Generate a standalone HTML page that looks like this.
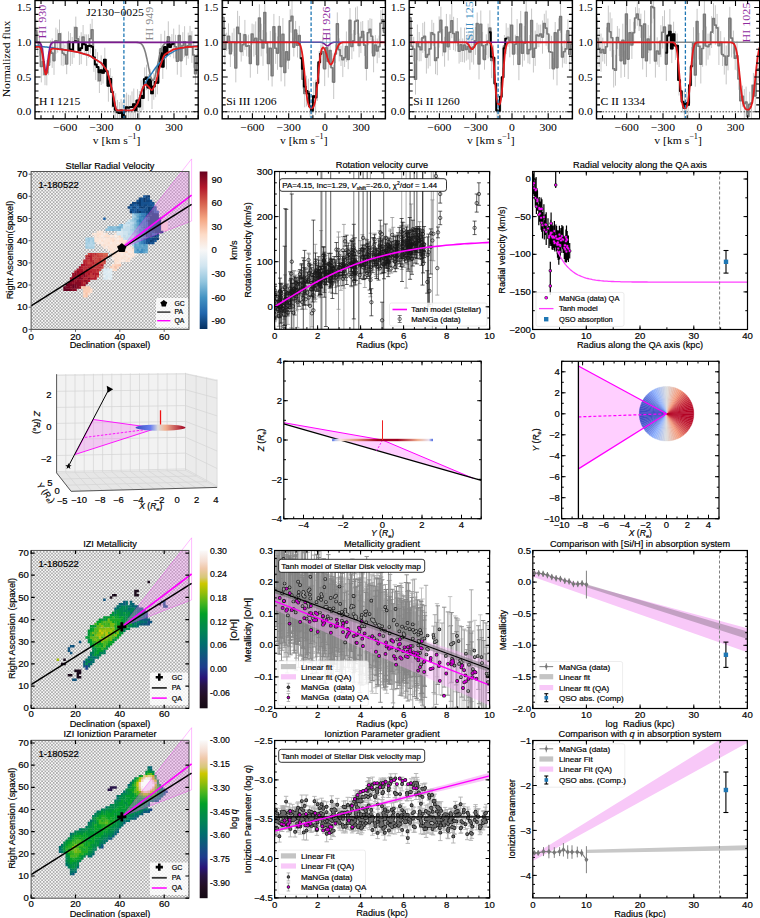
<!DOCTYPE html><html><head><meta charset="utf-8"><style>html,body{margin:0;padding:0;background:#fff;}svg{display:block;}</style></head><body>
<svg width="760" height="918" viewBox="0 0 760 918">
<clipPath id="c1"><rect x="35" y="0.5" width="163.2" height="118.3"/></clipPath>
<g clip-path="url(#c1)">
<path d="M35.9 41.7V19.2M37.7 53.8V31.8M39.5 56.4V35.8M41.3 82.4V50.5M43.2 75.7V47.3M45 85.2V63.7M46.8 85.4V60.2M48.6 75.2V55M50.4 62.7V40.3M52.2 67.9V38.3M54 74.9V46.3M55.9 53.9V27.7M57.7 52.7V29.4M59.5 48V19.5M61.3 65.4V32.6M63.1 66.1V40.5M64.9 65V44.6M66.7 74.2V53.9M68.5 52V31.4M70.4 65.9V33M72.2 64V37M74 57.7V26.5M75.8 38.4V16.6M77.6 50.4V27.3M79.4 65V35.8M81.2 64.2V32.2M83.1 49.2V25M84.9 54.6V34.2M86.7 65.9V34.4M88.5 57.8V34.3M90.3 53.6V23.8M92.1 40.5V18.9M93.9 71.9V42.8M95.7 80.1V48.9M97.6 81.8V52.2M99.4 93V68.5M101.2 85V55.4M103 83.6V62.2M104.8 71.5V47.7M106.6 83.9V58.6M108.4 101.7V70M110.3 89.8V68.2M112.1 107.9V76.2M113.9 121.2V90.6M115.7 126.2V93.2M117.5 124.5V99.9M119.3 124.3V102M121.1 121.8V98.9M122.9 132.8V101.8M124.8 127.7V94.8M126.6 122V92.7M128.4 120.9V94.7M130.2 118.8V95.3M132 122.5V91.4M133.8 120.2V88.5M135.6 120.8V100M137.5 111.7V89.2M139.3 122.1V91M141.1 111.5V80.2M142.9 109.9V86.1M144.7 90.8V67.4M146.5 90.2V64.7M148.3 101.1V74.1M150.1 89.9V69.1M152 109V77.9M153.8 99.8V72.9M155.6 97.2V66.9M157.4 94.3V71.6M159.2 82.4V49.5M161 63.8V33.9M162.8 78.9V54.7M164.7 63.4V30.7M166.5 69.4V40.1M168.3 52.5V21.3M170.1 57.1V37M171.9 54.4V34.1M173.7 58.4V28.6M175.5 58.5V34.8M177.3 74.7V48M179.2 46.4V24.7M181 77.1V44M182.8 58.7V32.2M184.6 57.2V26.2M186.4 65.1V44.6M188.2 58.7V32.6M190 46.2V25.9M191.9 62.9V31.1M193.7 67.8V42.1M195.5 84V63.5M197.3 65.8V45.3" stroke="#c6c6c6" stroke-width="1" fill="none" />
<polyline points="35,30.4 36.8,30.4 36.8,42.8 38.6,42.8 38.6,46.1 40.4,46.1 40.4,66.5 42.3,66.5 42.3,61.5 44.1,61.5 44.1,74.5 45.9,74.5 45.9,72.8 47.7,72.8 47.7,65.1 49.5,65.1 49.5,51.5 51.3,51.5 51.3,53.1 53.1,53.1 53.1,60.6 54.9,60.6 54.9,40.8 56.8,40.8 56.8,41 58.6,41 58.6,33.8 60.4,33.8 60.4,49 62.2,49 62.2,53.3 64,53.3 64,54.8 65.8,54.8 65.8,64 67.6,64 67.6,41.7 69.5,41.7 69.5,49.5 71.3,49.5 71.3,50.5 73.1,50.5 73.1,42.1 74.9,42.1 74.9,27.5 76.7,27.5 76.7,38.9 78.5,38.9 78.5,50.4 80.3,50.4 80.3,48.2 82.1,48.2 82.1,37.1 84,37.1 84,44.4 85.8,44.4 85.8,50.1 87.6,50.1 87.6,46 89.4,46 89.4,38.7 91.2,38.7 91.2,29.7 93,29.7 93,57.4 94.8,57.4 94.8,64.5 96.7,64.5 96.7,67 98.5,67 98.5,80.7 100.3,80.7 100.3,70.2 102.1,70.2 102.1,72.9 103.9,72.9 103.9,59.6 105.7,59.6 105.7,71.2 107.5,71.2 107.5,85.9 109.3,85.9 109.3,79 111.2,79 111.2,92.1 113,92.1 113,105.9 114.8,105.9 114.8,109.7 116.6,109.7 116.6,112.2 118.4,112.2 118.4,113.1 120.2,113.1 120.2,110.4 122,110.4 122,117.3 123.9,117.3 123.9,111.3 125.7,111.3 125.7,107.3 127.5,107.3 127.5,107.8 129.3,107.8 129.3,107.1 131.1,107.1 131.1,107 132.9,107 132.9,104.3 134.7,104.3 134.7,110.4 136.5,110.4 136.5,100.5 138.4,100.5 138.4,106.5 140.2,106.5 140.2,95.8 142,95.8 142,98 143.8,98 143.8,79.1 145.6,79.1 145.6,77.5 147.4,77.5 147.4,87.6 149.2,87.6 149.2,79.5 151.1,79.5 151.1,93.4 152.9,93.4 152.9,86.4 154.7,86.4 154.7,82 156.5,82 156.5,82.9 158.3,82.9 158.3,65.9 160.1,65.9 160.1,48.8 161.9,48.8 161.9,66.8 163.7,66.8 163.7,47 165.6,47 165.6,54.8 167.4,54.8 167.4,36.9 169.2,36.9 169.2,47.1 171,47.1 171,44.2 172.8,44.2 172.8,43.5 174.6,43.5 174.6,46.7 176.4,46.7 176.4,61.3 178.3,61.3 178.3,35.6 180.1,35.6 180.1,60.6 181.9,60.6 181.9,45.5 183.7,45.5 183.7,41.7 185.5,41.7 185.5,54.9 187.3,54.9 187.3,45.7 189.1,45.7 189.1,36.1 190.9,36.1 190.9,47 192.8,47 192.8,55 194.6,55 194.6,73.8 196.4,73.8 196.4,55.5 198.2,55.5" fill="none" stroke="#7a7a7a" stroke-width="1.6" stroke-linejoin="round" stroke-linejoin="miter"/>
<polyline points="67.6,41.7 69.5,41.7 69.5,49.5 71.3,49.5 71.3,50.5 73.1,50.5 73.1,42.1 74.9,42.1 74.9,41.3 76.7,41.3 76.7,41.7 78.5,41.7 78.5,50.4 80.3,50.4 80.3,48.2 82.1,48.2 82.1,43.2 84,43.2 84,44.4 85.8,44.4 85.8,50.1 87.6,50.1 87.6,46 89.4,46 89.4,45.6 91.2,45.6 91.2,46.8 93,46.8 93,57.4 94.8,57.4 94.8,64.5 96.7,64.5 96.7,67 98.5,67 98.5,72.2 100.3,72.2 100.3,70.2 102.1,70.2 102.1,72.9 103.9,72.9 103.9,59.6 105.7,59.6 105.7,71.2 107.5,71.2 107.5,85.8 109.3,85.8 109.3,79 111.2,79 111.2,92.1 113,92.1 113,105.9 114.8,105.9 114.8,109.7 116.6,109.7 116.6,112.2 118.4,112.2 118.4,113.1 120.2,113.1 120.2,110.4 122,110.4 122,117.3 123.9,117.3 123.9,111.3 125.7,111.3 125.7,107.3 127.5,107.3 127.5,107.8 129.3,107.8 129.3,107.1 131.1,107.1 131.1,107 132.9,107 132.9,104.3 134.7,104.3 134.7,110.4 136.5,110.4 136.5,100.5 138.4,100.5 138.4,106.5 140.2,106.5 140.2,95.8 142,95.8 142,98 143.8,98 143.8,79.1 145.6,79.1 145.6,77.5 147.4,77.5 147.4,87.6 149.2,87.6 149.2,79.5 151.1,79.5 151.1,93.4 152.9,93.4 152.9,86.4 154.7,86.4 154.7,82 156.5,82 156.5,82.9 158.3,82.9 158.3,65.9 160.1,65.9 160.1,53.2 161.9,53.2 161.9,66.8 163.7,66.8 163.7,47 165.6,47 165.6,54.8 167.4,54.8 167.4,41.9 169.2,41.9 169.2,47.1 171,47.1 171,44.2 172.8,44.2 172.8,43.5 174.6,43.5" fill="none" stroke="#000" stroke-width="1.9" stroke-linejoin="round" stroke-linejoin="miter"/>
<line x1="35" y1="111.8" x2="198.2" y2="111.8" stroke="#444" stroke-width="1" stroke-dasharray="1.6,1.4"/>
<polyline points="35,42.3 35.5,42.3 36.1,42.3 36.6,42.3 37.2,42.3 37.7,42.3 38.3,42.3 38.8,42.3 39.4,42.3 39.9,42.3 40.5,42.3 41,42.3 41.5,42.3 42.1,42.3 42.6,42.3 43.2,42.3 43.7,42.3 44.3,42.3 44.8,42.3 45.4,42.3 45.9,42.3 46.5,42.3 47,42.3 47.6,42.3 48.1,42.3 48.6,42.3 49.2,42.3 49.7,42.3 50.3,42.3 50.8,42.3 51.4,42.3 51.9,42.3 52.5,42.3 53,42.3 53.6,42.3 54.1,42.3 54.6,42.3 55.2,42.3 55.7,42.3 56.3,42.3 56.8,42.3 57.4,42.3 57.9,42.3 58.5,42.3 59,42.3 59.6,42.3 60.1,42.3 60.7,42.3 61.2,42.3 61.7,42.3 62.3,42.3 62.8,42.3 63.4,42.3 63.9,42.3 64.5,42.3 65,42.3 65.6,42.3 66.1,42.3 66.7,42.3 67.2,42.3 67.7,42.3 68.3,42.3 68.8,42.3 69.4,42.3 69.9,42.3 70.5,42.3 71,42.3 71.6,42.3 72.1,42.3 72.7,42.3 73.2,42.3 73.8,42.3 74.3,42.3 74.8,42.3 75.4,42.3 75.9,42.3 76.5,42.3 77,42.3 77.6,42.3 78.1,42.3 78.7,42.3 79.2,42.3 79.8,42.3 80.3,42.3 80.8,42.3 81.4,42.3 81.9,42.3 82.5,42.3 83,42.3 83.6,42.3 84.1,42.3 84.7,42.3 85.2,42.3 85.8,42.3 86.3,42.3 86.9,42.3 87.4,42.3 87.9,42.3 88.5,42.3 89,42.3 89.6,42.3 90.1,42.3 90.7,42.3 91.2,42.3 91.8,42.3 92.3,42.3 92.9,42.3 93.4,42.3 93.9,42.3 94.5,42.3 95,42.3 95.6,42.3 96.1,42.3 96.7,42.3 97.2,42.3 97.8,42.3 98.3,42.3 98.9,42.3 99.4,42.3 100,42.3 100.5,42.3 101,42.3 101.6,42.3 102.1,42.3 102.7,42.3 103.2,42.3 103.8,42.3 104.3,42.3 104.9,42.3 105.4,42.3 106,42.3 106.5,42.3 107,42.3 107.6,42.3 108.1,42.3 108.7,42.3 109.2,42.3 109.8,42.3 110.3,42.3 110.9,42.3 111.4,42.3 112,42.3 112.5,42.3 113.1,42.3 113.6,42.3 114.1,42.3 114.7,42.3 115.2,42.3 115.8,42.3 116.3,42.3 116.9,42.3 117.4,42.3 118,42.3 118.5,42.3 119.1,42.3 119.6,42.3 120.1,42.3 120.7,42.3 121.2,42.3 121.8,42.3 122.3,42.3 122.9,42.3 123.4,42.3 124,42.3 124.5,42.3 125.1,42.3 125.6,42.3 126.2,42.3 126.7,42.3 127.2,42.3 127.8,42.3 128.3,42.3 128.9,42.3 129.4,42.3 130,42.3 130.5,42.3 131.1,42.3 131.6,42.3 132.2,42.3 132.7,42.3 133.2,42.3 133.8,42.3 134.3,42.3 134.9,42.3 135.4,42.3 136,42.3 136.5,42.3 137.1,42.4 137.6,42.4 138.2,42.5 138.7,42.6 139.3,42.7 139.8,42.9 140.3,43.2 140.9,43.5 141.4,44 142,44.6 142.5,45.3 143.1,46.2 143.6,47.3 144.2,48.6 144.7,50.2 145.3,52 145.8,54 146.3,56.2 146.9,58.7 147.4,61.3 148,64 148.5,66.8 149.1,69.5 149.6,72.1 150.2,74.5 150.7,76.5 151.3,78.3 151.8,79.5 152.4,80.3 152.9,80.5 153.4,80.2 154,79.4 154.5,78.1 155.1,76.3 155.6,74.2 156.2,71.8 156.7,69.2 157.3,66.5 157.8,63.7 158.4,61 158.9,58.4 159.4,56 160,53.7 160.5,51.7 161.1,50 161.6,48.5 162.2,47.2 162.7,46.1 163.3,45.2 163.8,44.5 164.4,43.9 164.9,43.5 165.5,43.2 166,42.9 166.5,42.7 167.1,42.6 167.6,42.5 168.2,42.4 168.7,42.4 169.3,42.3 169.8,42.3 170.4,42.3 170.9,42.3 171.5,42.3 172,42.3 172.5,42.3 173.1,42.3 173.6,42.3 174.2,42.3 174.7,42.3 175.3,42.3 175.8,42.3 176.4,42.3 176.9,42.3 177.5,42.3 178,42.3 178.6,42.3 179.1,42.3 179.6,42.3 180.2,42.3 180.7,42.3 181.3,42.3 181.8,42.3 182.4,42.3 182.9,42.3 183.5,42.3 184,42.3 184.6,42.3 185.1,42.3 185.6,42.3 186.2,42.3 186.7,42.3 187.3,42.3 187.8,42.3 188.4,42.3 188.9,42.3 189.5,42.3 190,42.3 190.6,42.3 191.1,42.3 191.7,42.3 192.2,42.3 192.7,42.3 193.3,42.3 193.8,42.3 194.4,42.3 194.9,42.3 195.5,42.3 196,42.3 196.6,42.3 197.1,42.3 197.7,42.3 198.2,42.3" fill="none" stroke="#808080" stroke-width="1.6" stroke-linejoin="round" />
<polyline points="35,45.8 35.5,45.8 36.1,45.9 36.6,45.9 37.2,46 37.7,46 38.3,46.1 38.8,46.2 39.4,46.2 39.9,46.3 40.5,46.4 41,46.4 41.5,46.5 42.1,46.5 42.6,46.6 43.2,46.7 43.7,46.7 44.3,46.8 44.8,46.9 45.4,46.9 45.9,47 46.5,47.1 47,47.1 47.6,47.2 48.1,47.2 48.6,47.3 49.2,47.4 49.7,47.4 50.3,47.5 50.8,47.6 51.4,47.6 51.9,47.7 52.5,47.7 53,47.8 53.6,47.9 54.1,48 54.6,48.1 55.2,48.2 55.7,48.3 56.3,48.4 56.8,48.5 57.4,48.6 57.9,48.6 58.5,48.7 59,48.8 59.6,48.9 60.1,49 60.7,49.1 61.2,49.2 61.7,49.3 62.3,49.4 62.8,49.5 63.4,49.6 63.9,49.7 64.5,49.8 65,49.9 65.6,50 66.1,50.1 66.7,50.2 67.2,50.2 67.7,50.3 68.3,50.4 68.8,50.5 69.4,50.6 69.9,50.7 70.5,50.8 71,50.9 71.6,51 72.1,51.1 72.7,51.2 73.2,51.3 73.8,51.4 74.3,51.5 74.8,51.6 75.4,51.7 75.9,51.8 76.5,51.9 77,52 77.6,52.1 78.1,52.2 78.7,52.4 79.2,52.5 79.8,52.7 80.3,52.9 80.8,53 81.4,53.2 81.9,53.3 82.5,53.5 83,53.6 83.6,53.8 84.1,54 84.7,54.1 85.2,54.3 85.8,54.4 86.3,54.6 86.9,54.7 87.4,54.9 87.9,55.1 88.5,55.2 89,55.4 89.6,55.7 90.1,56 90.7,56.3 91.2,56.6 91.8,57 92.3,57.3 92.9,57.7 93.4,58 93.9,58.4 94.5,58.7 95,59 95.6,59.4 96.1,59.7 96.7,60.1 97.2,60.4 97.8,60.8 98.3,61.1 98.9,61.5 99.4,61.8 100,62.2 100.5,62.5 101,62.9 101.6,63.4 102.1,64.1 102.7,64.8 103.2,65.5 103.8,66.3 104.3,67 104.9,67.8 105.4,68.5 106,69.3 106.5,70.1 107,71.1 107.6,72.5 108.1,74.2 108.7,76.3 109.2,78.5 109.8,80.8 110.3,83 110.9,85.3 111.4,87.6 112,89.8 112.5,92.1 113.1,94.5 113.6,97.1 114.1,99.9 114.7,102.9 115.2,105.8 115.8,108.1 116.3,109.6 116.9,110.2 117.4,110.4 118,110.4 118.5,110.4 119.1,110.4 119.6,110.4 120.1,110.4 120.7,110.4 121.2,110.4 121.8,110.4 122.3,110.4 122.9,110.4 123.4,110.4 124,110.4 124.5,110.4 125.1,110.4 125.6,110.4 126.2,110.4 126.7,110.4 127.2,110.4 127.8,110.4 128.3,110.4 128.9,110.4 129.4,110.4 130,110.4 130.5,110.4 131.1,110.4 131.6,110.4 132.2,110.4 132.7,110.2 133.2,109.8 133.8,109.1 134.3,108.4 134.9,107.6 135.4,106.8 136,106.1 136.5,105.2 137.1,104.4 137.6,103.3 138.2,102 138.7,100.4 139.3,98.7 139.8,97 140.3,95.3 140.9,93.6 141.4,91.9 142,90.2 142.5,88.7 143.1,87.4 143.6,86.3 144.2,85.2 144.7,84.2 145.3,83.2 145.8,82.2 146.3,81.2 146.9,80.2 147.4,79.3 148,78.4 148.5,77.6 149.1,76.9 149.6,76.1 150.2,75.4 150.7,74.7 151.3,73.9 151.8,73.2 152.4,72.4 152.9,71.6 153.4,70.8 154,70 154.5,69.3 155.1,68.5 155.6,67.7 156.2,67 156.7,66.4 157.3,65.7 157.8,65.1 158.4,64.5 158.9,63.8 159.4,63.2 160,62.6 160.5,62 161.1,61.3 161.6,60.7 162.2,60.2 162.7,59.7 163.3,59.2 163.8,58.7 164.4,58.3 164.9,57.8 165.5,57.3 166,56.8 166.5,56.4 167.1,55.9 167.6,55.4 168.2,55 168.7,54.5 169.3,54.1 169.8,53.7 170.4,53.4 170.9,53.1 171.5,52.8 172,52.5 172.5,52.1 173.1,51.8 173.6,51.5 174.2,51.2 174.7,50.9 175.3,50.6 175.8,50.3 176.4,50 176.9,49.8 177.5,49.6 178,49.5 178.6,49.3 179.1,49.1 179.6,49 180.2,48.8 180.7,48.7 181.3,48.5 181.8,48.4 182.4,48.2 182.9,48 183.5,47.9 184,47.7 184.6,47.6 185.1,47.4 185.6,47.3 186.2,47.2 186.7,47.1 187.3,47 187.8,46.9 188.4,46.9 188.9,46.8 189.5,46.7 190,46.7 190.6,46.6 191.1,46.5 191.7,46.5 192.2,46.4 192.7,46.4 193.3,46.3 193.8,46.2 194.4,46.2 194.9,46.1 195.5,46 196,46 196.6,45.9 197.1,45.9 197.7,45.8 198.2,45.8" fill="none" stroke="#2a7ab8" stroke-width="1.5" stroke-linejoin="round" />
<polyline points="35,42.3 35.5,42.3 36.1,42.3 36.6,42.3 37.2,42.3 37.7,42.3 38.3,42.3 38.8,42.4 39.4,42.6 39.9,42.9 40.5,43.6 41,44.6 41.5,46.3 42.1,48.7 42.6,51.9 43.2,55.8 43.7,60.2 44.3,64.5 44.8,68.2 45.4,70.7 45.9,71.5 46.5,70.5 47,67.8 47.6,64 48.1,59.6 48.6,55.3 49.2,51.4 49.7,48.3 50.3,46 50.8,44.5 51.4,43.5 51.9,42.9 52.5,42.6 53,42.4 53.6,42.3 54.1,42.3 54.6,42.3 55.2,42.3 55.7,42.3 56.3,42.3 56.8,42.3 57.4,42.3 57.9,42.3 58.5,42.3 59,42.3 59.6,42.3 60.1,42.3 60.7,42.3 61.2,42.3 61.7,42.3 62.3,42.3 62.8,42.3 63.4,42.3 63.9,42.3 64.5,42.3 65,42.3 65.6,42.3 66.1,42.3 66.7,42.3 67.2,42.3 67.7,42.3 68.3,42.3 68.8,42.3 69.4,42.3 69.9,42.3 70.5,42.3 71,42.3 71.6,42.3 72.1,42.3 72.7,42.3 73.2,42.3 73.8,42.3 74.3,42.3 74.8,42.3 75.4,42.3 75.9,42.3 76.5,42.3 77,42.3 77.6,42.3 78.1,42.3 78.7,42.3 79.2,42.3 79.8,42.3 80.3,42.3 80.8,42.3 81.4,42.3 81.9,42.3 82.5,42.3 83,42.3 83.6,42.3 84.1,42.3 84.7,42.3 85.2,42.3 85.8,42.3 86.3,42.3 86.9,42.3 87.4,42.3 87.9,42.3 88.5,42.3 89,42.3 89.6,42.3 90.1,42.3 90.7,42.3 91.2,42.3 91.8,42.3 92.3,42.3 92.9,42.3 93.4,42.3 93.9,42.3 94.5,42.3 95,42.3 95.6,42.3 96.1,42.3 96.7,42.3 97.2,42.3 97.8,42.3 98.3,42.3 98.9,42.3 99.4,42.3 100,42.3 100.5,42.3 101,42.3 101.6,42.3 102.1,42.3 102.7,42.3 103.2,42.3 103.8,42.3 104.3,42.3 104.9,42.3 105.4,42.3 106,42.3 106.5,42.3 107,42.3 107.6,42.3 108.1,42.3 108.7,42.3 109.2,42.3 109.8,42.3 110.3,42.3 110.9,42.3 111.4,42.3 112,42.3 112.5,42.3 113.1,42.3 113.6,42.3 114.1,42.3 114.7,42.3 115.2,42.3 115.8,42.3 116.3,42.3 116.9,42.3 117.4,42.3 118,42.3 118.5,42.3 119.1,42.3 119.6,42.3 120.1,42.3 120.7,42.3 121.2,42.3 121.8,42.3 122.3,42.3 122.9,42.3 123.4,42.3 124,42.3 124.5,42.3 125.1,42.3 125.6,42.3 126.2,42.3 126.7,42.3 127.2,42.3 127.8,42.3 128.3,42.3 128.9,42.3 129.4,42.3 130,42.3 130.5,42.3 131.1,42.3 131.6,42.3 132.2,42.3 132.7,42.3 133.2,42.3 133.8,42.3 134.3,42.3 134.9,42.3 135.4,42.3 136,42.3 136.5,42.3 137.1,42.3 137.6,42.3 138.2,42.3 138.7,42.3 139.3,42.3 139.8,42.3 140.3,42.3 140.9,42.3 141.4,42.3 142,42.3 142.5,42.3 143.1,42.3 143.6,42.3 144.2,42.3 144.7,42.3 145.3,42.3 145.8,42.3 146.3,42.3 146.9,42.3 147.4,42.3 148,42.3 148.5,42.3 149.1,42.3 149.6,42.3 150.2,42.3 150.7,42.3 151.3,42.3 151.8,42.3 152.4,42.3 152.9,42.3 153.4,42.3 154,42.3 154.5,42.3 155.1,42.3 155.6,42.3 156.2,42.3 156.7,42.3 157.3,42.3 157.8,42.3 158.4,42.3 158.9,42.3 159.4,42.3 160,42.3 160.5,42.3 161.1,42.3 161.6,42.3 162.2,42.3 162.7,42.3 163.3,42.3 163.8,42.3 164.4,42.3 164.9,42.3 165.5,42.3 166,42.3 166.5,42.3 167.1,42.3 167.6,42.3 168.2,42.3 168.7,42.3 169.3,42.3 169.8,42.3 170.4,42.3 170.9,42.3 171.5,42.3 172,42.3 172.5,42.3 173.1,42.3 173.6,42.3 174.2,42.3 174.7,42.3 175.3,42.3 175.8,42.3 176.4,42.3 176.9,42.3 177.5,42.3 178,42.3 178.6,42.3 179.1,42.3 179.6,42.3 180.2,42.3 180.7,42.3 181.3,42.3 181.8,42.3 182.4,42.3 182.9,42.3 183.5,42.3 184,42.3 184.6,42.3 185.1,42.3 185.6,42.3 186.2,42.3 186.7,42.3 187.3,42.3 187.8,42.3 188.4,42.3 188.9,42.3 189.5,42.3 190,42.3 190.6,42.3 191.1,42.3 191.7,42.3 192.2,42.3 192.7,42.3 193.3,42.3 193.8,42.3 194.4,42.3 194.9,42.3 195.5,42.3 196,42.3 196.6,42.3 197.1,42.3 197.7,42.3 198.2,42.3" fill="none" stroke="#7b1b8f" stroke-width="1.8" stroke-linejoin="round" />
<polyline points="35,47.1 35.5,47.1 36.1,47 36.6,46.9 37.2,46.9 37.7,46.8 38.3,46.8 38.8,46.8 39.4,46.9 39.9,47.2 40.5,47.8 41,48.7 41.5,50.3 42.1,52.7 42.6,55.7 43.2,59.5 43.7,63.7 44.3,67.8 44.8,71.3 45.4,73.6 45.9,74.4 46.5,73.5 47,71.1 47.6,67.6 48.1,63.7 48.6,59.7 49.2,56.3 49.7,53.5 50.3,51.5 50.8,50.1 51.4,49.3 51.9,48.9 52.5,48.7 53,48.6 53.6,48.6 54.1,48.6 54.6,48.7 55.2,48.8 55.7,48.8 56.3,48.9 56.8,48.9 57.4,49 57.9,49.1 58.5,49.1 59,49.2 59.6,49.3 60.1,49.3 60.7,49.4 61.2,49.4 61.7,49.5 62.3,49.6 62.8,49.6 63.4,49.7 63.9,49.8 64.5,49.8 65,49.9 65.6,50 66.1,50.1 66.7,50.2 67.2,50.2 67.7,50.3 68.3,50.4 68.8,50.5 69.4,50.6 69.9,50.7 70.5,50.8 71,50.9 71.6,51 72.1,51.1 72.7,51.2 73.2,51.3 73.8,51.4 74.3,51.5 74.8,51.6 75.4,51.7 75.9,51.8 76.5,51.9 77,52 77.6,52.1 78.1,52.2 78.7,52.4 79.2,52.5 79.8,52.7 80.3,52.9 80.8,53 81.4,53.2 81.9,53.3 82.5,53.5 83,53.6 83.6,53.8 84.1,54 84.7,54.1 85.2,54.3 85.8,54.4 86.3,54.6 86.9,54.7 87.4,54.9 87.9,55.1 88.5,55.2 89,55.4 89.6,55.7 90.1,56 90.7,56.3 91.2,56.6 91.8,57 92.3,57.3 92.9,57.7 93.4,58 93.9,58.4 94.5,58.7 95,59 95.6,59.4 96.1,59.7 96.7,60.1 97.2,60.4 97.8,60.8 98.3,61.1 98.9,61.5 99.4,61.8 100,62.2 100.5,62.5 101,62.9 101.6,63.4 102.1,64.1 102.7,64.8 103.2,65.5 103.8,66.3 104.3,67 104.9,67.8 105.4,68.5 106,69.3 106.5,70.1 107,71.1 107.6,72.5 108.1,74.2 108.7,76.3 109.2,78.5 109.8,80.8 110.3,83 110.9,85.3 111.4,87.6 112,89.8 112.5,92.1 113.1,94.5 113.6,97.1 114.1,99.9 114.7,102.9 115.2,105.8 115.8,108.1 116.3,109.6 116.9,110.2 117.4,110.4 118,110.4 118.5,110.4 119.1,110.4 119.6,110.4 120.1,110.4 120.7,110.4 121.2,110.4 121.8,110.4 122.3,110.4 122.9,110.4 123.4,110.4 124,110.4 124.5,110.4 125.1,110.4 125.6,110.4 126.2,110.4 126.7,110.4 127.2,110.4 127.8,110.4 128.3,110.4 128.9,110.4 129.4,110.4 130,110.4 130.5,110.4 131.1,110.4 131.6,110.4 132.2,110.4 132.7,110.2 133.2,109.8 133.8,109.1 134.3,108.4 134.9,107.6 135.4,106.8 136,106.1 136.5,105.2 137.1,104.4 137.6,103.3 138.2,102 138.7,100.4 139.3,98.7 139.8,97 140.3,95.3 140.9,93.6 141.4,91.9 142,90.2 142.5,88.8 143.1,87.5 143.6,86.5 144.2,85.6 144.7,84.9 145.3,84.6 145.8,84.6 146.3,84.8 146.9,85.1 147.4,85.6 148,86.1 148.5,86.7 149.1,87.4 149.6,88.1 150.2,88.7 150.7,89.4 151.3,89.9 151.8,90 152.4,89.7 152.9,88.9 153.4,87.9 154,86.7 154.5,85.5 155.1,84.3 155.6,82.8 156.2,81 156.7,78.9 157.3,76.7 157.8,74.4 158.4,72.1 158.9,70.1 159.4,68.3 160,66.6 160.5,65.1 161.1,63.5 161.6,61.9 162.2,60.3 162.7,58.8 163.3,57.3 163.8,56 164.4,55.1 164.9,54.4 165.5,54 166,53.7 166.5,53.4 167.1,53.1 167.6,52.7 168.2,52.4 168.7,52.1 169.3,51.8 169.8,51.5 170.4,51.2 170.9,50.9 171.5,50.6 172,50.2 172.5,49.9 173.1,49.6 173.6,49.4 174.2,49.2 174.7,49.1 175.3,49 175.8,48.9 176.4,48.8 176.9,48.7 177.5,48.6 178,48.5 178.6,48.4 179.1,48.3 179.6,48.2 180.2,48.1 180.7,48 181.3,47.9 181.8,47.8 182.4,47.8 182.9,47.7 183.5,47.6 184,47.5 184.6,47.4 185.1,47.3 185.6,47.2 186.2,47.1 186.7,47.1 187.3,47.1 187.8,47 188.4,47 188.9,47 189.5,46.9 190,46.9 190.6,46.9 191.1,46.8 191.7,46.8 192.2,46.8 192.7,46.7 193.3,46.7 193.8,46.7 194.4,46.6 194.9,46.6 195.5,46.6 196,46.6 196.6,46.5 197.1,46.5 197.7,46.5 198.2,46.4" fill="none" stroke="#e31a1c" stroke-width="1.8" stroke-linejoin="round" />
<line x1="123.9" y1="0.5" x2="123.9" y2="118.8" stroke="#1f77b4" stroke-width="1.3" stroke-dasharray="3.5,2"/>
<text transform="translate(45.5,38.5) rotate(-90) scale(1.1,1)" font-family="'Liberation Serif', serif" font-size="11" text-anchor="start" fill="#8e2a9e" >HI 930</text>
<text transform="translate(153.1,40.5) rotate(-90) scale(1.1,1)" font-family="'Liberation Serif', serif" font-size="11" text-anchor="start" fill="#8a8a8a" >HI 949</text>
</g>
<rect x="35" y="0.5" width="163.2" height="118.3" fill="none" stroke="#000" stroke-width="1.4"/>
<path d="M65.2 118.8V113.3M65.2 0.5V6M101.5 118.8V113.3M101.5 0.5V6M137.8 118.8V113.3M137.8 0.5V6M174 118.8V113.3M174 0.5V6M41 118.8V115.3M41 0.5V4M53.1 118.8V115.3M53.1 0.5V4M65.2 118.8V115.3M65.2 0.5V4M77.3 118.8V115.3M77.3 0.5V4M89.4 118.8V115.3M89.4 0.5V4M101.5 118.8V115.3M101.5 0.5V4M113.6 118.8V115.3M113.6 0.5V4M125.7 118.8V115.3M125.7 0.5V4M137.8 118.8V115.3M137.8 0.5V4M149.8 118.8V115.3M149.8 0.5V4M161.9 118.8V115.3M161.9 0.5V4M174 118.8V115.3M174 0.5V4M186.1 118.8V115.3M186.1 0.5V4M198.2 118.8V115.3M198.2 0.5V4M35 111.8H40.5M198.2 111.8H192.7M35 77H40.5M198.2 77H192.7M35 42.3H40.5M198.2 42.3H192.7M35 7.5H40.5M198.2 7.5H192.7M35 111.8H38.5M198.2 111.8H194.7M35 104.9H38.5M198.2 104.9H194.7M35 97.9H38.5M198.2 97.9H194.7M35 91H38.5M198.2 91H194.7M35 84H38.5M198.2 84H194.7M35 77H38.5M198.2 77H194.7M35 70.1H38.5M198.2 70.1H194.7M35 63.1H38.5M198.2 63.1H194.7M35 56.2H38.5M198.2 56.2H194.7M35 49.2H38.5M198.2 49.2H194.7M35 42.3H38.5M198.2 42.3H194.7M35 35.3H38.5M198.2 35.3H194.7M35 28.3H38.5M198.2 28.3H194.7M35 21.4H38.5M198.2 21.4H194.7M35 14.4H38.5M198.2 14.4H194.7M35 7.5H38.5M198.2 7.5H194.7M35 0.5H38.5M198.2 0.5H194.7" stroke="#000" stroke-width="1.1" fill="none" />
<text transform="translate(65.2,130.8) scale(1.1,1)" font-family="'Liberation Serif', serif" font-size="10.6" text-anchor="middle" fill="#000" >−600</text>
<text transform="translate(101.5,130.8) scale(1.1,1)" font-family="'Liberation Serif', serif" font-size="10.6" text-anchor="middle" fill="#000" >−300</text>
<text transform="translate(137.8,130.8) scale(1.1,1)" font-family="'Liberation Serif', serif" font-size="10.6" text-anchor="middle" fill="#000" >0</text>
<text transform="translate(174,130.8) scale(1.1,1)" font-family="'Liberation Serif', serif" font-size="10.6" text-anchor="middle" fill="#000" >300</text>
<text transform="translate(31.2,115.4) scale(1.1,1)" font-family="'Liberation Serif', serif" font-size="10.6" text-anchor="end" fill="#000" >0.0</text>
<text transform="translate(31.2,80.6) scale(1.1,1)" font-family="'Liberation Serif', serif" font-size="10.6" text-anchor="end" fill="#000" >0.5</text>
<text transform="translate(31.2,45.9) scale(1.1,1)" font-family="'Liberation Serif', serif" font-size="10.6" text-anchor="end" fill="#000" >1.0</text>
<text transform="translate(31.2,11.1) scale(1.1,1)" font-family="'Liberation Serif', serif" font-size="10.6" text-anchor="end" fill="#000" >1.5</text>
<text transform="translate(116.6,143.5) scale(1.1,1)" font-family="'Liberation Serif', serif" font-size="10.6" text-anchor="middle" fill="#000" >v [km s<tspan dy="-4.5" font-size="7.5">−1</tspan><tspan dy="4.5">]</tspan></text>
<text transform="translate(39,104.5) scale(1.1,1)" font-family="'Liberation Serif', serif" font-size="10.6" text-anchor="start" fill="#000" >H I 1215</text>
<text transform="translate(115,15.5) scale(1.1,1)" font-family="'Liberation Serif', serif" font-size="10.6" text-anchor="middle" fill="#000" >J2130−0025</text>
<text transform="translate(9.8,59) rotate(-90) scale(1.1,1)" font-family="'Liberation Serif', serif" font-size="10.6" text-anchor="middle" fill="#000" >Normalized flux</text>
<clipPath id="c2"><rect x="222.2" y="0.5" width="163.2" height="118.3"/></clipPath>
<g clip-path="url(#c2)">
<path d="M223.1 34V1.1M224.9 65V33.1M226.7 50.9V32.7M228.5 49.1V23.4M230.4 67V40.5M232.2 51.8V32.7M234 56.2V28.3M235.8 82.4V53.4M237.6 43.9V10.8M239.4 51V15.9M241.2 61.6V41.2M243.1 55.9V33.6M244.9 49.9V19.9M246.7 56.3V35.8M248.5 56.9V34.7M250.3 77.7V49.2M252.1 44.7V23.6M253.9 56.6V24.3M255.7 55V21.4M257.6 73.9V55.2M259.4 32V4.3M261.2 56.3V23.7M263 65.8V30M264.8 24.1V1.1M266.6 53.5V32.3M268.4 80.4V46.5M270.3 65.4V30.9M272.1 86.5V64.9M273.9 40V13.9M275.7 63.9V32.8M277.5 69.8V36.4M279.3 37.1V16M281.1 81.4V51.3M282.9 50.8V18.1M284.8 86.4V58.4M286.6 62.5V41.4M288.4 69.2V50.5M290.2 32.5V9.3M292 32.8V0.1M293.8 56.5V37.6M295.6 39.1V20.9M297.5 57.5V32.9M299.3 45.2V25.9M301.1 68.7V47.9M302.9 88.6V70.1M304.7 107.3V79.7M306.5 106.4V75.7M308.3 104.5V78.7M310.1 116.7V96.2M312 122.9V98.8M313.8 110.5V81.7M315.6 114.9V79.8M317.4 100.9V64.9M319.2 73.5V51M321 62.9V44.6M322.8 68.4V35.2M324.7 86.1V51.3M326.5 61.1V34.7M328.3 77.6V45.5M330.1 67.5V33.7M331.9 82.4V53.2M333.7 99V65.1M335.5 63.2V44.7M337.3 35.4V12.4M339.2 61.4V38.3M341 66V45.7M342.8 77.1V42.6M344.6 67V48.3M346.4 61.8V31.5M348.2 69.2V49.8M350 32.7V8.1M351.9 59.2V33.6M353.7 51.4V30M355.5 35V7.5M357.3 34.2V6.4M359.1 57.3V33.4M360.9 53.1V21.7M362.7 42V21M364.5 55.9V34.3M366.4 80.5V56M368.2 45.2V20.2M370 40.1V18.3M371.8 53.5V18.8M373.6 72.3V39.2M375.4 55.1V35.1M377.2 63.3V38.5M379.1 57.8V35.5M380.9 36.4V10.2M382.7 31.4V8.4M384.5 46.1V18.9" stroke="#c6c6c6" stroke-width="1" fill="none" />
<polyline points="222.2,17.5 224,17.5 224,49.1 225.8,49.1 225.8,41.8 227.6,41.8 227.6,36.3 229.5,36.3 229.5,53.8 231.3,53.8 231.3,42.2 233.1,42.2 233.1,42.3 234.9,42.3 234.9,67.9 236.7,67.9 236.7,27.4 238.5,27.4 238.5,33.5 240.3,33.5 240.3,51.4 242.1,51.4 242.1,44.8 244,44.8 244,34.9 245.8,34.9 245.8,46.1 247.6,46.1 247.6,45.8 249.4,45.8 249.4,63.5 251.2,63.5 251.2,34.1 253,34.1 253,40.4 254.8,40.4 254.8,38.2 256.7,38.2 256.7,64.6 258.5,64.6 258.5,18.1 260.3,18.1 260.3,40 262.1,40 262.1,47.9 263.9,47.9 263.9,12.6 265.7,12.6 265.7,42.9 267.5,42.9 267.5,63.5 269.3,63.5 269.3,48.2 271.2,48.2 271.2,75.7 273,75.7 273,26.9 274.8,26.9 274.8,48.3 276.6,48.3 276.6,53.1 278.4,53.1 278.4,26.6 280.2,26.6 280.2,66.4 282,66.4 282,34.4 283.9,34.4 283.9,72.4 285.7,72.4 285.7,51.9 287.5,51.9 287.5,59.9 289.3,59.9 289.3,20.9 291.1,20.9 291.1,16.4 292.9,16.4 292.9,47.1 294.7,47.1 294.7,30 296.5,30 296.5,45.2 298.4,45.2 298.4,35.6 300.2,35.6 300.2,58.3 302,58.3 302,79.3 303.8,79.3 303.8,93.5 305.6,93.5 305.6,91 307.4,91 307.4,91.6 309.2,91.6 309.2,106.4 311.1,106.4 311.1,110.8 312.9,110.8 312.9,96.1 314.7,96.1 314.7,97.4 316.5,97.4 316.5,82.9 318.3,82.9 318.3,62.2 320.1,62.2 320.1,53.7 321.9,53.7 321.9,51.8 323.7,51.8 323.7,68.7 325.6,68.7 325.6,47.9 327.4,47.9 327.4,61.5 329.2,61.5 329.2,50.6 331,50.6 331,67.8 332.8,67.8 332.8,82.1 334.6,82.1 334.6,54 336.4,54 336.4,23.9 338.3,23.9 338.3,49.8 340.1,49.8 340.1,55.8 341.9,55.8 341.9,59.8 343.7,59.8 343.7,57.6 345.5,57.6 345.5,46.6 347.3,46.6 347.3,59.5 349.1,59.5 349.1,20.4 350.9,20.4 350.9,46.4 352.8,46.4 352.8,40.7 354.6,40.7 354.6,21.2 356.4,21.2 356.4,20.3 358.2,20.3 358.2,45.4 360,45.4 360,37.4 361.8,37.4 361.8,31.5 363.6,31.5 363.6,45.1 365.5,45.1 365.5,68.2 367.3,68.2 367.3,32.7 369.1,32.7 369.1,29.2 370.9,29.2 370.9,36.2 372.7,36.2 372.7,55.7 374.5,55.7 374.5,45.1 376.3,45.1 376.3,50.9 378.1,50.9 378.1,46.6 380,46.6 380,23.3 381.8,23.3 381.8,19.9 383.6,19.9 383.6,32.5 385.4,32.5" fill="none" stroke="#7a7a7a" stroke-width="1.6" stroke-linejoin="round" stroke-linejoin="miter"/>
<polyline points="300.2,58.3 302,58.3 302,68.9 303.8,68.9 303.8,86.6 305.6,86.6 305.6,91 307.4,91 307.4,93.6 309.2,93.6 309.2,106.4 311.1,106.4 311.1,110.8 312.9,110.8 312.9,96.1 314.7,96.1 314.7,97.4 316.5,97.4 316.5,82.9 318.3,82.9 318.3,62.2 320.1,62.2 320.1,53.7 321.9,53.7" fill="none" stroke="#000" stroke-width="1.9" stroke-linejoin="round" stroke-linejoin="miter"/>
<line x1="222.2" y1="111.8" x2="385.4" y2="111.8" stroke="#444" stroke-width="1" stroke-dasharray="1.6,1.4"/>
<polyline points="222.2,42.3 222.7,42.3 223.3,42.3 223.8,42.3 224.4,42.3 224.9,42.3 225.5,42.3 226,42.3 226.6,42.3 227.1,42.3 227.7,42.3 228.2,42.3 228.7,42.3 229.3,42.3 229.8,42.3 230.4,42.3 230.9,42.3 231.5,42.3 232,42.3 232.6,42.3 233.1,42.3 233.7,42.3 234.2,42.3 234.8,42.3 235.3,42.3 235.8,42.3 236.4,42.3 236.9,42.3 237.5,42.3 238,42.3 238.6,42.3 239.1,42.3 239.7,42.3 240.2,42.3 240.8,42.3 241.3,42.3 241.8,42.3 242.4,42.3 242.9,42.3 243.5,42.3 244,42.3 244.6,42.3 245.1,42.3 245.7,42.3 246.2,42.3 246.8,42.3 247.3,42.3 247.9,42.3 248.4,42.3 248.9,42.3 249.5,42.3 250,42.3 250.6,42.3 251.1,42.3 251.7,42.3 252.2,42.3 252.8,42.3 253.3,42.3 253.9,42.3 254.4,42.3 254.9,42.3 255.5,42.3 256,42.3 256.6,42.3 257.1,42.3 257.7,42.3 258.2,42.3 258.8,42.3 259.3,42.3 259.9,42.3 260.4,42.3 261,42.3 261.5,42.3 262,42.3 262.6,42.3 263.1,42.3 263.7,42.3 264.2,42.3 264.8,42.3 265.3,42.3 265.9,42.3 266.4,42.3 267,42.3 267.5,42.3 268,42.3 268.6,42.3 269.1,42.3 269.7,42.3 270.2,42.3 270.8,42.3 271.3,42.3 271.9,42.3 272.4,42.3 273,42.3 273.5,42.3 274.1,42.3 274.6,42.3 275.1,42.3 275.7,42.3 276.2,42.3 276.8,42.3 277.3,42.3 277.9,42.3 278.4,42.3 279,42.3 279.5,42.3 280.1,42.3 280.6,42.3 281.1,42.3 281.7,42.3 282.2,42.3 282.8,42.3 283.3,42.3 283.9,42.3 284.4,42.3 285,42.3 285.5,42.3 286.1,42.3 286.6,42.3 287.2,42.3 287.7,42.3 288.2,42.3 288.8,42.3 289.3,42.3 289.9,42.3 290.4,42.3 291,42.3 291.5,42.3 292.1,42.3 292.6,42.3 293.2,42.3 293.7,42.3 294.2,42.3 294.8,42.3 295.3,42.3 295.9,42.3 296.4,42.3 297,42.3 297.5,42.3 298.1,42.3 298.6,42.3 299.2,42.3 299.7,42.3 300.3,42.3 300.8,42.3 301.3,42.3 301.9,42.3 302.4,42.3 303,42.3 303.5,42.3 304.1,42.3 304.6,42.3 305.2,42.3 305.7,42.3 306.3,42.3 306.8,42.3 307.3,42.3 307.9,42.3 308.4,42.3 309,42.3 309.5,42.3 310.1,42.3 310.6,42.3 311.2,42.3 311.7,42.3 312.3,42.3 312.8,42.3 313.4,42.3 313.9,42.3 314.4,42.3 315,42.3 315.5,42.3 316.1,42.3 316.6,42.3 317.2,42.3 317.7,42.3 318.3,42.3 318.8,42.3 319.4,42.3 319.9,42.3 320.4,42.3 321,42.4 321.5,42.4 322.1,42.6 322.6,42.8 323.2,43 323.7,43.4 324.3,43.8 324.8,44.2 325.4,44.7 325.9,45.1 326.5,45.5 327,45.7 327.5,45.7 328.1,45.6 328.6,45.3 329.2,44.9 329.7,44.4 330.3,43.9 330.8,43.5 331.4,43.1 331.9,42.9 332.5,42.6 333,42.5 333.5,42.4 334.1,42.3 334.6,42.3 335.2,42.3 335.7,42.3 336.3,42.3 336.8,42.3 337.4,42.3 337.9,42.3 338.5,42.3 339,42.3 339.6,42.3 340.1,42.3 340.6,42.3 341.2,42.3 341.7,42.3 342.3,42.3 342.8,42.3 343.4,42.3 343.9,42.3 344.5,42.3 345,42.3 345.6,42.3 346.1,42.3 346.6,42.3 347.2,42.3 347.7,42.3 348.3,42.3 348.8,42.3 349.4,42.3 349.9,42.3 350.5,42.3 351,42.3 351.6,42.3 352.1,42.3 352.7,42.3 353.2,42.3 353.7,42.3 354.3,42.3 354.8,42.3 355.4,42.3 355.9,42.3 356.5,42.3 357,42.3 357.6,42.3 358.1,42.3 358.7,42.3 359.2,42.3 359.7,42.3 360.3,42.3 360.8,42.3 361.4,42.3 361.9,42.3 362.5,42.3 363,42.3 363.6,42.3 364.1,42.3 364.7,42.3 365.2,42.3 365.8,42.3 366.3,42.3 366.8,42.3 367.4,42.3 367.9,42.3 368.5,42.3 369,42.3 369.6,42.3 370.1,42.3 370.7,42.3 371.2,42.3 371.8,42.3 372.3,42.3 372.8,42.3 373.4,42.3 373.9,42.3 374.5,42.3 375,42.3 375.6,42.3 376.1,42.3 376.7,42.3 377.2,42.3 377.8,42.3 378.3,42.3 378.9,42.3 379.4,42.3 379.9,42.3 380.5,42.3 381,42.3 381.6,42.3 382.1,42.3 382.7,42.3 383.2,42.3 383.8,42.3 384.3,42.3 384.9,42.3 385.4,42.3" fill="none" stroke="#7b1b8f" stroke-width="1.6" stroke-linejoin="round" />
<polyline points="222.2,42.3 222.7,42.3 223.3,42.3 223.8,42.3 224.4,42.3 224.9,42.3 225.5,42.3 226,42.3 226.6,42.3 227.1,42.3 227.7,42.3 228.2,42.3 228.7,42.3 229.3,42.3 229.8,42.3 230.4,42.3 230.9,42.3 231.5,42.3 232,42.3 232.6,42.3 233.1,42.3 233.7,42.3 234.2,42.3 234.8,42.3 235.3,42.3 235.8,42.3 236.4,42.3 236.9,42.3 237.5,42.3 238,42.3 238.6,42.3 239.1,42.3 239.7,42.3 240.2,42.3 240.8,42.3 241.3,42.3 241.8,42.3 242.4,42.3 242.9,42.3 243.5,42.3 244,42.3 244.6,42.3 245.1,42.3 245.7,42.3 246.2,42.3 246.8,42.3 247.3,42.3 247.9,42.3 248.4,42.3 248.9,42.3 249.5,42.3 250,42.3 250.6,42.3 251.1,42.3 251.7,42.3 252.2,42.3 252.8,42.3 253.3,42.3 253.9,42.3 254.4,42.3 254.9,42.3 255.5,42.3 256,42.3 256.6,42.3 257.1,42.3 257.7,42.3 258.2,42.3 258.8,42.3 259.3,42.3 259.9,42.3 260.4,42.3 261,42.3 261.5,42.3 262,42.3 262.6,42.3 263.1,42.3 263.7,42.3 264.2,42.3 264.8,42.3 265.3,42.3 265.9,42.3 266.4,42.3 267,42.3 267.5,42.3 268,42.3 268.6,42.3 269.1,42.3 269.7,42.3 270.2,42.3 270.8,42.3 271.3,42.3 271.9,42.3 272.4,42.3 273,42.3 273.5,42.3 274.1,42.3 274.6,42.3 275.1,42.3 275.7,42.3 276.2,42.3 276.8,42.3 277.3,42.3 277.9,42.3 278.4,42.3 279,42.3 279.5,42.3 280.1,42.3 280.6,42.3 281.1,42.3 281.7,42.3 282.2,42.3 282.8,42.3 283.3,42.3 283.9,42.3 284.4,42.3 285,42.3 285.5,42.3 286.1,42.3 286.6,42.3 287.2,42.3 287.7,42.3 288.2,42.3 288.8,42.3 289.3,42.3 289.9,42.3 290.4,42.3 291,42.3 291.5,42.3 292.1,42.3 292.6,42.3 293.2,42.3 293.7,42.3 294.2,42.3 294.8,42.3 295.3,42.3 295.9,42.3 296.4,42.3 297,42.3 297.5,42.3 298.1,42.3 298.6,42.3 299.2,42.3 299.7,42.3 300.3,42.3 300.8,42.3 301.3,42.3 301.9,42.3 302.4,42.3 303,42.3 303.5,42.3 304.1,42.3 304.6,42.3 305.2,42.3 305.7,42.3 306.3,42.3 306.8,42.3 307.3,42.3 307.9,42.3 308.4,42.3 309,42.3 309.5,42.3 310.1,42.3 310.6,42.3 311.2,42.3 311.7,42.3 312.3,42.3 312.8,42.3 313.4,42.3 313.9,42.3 314.4,42.3 315,42.3 315.5,42.3 316.1,42.3 316.6,42.3 317.2,42.3 317.7,42.3 318.3,42.3 318.8,42.3 319.4,42.3 319.9,42.3 320.4,42.3 321,42.3 321.5,42.3 322.1,42.3 322.6,42.3 323.2,42.3 323.7,42.3 324.3,42.3 324.8,42.3 325.4,42.3 325.9,42.3 326.5,42.3 327,42.3 327.5,42.3 328.1,42.3 328.6,42.3 329.2,42.3 329.7,42.3 330.3,42.3 330.8,42.3 331.4,42.3 331.9,42.3 332.5,42.3 333,42.3 333.5,42.3 334.1,42.3 334.6,42.3 335.2,42.3 335.7,42.3 336.3,42.3 336.8,42.3 337.4,42.3 337.9,42.3 338.5,42.3 339,42.3 339.6,42.3 340.1,42.3 340.6,42.3 341.2,42.3 341.7,42.3 342.3,42.3 342.8,42.3 343.4,42.3 343.9,42.3 344.5,42.3 345,42.3 345.6,42.3 346.1,42.3 346.6,42.3 347.2,42.3 347.7,42.3 348.3,42.3 348.8,42.3 349.4,42.3 349.9,42.3 350.5,42.3 351,42.3 351.6,42.3 352.1,42.3 352.7,42.3 353.2,42.3 353.7,42.3 354.3,42.3 354.8,42.3 355.4,42.3 355.9,42.3 356.5,42.3 357,42.3 357.6,42.3 358.1,42.3 358.7,42.3 359.2,42.3 359.7,42.3 360.3,42.3 360.8,42.3 361.4,42.3 361.9,42.3 362.5,42.3 363,42.3 363.6,42.3 364.1,42.3 364.7,42.3 365.2,42.3 365.8,42.3 366.3,42.3 366.8,42.3 367.4,42.3 367.9,42.3 368.5,42.3 369,42.3 369.6,42.3 370.1,42.3 370.7,42.3 371.2,42.3 371.8,42.3 372.3,42.3 372.8,42.3 373.4,42.3 373.9,42.3 374.5,42.3 375,42.3 375.6,42.3 376.1,42.3 376.7,42.3 377.2,42.3 377.8,42.3 378.3,42.3 378.9,42.3 379.4,42.3 379.9,42.3 380.5,42.3 381,42.3 381.6,42.3 382.1,42.3 382.7,42.3 383.2,42.3 383.8,42.3 384.3,42.3 384.9,42.3 385.4,42.3" fill="none" stroke="#3a8cc0" stroke-width="0.9" stroke-linejoin="round" />
<polyline points="222.2,42.3 222.7,42.3 223.3,42.3 223.8,42.3 224.4,42.3 224.9,42.3 225.5,42.3 226,42.3 226.6,42.3 227.1,42.3 227.7,42.3 228.2,42.3 228.7,42.3 229.3,42.3 229.8,42.3 230.4,42.3 230.9,42.3 231.5,42.3 232,42.3 232.6,42.3 233.1,42.3 233.7,42.3 234.2,42.3 234.8,42.3 235.3,42.3 235.8,42.3 236.4,42.3 236.9,42.3 237.5,42.3 238,42.3 238.6,42.3 239.1,42.3 239.7,42.3 240.2,42.3 240.8,42.3 241.3,42.3 241.8,42.3 242.4,42.3 242.9,42.3 243.5,42.3 244,42.3 244.6,42.3 245.1,42.3 245.7,42.3 246.2,42.3 246.8,42.3 247.3,42.3 247.9,42.3 248.4,42.3 248.9,42.3 249.5,42.3 250,42.3 250.6,42.3 251.1,42.3 251.7,42.3 252.2,42.3 252.8,42.3 253.3,42.3 253.9,42.3 254.4,42.3 254.9,42.3 255.5,42.3 256,42.3 256.6,42.3 257.1,42.3 257.7,42.3 258.2,42.3 258.8,42.3 259.3,42.3 259.9,42.3 260.4,42.3 261,42.3 261.5,42.3 262,42.3 262.6,42.3 263.1,42.3 263.7,42.3 264.2,42.3 264.8,42.3 265.3,42.3 265.9,42.3 266.4,42.3 267,42.3 267.5,42.3 268,42.3 268.6,42.3 269.1,42.3 269.7,42.3 270.2,42.3 270.8,42.3 271.3,42.3 271.9,42.3 272.4,42.3 273,42.3 273.5,42.3 274.1,42.3 274.6,42.3 275.1,42.3 275.7,42.3 276.2,42.3 276.8,42.3 277.3,42.3 277.9,42.3 278.4,42.3 279,42.3 279.5,42.3 280.1,42.3 280.6,42.3 281.1,42.3 281.7,42.3 282.2,42.3 282.8,42.3 283.3,42.3 283.9,42.3 284.4,42.3 285,42.3 285.5,42.3 286.1,42.3 286.6,42.3 287.2,42.3 287.7,42.3 288.2,42.3 288.8,42.3 289.3,42.3 289.9,42.3 290.4,42.3 291,42.3 291.5,42.3 292.1,42.3 292.6,42.3 293.2,42.3 293.7,42.3 294.2,42.3 294.8,42.3 295.3,42.3 295.9,42.3 296.4,42.4 297,42.4 297.5,42.6 298.1,42.8 298.6,43.1 299.2,43.6 299.7,44.4 300.3,45.4 300.8,46.9 301.3,48.9 301.9,51.6 302.4,55 303,59.2 303.5,64 304.1,69.4 304.6,75.2 305.2,81 305.7,86.5 306.3,91.6 306.8,95.9 307.3,99.5 307.9,102.3 308.4,104.4 309,105.9 309.5,107 310.1,107.7 310.6,108.2 311.2,108.4 311.7,108.3 312.3,108.1 312.8,107.7 313.4,106.9 313.9,105.8 314.4,104.2 315,102 315.5,99.2 316.1,95.5 316.6,91.1 317.2,86 317.7,80.5 318.3,74.7 318.8,69 319.4,63.7 319.9,59.1 320.4,55.2 321,52.1 321.5,49.9 322.1,48.4 322.6,47.7 323.2,47.4 323.7,47.7 324.3,48.5 324.8,49.6 325.4,50.9 325.9,52.6 326.5,54.3 327,56.2 327.5,58 328.1,59.8 328.6,61.4 329.2,62.7 329.7,63.7 330.3,64.3 330.8,64.5 331.4,64.3 331.9,63.6 332.5,62.5 333,61.1 333.5,59.4 334.1,57.6 334.6,55.7 335.2,53.8 335.7,52 336.3,50.3 336.8,48.8 337.4,47.4 337.9,46.3 338.5,45.3 339,44.5 339.6,43.9 340.1,43.5 340.6,43.1 341.2,42.8 341.7,42.7 342.3,42.5 342.8,42.4 343.4,42.4 343.9,42.3 344.5,42.3 345,42.3 345.6,42.3 346.1,42.3 346.6,42.3 347.2,42.3 347.7,42.3 348.3,42.3 348.8,42.3 349.4,42.3 349.9,42.3 350.5,42.3 351,42.3 351.6,42.3 352.1,42.3 352.7,42.3 353.2,42.3 353.7,42.3 354.3,42.3 354.8,42.3 355.4,42.3 355.9,42.3 356.5,42.3 357,42.3 357.6,42.3 358.1,42.3 358.7,42.3 359.2,42.3 359.7,42.3 360.3,42.3 360.8,42.3 361.4,42.3 361.9,42.3 362.5,42.3 363,42.3 363.6,42.3 364.1,42.3 364.7,42.3 365.2,42.3 365.8,42.3 366.3,42.3 366.8,42.3 367.4,42.3 367.9,42.3 368.5,42.3 369,42.3 369.6,42.3 370.1,42.3 370.7,42.3 371.2,42.3 371.8,42.3 372.3,42.3 372.8,42.3 373.4,42.3 373.9,42.3 374.5,42.3 375,42.3 375.6,42.3 376.1,42.3 376.7,42.3 377.2,42.3 377.8,42.3 378.3,42.3 378.9,42.3 379.4,42.3 379.9,42.3 380.5,42.3 381,42.3 381.6,42.3 382.1,42.3 382.7,42.3 383.2,42.3 383.8,42.3 384.3,42.3 384.9,42.3 385.4,42.3" fill="none" stroke="#e31a1c" stroke-width="1.8" stroke-linejoin="round" />
<line x1="311.1" y1="0.5" x2="311.1" y2="118.8" stroke="#1f77b4" stroke-width="1.3" stroke-dasharray="3.5,2"/>
<text transform="translate(330,40.5) rotate(-90) scale(1.1,1)" font-family="'Liberation Serif', serif" font-size="11" text-anchor="start" fill="#8e2a9e" >HI 926</text>
</g>
<rect x="222.2" y="0.5" width="163.2" height="118.3" fill="none" stroke="#000" stroke-width="1.4"/>
<path d="M252.4 118.8V113.3M252.4 0.5V6M288.7 118.8V113.3M288.7 0.5V6M325 118.8V113.3M325 0.5V6M361.2 118.8V113.3M361.2 0.5V6M228.2 118.8V115.3M228.2 0.5V4M240.3 118.8V115.3M240.3 0.5V4M252.4 118.8V115.3M252.4 0.5V4M264.5 118.8V115.3M264.5 0.5V4M276.6 118.8V115.3M276.6 0.5V4M288.7 118.8V115.3M288.7 0.5V4M300.8 118.8V115.3M300.8 0.5V4M312.9 118.8V115.3M312.9 0.5V4M325 118.8V115.3M325 0.5V4M337 118.8V115.3M337 0.5V4M349.1 118.8V115.3M349.1 0.5V4M361.2 118.8V115.3M361.2 0.5V4M373.3 118.8V115.3M373.3 0.5V4M385.4 118.8V115.3M385.4 0.5V4M222.2 111.8H227.7M385.4 111.8H379.9M222.2 77H227.7M385.4 77H379.9M222.2 42.3H227.7M385.4 42.3H379.9M222.2 7.5H227.7M385.4 7.5H379.9M222.2 111.8H225.7M385.4 111.8H381.9M222.2 104.9H225.7M385.4 104.9H381.9M222.2 97.9H225.7M385.4 97.9H381.9M222.2 91H225.7M385.4 91H381.9M222.2 84H225.7M385.4 84H381.9M222.2 77H225.7M385.4 77H381.9M222.2 70.1H225.7M385.4 70.1H381.9M222.2 63.1H225.7M385.4 63.1H381.9M222.2 56.2H225.7M385.4 56.2H381.9M222.2 49.2H225.7M385.4 49.2H381.9M222.2 42.3H225.7M385.4 42.3H381.9M222.2 35.3H225.7M385.4 35.3H381.9M222.2 28.3H225.7M385.4 28.3H381.9M222.2 21.4H225.7M385.4 21.4H381.9M222.2 14.4H225.7M385.4 14.4H381.9M222.2 7.5H225.7M385.4 7.5H381.9M222.2 0.5H225.7M385.4 0.5H381.9" stroke="#000" stroke-width="1.1" fill="none" />
<text transform="translate(252.4,130.8) scale(1.1,1)" font-family="'Liberation Serif', serif" font-size="10.6" text-anchor="middle" fill="#000" >−600</text>
<text transform="translate(288.7,130.8) scale(1.1,1)" font-family="'Liberation Serif', serif" font-size="10.6" text-anchor="middle" fill="#000" >−300</text>
<text transform="translate(325,130.8) scale(1.1,1)" font-family="'Liberation Serif', serif" font-size="10.6" text-anchor="middle" fill="#000" >0</text>
<text transform="translate(361.2,130.8) scale(1.1,1)" font-family="'Liberation Serif', serif" font-size="10.6" text-anchor="middle" fill="#000" >300</text>
<text transform="translate(218.4,115.4) scale(1.1,1)" font-family="'Liberation Serif', serif" font-size="10.6" text-anchor="end" fill="#000" >0.0</text>
<text transform="translate(218.4,80.6) scale(1.1,1)" font-family="'Liberation Serif', serif" font-size="10.6" text-anchor="end" fill="#000" >0.5</text>
<text transform="translate(218.4,45.9) scale(1.1,1)" font-family="'Liberation Serif', serif" font-size="10.6" text-anchor="end" fill="#000" >1.0</text>
<text transform="translate(218.4,11.1) scale(1.1,1)" font-family="'Liberation Serif', serif" font-size="10.6" text-anchor="end" fill="#000" >1.5</text>
<text transform="translate(303.8,143.5) scale(1.1,1)" font-family="'Liberation Serif', serif" font-size="10.6" text-anchor="middle" fill="#000" >v [km s<tspan dy="-4.5" font-size="7.5">−1</tspan><tspan dy="4.5">]</tspan></text>
<text transform="translate(226.2,104.5) scale(1.1,1)" font-family="'Liberation Serif', serif" font-size="10.6" text-anchor="start" fill="#000" >Si III 1206</text>
<clipPath id="c3"><rect x="409.2" y="0.5" width="163.2" height="118.3"/></clipPath>
<g clip-path="url(#c3)">
<path d="M410.1 29.7V6.1M411.9 56.1V36.4M413.7 61.2V36.8M415.5 94.6V63.7M417.4 60.2V24.5M419.2 61.4V32M421 61.2V38.2M422.8 52.9V22.9M424.6 51.1V21.7M426.4 73.6V40.6M428.2 68.5V40.7M430.1 66.2V31.6M431.9 45.5V19.8M433.7 46.1V22.8M435.5 74.2V46.7M437.3 75.2V40.4M439.1 47.6V16.4M440.9 33.9V6.8M442.7 56.2V29.1M444.6 66.7V36.8M446.4 40.1V13.9M448.2 60.6V32.5M450 50V14.3M451.8 38.2V3.2M453.6 50.1V16.8M455.4 51.4V31M457.3 46.1V18M459.1 63.6V38.8M460.9 62V27.4M462.7 62.1V38.4M464.5 62.6V27.7M466.3 60.6V38.2M468.1 59.5V33.8M469.9 69.8V34.3M471.8 62.4V33.6M473.6 64.6V29.7M475.4 54.9V27M477.2 34.7V12.5M479 79.4V48.4M480.8 38V10.5M482.6 59.2V31.9M484.5 69.7V49.1M486.3 55V34.3M488.1 58.5V23.6M489.9 45.7V10.3M491.7 78.2V42.7M493.5 70V45.4M495.3 93.1V74.1M497.1 124.6V96.5M499 126.7V95.3M500.8 111.7V81.9M502.6 86.8V67.7M504.4 57.3V35M506.2 54.1V23.2M508 46.8V27.7M509.8 57.3V23.9M511.7 43.4V7.4M513.5 65.3V42.7M515.3 53.8V34.7M517.1 54.8V19M518.9 80.2V48.2M520.7 37.2V10.9M522.5 66.7V39.9M524.3 60.6V25.9M526.2 24.5V0M528 63.3V44.3M529.8 64.2V35M531.6 32.4V8.6M533.4 72.5V42.1M535.2 65.9V30.6M537 47.4V22.8M538.9 47.2V24.6M540.7 43.5V24.5M542.5 53.7V20.5M544.3 33.3V13.8M546.1 45.8V10.5M547.9 49.4V18.5M549.7 69V34.5M551.5 68.6V35.8M553.4 79.6V58M555.2 43.3V22M557 85.4V49.9M558.8 41.7V18.3M560.6 32.8V0.4M562.4 67.6V46.4M564.2 63.5V40M566.1 64V33.7M567.9 42V19.4M569.7 70.1V38.4M571.5 61.1V27.1" stroke="#c6c6c6" stroke-width="1" fill="none" />
<polyline points="409.2,17.9 411,17.9 411,46.2 412.8,46.2 412.8,49 414.6,49 414.6,79.2 416.5,79.2 416.5,42.4 418.3,42.4 418.3,46.7 420.1,46.7 420.1,49.7 421.9,49.7 421.9,37.9 423.7,37.9 423.7,36.4 425.5,36.4 425.5,57.1 427.3,57.1 427.3,54.6 429.1,54.6 429.1,48.9 431,48.9 431,32.7 432.8,32.7 432.8,34.4 434.6,34.4 434.6,60.4 436.4,60.4 436.4,57.8 438.2,57.8 438.2,32 440,32 440,20.3 441.8,20.3 441.8,42.7 443.7,42.7 443.7,51.8 445.5,51.8 445.5,27 447.3,27 447.3,46.6 449.1,46.6 449.1,32.2 450.9,32.2 450.9,20.7 452.7,20.7 452.7,33.5 454.5,33.5 454.5,41.2 456.3,41.2 456.3,32.1 458.2,32.1 458.2,51.2 460,51.2 460,44.7 461.8,44.7 461.8,50.2 463.6,50.2 463.6,45.1 465.4,45.1 465.4,49.4 467.2,49.4 467.2,46.6 469,46.6 469,52 470.9,52 470.9,48 472.7,48 472.7,47.1 474.5,47.1 474.5,40.9 476.3,40.9 476.3,23.6 478.1,23.6 478.1,63.9 479.9,63.9 479.9,24.2 481.7,24.2 481.7,45.6 483.5,45.6 483.5,59.4 485.4,59.4 485.4,44.7 487.2,44.7 487.2,41 489,41 489,28 490.8,28 490.8,60.4 492.6,60.4 492.6,57.7 494.4,57.7 494.4,83.6 496.2,83.6 496.2,110.5 498.1,110.5 498.1,111 499.9,111 499.9,96.8 501.7,96.8 501.7,77.3 503.5,77.3 503.5,46.1 505.3,46.1 505.3,38.6 507.1,38.6 507.1,37.2 508.9,37.2 508.9,40.6 510.7,40.6 510.7,25.4 512.6,25.4 512.6,54 514.4,54 514.4,44.2 516.2,44.2 516.2,36.9 518,36.9 518,64.2 519.8,64.2 519.8,24 521.6,24 521.6,53.3 523.4,53.3 523.4,43.3 525.3,43.3 525.3,12.2 527.1,12.2 527.1,53.8 528.9,53.8 528.9,49.6 530.7,49.6 530.7,20.5 532.5,20.5 532.5,57.3 534.3,57.3 534.3,48.3 536.1,48.3 536.1,35.1 537.9,35.1 537.9,35.9 539.8,35.9 539.8,34 541.6,34 541.6,37.1 543.4,37.1 543.4,23.5 545.2,23.5 545.2,28.1 547,28.1 547,34 548.8,34 548.8,51.8 550.6,51.8 550.6,52.2 552.5,52.2 552.5,68.8 554.3,68.8 554.3,32.7 556.1,32.7 556.1,67.6 557.9,67.6 557.9,30 559.7,30 559.7,16.6 561.5,16.6 561.5,57 563.3,57 563.3,51.8 565.1,51.8 565.1,48.9 567,48.9 567,30.7 568.8,30.7 568.8,54.3 570.6,54.3 570.6,44.1 572.4,44.1" fill="none" stroke="#7a7a7a" stroke-width="1.6" stroke-linejoin="round" stroke-linejoin="miter"/>
<polyline points="489,32.3 490.8,32.3 490.8,56.7 492.6,56.7 492.6,57.7 494.4,57.7 494.4,83.6 496.2,83.6 496.2,110.5 498.1,110.5 498.1,111 499.9,111 499.9,96.8 501.7,96.8 501.7,77.3 503.5,77.3 503.5,48.3 505.3,48.3 505.3,38.6 507.1,38.6" fill="none" stroke="#000" stroke-width="1.9" stroke-linejoin="round" stroke-linejoin="miter"/>
<line x1="409.2" y1="111.8" x2="572.4" y2="111.8" stroke="#444" stroke-width="1" stroke-dasharray="1.6,1.4"/>
<polyline points="409.2,42.3 409.7,42.3 410.3,42.3 410.8,42.3 411.4,42.3 411.9,42.3 412.5,42.3 413,42.3 413.6,42.3 414.1,42.3 414.7,42.3 415.2,42.3 415.7,42.3 416.3,42.3 416.8,42.3 417.4,42.3 417.9,42.3 418.5,42.3 419,42.3 419.6,42.3 420.1,42.3 420.7,42.3 421.2,42.3 421.8,42.3 422.3,42.3 422.8,42.3 423.4,42.3 423.9,42.3 424.5,42.3 425,42.3 425.6,42.3 426.1,42.3 426.7,42.3 427.2,42.3 427.8,42.3 428.3,42.3 428.8,42.3 429.4,42.3 429.9,42.3 430.5,42.3 431,42.3 431.6,42.3 432.1,42.3 432.7,42.3 433.2,42.3 433.8,42.3 434.3,42.3 434.9,42.3 435.4,42.3 435.9,42.3 436.5,42.3 437,42.3 437.6,42.3 438.1,42.3 438.7,42.3 439.2,42.3 439.8,42.3 440.3,42.3 440.9,42.3 441.4,42.3 441.9,42.3 442.5,42.3 443,42.3 443.6,42.3 444.1,42.3 444.7,42.3 445.2,42.3 445.8,42.3 446.3,42.3 446.9,42.3 447.4,42.3 448,42.3 448.5,42.3 449,42.3 449.6,42.3 450.1,42.3 450.7,42.3 451.2,42.3 451.8,42.3 452.3,42.3 452.9,42.3 453.4,42.3 454,42.3 454.5,42.3 455,42.3 455.6,42.3 456.1,42.3 456.7,42.3 457.2,42.3 457.8,42.3 458.3,42.3 458.9,42.3 459.4,42.3 460,42.3 460.5,42.3 461.1,42.3 461.6,42.3 462.1,42.3 462.7,42.3 463.2,42.3 463.8,42.3 464.3,42.3 464.9,42.3 465.4,42.3 466,42.3 466.5,42.3 467.1,42.3 467.6,42.3 468.1,42.3 468.7,42.3 469.2,42.3 469.8,42.3 470.3,42.3 470.9,42.3 471.4,42.3 472,42.3 472.5,42.3 473.1,42.3 473.6,42.3 474.2,42.3 474.7,42.3 475.2,42.3 475.8,42.3 476.3,42.3 476.9,42.3 477.4,42.3 478,42.3 478.5,42.3 479.1,42.3 479.6,42.3 480.2,42.3 480.7,42.3 481.2,42.3 481.8,42.3 482.3,42.3 482.9,42.3 483.4,42.3 484,42.3 484.5,42.3 485.1,42.3 485.6,42.3 486.2,42.3 486.7,42.3 487.3,42.3 487.8,42.3 488.3,42.3 488.9,42.3 489.4,42.3 490,42.3 490.5,42.3 491.1,42.3 491.6,42.3 492.2,42.3 492.7,42.3 493.3,42.3 493.8,42.3 494.3,42.3 494.9,42.3 495.4,42.3 496,42.3 496.5,42.3 497.1,42.3 497.6,42.3 498.2,42.3 498.7,42.3 499.3,42.3 499.8,42.3 500.4,42.3 500.9,42.3 501.4,42.3 502,42.3 502.5,42.3 503.1,42.3 503.6,42.3 504.2,42.3 504.7,42.3 505.3,42.3 505.8,42.3 506.4,42.3 506.9,42.3 507.4,42.3 508,42.3 508.5,42.3 509.1,42.3 509.6,42.3 510.2,42.3 510.7,42.3 511.3,42.3 511.8,42.3 512.4,42.3 512.9,42.3 513.5,42.3 514,42.3 514.5,42.3 515.1,42.3 515.6,42.3 516.2,42.3 516.7,42.3 517.3,42.3 517.8,42.3 518.4,42.3 518.9,42.3 519.5,42.3 520,42.3 520.5,42.3 521.1,42.3 521.6,42.3 522.2,42.3 522.7,42.3 523.3,42.3 523.8,42.3 524.4,42.3 524.9,42.3 525.5,42.3 526,42.3 526.6,42.3 527.1,42.3 527.6,42.3 528.2,42.3 528.7,42.3 529.3,42.3 529.8,42.3 530.4,42.3 530.9,42.3 531.5,42.3 532,42.3 532.6,42.3 533.1,42.3 533.6,42.3 534.2,42.3 534.7,42.3 535.3,42.3 535.8,42.3 536.4,42.3 536.9,42.3 537.5,42.3 538,42.3 538.6,42.3 539.1,42.3 539.7,42.3 540.2,42.3 540.7,42.3 541.3,42.3 541.8,42.3 542.4,42.3 542.9,42.3 543.5,42.3 544,42.3 544.6,42.3 545.1,42.3 545.7,42.3 546.2,42.3 546.7,42.3 547.3,42.3 547.8,42.3 548.4,42.3 548.9,42.3 549.5,42.3 550,42.3 550.6,42.3 551.1,42.3 551.7,42.3 552.2,42.3 552.8,42.3 553.3,42.3 553.8,42.3 554.4,42.3 554.9,42.3 555.5,42.3 556,42.3 556.6,42.3 557.1,42.3 557.7,42.3 558.2,42.3 558.8,42.3 559.3,42.3 559.8,42.3 560.4,42.3 560.9,42.3 561.5,42.3 562,42.3 562.6,42.3 563.1,42.3 563.7,42.3 564.2,42.3 564.8,42.3 565.3,42.3 565.9,42.3 566.4,42.3 566.9,42.3 567.5,42.3 568,42.3 568.6,42.3 569.1,42.3 569.7,42.3 570.2,42.3 570.8,42.3 571.3,42.3 571.9,42.3 572.4,42.3" fill="none" stroke="#7b1b8f" stroke-width="1.6" stroke-linejoin="round" />
<polyline points="409.2,42.3 409.7,42.3 410.3,42.3 410.8,42.3 411.4,42.3 411.9,42.3 412.5,42.3 413,42.3 413.6,42.3 414.1,42.3 414.7,42.3 415.2,42.3 415.7,42.3 416.3,42.3 416.8,42.3 417.4,42.3 417.9,42.3 418.5,42.3 419,42.3 419.6,42.3 420.1,42.3 420.7,42.3 421.2,42.3 421.8,42.3 422.3,42.3 422.8,42.3 423.4,42.3 423.9,42.3 424.5,42.3 425,42.3 425.6,42.3 426.1,42.3 426.7,42.3 427.2,42.3 427.8,42.3 428.3,42.3 428.8,42.3 429.4,42.3 429.9,42.3 430.5,42.3 431,42.3 431.6,42.3 432.1,42.3 432.7,42.3 433.2,42.3 433.8,42.3 434.3,42.3 434.9,42.3 435.4,42.3 435.9,42.3 436.5,42.3 437,42.3 437.6,42.3 438.1,42.3 438.7,42.3 439.2,42.3 439.8,42.3 440.3,42.3 440.9,42.3 441.4,42.3 441.9,42.3 442.5,42.3 443,42.3 443.6,42.3 444.1,42.3 444.7,42.3 445.2,42.3 445.8,42.3 446.3,42.3 446.9,42.3 447.4,42.3 448,42.3 448.5,42.3 449,42.3 449.6,42.3 450.1,42.3 450.7,42.3 451.2,42.3 451.8,42.3 452.3,42.3 452.9,42.3 453.4,42.3 454,42.3 454.5,42.3 455,42.3 455.6,42.3 456.1,42.3 456.7,42.3 457.2,42.3 457.8,42.3 458.3,42.3 458.9,42.3 459.4,42.3 460,42.3 460.5,42.3 461.1,42.3 461.6,42.3 462.1,42.3 462.7,42.3 463.2,42.3 463.8,42.3 464.3,42.3 464.9,42.3 465.4,42.4 466,42.5 466.5,42.8 467.1,43.1 467.6,43.5 468.1,44.1 468.7,44.9 469.2,45.8 469.8,46.7 470.3,47.6 470.9,48.4 471.4,49 472,49.2 472.5,49.1 473.1,48.6 473.6,47.9 474.2,47 474.7,46.1 475.2,45.2 475.8,44.4 476.3,43.7 476.9,43.2 477.4,42.8 478,42.6 478.5,42.4 479.1,42.4 479.6,42.3 480.2,42.3 480.7,42.3 481.2,42.3 481.8,42.3 482.3,42.3 482.9,42.3 483.4,42.3 484,42.3 484.5,42.3 485.1,42.3 485.6,42.3 486.2,42.3 486.7,42.3 487.3,42.3 487.8,42.3 488.3,42.3 488.9,42.4 489.4,42.5 490,42.8 490.5,43.4 491.1,44.3 491.6,45.9 492.2,48.4 492.7,52.1 493.3,57.2 493.8,63.6 494.3,71 494.9,78.6 495.4,85.9 496,92.1 496.5,97 497.1,100.6 497.6,102.9 498.2,104.2 498.7,104.8 499.3,104.7 499.8,103.9 500.4,102.2 500.9,99.6 501.4,95.6 502,90.3 502.5,83.6 503.1,76.2 503.6,68.5 504.2,61.4 504.7,55.4 505.3,50.8 505.8,47.5 506.4,45.3 506.9,44 507.4,43.2 508,42.7 508.5,42.5 509.1,42.4 509.6,42.3 510.2,42.3 510.7,42.3 511.3,42.3 511.8,42.3 512.4,42.3 512.9,42.3 513.5,42.3 514,42.3 514.5,42.3 515.1,42.3 515.6,42.3 516.2,42.3 516.7,42.3 517.3,42.3 517.8,42.3 518.4,42.3 518.9,42.3 519.5,42.3 520,42.3 520.5,42.3 521.1,42.3 521.6,42.3 522.2,42.3 522.7,42.3 523.3,42.3 523.8,42.3 524.4,42.3 524.9,42.3 525.5,42.3 526,42.3 526.6,42.3 527.1,42.3 527.6,42.3 528.2,42.3 528.7,42.3 529.3,42.3 529.8,42.3 530.4,42.3 530.9,42.3 531.5,42.3 532,42.3 532.6,42.3 533.1,42.3 533.6,42.3 534.2,42.3 534.7,42.3 535.3,42.3 535.8,42.3 536.4,42.3 536.9,42.3 537.5,42.3 538,42.3 538.6,42.3 539.1,42.3 539.7,42.3 540.2,42.3 540.7,42.3 541.3,42.3 541.8,42.3 542.4,42.3 542.9,42.3 543.5,42.3 544,42.3 544.6,42.3 545.1,42.3 545.7,42.3 546.2,42.3 546.7,42.3 547.3,42.3 547.8,42.3 548.4,42.3 548.9,42.3 549.5,42.3 550,42.3 550.6,42.3 551.1,42.3 551.7,42.3 552.2,42.3 552.8,42.3 553.3,42.3 553.8,42.3 554.4,42.3 554.9,42.3 555.5,42.3 556,42.3 556.6,42.3 557.1,42.3 557.7,42.3 558.2,42.3 558.8,42.3 559.3,42.3 559.8,42.3 560.4,42.3 560.9,42.3 561.5,42.3 562,42.3 562.6,42.3 563.1,42.3 563.7,42.3 564.2,42.3 564.8,42.3 565.3,42.3 565.9,42.3 566.4,42.3 566.9,42.3 567.5,42.3 568,42.3 568.6,42.3 569.1,42.3 569.7,42.3 570.2,42.3 570.8,42.3 571.3,42.3 571.9,42.3 572.4,42.3" fill="none" stroke="#e31a1c" stroke-width="1.8" stroke-linejoin="round" />
<line x1="498.1" y1="0.5" x2="498.1" y2="118.8" stroke="#1f77b4" stroke-width="1.3" stroke-dasharray="3.5,2"/>
<text transform="translate(472.9,40.5) rotate(-90) scale(1.1,1)" font-family="'Liberation Serif', serif" font-size="11" text-anchor="start" fill="#3a8cc0" >SiII 1259</text>
</g>
<rect x="409.2" y="0.5" width="163.2" height="118.3" fill="none" stroke="#000" stroke-width="1.4"/>
<path d="M439.4 118.8V113.3M439.4 0.5V6M475.7 118.8V113.3M475.7 0.5V6M512 118.8V113.3M512 0.5V6M548.2 118.8V113.3M548.2 0.5V6M415.2 118.8V115.3M415.2 0.5V4M427.3 118.8V115.3M427.3 0.5V4M439.4 118.8V115.3M439.4 0.5V4M451.5 118.8V115.3M451.5 0.5V4M463.6 118.8V115.3M463.6 0.5V4M475.7 118.8V115.3M475.7 0.5V4M487.8 118.8V115.3M487.8 0.5V4M499.9 118.8V115.3M499.9 0.5V4M512 118.8V115.3M512 0.5V4M524 118.8V115.3M524 0.5V4M536.1 118.8V115.3M536.1 0.5V4M548.2 118.8V115.3M548.2 0.5V4M560.3 118.8V115.3M560.3 0.5V4M572.4 118.8V115.3M572.4 0.5V4M409.2 111.8H414.7M572.4 111.8H566.9M409.2 77H414.7M572.4 77H566.9M409.2 42.3H414.7M572.4 42.3H566.9M409.2 7.5H414.7M572.4 7.5H566.9M409.2 111.8H412.7M572.4 111.8H568.9M409.2 104.9H412.7M572.4 104.9H568.9M409.2 97.9H412.7M572.4 97.9H568.9M409.2 91H412.7M572.4 91H568.9M409.2 84H412.7M572.4 84H568.9M409.2 77H412.7M572.4 77H568.9M409.2 70.1H412.7M572.4 70.1H568.9M409.2 63.1H412.7M572.4 63.1H568.9M409.2 56.2H412.7M572.4 56.2H568.9M409.2 49.2H412.7M572.4 49.2H568.9M409.2 42.3H412.7M572.4 42.3H568.9M409.2 35.3H412.7M572.4 35.3H568.9M409.2 28.3H412.7M572.4 28.3H568.9M409.2 21.4H412.7M572.4 21.4H568.9M409.2 14.4H412.7M572.4 14.4H568.9M409.2 7.5H412.7M572.4 7.5H568.9M409.2 0.5H412.7M572.4 0.5H568.9" stroke="#000" stroke-width="1.1" fill="none" />
<text transform="translate(439.4,130.8) scale(1.1,1)" font-family="'Liberation Serif', serif" font-size="10.6" text-anchor="middle" fill="#000" >−600</text>
<text transform="translate(475.7,130.8) scale(1.1,1)" font-family="'Liberation Serif', serif" font-size="10.6" text-anchor="middle" fill="#000" >−300</text>
<text transform="translate(512,130.8) scale(1.1,1)" font-family="'Liberation Serif', serif" font-size="10.6" text-anchor="middle" fill="#000" >0</text>
<text transform="translate(548.2,130.8) scale(1.1,1)" font-family="'Liberation Serif', serif" font-size="10.6" text-anchor="middle" fill="#000" >300</text>
<text transform="translate(405.4,115.4) scale(1.1,1)" font-family="'Liberation Serif', serif" font-size="10.6" text-anchor="end" fill="#000" >0.0</text>
<text transform="translate(405.4,80.6) scale(1.1,1)" font-family="'Liberation Serif', serif" font-size="10.6" text-anchor="end" fill="#000" >0.5</text>
<text transform="translate(405.4,45.9) scale(1.1,1)" font-family="'Liberation Serif', serif" font-size="10.6" text-anchor="end" fill="#000" >1.0</text>
<text transform="translate(405.4,11.1) scale(1.1,1)" font-family="'Liberation Serif', serif" font-size="10.6" text-anchor="end" fill="#000" >1.5</text>
<text transform="translate(490.8,143.5) scale(1.1,1)" font-family="'Liberation Serif', serif" font-size="10.6" text-anchor="middle" fill="#000" >v [km s<tspan dy="-4.5" font-size="7.5">−1</tspan><tspan dy="4.5">]</tspan></text>
<text transform="translate(413.2,104.5) scale(1.1,1)" font-family="'Liberation Serif', serif" font-size="10.6" text-anchor="start" fill="#000" >Si II 1260</text>
<clipPath id="c4"><rect x="596.5" y="0.5" width="163.2" height="118.3"/></clipPath>
<g clip-path="url(#c4)">
<path d="M597.4 59V17.5M599.2 66.7V30.1M601 71.8V33.6M602.8 61.5V37.6M604.7 63.8V42.6M606.5 66.1V27.3M608.3 41.4V5.7M610.1 51.1V12.4M611.9 57.1V18.3M613.7 87.5V50M615.5 85.7V54.8M617.4 48.9V26M619.2 56V28.6M621 77.8V43.5M622.8 56.8V23.7M624.6 77V50.6M626.4 25.1V3.1M628.2 79.1V39.2M630 46.3V19.1M631.9 58.9V31.1M633.7 43.8V21.8M635.5 28.7V7.2M637.3 25.8V2.3M639.1 31V8.1M640.9 37.9V13.7M642.7 69.5V45.5M644.6 37.8V10.4M646.4 77.1V44.5M648.2 53V24.9M650 63.9V35.7M651.8 23.3V-10.4M653.6 18.7V-3.6M655.4 77.6V44.2M657.2 64.7V37.3M659.1 67V40.9M660.9 57.1V25.2M662.7 48.6V16.1M664.5 43.6V10.3M666.3 80.9V47.3M668.1 46.7V24.2M669.9 41.5V8.9M671.8 63.1V34.2M673.6 46.9V21.7M675.4 59.9V31.1M677.2 58.1V33.4M679 95.5V64.4M680.8 102.2V80M682.6 112.6V90.8M684.4 125.4V90.6M686.3 114.2V91.9M688.1 121.5V88.3M689.9 103.5V67M691.7 85.5V47M693.5 58.8V27.2M695.3 86.7V63.2M697.1 34.5V8.8M699 59.5V32.9M700.8 83.5V45.2M702.6 66.8V30.1M704.4 27.4V1.1M706.2 65.5V26.5M708 59.6V33.6M709.8 55.5V33.5M711.6 48V16.2M713.5 34V3.1M715.3 44.9V5.3M717.1 42V13.9M718.9 65V26.4M720.7 53.7V31.1M722.5 66V42.9M724.3 74.6V37.3M726.2 84.4V45.4M728 70.4V41.9M729.8 29.8V6.8M731.6 57.5V18.7M733.4 53.8V30.6M735.2 69.8V46.5M737 70.7V40.9M738.8 89.8V68.3M740.7 112.5V89M742.5 106.8V85.6M744.3 118.6V89.1M746.1 117.4V86.6M747.9 127.8V105.2M749.7 117.1V91.7M751.5 121.3V84.6M753.4 97.9V72.9M755.2 111.1V81M757 84.1V56.3M758.8 81.5V55.9" stroke="#c6c6c6" stroke-width="1" fill="none" />
<polyline points="596.5,38.3 598.3,38.3 598.3,48.4 600.1,48.4 600.1,52.7 601.9,52.7 601.9,49.6 603.8,49.6 603.8,53.2 605.6,53.2 605.6,46.7 607.4,46.7 607.4,23.5 609.2,23.5 609.2,31.7 611,31.7 611,37.7 612.8,37.7 612.8,68.7 614.6,68.7 614.6,70.3 616.4,70.3 616.4,37.5 618.3,37.5 618.3,42.3 620.1,42.3 620.1,60.6 621.9,60.6 621.9,40.2 623.7,40.2 623.7,63.8 625.5,63.8 625.5,14.1 627.3,14.1 627.3,59.1 629.1,59.1 629.1,32.7 631,32.7 631,45 632.8,45 632.8,32.8 634.6,32.8 634.6,18 636.4,18 636.4,14.1 638.2,14.1 638.2,19.5 640,19.5 640,25.8 641.8,25.8 641.8,57.5 643.6,57.5 643.6,24.1 645.5,24.1 645.5,60.8 647.3,60.8 647.3,39 649.1,39 649.1,49.8 650.9,49.8 650.9,6.5 652.7,6.5 652.7,7.6 654.5,7.6 654.5,60.9 656.3,60.9 656.3,51 658.2,51 658.2,53.9 660,53.9 660,41.2 661.8,41.2 661.8,32.3 663.6,32.3 663.6,27 665.4,27 665.4,64.1 667.2,64.1 667.2,35.5 669,35.5 669,25.2 670.8,25.2 670.8,48.6 672.7,48.6 672.7,34.3 674.5,34.3 674.5,45.5 676.3,45.5 676.3,45.7 678.1,45.7 678.1,80 679.9,80 679.9,91.1 681.7,91.1 681.7,101.7 683.5,101.7 683.5,108 685.4,108 685.4,103.1 687.2,103.1 687.2,104.9 689,104.9 689,85.2 690.8,85.2 690.8,66.3 692.6,66.3 692.6,43 694.4,43 694.4,74.9 696.2,74.9 696.2,21.6 698,21.6 698,46.2 699.9,46.2 699.9,64.3 701.7,64.3 701.7,48.5 703.5,48.5 703.5,14.2 705.3,14.2 705.3,46 707.1,46 707.1,46.6 708.9,46.6 708.9,44.5 710.7,44.5 710.7,32.1 712.6,32.1 712.6,18.6 714.4,18.6 714.4,25.1 716.2,25.1 716.2,27.9 718,27.9 718,45.7 719.8,45.7 719.8,42.4 721.6,42.4 721.6,54.5 723.4,54.5 723.4,56 725.2,56 725.2,64.9 727.1,64.9 727.1,56.1 728.9,56.1 728.9,18.3 730.7,18.3 730.7,38.1 732.5,38.1 732.5,42.2 734.3,42.2 734.3,58.2 736.1,58.2 736.1,55.8 737.9,55.8 737.9,79 739.8,79 739.8,100.8 741.6,100.8 741.6,96.2 743.4,96.2 743.4,103.8 745.2,103.8 745.2,102 747,102 747,116.5 748.8,116.5 748.8,104.4 750.6,104.4 750.6,103 752.4,103 752.4,85.4 754.3,85.4 754.3,96 756.1,96 756.1,70.2 757.9,70.2 757.9,68.7 759.7,68.7" fill="none" stroke="#7a7a7a" stroke-width="1.6" stroke-linejoin="round" stroke-linejoin="miter"/>
<polyline points="665.4,52.7 667.2,52.7 667.2,35.5 669,35.5 669,31.8 670.8,31.8 670.8,48.6 672.7,48.6 672.7,34.3 674.5,34.3 674.5,45.5 676.3,45.5 676.3,45.7 678.1,45.7 678.1,80 679.9,80 679.9,91.1 681.7,91.1 681.7,101.7 683.5,101.7 683.5,108 685.4,108 685.4,103.1 687.2,103.1 687.2,104.9 689,104.9 689,85.2 690.8,85.2 690.8,66.3 692.6,66.3" fill="none" stroke="#000" stroke-width="1.9" stroke-linejoin="round" stroke-linejoin="miter"/>
<line x1="596.5" y1="111.8" x2="759.7" y2="111.8" stroke="#444" stroke-width="1" stroke-dasharray="1.6,1.4"/>
<polyline points="596.5,42.3 597,42.3 597.6,42.3 598.1,42.3 598.7,42.3 599.2,42.3 599.8,42.3 600.3,42.3 600.9,42.3 601.4,42.3 602,42.3 602.5,42.3 603,42.3 603.6,42.3 604.1,42.3 604.7,42.3 605.2,42.3 605.8,42.3 606.3,42.3 606.9,42.3 607.4,42.3 608,42.3 608.5,42.3 609.1,42.3 609.6,42.3 610.1,42.3 610.7,42.3 611.2,42.3 611.8,42.3 612.3,42.3 612.9,42.3 613.4,42.3 614,42.3 614.5,42.3 615.1,42.3 615.6,42.3 616.1,42.3 616.7,42.3 617.2,42.3 617.8,42.3 618.3,42.3 618.9,42.3 619.4,42.3 620,42.3 620.5,42.3 621.1,42.3 621.6,42.3 622.2,42.3 622.7,42.3 623.2,42.3 623.8,42.3 624.3,42.3 624.9,42.3 625.4,42.3 626,42.3 626.5,42.3 627.1,42.3 627.6,42.3 628.2,42.3 628.7,42.3 629.2,42.3 629.8,42.3 630.3,42.3 630.9,42.3 631.4,42.3 632,42.3 632.5,42.3 633.1,42.3 633.6,42.3 634.2,42.3 634.7,42.3 635.3,42.3 635.8,42.3 636.3,42.3 636.9,42.3 637.4,42.3 638,42.3 638.5,42.3 639.1,42.3 639.6,42.3 640.2,42.3 640.7,42.3 641.3,42.3 641.8,42.3 642.3,42.3 642.9,42.3 643.4,42.3 644,42.3 644.5,42.3 645.1,42.3 645.6,42.3 646.2,42.3 646.7,42.3 647.3,42.3 647.8,42.3 648.4,42.3 648.9,42.3 649.4,42.3 650,42.3 650.5,42.3 651.1,42.3 651.6,42.3 652.2,42.3 652.7,42.3 653.3,42.3 653.8,42.3 654.4,42.3 654.9,42.3 655.4,42.3 656,42.3 656.5,42.3 657.1,42.3 657.6,42.3 658.2,42.3 658.7,42.3 659.3,42.3 659.8,42.3 660.4,42.3 660.9,42.3 661.5,42.3 662,42.3 662.5,42.3 663.1,42.3 663.6,42.3 664.2,42.3 664.7,42.3 665.3,42.3 665.8,42.3 666.4,42.3 666.9,42.3 667.5,42.3 668,42.3 668.5,42.3 669.1,42.3 669.6,42.3 670.2,42.3 670.7,42.3 671.3,42.3 671.8,42.3 672.4,42.3 672.9,42.3 673.5,42.3 674,42.3 674.6,42.3 675.1,42.3 675.6,42.3 676.2,42.3 676.7,42.3 677.3,42.3 677.8,42.3 678.4,42.3 678.9,42.3 679.5,42.3 680,42.3 680.6,42.3 681.1,42.3 681.6,42.3 682.2,42.3 682.7,42.3 683.3,42.3 683.8,42.3 684.4,42.3 684.9,42.3 685.5,42.3 686,42.3 686.6,42.3 687.1,42.3 687.7,42.3 688.2,42.3 688.7,42.3 689.3,42.3 689.8,42.3 690.4,42.3 690.9,42.3 691.5,42.3 692,42.3 692.6,42.3 693.1,42.3 693.7,42.3 694.2,42.3 694.7,42.3 695.3,42.3 695.8,42.3 696.4,42.3 696.9,42.3 697.5,42.3 698,42.3 698.6,42.3 699.1,42.3 699.7,42.3 700.2,42.3 700.8,42.3 701.3,42.3 701.8,42.3 702.4,42.3 702.9,42.3 703.5,42.3 704,42.3 704.6,42.3 705.1,42.3 705.7,42.3 706.2,42.3 706.8,42.3 707.3,42.3 707.8,42.3 708.4,42.3 708.9,42.3 709.5,42.3 710,42.3 710.6,42.3 711.1,42.3 711.7,42.3 712.2,42.3 712.8,42.3 713.3,42.3 713.9,42.3 714.4,42.3 714.9,42.3 715.5,42.3 716,42.3 716.6,42.3 717.1,42.3 717.7,42.3 718.2,42.3 718.8,42.3 719.3,42.3 719.9,42.3 720.4,42.3 720.9,42.3 721.5,42.3 722,42.3 722.6,42.3 723.1,42.3 723.7,42.3 724.2,42.3 724.8,42.3 725.3,42.3 725.9,42.3 726.4,42.3 727,42.3 727.5,42.3 728,42.3 728.6,42.3 729.1,42.3 729.7,42.3 730.2,42.3 730.8,42.3 731.3,42.3 731.9,42.3 732.4,42.3 733,42.3 733.5,42.3 734,42.3 734.6,42.3 735.1,42.3 735.7,42.3 736.2,42.3 736.8,42.3 737.3,42.3 737.9,42.3 738.4,42.3 739,42.3 739.5,42.3 740.1,42.3 740.6,42.3 741.1,42.3 741.7,42.3 742.2,42.3 742.8,42.3 743.3,42.3 743.9,42.3 744.4,42.3 745,42.3 745.5,42.3 746.1,42.3 746.6,42.3 747.1,42.3 747.7,42.3 748.2,42.3 748.8,42.3 749.3,42.3 749.9,42.3 750.4,42.3 751,42.3 751.5,42.3 752.1,42.3 752.6,42.3 753.2,42.3 753.7,42.3 754.2,42.3 754.8,42.3 755.3,42.3 755.9,42.3 756.4,42.3 757,42.3 757.5,42.3 758.1,42.3 758.6,42.3 759.2,42.3 759.7,42.3" fill="none" stroke="#8a8a8a" stroke-width="1.6" stroke-linejoin="round" />
<polyline points="596.5,42.3 597,42.3 597.6,42.3 598.1,42.3 598.7,42.3 599.2,42.3 599.8,42.3 600.3,42.3 600.9,42.3 601.4,42.3 602,42.3 602.5,42.3 603,42.3 603.6,42.3 604.1,42.3 604.7,42.3 605.2,42.3 605.8,42.3 606.3,42.3 606.9,42.3 607.4,42.3 608,42.3 608.5,42.3 609.1,42.3 609.6,42.3 610.1,42.3 610.7,42.3 611.2,42.3 611.8,42.3 612.3,42.3 612.9,42.3 613.4,42.3 614,42.3 614.5,42.3 615.1,42.3 615.6,42.3 616.1,42.3 616.7,42.3 617.2,42.3 617.8,42.3 618.3,42.3 618.9,42.3 619.4,42.3 620,42.3 620.5,42.3 621.1,42.3 621.6,42.3 622.2,42.3 622.7,42.3 623.2,42.3 623.8,42.3 624.3,42.3 624.9,42.3 625.4,42.3 626,42.3 626.5,42.3 627.1,42.3 627.6,42.3 628.2,42.3 628.7,42.3 629.2,42.3 629.8,42.3 630.3,42.3 630.9,42.3 631.4,42.3 632,42.3 632.5,42.3 633.1,42.3 633.6,42.3 634.2,42.3 634.7,42.3 635.3,42.3 635.8,42.3 636.3,42.3 636.9,42.3 637.4,42.3 638,42.3 638.5,42.3 639.1,42.3 639.6,42.3 640.2,42.3 640.7,42.3 641.3,42.3 641.8,42.3 642.3,42.3 642.9,42.3 643.4,42.3 644,42.3 644.5,42.3 645.1,42.3 645.6,42.3 646.2,42.3 646.7,42.3 647.3,42.3 647.8,42.3 648.4,42.3 648.9,42.3 649.4,42.3 650,42.3 650.5,42.3 651.1,42.3 651.6,42.3 652.2,42.3 652.7,42.3 653.3,42.3 653.8,42.3 654.4,42.3 654.9,42.3 655.4,42.3 656,42.3 656.5,42.3 657.1,42.3 657.6,42.3 658.2,42.3 658.7,42.3 659.3,42.3 659.8,42.3 660.4,42.3 660.9,42.3 661.5,42.3 662,42.3 662.5,42.3 663.1,42.3 663.6,42.3 664.2,42.3 664.7,42.3 665.3,42.3 665.8,42.3 666.4,42.3 666.9,42.3 667.5,42.3 668,42.3 668.5,42.3 669.1,42.3 669.6,42.3 670.2,42.3 670.7,42.3 671.3,42.3 671.8,42.3 672.4,42.3 672.9,42.4 673.5,42.6 674,42.9 674.6,43.3 675.1,44.1 675.6,45.2 676.2,47 676.7,49.6 677.3,53.1 677.8,57.7 678.4,63.3 678.9,69.8 679.5,76.8 680,83.7 680.6,90 681.1,95.4 681.6,99.7 682.2,102.9 682.7,105.2 683.3,106.7 683.8,107.7 684.4,108.2 684.9,108.4 685.5,108.3 686,107.8 686.6,107 687.1,105.6 687.7,103.6 688.2,100.6 688.7,96.6 689.3,91.5 689.8,85.3 690.4,78.5 690.9,71.5 691.5,64.9 692,59 692.6,54.1 693.1,50.4 693.7,47.6 694.2,45.6 694.7,44.3 695.3,43.5 695.8,43 696.4,42.6 696.9,42.5 697.5,42.4 698,42.3 698.6,42.3 699.1,42.3 699.7,42.3 700.2,42.3 700.8,42.3 701.3,42.3 701.8,42.3 702.4,42.3 702.9,42.3 703.5,42.3 704,42.3 704.6,42.3 705.1,42.3 705.7,42.3 706.2,42.3 706.8,42.3 707.3,42.3 707.8,42.3 708.4,42.3 708.9,42.3 709.5,42.3 710,42.3 710.6,42.3 711.1,42.3 711.7,42.3 712.2,42.3 712.8,42.3 713.3,42.3 713.9,42.3 714.4,42.3 714.9,42.3 715.5,42.3 716,42.3 716.6,42.3 717.1,42.3 717.7,42.3 718.2,42.3 718.8,42.3 719.3,42.3 719.9,42.3 720.4,42.3 720.9,42.3 721.5,42.3 722,42.3 722.6,42.3 723.1,42.3 723.7,42.3 724.2,42.3 724.8,42.3 725.3,42.3 725.9,42.3 726.4,42.3 727,42.3 727.5,42.3 728,42.3 728.6,42.3 729.1,42.3 729.7,42.3 730.2,42.3 730.8,42.4 731.3,42.5 731.9,42.6 732.4,42.8 733,43.1 733.5,43.5 734,44.1 734.6,45 735.1,46.1 735.7,47.7 736.2,49.8 736.8,52.4 737.3,55.7 737.9,59.5 738.4,64 739,69 739.5,74.3 740.1,79.7 740.6,85.1 741.1,90 741.7,94.4 742.2,98.2 742.8,101.3 743.3,103.8 743.9,105.6 744.4,107 745,108 745.5,108.8 746.1,109.2 746.6,109.5 747.1,109.7 747.7,109.7 748.2,109.7 748.8,109.5 749.3,109.1 749.9,108.6 750.4,107.8 751,106.7 751.5,105.1 752.1,103.1 752.6,100.5 753.2,97.2 753.7,93.2 754.2,88.6 754.8,83.5 755.3,78.1 755.9,72.7 756.4,67.5 757,62.6 757.5,58.3 758.1,54.6 758.6,51.6 759.2,49.1 759.7,47.2" fill="none" stroke="#e31a1c" stroke-width="1.8" stroke-linejoin="round" />
<line x1="685.4" y1="0.5" x2="685.4" y2="118.8" stroke="#1f77b4" stroke-width="1.3" stroke-dasharray="3.5,2"/>
<text transform="translate(749.6,42.5) rotate(-90) scale(1.1,1)" font-family="'Liberation Serif', serif" font-size="11" text-anchor="start" fill="#8e2a9e" >HI 1025</text>
</g>
<rect x="596.5" y="0.5" width="163.2" height="118.3" fill="none" stroke="#000" stroke-width="1.4"/>
<path d="M626.7 118.8V113.3M626.7 0.5V6M663 118.8V113.3M663 0.5V6M699.3 118.8V113.3M699.3 0.5V6M735.5 118.8V113.3M735.5 0.5V6M602.5 118.8V115.3M602.5 0.5V4M614.6 118.8V115.3M614.6 0.5V4M626.7 118.8V115.3M626.7 0.5V4M638.8 118.8V115.3M638.8 0.5V4M650.9 118.8V115.3M650.9 0.5V4M663 118.8V115.3M663 0.5V4M675.1 118.8V115.3M675.1 0.5V4M687.2 118.8V115.3M687.2 0.5V4M699.3 118.8V115.3M699.3 0.5V4M711.3 118.8V115.3M711.3 0.5V4M723.4 118.8V115.3M723.4 0.5V4M735.5 118.8V115.3M735.5 0.5V4M747.6 118.8V115.3M747.6 0.5V4M759.7 118.8V115.3M759.7 0.5V4M596.5 111.8H602M759.7 111.8H754.2M596.5 77H602M759.7 77H754.2M596.5 42.3H602M759.7 42.3H754.2M596.5 7.5H602M759.7 7.5H754.2M596.5 111.8H600M759.7 111.8H756.2M596.5 104.9H600M759.7 104.9H756.2M596.5 97.9H600M759.7 97.9H756.2M596.5 91H600M759.7 91H756.2M596.5 84H600M759.7 84H756.2M596.5 77H600M759.7 77H756.2M596.5 70.1H600M759.7 70.1H756.2M596.5 63.1H600M759.7 63.1H756.2M596.5 56.2H600M759.7 56.2H756.2M596.5 49.2H600M759.7 49.2H756.2M596.5 42.3H600M759.7 42.3H756.2M596.5 35.3H600M759.7 35.3H756.2M596.5 28.3H600M759.7 28.3H756.2M596.5 21.4H600M759.7 21.4H756.2M596.5 14.4H600M759.7 14.4H756.2M596.5 7.5H600M759.7 7.5H756.2M596.5 0.5H600M759.7 0.5H756.2" stroke="#000" stroke-width="1.1" fill="none" />
<text transform="translate(626.7,130.8) scale(1.1,1)" font-family="'Liberation Serif', serif" font-size="10.6" text-anchor="middle" fill="#000" >−600</text>
<text transform="translate(663,130.8) scale(1.1,1)" font-family="'Liberation Serif', serif" font-size="10.6" text-anchor="middle" fill="#000" >−300</text>
<text transform="translate(699.3,130.8) scale(1.1,1)" font-family="'Liberation Serif', serif" font-size="10.6" text-anchor="middle" fill="#000" >0</text>
<text transform="translate(735.5,130.8) scale(1.1,1)" font-family="'Liberation Serif', serif" font-size="10.6" text-anchor="middle" fill="#000" >300</text>
<text transform="translate(592.7,115.4) scale(1.1,1)" font-family="'Liberation Serif', serif" font-size="10.6" text-anchor="end" fill="#000" >0.0</text>
<text transform="translate(592.7,80.6) scale(1.1,1)" font-family="'Liberation Serif', serif" font-size="10.6" text-anchor="end" fill="#000" >0.5</text>
<text transform="translate(592.7,45.9) scale(1.1,1)" font-family="'Liberation Serif', serif" font-size="10.6" text-anchor="end" fill="#000" >1.0</text>
<text transform="translate(592.7,11.1) scale(1.1,1)" font-family="'Liberation Serif', serif" font-size="10.6" text-anchor="end" fill="#000" >1.5</text>
<text transform="translate(678.1,143.5) scale(1.1,1)" font-family="'Liberation Serif', serif" font-size="10.6" text-anchor="middle" fill="#000" >v [km s<tspan dy="-4.5" font-size="7.5">−1</tspan><tspan dy="4.5">]</tspan></text>
<text transform="translate(600.5,104.5) scale(1.1,1)" font-family="'Liberation Serif', serif" font-size="10.6" text-anchor="start" fill="#000" >C II 1334</text>
<defs><pattern id="hatch" width="3.3" height="3.3" patternUnits="userSpaceOnUse"><rect width="3.3" height="3.3" fill="#f8f8f8"/><rect width="1.65" height="1.65" fill="#ababab"/><rect x="1.65" y="1.65" width="1.65" height="1.65" fill="#ababab"/></pattern><pattern id="hatchp" width="3.3" height="3.3" patternUnits="userSpaceOnUse"><rect width="3.3" height="3.3" fill="#efd4ef"/><rect width="1.65" height="1.65" fill="#c9a6c9"/><rect x="1.65" y="1.65" width="1.65" height="1.65" fill="#c9a6c9"/></pattern></defs>
<clipPath id="c5"><rect x="31.1" y="171.5" width="157.9" height="157.9"/></clipPath>
<g clip-path="url(#c5)">
<rect x="31.1" y="171.5" width="157.9" height="157.9" fill="url(#hatch)" stroke="none" stroke-width="1" />
<path d="M63.3 288.4h2.5v2.5h-2.5zM63.3 286.2h2.5v2.5h-2.5zM65.5 288.4h2.5v2.5h-2.5zM65.5 283.9h2.5v2.5h-2.5zM67.7 288.4h2.5v2.5h-2.5zM72.1 286.2h2.5v2.5h-2.5zM72.1 283.9h2.5v2.5h-2.5z" fill="#67001f"/>
<path d="M65.5 286.2h2.5v2.5h-2.5zM67.7 286.2h2.5v2.5h-2.5zM67.7 283.9h2.5v2.5h-2.5zM67.7 281.7h2.5v2.5h-2.5zM69.9 288.4h2.5v2.5h-2.5zM69.9 283.9h2.5v2.5h-2.5zM69.9 279.5h2.5v2.5h-2.5zM72.1 279.5h2.5v2.5h-2.5zM74.3 286.2h2.5v2.5h-2.5zM74.3 283.9h2.5v2.5h-2.5z" fill="#770522"/>
<path d="M69.9 286.2h2.5v2.5h-2.5zM69.9 281.7h2.5v2.5h-2.5zM72.1 288.4h2.5v2.5h-2.5zM74.3 288.4h2.5v2.5h-2.5zM74.3 281.7h2.5v2.5h-2.5zM74.3 277.3h2.5v2.5h-2.5zM74.3 272.8h2.5v2.5h-2.5zM76.6 286.2h2.5v2.5h-2.5zM76.6 283.9h2.5v2.5h-2.5zM76.6 281.7h2.5v2.5h-2.5zM76.6 279.5h2.5v2.5h-2.5zM76.6 275.1h2.5v2.5h-2.5zM76.6 270.6h2.5v2.5h-2.5zM78.8 283.9h2.5v2.5h-2.5zM78.8 281.7h2.5v2.5h-2.5zM78.8 277.3h2.5v2.5h-2.5zM78.8 275.1h2.5v2.5h-2.5zM81 277.3h2.5v2.5h-2.5zM81 272.8h2.5v2.5h-2.5zM83.2 275.1h2.5v2.5h-2.5zM83.2 272.8h2.5v2.5h-2.5zM85.4 281.7h2.5v2.5h-2.5zM87.7 277.3h2.5v2.5h-2.5z" fill="#860a24"/>
<path d="M69.9 277.3h2.5v2.5h-2.5zM72.1 281.7h2.5v2.5h-2.5zM72.1 277.3h2.5v2.5h-2.5zM72.1 275.1h2.5v2.5h-2.5zM72.1 272.8h2.5v2.5h-2.5zM74.3 279.5h2.5v2.5h-2.5zM74.3 275.1h2.5v2.5h-2.5zM76.6 277.3h2.5v2.5h-2.5zM76.6 272.8h2.5v2.5h-2.5zM78.8 286.2h2.5v2.5h-2.5zM78.8 279.5h2.5v2.5h-2.5zM78.8 272.8h2.5v2.5h-2.5zM78.8 266.2h2.5v2.5h-2.5zM81 270.6h2.5v2.5h-2.5zM83.2 283.9h2.5v2.5h-2.5zM83.2 279.5h2.5v2.5h-2.5zM85.4 279.5h2.5v2.5h-2.5z" fill="#960f26"/>
<path d="M74.3 270.6h2.5v2.5h-2.5zM76.6 268.4h2.5v2.5h-2.5zM78.8 270.6h2.5v2.5h-2.5zM78.8 268.4h2.5v2.5h-2.5zM81 283.9h2.5v2.5h-2.5zM81 281.7h2.5v2.5h-2.5zM81 279.5h2.5v2.5h-2.5zM81 275.1h2.5v2.5h-2.5zM81 268.4h2.5v2.5h-2.5zM81 264h2.5v2.5h-2.5zM83.2 264h2.5v2.5h-2.5zM85.4 275.1h2.5v2.5h-2.5zM85.4 268.4h2.5v2.5h-2.5zM87.7 272.8h2.5v2.5h-2.5zM87.7 255.1h2.5v2.5h-2.5zM92.1 272.8h2.5v2.5h-2.5z" fill="#a61429"/>
<path d="M81 286.2h2.5v2.5h-2.5zM83.2 295h2.5v2.5h-2.5zM83.2 290.6h2.5v2.5h-2.5zM83.2 288.4h2.5v2.5h-2.5zM85.4 295h2.5v2.5h-2.5zM85.4 290.6h2.5v2.5h-2.5zM85.4 288.4h2.5v2.5h-2.5zM85.4 286.2h2.5v2.5h-2.5zM87.7 290.6h2.5v2.5h-2.5zM87.7 288.4h2.5v2.5h-2.5zM87.7 286.2h2.5v2.5h-2.5zM109.8 266.2h2.5v2.5h-2.5zM114.3 264h2.5v2.5h-2.5zM116.5 264h2.5v2.5h-2.5z" fill="#fbceb6"/>
<path d="M81 266.2h2.5v2.5h-2.5zM83.2 277.3h2.5v2.5h-2.5zM83.2 270.6h2.5v2.5h-2.5zM83.2 261.8h2.5v2.5h-2.5zM85.4 277.3h2.5v2.5h-2.5zM85.4 272.8h2.5v2.5h-2.5zM85.4 270.6h2.5v2.5h-2.5zM85.4 264h2.5v2.5h-2.5zM85.4 257.3h2.5v2.5h-2.5zM87.7 279.5h2.5v2.5h-2.5zM87.7 270.6h2.5v2.5h-2.5zM87.7 266.2h2.5v2.5h-2.5zM89.9 277.3h2.5v2.5h-2.5zM89.9 270.6h2.5v2.5h-2.5zM89.9 259.5h2.5v2.5h-2.5zM89.9 257.3h2.5v2.5h-2.5zM89.9 255.1h2.5v2.5h-2.5zM92.1 277.3h2.5v2.5h-2.5zM92.1 261.8h2.5v2.5h-2.5zM94.3 277.3h2.5v2.5h-2.5zM94.3 275.1h2.5v2.5h-2.5zM94.3 272.8h2.5v2.5h-2.5zM96.5 272.8h2.5v2.5h-2.5zM96.5 268.4h2.5v2.5h-2.5zM101 264h2.5v2.5h-2.5z" fill="#b41b2c"/>
<path d="M83.2 292.8h2.5v2.5h-2.5zM89.9 288.4h2.5v2.5h-2.5zM112 266.2h2.5v2.5h-2.5zM112 264h2.5v2.5h-2.5zM112 239.6h2.5v2.5h-2.5zM114.3 268.4h2.5v2.5h-2.5zM114.3 252.9h2.5v2.5h-2.5zM116.5 266.2h2.5v2.5h-2.5zM118.7 235.1h2.5v2.5h-2.5zM125.4 250.7h2.5v2.5h-2.5zM127.6 257.3h2.5v2.5h-2.5z" fill="#fdd9c4"/>
<path d="M83.2 286.2h2.5v2.5h-2.5zM85.4 292.8h2.5v2.5h-2.5zM114.3 266.2h2.5v2.5h-2.5zM118.7 264h2.5v2.5h-2.5z" fill="#f9c2a7"/>
<path d="M83.2 281.7h2.5v2.5h-2.5zM83.2 268.4h2.5v2.5h-2.5zM83.2 266.2h2.5v2.5h-2.5zM83.2 259.5h2.5v2.5h-2.5zM85.4 266.2h2.5v2.5h-2.5zM85.4 261.8h2.5v2.5h-2.5zM85.4 259.5h2.5v2.5h-2.5zM87.7 275.1h2.5v2.5h-2.5zM87.7 268.4h2.5v2.5h-2.5zM87.7 264h2.5v2.5h-2.5zM87.7 257.3h2.5v2.5h-2.5zM89.9 268.4h2.5v2.5h-2.5zM89.9 266.2h2.5v2.5h-2.5zM89.9 264h2.5v2.5h-2.5zM89.9 252.9h2.5v2.5h-2.5zM92.1 270.6h2.5v2.5h-2.5zM92.1 268.4h2.5v2.5h-2.5zM92.1 259.5h2.5v2.5h-2.5zM94.3 270.6h2.5v2.5h-2.5zM94.3 268.4h2.5v2.5h-2.5zM94.3 264h2.5v2.5h-2.5zM94.3 252.9h2.5v2.5h-2.5zM98.7 266.2h2.5v2.5h-2.5z" fill="#bb2a34"/>
<path d="M85.4 255.1h2.5v2.5h-2.5zM87.7 259.5h2.5v2.5h-2.5zM89.9 275.1h2.5v2.5h-2.5zM89.9 272.8h2.5v2.5h-2.5zM89.9 261.8h2.5v2.5h-2.5zM92.1 275.1h2.5v2.5h-2.5zM92.1 266.2h2.5v2.5h-2.5zM92.1 264h2.5v2.5h-2.5zM92.1 255.1h2.5v2.5h-2.5zM92.1 252.9h2.5v2.5h-2.5zM94.3 266.2h2.5v2.5h-2.5zM94.3 261.8h2.5v2.5h-2.5zM94.3 257.3h2.5v2.5h-2.5zM96.5 270.6h2.5v2.5h-2.5zM96.5 266.2h2.5v2.5h-2.5zM96.5 264h2.5v2.5h-2.5zM96.5 261.8h2.5v2.5h-2.5zM96.5 255.1h2.5v2.5h-2.5zM98.7 264h2.5v2.5h-2.5zM98.7 259.5h2.5v2.5h-2.5zM98.7 257.3h2.5v2.5h-2.5zM103.2 259.5h2.5v2.5h-2.5z" fill="#c3393b"/>
<path d="M85.4 246.2h2.5v2.5h-2.5zM87.7 239.6h2.5v2.5h-2.5zM87.7 237.4h2.5v2.5h-2.5zM92.1 239.6h2.5v2.5h-2.5zM118.7 224.1h2.5v2.5h-2.5zM132 232.9h2.5v2.5h-2.5zM132 228.5h2.5v2.5h-2.5zM132 224.1h2.5v2.5h-2.5zM132 219.6h2.5v2.5h-2.5zM132 217.4h2.5v2.5h-2.5zM134.2 239.6h2.5v2.5h-2.5zM134.2 215.2h2.5v2.5h-2.5z" fill="#9ac9e0"/>
<path d="M85.4 244h2.5v2.5h-2.5zM85.4 241.8h2.5v2.5h-2.5zM85.4 239.6h2.5v2.5h-2.5zM85.4 237.4h2.5v2.5h-2.5zM87.7 246.2h2.5v2.5h-2.5zM87.7 241.8h2.5v2.5h-2.5zM89.9 246.2h2.5v2.5h-2.5zM89.9 237.4h2.5v2.5h-2.5zM92.1 246.2h2.5v2.5h-2.5zM92.1 241.8h2.5v2.5h-2.5zM92.1 237.4h2.5v2.5h-2.5zM129.8 237.4h2.5v2.5h-2.5zM129.8 228.5h2.5v2.5h-2.5zM129.8 219.6h2.5v2.5h-2.5zM132 244h2.5v2.5h-2.5zM132 241.8h2.5v2.5h-2.5zM132 239.6h2.5v2.5h-2.5zM132 237.4h2.5v2.5h-2.5zM132 230.7h2.5v2.5h-2.5zM132 226.3h2.5v2.5h-2.5zM132 215.2h2.5v2.5h-2.5zM132 213h2.5v2.5h-2.5z" fill="#a7d0e4"/>
<path d="M87.7 292.8h2.5v2.5h-2.5zM89.9 290.6h2.5v2.5h-2.5zM96.5 235.1h2.5v2.5h-2.5zM96.5 232.9h2.5v2.5h-2.5zM98.7 232.9h2.5v2.5h-2.5zM101 239.6h2.5v2.5h-2.5zM103.2 244h2.5v2.5h-2.5zM103.2 235.1h2.5v2.5h-2.5zM105.4 235.1h2.5v2.5h-2.5zM105.4 232.9h2.5v2.5h-2.5zM107.6 246.2h2.5v2.5h-2.5zM107.6 241.8h2.5v2.5h-2.5zM107.6 235.1h2.5v2.5h-2.5zM109.8 248.5h2.5v2.5h-2.5zM109.8 237.4h2.5v2.5h-2.5zM112 268.4h2.5v2.5h-2.5zM112 255.1h2.5v2.5h-2.5zM112 250.7h2.5v2.5h-2.5zM112 237.4h2.5v2.5h-2.5zM114.3 261.8h2.5v2.5h-2.5zM114.3 259.5h2.5v2.5h-2.5zM114.3 257.3h2.5v2.5h-2.5zM116.5 259.5h2.5v2.5h-2.5zM116.5 255.1h2.5v2.5h-2.5zM116.5 244h2.5v2.5h-2.5zM118.7 239.6h2.5v2.5h-2.5zM120.9 257.3h2.5v2.5h-2.5zM120.9 250.7h2.5v2.5h-2.5zM120.9 241.8h2.5v2.5h-2.5zM120.9 239.6h2.5v2.5h-2.5zM120.9 237.4h2.5v2.5h-2.5zM123.1 255.1h2.5v2.5h-2.5zM123.1 250.7h2.5v2.5h-2.5zM123.1 248.5h2.5v2.5h-2.5zM123.1 244h2.5v2.5h-2.5zM123.1 241.8h2.5v2.5h-2.5zM125.4 259.5h2.5v2.5h-2.5zM125.4 246.2h2.5v2.5h-2.5zM125.4 244h2.5v2.5h-2.5zM127.6 252.9h2.5v2.5h-2.5zM132 248.5h2.5v2.5h-2.5zM160.8 228.5h2.5v2.5h-2.5zM160.8 226.3h2.5v2.5h-2.5zM160.8 224.1h2.5v2.5h-2.5zM160.8 221.8h2.5v2.5h-2.5zM163.1 228.5h2.5v2.5h-2.5zM163.1 226.3h2.5v2.5h-2.5zM163.1 224.1h2.5v2.5h-2.5zM163.1 221.8h2.5v2.5h-2.5zM165.3 228.5h2.5v2.5h-2.5zM165.3 226.3h2.5v2.5h-2.5zM165.3 224.1h2.5v2.5h-2.5zM165.3 221.8h2.5v2.5h-2.5z" fill="#fce0cf"/>
<path d="M87.7 261.8h2.5v2.5h-2.5zM87.7 252.9h2.5v2.5h-2.5zM92.1 257.3h2.5v2.5h-2.5zM94.3 259.5h2.5v2.5h-2.5zM94.3 255.1h2.5v2.5h-2.5zM96.5 275.1h2.5v2.5h-2.5zM96.5 259.5h2.5v2.5h-2.5zM96.5 257.3h2.5v2.5h-2.5zM96.5 252.9h2.5v2.5h-2.5zM98.7 268.4h2.5v2.5h-2.5zM98.7 261.8h2.5v2.5h-2.5zM98.7 255.1h2.5v2.5h-2.5zM101 266.2h2.5v2.5h-2.5zM101 255.1h2.5v2.5h-2.5zM103.2 261.8h2.5v2.5h-2.5zM103.2 257.3h2.5v2.5h-2.5z" fill="#ca4842"/>
<path d="M87.7 244h2.5v2.5h-2.5zM89.9 244h2.5v2.5h-2.5zM89.9 241.8h2.5v2.5h-2.5zM89.9 239.6h2.5v2.5h-2.5zM92.1 244h2.5v2.5h-2.5zM127.6 232.9h2.5v2.5h-2.5zM127.6 221.8h2.5v2.5h-2.5zM129.8 241.8h2.5v2.5h-2.5zM129.8 232.9h2.5v2.5h-2.5zM129.8 230.7h2.5v2.5h-2.5zM129.8 226.3h2.5v2.5h-2.5zM129.8 224.1h2.5v2.5h-2.5zM132 235.1h2.5v2.5h-2.5zM132 221.8h2.5v2.5h-2.5z" fill="#b4d6e8"/>
<path d="M92.1 232.9h2.5v2.5h-2.5zM94.3 239.6h2.5v2.5h-2.5zM94.3 237.4h2.5v2.5h-2.5zM94.3 235.1h2.5v2.5h-2.5zM94.3 232.9h2.5v2.5h-2.5zM96.5 239.6h2.5v2.5h-2.5zM96.5 237.4h2.5v2.5h-2.5zM96.5 230.7h2.5v2.5h-2.5zM98.7 241.8h2.5v2.5h-2.5zM98.7 237.4h2.5v2.5h-2.5zM98.7 235.1h2.5v2.5h-2.5zM98.7 230.7h2.5v2.5h-2.5zM101 244h2.5v2.5h-2.5zM101 237.4h2.5v2.5h-2.5zM101 232.9h2.5v2.5h-2.5zM101 230.7h2.5v2.5h-2.5zM103.2 246.2h2.5v2.5h-2.5zM103.2 241.8h2.5v2.5h-2.5zM103.2 239.6h2.5v2.5h-2.5zM105.4 244h2.5v2.5h-2.5zM105.4 241.8h2.5v2.5h-2.5zM105.4 239.6h2.5v2.5h-2.5zM105.4 237.4h2.5v2.5h-2.5zM107.6 248.5h2.5v2.5h-2.5zM107.6 244h2.5v2.5h-2.5zM107.6 239.6h2.5v2.5h-2.5zM107.6 237.4h2.5v2.5h-2.5zM109.8 250.7h2.5v2.5h-2.5zM109.8 246.2h2.5v2.5h-2.5zM109.8 244h2.5v2.5h-2.5zM109.8 239.6h2.5v2.5h-2.5zM112 252.9h2.5v2.5h-2.5zM112 248.5h2.5v2.5h-2.5zM112 246.2h2.5v2.5h-2.5zM112 244h2.5v2.5h-2.5zM112 241.8h2.5v2.5h-2.5zM112 235.1h2.5v2.5h-2.5zM114.3 255.1h2.5v2.5h-2.5zM114.3 250.7h2.5v2.5h-2.5zM114.3 246.2h2.5v2.5h-2.5zM114.3 244h2.5v2.5h-2.5zM114.3 241.8h2.5v2.5h-2.5zM114.3 239.6h2.5v2.5h-2.5zM114.3 237.4h2.5v2.5h-2.5zM114.3 232.9h2.5v2.5h-2.5zM116.5 261.8h2.5v2.5h-2.5zM116.5 257.3h2.5v2.5h-2.5zM116.5 252.9h2.5v2.5h-2.5zM116.5 250.7h2.5v2.5h-2.5zM116.5 246.2h2.5v2.5h-2.5zM116.5 239.6h2.5v2.5h-2.5zM116.5 235.1h2.5v2.5h-2.5zM118.7 261.8h2.5v2.5h-2.5zM118.7 259.5h2.5v2.5h-2.5zM118.7 257.3h2.5v2.5h-2.5zM118.7 255.1h2.5v2.5h-2.5zM118.7 252.9h2.5v2.5h-2.5zM118.7 250.7h2.5v2.5h-2.5zM118.7 248.5h2.5v2.5h-2.5zM118.7 246.2h2.5v2.5h-2.5zM118.7 244h2.5v2.5h-2.5zM118.7 241.8h2.5v2.5h-2.5zM118.7 237.4h2.5v2.5h-2.5zM120.9 255.1h2.5v2.5h-2.5zM120.9 248.5h2.5v2.5h-2.5zM120.9 244h2.5v2.5h-2.5zM123.1 257.3h2.5v2.5h-2.5zM123.1 252.9h2.5v2.5h-2.5zM123.1 239.6h2.5v2.5h-2.5zM125.4 257.3h2.5v2.5h-2.5zM125.4 255.1h2.5v2.5h-2.5zM125.4 241.8h2.5v2.5h-2.5zM125.4 239.6h2.5v2.5h-2.5zM127.6 259.5h2.5v2.5h-2.5zM127.6 248.5h2.5v2.5h-2.5zM127.6 246.2h2.5v2.5h-2.5zM129.8 255.1h2.5v2.5h-2.5zM129.8 252.9h2.5v2.5h-2.5zM129.8 248.5h2.5v2.5h-2.5zM129.8 246.2h2.5v2.5h-2.5zM132 255.1h2.5v2.5h-2.5zM132 252.9h2.5v2.5h-2.5zM132 250.7h2.5v2.5h-2.5z" fill="#fbe6d9"/>
<path d="M96.5 241.8h2.5v2.5h-2.5zM98.7 239.6h2.5v2.5h-2.5zM101 241.8h2.5v2.5h-2.5zM101 235.1h2.5v2.5h-2.5zM103.2 237.4h2.5v2.5h-2.5zM103.2 232.9h2.5v2.5h-2.5zM105.4 246.2h2.5v2.5h-2.5zM109.8 241.8h2.5v2.5h-2.5zM109.8 235.1h2.5v2.5h-2.5zM112 257.3h2.5v2.5h-2.5zM114.3 248.5h2.5v2.5h-2.5zM116.5 248.5h2.5v2.5h-2.5zM116.5 241.8h2.5v2.5h-2.5zM116.5 237.4h2.5v2.5h-2.5zM120.9 259.5h2.5v2.5h-2.5zM120.9 252.9h2.5v2.5h-2.5zM120.9 246.2h2.5v2.5h-2.5zM123.1 259.5h2.5v2.5h-2.5zM123.1 246.2h2.5v2.5h-2.5zM125.4 252.9h2.5v2.5h-2.5zM125.4 248.5h2.5v2.5h-2.5zM127.6 255.1h2.5v2.5h-2.5zM127.6 250.7h2.5v2.5h-2.5zM127.6 244h2.5v2.5h-2.5zM129.8 257.3h2.5v2.5h-2.5zM129.8 250.7h2.5v2.5h-2.5zM134.2 252.9h2.5v2.5h-2.5z" fill="#faebe3"/>
<path d="M98.7 252.9h2.5v2.5h-2.5zM101 261.8h2.5v2.5h-2.5zM101 259.5h2.5v2.5h-2.5zM101 257.3h2.5v2.5h-2.5zM101 252.9h2.5v2.5h-2.5zM103.2 255.1h2.5v2.5h-2.5zM105.4 255.1h2.5v2.5h-2.5z" fill="#d25749"/>
<path d="M103.2 277.3h2.5v2.5h-2.5zM103.2 272.8h2.5v2.5h-2.5zM103.2 268.4h2.5v2.5h-2.5zM105.4 277.3h2.5v2.5h-2.5zM105.4 275.1h2.5v2.5h-2.5zM105.4 268.4h2.5v2.5h-2.5zM107.6 268.4h2.5v2.5h-2.5zM116.5 232.9h2.5v2.5h-2.5zM118.7 232.9h2.5v2.5h-2.5zM120.9 235.1h2.5v2.5h-2.5zM120.9 232.9h2.5v2.5h-2.5zM120.9 230.7h2.5v2.5h-2.5z" fill="#d7e8f1"/>
<path d="M103.2 275.1h2.5v2.5h-2.5zM107.6 277.3h2.5v2.5h-2.5zM107.6 270.6h2.5v2.5h-2.5zM109.8 268.4h2.5v2.5h-2.5z" fill="#e7f0f4"/>
<path d="M103.2 270.6h2.5v2.5h-2.5zM105.4 272.8h2.5v2.5h-2.5zM105.4 270.6h2.5v2.5h-2.5zM107.6 275.1h2.5v2.5h-2.5zM107.6 272.8h2.5v2.5h-2.5zM109.8 277.3h2.5v2.5h-2.5zM109.8 275.1h2.5v2.5h-2.5zM109.8 272.8h2.5v2.5h-2.5zM109.8 270.6h2.5v2.5h-2.5zM116.5 230.7h2.5v2.5h-2.5zM118.7 230.7h2.5v2.5h-2.5z" fill="#dfecf3"/>
<path d="M103.2 252.9h2.5v2.5h-2.5zM105.4 252.9h2.5v2.5h-2.5z" fill="#d96651"/>
<path d="M105.4 228.5h2.5v2.5h-2.5zM107.6 228.5h2.5v2.5h-2.5zM107.6 226.3h2.5v2.5h-2.5zM109.8 228.5h2.5v2.5h-2.5zM112 226.3h2.5v2.5h-2.5zM114.3 228.5h2.5v2.5h-2.5zM114.3 226.3h2.5v2.5h-2.5zM116.5 228.5h2.5v2.5h-2.5zM120.9 226.3h2.5v2.5h-2.5zM134.2 235.1h2.5v2.5h-2.5zM134.2 232.9h2.5v2.5h-2.5zM134.2 228.5h2.5v2.5h-2.5zM134.2 221.8h2.5v2.5h-2.5zM134.2 219.6h2.5v2.5h-2.5z" fill="#8bc1dc"/>
<path d="M109.8 226.3h2.5v2.5h-2.5zM112 228.5h2.5v2.5h-2.5zM118.7 228.5h2.5v2.5h-2.5zM120.9 224.1h2.5v2.5h-2.5zM134.2 237.4h2.5v2.5h-2.5zM134.2 230.7h2.5v2.5h-2.5zM134.2 226.3h2.5v2.5h-2.5zM134.2 224.1h2.5v2.5h-2.5zM134.2 217.4h2.5v2.5h-2.5zM134.2 213h2.5v2.5h-2.5zM136.4 241.8h2.5v2.5h-2.5zM136.4 217.4h2.5v2.5h-2.5z" fill="#7bb6d6"/>
<path d="M114.3 235.1h2.5v2.5h-2.5z" fill="#f8f1ed"/>
<path d="M116.5 226.3h2.5v2.5h-2.5zM118.7 226.3h2.5v2.5h-2.5zM134.2 248.5h2.5v2.5h-2.5zM134.2 241.8h2.5v2.5h-2.5zM136.4 244h2.5v2.5h-2.5zM136.4 232.9h2.5v2.5h-2.5zM136.4 228.5h2.5v2.5h-2.5zM136.4 226.3h2.5v2.5h-2.5zM136.4 213h2.5v2.5h-2.5zM138.7 248.5h2.5v2.5h-2.5zM140.9 244h2.5v2.5h-2.5zM145.3 250.7h2.5v2.5h-2.5z" fill="#6aacd0"/>
<path d="M120.9 228.5h2.5v2.5h-2.5zM123.1 237.4h2.5v2.5h-2.5zM123.1 232.9h2.5v2.5h-2.5zM123.1 230.7h2.5v2.5h-2.5zM123.1 226.3h2.5v2.5h-2.5zM123.1 224.1h2.5v2.5h-2.5zM125.4 235.1h2.5v2.5h-2.5zM125.4 232.9h2.5v2.5h-2.5zM125.4 230.7h2.5v2.5h-2.5zM125.4 224.1h2.5v2.5h-2.5zM127.6 239.6h2.5v2.5h-2.5zM127.6 224.1h2.5v2.5h-2.5zM127.6 219.6h2.5v2.5h-2.5z" fill="#cee4ef"/>
<path d="M123.1 235.1h2.5v2.5h-2.5zM123.1 228.5h2.5v2.5h-2.5zM125.4 237.4h2.5v2.5h-2.5zM125.4 228.5h2.5v2.5h-2.5zM125.4 226.3h2.5v2.5h-2.5zM125.4 221.8h2.5v2.5h-2.5zM127.6 241.8h2.5v2.5h-2.5zM127.6 237.4h2.5v2.5h-2.5zM127.6 235.1h2.5v2.5h-2.5zM127.6 230.7h2.5v2.5h-2.5zM127.6 228.5h2.5v2.5h-2.5zM127.6 226.3h2.5v2.5h-2.5zM129.8 239.6h2.5v2.5h-2.5zM129.8 235.1h2.5v2.5h-2.5zM129.8 221.8h2.5v2.5h-2.5z" fill="#c1ddec"/>
<path d="M127.6 206.3h2.5v2.5h-2.5zM129.8 204.1h2.5v2.5h-2.5zM132 206.3h2.5v2.5h-2.5zM132 201.9h2.5v2.5h-2.5zM134.2 206.3h2.5v2.5h-2.5zM134.2 201.9h2.5v2.5h-2.5zM136.4 210.8h2.5v2.5h-2.5zM136.4 208.5h2.5v2.5h-2.5zM138.7 206.3h2.5v2.5h-2.5zM138.7 197.4h2.5v2.5h-2.5zM143.1 206.3h2.5v2.5h-2.5zM143.1 204.1h2.5v2.5h-2.5zM145.3 235.1h2.5v2.5h-2.5zM145.3 215.2h2.5v2.5h-2.5zM145.3 210.8h2.5v2.5h-2.5zM145.3 204.1h2.5v2.5h-2.5zM145.3 199.7h2.5v2.5h-2.5zM145.3 197.4h2.5v2.5h-2.5zM145.3 195.2h2.5v2.5h-2.5zM147.5 241.8h2.5v2.5h-2.5zM147.5 228.5h2.5v2.5h-2.5zM147.5 224.1h2.5v2.5h-2.5zM147.5 221.8h2.5v2.5h-2.5zM147.5 215.2h2.5v2.5h-2.5zM147.5 210.8h2.5v2.5h-2.5zM147.5 199.7h2.5v2.5h-2.5zM149.7 235.1h2.5v2.5h-2.5zM149.7 232.9h2.5v2.5h-2.5zM149.7 213h2.5v2.5h-2.5zM149.7 208.5h2.5v2.5h-2.5zM149.7 206.3h2.5v2.5h-2.5zM152 239.6h2.5v2.5h-2.5zM152 237.4h2.5v2.5h-2.5zM152 230.7h2.5v2.5h-2.5zM152 210.8h2.5v2.5h-2.5zM152 206.3h2.5v2.5h-2.5zM154.2 237.4h2.5v2.5h-2.5zM156.4 232.9h2.5v2.5h-2.5z" fill="#114680"/>
<path d="M129.8 210.8h2.5v2.5h-2.5zM136.4 201.9h2.5v2.5h-2.5zM138.7 210.8h2.5v2.5h-2.5zM138.7 204.1h2.5v2.5h-2.5zM138.7 201.9h2.5v2.5h-2.5zM138.7 199.7h2.5v2.5h-2.5zM140.9 206.3h2.5v2.5h-2.5zM143.1 199.7h2.5v2.5h-2.5zM143.1 197.4h2.5v2.5h-2.5zM145.3 232.9h2.5v2.5h-2.5zM147.5 226.3h2.5v2.5h-2.5zM147.5 219.6h2.5v2.5h-2.5zM147.5 213h2.5v2.5h-2.5zM147.5 208.5h2.5v2.5h-2.5zM147.5 206.3h2.5v2.5h-2.5zM147.5 195.2h2.5v2.5h-2.5zM149.7 239.6h2.5v2.5h-2.5zM149.7 228.5h2.5v2.5h-2.5zM149.7 226.3h2.5v2.5h-2.5zM149.7 224.1h2.5v2.5h-2.5zM149.7 221.8h2.5v2.5h-2.5zM149.7 219.6h2.5v2.5h-2.5zM149.7 217.4h2.5v2.5h-2.5zM149.7 215.2h2.5v2.5h-2.5zM149.7 210.8h2.5v2.5h-2.5zM152 228.5h2.5v2.5h-2.5zM152 226.3h2.5v2.5h-2.5zM152 224.1h2.5v2.5h-2.5zM152 221.8h2.5v2.5h-2.5zM152 219.6h2.5v2.5h-2.5zM152 217.4h2.5v2.5h-2.5zM152 215.2h2.5v2.5h-2.5zM152 213h2.5v2.5h-2.5zM154.2 235.1h2.5v2.5h-2.5zM154.2 230.7h2.5v2.5h-2.5zM154.2 228.5h2.5v2.5h-2.5zM154.2 226.3h2.5v2.5h-2.5zM154.2 224.1h2.5v2.5h-2.5zM154.2 221.8h2.5v2.5h-2.5zM154.2 219.6h2.5v2.5h-2.5zM154.2 217.4h2.5v2.5h-2.5zM154.2 215.2h2.5v2.5h-2.5zM154.2 213h2.5v2.5h-2.5zM156.4 237.4h2.5v2.5h-2.5zM156.4 230.7h2.5v2.5h-2.5zM156.4 228.5h2.5v2.5h-2.5zM156.4 226.3h2.5v2.5h-2.5zM156.4 224.1h2.5v2.5h-2.5zM156.4 221.8h2.5v2.5h-2.5zM156.4 219.6h2.5v2.5h-2.5zM156.4 217.4h2.5v2.5h-2.5zM156.4 215.2h2.5v2.5h-2.5zM156.4 213h2.5v2.5h-2.5zM158.6 230.7h2.5v2.5h-2.5zM158.6 228.5h2.5v2.5h-2.5zM158.6 226.3h2.5v2.5h-2.5zM158.6 224.1h2.5v2.5h-2.5zM158.6 221.8h2.5v2.5h-2.5zM158.6 219.6h2.5v2.5h-2.5zM158.6 217.4h2.5v2.5h-2.5zM160.8 230.7h2.5v2.5h-2.5z" fill="#0b3b71"/>
<path d="M129.8 208.5h2.5v2.5h-2.5zM132 208.5h2.5v2.5h-2.5zM132 204.1h2.5v2.5h-2.5zM134.2 210.8h2.5v2.5h-2.5zM136.4 204.1h2.5v2.5h-2.5zM136.4 199.7h2.5v2.5h-2.5zM140.9 210.8h2.5v2.5h-2.5zM140.9 204.1h2.5v2.5h-2.5zM140.9 201.9h2.5v2.5h-2.5zM140.9 199.7h2.5v2.5h-2.5zM140.9 197.4h2.5v2.5h-2.5zM143.1 210.8h2.5v2.5h-2.5zM143.1 208.5h2.5v2.5h-2.5zM143.1 201.9h2.5v2.5h-2.5zM145.3 241.8h2.5v2.5h-2.5zM145.3 239.6h2.5v2.5h-2.5zM145.3 237.4h2.5v2.5h-2.5zM145.3 230.7h2.5v2.5h-2.5zM145.3 219.6h2.5v2.5h-2.5zM145.3 208.5h2.5v2.5h-2.5zM145.3 206.3h2.5v2.5h-2.5zM145.3 201.9h2.5v2.5h-2.5zM147.5 239.6h2.5v2.5h-2.5zM147.5 237.4h2.5v2.5h-2.5zM147.5 235.1h2.5v2.5h-2.5zM147.5 232.9h2.5v2.5h-2.5zM147.5 230.7h2.5v2.5h-2.5zM147.5 217.4h2.5v2.5h-2.5zM147.5 204.1h2.5v2.5h-2.5zM147.5 201.9h2.5v2.5h-2.5zM147.5 197.4h2.5v2.5h-2.5zM149.7 241.8h2.5v2.5h-2.5zM149.7 237.4h2.5v2.5h-2.5zM149.7 230.7h2.5v2.5h-2.5zM149.7 204.1h2.5v2.5h-2.5zM149.7 199.7h2.5v2.5h-2.5zM152 241.8h2.5v2.5h-2.5zM152 235.1h2.5v2.5h-2.5zM152 208.5h2.5v2.5h-2.5zM152 201.9h2.5v2.5h-2.5zM154.2 239.6h2.5v2.5h-2.5zM154.2 206.3h2.5v2.5h-2.5zM156.4 235.1h2.5v2.5h-2.5z" fill="#165290"/>
<path d="M129.8 206.3h2.5v2.5h-2.5zM136.4 206.3h2.5v2.5h-2.5zM143.1 241.8h2.5v2.5h-2.5zM145.3 228.5h2.5v2.5h-2.5zM145.3 226.3h2.5v2.5h-2.5zM145.3 224.1h2.5v2.5h-2.5zM145.3 221.8h2.5v2.5h-2.5zM152 232.9h2.5v2.5h-2.5zM156.4 210.8h2.5v2.5h-2.5zM103.2 217.4h2.5v2.5h-2.5z" fill="#2268ad"/>
<path d="M132 210.8h2.5v2.5h-2.5zM134.2 208.5h2.5v2.5h-2.5zM134.2 204.1h2.5v2.5h-2.5zM138.7 208.5h2.5v2.5h-2.5zM140.9 208.5h2.5v2.5h-2.5zM143.1 237.4h2.5v2.5h-2.5zM143.1 226.3h2.5v2.5h-2.5zM143.1 195.2h2.5v2.5h-2.5zM145.3 217.4h2.5v2.5h-2.5zM145.3 213h2.5v2.5h-2.5zM149.7 201.9h2.5v2.5h-2.5zM152 204.1h2.5v2.5h-2.5zM154.2 232.9h2.5v2.5h-2.5zM154.2 210.8h2.5v2.5h-2.5zM154.2 208.5h2.5v2.5h-2.5z" fill="#1c5da0"/>
<path d="M134.2 250.7h2.5v2.5h-2.5zM134.2 246.2h2.5v2.5h-2.5zM134.2 244h2.5v2.5h-2.5zM136.4 250.7h2.5v2.5h-2.5zM136.4 246.2h2.5v2.5h-2.5zM136.4 239.6h2.5v2.5h-2.5zM136.4 237.4h2.5v2.5h-2.5zM136.4 230.7h2.5v2.5h-2.5zM136.4 224.1h2.5v2.5h-2.5zM136.4 221.8h2.5v2.5h-2.5zM136.4 215.2h2.5v2.5h-2.5zM138.7 246.2h2.5v2.5h-2.5zM138.7 244h2.5v2.5h-2.5zM138.7 239.6h2.5v2.5h-2.5zM138.7 237.4h2.5v2.5h-2.5zM140.9 246.2h2.5v2.5h-2.5zM143.1 250.7h2.5v2.5h-2.5zM143.1 246.2h2.5v2.5h-2.5zM145.3 248.5h2.5v2.5h-2.5zM145.3 246.2h2.5v2.5h-2.5zM145.3 244h2.5v2.5h-2.5z" fill="#5aa2cb"/>
<path d="M136.4 248.5h2.5v2.5h-2.5zM138.7 250.7h2.5v2.5h-2.5zM138.7 235.1h2.5v2.5h-2.5zM138.7 230.7h2.5v2.5h-2.5zM138.7 221.8h2.5v2.5h-2.5zM138.7 217.4h2.5v2.5h-2.5zM138.7 215.2h2.5v2.5h-2.5zM140.9 250.7h2.5v2.5h-2.5zM140.9 248.5h2.5v2.5h-2.5zM140.9 230.7h2.5v2.5h-2.5zM140.9 228.5h2.5v2.5h-2.5zM140.9 219.6h2.5v2.5h-2.5zM140.9 217.4h2.5v2.5h-2.5z" fill="#3f8dc0"/>
<path d="M136.4 235.1h2.5v2.5h-2.5zM136.4 219.6h2.5v2.5h-2.5zM138.7 241.8h2.5v2.5h-2.5zM138.7 232.9h2.5v2.5h-2.5zM138.7 226.3h2.5v2.5h-2.5zM138.7 213h2.5v2.5h-2.5zM143.1 248.5h2.5v2.5h-2.5zM143.1 244h2.5v2.5h-2.5z" fill="#4a97c5"/>
<path d="M138.7 228.5h2.5v2.5h-2.5zM138.7 224.1h2.5v2.5h-2.5zM140.9 241.8h2.5v2.5h-2.5zM140.9 239.6h2.5v2.5h-2.5zM140.9 237.4h2.5v2.5h-2.5zM140.9 224.1h2.5v2.5h-2.5zM140.9 213h2.5v2.5h-2.5z" fill="#3884bb"/>
<path d="M138.7 219.6h2.5v2.5h-2.5zM140.9 235.1h2.5v2.5h-2.5zM140.9 232.9h2.5v2.5h-2.5zM140.9 226.3h2.5v2.5h-2.5zM140.9 221.8h2.5v2.5h-2.5zM140.9 215.2h2.5v2.5h-2.5zM143.1 219.6h2.5v2.5h-2.5zM143.1 217.4h2.5v2.5h-2.5zM143.1 213h2.5v2.5h-2.5z" fill="#317bb7"/>
<path d="M143.1 239.6h2.5v2.5h-2.5zM143.1 235.1h2.5v2.5h-2.5zM143.1 232.9h2.5v2.5h-2.5zM143.1 230.7h2.5v2.5h-2.5zM143.1 228.5h2.5v2.5h-2.5zM143.1 224.1h2.5v2.5h-2.5zM143.1 221.8h2.5v2.5h-2.5zM143.1 215.2h2.5v2.5h-2.5z" fill="#2a71b2"/>
</g>
<clipPath id="wedgeclip1"><rect x="31.1" y="171.5" width="158" height="157.7"/></clipPath>
<g clip-path="url(#wedgeclip1)">
<polygon points="121.8,248 191.6,158.9 191.6,221" fill="rgba(232,130,232,0.36)" stroke="none" stroke-width="1" />
</g>
<path d="M121.8 248L191.6 158.9V221Z" fill="none" stroke="#ff00ff" stroke-opacity="0.45" stroke-width="0.6"/>
<line x1="31.1" y1="305.8" x2="191.6" y2="204.4" stroke="#000" stroke-width="1.5" />
<line x1="121.8" y1="248" x2="191.6" y2="195.1" stroke="#ff00ff" stroke-width="1.6" />
<polygon points="121.8,244.1 123.5,245.7 125.5,246.8 124.5,248.9 124.1,251.2 121.8,250.8 119.5,251.2 119.1,248.9 118.1,246.8 120.1,245.7" fill="#000" stroke="#000" stroke-width="1.8" stroke-linejoin="round"/>
<rect x="156" y="298" width="32.5" height="29.5" fill="rgba(255,255,255,0.82)" stroke="none" stroke-width="1" rx="1.5"/>
<polygon points="163.8,300.7 165,301.9 166.5,302.6 165.7,304.1 165.4,305.8 163.8,305.5 162.2,305.8 161.9,304.1 161.1,302.6 162.6,301.9" fill="#000" stroke="#000" stroke-width="1.3" stroke-linejoin="round"/>
<line x1="157.2" y1="312.1" x2="170.4" y2="312.1" stroke="#333" stroke-width="1.5" />
<line x1="157.2" y1="320.7" x2="170.4" y2="320.7" stroke="#ff00ff" stroke-width="1.4" />
<text transform="translate(174.5,305.8)" font-family="'Liberation Sans', sans-serif" font-size="6.8" text-anchor="start" fill="#000"  stroke="#000" stroke-width="0.18">GC</text>
<text transform="translate(174.5,314.2)" font-family="'Liberation Sans', sans-serif" font-size="6.8" text-anchor="start" fill="#000"  stroke="#000" stroke-width="0.18">PA</text>
<text transform="translate(174.5,322.8)" font-family="'Liberation Sans', sans-serif" font-size="6.8" text-anchor="start" fill="#000"  stroke="#000" stroke-width="0.18">QA</text>
<rect x="31.1" y="171.5" width="157.9" height="157.9" fill="none" stroke="#444" stroke-width="0.9"/>
<path d="M31.1 329.4V331.9M75.5 329.4V331.9M119.8 329.4V331.9M164.2 329.4V331.9M31.1 329.4H28.6M31.1 307.2H28.6M31.1 285H28.6M31.1 262.9H28.6M31.1 240.7H28.6M31.1 218.5H28.6M31.1 196.3H28.6M31.1 174.2H28.6" stroke="#444" stroke-width="0.8" fill="none" />
<text transform="translate(31.1,339.7) scale(1.1,1)" font-family="'Liberation Sans', sans-serif" font-size="8.7" text-anchor="middle" fill="#000"  stroke="#000" stroke-width="0.18">0</text>
<text transform="translate(75.5,339.7) scale(1.1,1)" font-family="'Liberation Sans', sans-serif" font-size="8.7" text-anchor="middle" fill="#000"  stroke="#000" stroke-width="0.18">20</text>
<text transform="translate(119.8,339.7) scale(1.1,1)" font-family="'Liberation Sans', sans-serif" font-size="8.7" text-anchor="middle" fill="#000"  stroke="#000" stroke-width="0.18">40</text>
<text transform="translate(164.2,339.7) scale(1.1,1)" font-family="'Liberation Sans', sans-serif" font-size="8.7" text-anchor="middle" fill="#000"  stroke="#000" stroke-width="0.18">60</text>
<text transform="translate(27.6,332.5) scale(1.1,1)" font-family="'Liberation Sans', sans-serif" font-size="8.7" text-anchor="end" fill="#000"  stroke="#000" stroke-width="0.18">0</text>
<text transform="translate(27.6,310.3) scale(1.1,1)" font-family="'Liberation Sans', sans-serif" font-size="8.7" text-anchor="end" fill="#000"  stroke="#000" stroke-width="0.18">10</text>
<text transform="translate(27.6,288.1) scale(1.1,1)" font-family="'Liberation Sans', sans-serif" font-size="8.7" text-anchor="end" fill="#000"  stroke="#000" stroke-width="0.18">20</text>
<text transform="translate(27.6,266) scale(1.1,1)" font-family="'Liberation Sans', sans-serif" font-size="8.7" text-anchor="end" fill="#000"  stroke="#000" stroke-width="0.18">30</text>
<text transform="translate(27.6,243.8) scale(1.1,1)" font-family="'Liberation Sans', sans-serif" font-size="8.7" text-anchor="end" fill="#000"  stroke="#000" stroke-width="0.18">40</text>
<text transform="translate(27.6,221.6) scale(1.1,1)" font-family="'Liberation Sans', sans-serif" font-size="8.7" text-anchor="end" fill="#000"  stroke="#000" stroke-width="0.18">50</text>
<text transform="translate(27.6,199.4) scale(1.1,1)" font-family="'Liberation Sans', sans-serif" font-size="8.7" text-anchor="end" fill="#000"  stroke="#000" stroke-width="0.18">60</text>
<text transform="translate(27.6,177.3) scale(1.1,1)" font-family="'Liberation Sans', sans-serif" font-size="8.7" text-anchor="end" fill="#000"  stroke="#000" stroke-width="0.18">70</text>
<text transform="translate(110,347.6) scale(1,1)" font-family="'Liberation Sans', sans-serif" font-size="9.2" text-anchor="middle" fill="#000"  stroke="#000" stroke-width="0.18">Declination (spaxel)</text>
<text transform="translate(13,250) rotate(-90) scale(1,1)" font-family="'Liberation Sans', sans-serif" font-size="9.2" text-anchor="middle" fill="#000"  stroke="#000" stroke-width="0.18">Right Ascension(spaxel)</text>
<text transform="translate(110,168.6) scale(1,1)" font-family="'Liberation Sans', sans-serif" font-size="9.2" text-anchor="middle" fill="#000"  stroke="#000" stroke-width="0.18">Stellar Radial Velocity</text>
<text transform="translate(38.5,188) scale(1.1,1)" font-family="'Liberation Sans', sans-serif" font-size="8.7" text-anchor="start" fill="#000"  stroke="#000" stroke-width="0.18">1-180522</text>
<defs><linearGradient id="rdbu" x1="0" y1="1" x2="0" y2="0"><stop offset="0.000" stop-color="#053061"/><stop offset="0.100" stop-color="#2166ac"/><stop offset="0.200" stop-color="#4393c3"/><stop offset="0.300" stop-color="#92c5de"/><stop offset="0.400" stop-color="#d1e5f0"/><stop offset="0.500" stop-color="#f7f7f7"/><stop offset="0.600" stop-color="#fddbc7"/><stop offset="0.700" stop-color="#f4a582"/><stop offset="0.800" stop-color="#d6604d"/><stop offset="0.900" stop-color="#b2182b"/><stop offset="1.000" stop-color="#67001f"/></linearGradient></defs>
<rect x="199.7" y="171.5" width="7.7" height="157.5" fill="url(#rdbu)" stroke="none" stroke-width="1" />
<text transform="translate(211.5,182.5) scale(1.1,1)" font-family="'Liberation Sans', sans-serif" font-size="8.7" text-anchor="start" fill="#000"  stroke="#000" stroke-width="0.18">90</text>
<text transform="translate(211.5,206.1) scale(1.1,1)" font-family="'Liberation Sans', sans-serif" font-size="8.7" text-anchor="start" fill="#000"  stroke="#000" stroke-width="0.18">60</text>
<text transform="translate(211.5,229.7) scale(1.1,1)" font-family="'Liberation Sans', sans-serif" font-size="8.7" text-anchor="start" fill="#000"  stroke="#000" stroke-width="0.18">30</text>
<text transform="translate(211.5,253.3) scale(1.1,1)" font-family="'Liberation Sans', sans-serif" font-size="8.7" text-anchor="start" fill="#000"  stroke="#000" stroke-width="0.18">0</text>
<text transform="translate(211.5,277) scale(1.1,1)" font-family="'Liberation Sans', sans-serif" font-size="8.7" text-anchor="start" fill="#000"  stroke="#000" stroke-width="0.18">-30</text>
<text transform="translate(211.5,300.6) scale(1.1,1)" font-family="'Liberation Sans', sans-serif" font-size="8.7" text-anchor="start" fill="#000"  stroke="#000" stroke-width="0.18">-60</text>
<text transform="translate(211.5,324.2) scale(1.1,1)" font-family="'Liberation Sans', sans-serif" font-size="8.7" text-anchor="start" fill="#000"  stroke="#000" stroke-width="0.18">-90</text>
<text transform="translate(236.5,250) rotate(-90) scale(1,1)" font-family="'Liberation Sans', sans-serif" font-size="9.2" text-anchor="middle" fill="#000"  stroke="#000" stroke-width="0.18">km/s</text>
<clipPath id="c6"><rect x="274.6" y="171.5" width="215" height="157.8"/></clipPath>
<g clip-path="url(#c6)">
<path d="M274.8 321.7V300.5M272.8 321.7H276.8M272.8 300.5H276.8M274.9 295.1V285.9M272.9 295.1H276.9M272.9 285.9H276.9M277.9 317.9V301M275.9 317.9H279.9M275.9 301H279.9M278.8 326.3V305.7M276.8 326.3H280.8M276.8 305.7H280.8M279.3 308.5V295.4M277.3 308.5H281.3M277.3 295.4H281.3M279.4 305.9V293.1M277.4 305.9H281.4M277.4 293.1H281.4M279.8 300.1V290.1M277.8 300.1H281.8M277.8 290.1H281.8M281 303.4V283.3M279 303.4H283M279 283.3H283M281.4 299.6V286.7M279.4 299.6H283.4M279.4 286.7H283.4M281.9 322.4V299.1M279.9 322.4H283.9M279.9 299.1H283.9M282.2 296.2V283.2M280.2 296.2H284.2M280.2 283.2H284.2M284 319.2V303.9M282 319.2H286M282 303.9H286M285 300.5V274.9M283 300.5H287M283 274.9H287M285.1 312.8V302.2M283.1 312.8H287.1M283.1 302.2H287.1M287.9 324.4V300.8M285.9 324.4H289.9M285.9 300.8H289.9M288 301V285.8M286 301H290M286 285.8H290M288.6 297.3V287.8M286.6 297.3H290.6M286.6 287.8H290.6M292.1 297.9V287.5M290.1 297.9H294.1M290.1 287.5H294.1M292.9 313.5V299M290.9 313.5H294.9M290.9 299H294.9M293.3 306.1V283.5M291.3 306.1H295.3M291.3 283.5H295.3M293.9 308.3V270.8M291.9 308.3H295.9M291.9 270.8H295.9M294.1 302.3V279.7M292.1 302.3H296.1M292.1 279.7H296.1M294.7 302V275.6M292.7 302H296.7M292.7 275.6H296.7M295.3 284.2V275M293.3 284.2H297.3M293.3 275H297.3M295.6 294.8V279.9M293.6 294.8H297.6M293.6 279.9H297.6M295.6 296.1V286.6M293.6 296.1H297.6M293.6 286.6H297.6M296.5 310.8V282M294.5 310.8H298.5M294.5 282H298.5M297.3 304.9V281.9M295.3 304.9H299.3M295.3 281.9H299.3M297.6 309.5V294.7M295.6 309.5H299.6M295.6 294.7H299.6M297.7 289.8V278.2M295.7 289.8H299.7M295.7 278.2H299.7M298.6 293.2V271.1M296.6 293.2H300.6M296.6 271.1H300.6M303.5 294.5V282M301.5 294.5H305.5M301.5 282H305.5M305 294.1V267.8M303 294.1H307M303 267.8H307M305.6 309.2V289.3M303.6 309.2H307.6M303.6 289.3H307.6M307.3 305.5V279.7M305.3 305.5H309.3M305.3 279.7H309.3M308.1 295.5V267.9M306.1 295.5H310.1M306.1 267.9H310.1M308.5 266.9V253.1M306.5 266.9H310.5M306.5 253.1H310.5M308.7 287.7V272.5M306.7 287.7H310.7M306.7 272.5H310.7M309 275.3V254M307 275.3H311M307 254H311M309 283.5V274M307 283.5H311M307 274H311M313.3 299.7V290.4M311.3 299.7H315.3M311.3 290.4H315.3M314.2 284V265.3M312.2 284H316.2M312.2 265.3H316.2M314.3 288.8V278.7M312.3 288.8H316.3M312.3 278.7H316.3M314.6 290V280.7M312.6 290H316.6M312.6 280.7H316.6M314.9 289.2V263.3M312.9 289.2H316.9M312.9 263.3H316.9M315.2 284.4V272.3M313.2 284.4H317.2M313.2 272.3H317.2M315.3 301.9V244.3M313.3 301.9H317.3M313.3 244.3H317.3M315.3 299.5V279.4M313.3 299.5H317.3M313.3 279.4H317.3M315.6 298.1V278.8M313.6 298.1H317.6M313.6 278.8H317.6M315.8 281.4V259.1M313.8 281.4H317.8M313.8 259.1H317.8M316.2 289.7V280.2M314.2 289.7H318.2M314.2 280.2H318.2M316.7 285.3V272.9M314.7 285.3H318.7M314.7 272.9H318.7M317.4 276.7V264M315.4 276.7H319.4M315.4 264H319.4M318.1 284.7V270.4M316.1 284.7H320.1M316.1 270.4H320.1M319.6 283.3V273.5M317.6 283.3H321.6M317.6 273.5H321.6M320.1 272.8V263.2M318.1 272.8H322.1M318.1 263.2H322.1M320.3 297.7V263.1M318.3 297.7H322.3M318.3 263.1H322.3M320.4 291V273.6M318.4 291H322.4M318.4 273.6H322.4M320.7 283.5V269.3M318.7 283.5H322.7M318.7 269.3H322.7M322.6 276.8V258.4M320.6 276.8H324.6M320.6 258.4H324.6M324.8 279.4V263.6M322.8 279.4H326.8M322.8 263.6H326.8M324.8 290V271.5M322.8 290H326.8M322.8 271.5H326.8M325.2 279.5V258.5M323.2 279.5H327.2M323.2 258.5H327.2M325.7 274.9V255.4M323.7 274.9H327.7M323.7 255.4H327.7M327.2 282V262.2M325.2 282H329.2M325.2 262.2H329.2M329.3 286.2V263.1M327.3 286.2H331.3M327.3 263.1H331.3M329.5 277.8V262.1M327.5 277.8H331.5M327.5 262.1H331.5M330 292.2V258M328 292.2H332M328 258H332M330.2 271.1V258.9M328.2 271.1H332.2M328.2 258.9H332.2M331.9 273.7V258.5M329.9 273.7H333.9M329.9 258.5H333.9M332.1 279.2V259.3M330.1 279.2H334.1M330.1 259.3H334.1M335 281.8V259.8M333 281.8H337M333 259.8H337M335.4 287.4V259.3M333.4 287.4H337.4M333.4 259.3H337.4M337.6 283V267.9M335.6 283H339.6M335.6 267.9H339.6M338.6 278.2V261.1M336.6 278.2H340.6M336.6 261.1H340.6M340.2 276.4V254.2M338.2 276.4H342.2M338.2 254.2H342.2M340.6 285.5V262.5M338.6 285.5H342.6M338.6 262.5H342.6M340.9 290.3V262.7M338.9 290.3H342.9M338.9 262.7H342.9M342.9 264.1V236.6M340.9 264.1H344.9M340.9 236.6H344.9M343.1 276.1V261.7M341.1 276.1H345.1M341.1 261.7H345.1M343.2 273.3V255.1M341.2 273.3H345.2M341.2 255.1H345.2M343.9 277.5V263.4M341.9 277.5H345.9M341.9 263.4H345.9M344.1 279.8V263.1M342.1 279.8H346.1M342.1 263.1H346.1M344.1 288.2V264.6M342.1 288.2H346.1M342.1 264.6H346.1M344.7 266V253.8M342.7 266H346.7M342.7 253.8H346.7M345.8 280.5V250.9M343.8 280.5H347.8M343.8 250.9H347.8M349.2 262.3V248M347.2 262.3H351.2M347.2 248H351.2M349.3 274.6V255.2M347.3 274.6H351.3M347.3 255.2H351.3M351.5 255V245.3M349.5 255H353.5M349.5 245.3H353.5M351.5 274V252.9M349.5 274H353.5M349.5 252.9H353.5M351.6 286.8V245.6M349.6 286.8H353.6M349.6 245.6H353.6M352.4 265.5V253.4M350.4 265.5H354.4M350.4 253.4H354.4M352.5 245.3V235.1M350.5 245.3H354.5M350.5 235.1H354.5M352.8 275.4V264.8M350.8 275.4H354.8M350.8 264.8H354.8M353.5 272.7V256.5M351.5 272.7H355.5M351.5 256.5H355.5M354.2 285.7V276.6M352.2 285.7H356.2M352.2 276.6H356.2M354.6 274.5V260.2M352.6 274.5H356.6M352.6 260.2H356.6M355.7 269.4V253.9M353.7 269.4H357.7M353.7 253.9H357.7M356.5 275.4V258.3M354.5 275.4H358.5M354.5 258.3H358.5M359.2 271.1V256.5M357.2 271.1H361.2M357.2 256.5H361.2M359.7 283.6V266.8M357.7 283.6H361.7M357.7 266.8H361.7M360.4 263.5V240.6M358.4 263.5H362.4M358.4 240.6H362.4M361 272.9V255.4M359 272.9H363M359 255.4H363M361.7 268.2V258.7M359.7 268.2H363.7M359.7 258.7H363.7M362.3 263.2V234.7M360.3 263.2H364.3M360.3 234.7H364.3M362.7 266.2V248.4M360.7 266.2H364.7M360.7 248.4H364.7M364.8 287.5V266.7M362.8 287.5H366.8M362.8 266.7H366.8M365.4 275V238.9M363.4 275H367.4M363.4 238.9H367.4M365.6 269.5V252.7M363.6 269.5H367.6M363.6 252.7H367.6M365.7 256.3V244.5M363.7 256.3H367.7M363.7 244.5H367.7M367.6 268.6V243.8M365.6 268.6H369.6M365.6 243.8H369.6M367.7 262.1V246.2M365.7 262.1H369.7M365.7 246.2H369.7M370.7 268V233.2M368.7 268H372.7M368.7 233.2H372.7M371 277.5V256.3M369 277.5H373M369 256.3H373M373.3 270.1V238.5M371.3 270.1H375.3M371.3 238.5H375.3M374.4 267.1V251.4M372.4 267.1H376.4M372.4 251.4H376.4M374.8 263.5V233.2M372.8 263.5H376.8M372.8 233.2H376.8M375.9 276.4V252.7M373.9 276.4H377.9M373.9 252.7H377.9M375.9 274.5V250.7M373.9 274.5H377.9M373.9 250.7H377.9M376.3 278.4V249.3M374.3 278.4H378.3M374.3 249.3H378.3M378.5 270.4V240.8M376.5 270.4H380.5M376.5 240.8H380.5M378.7 268.9V247.6M376.7 268.9H380.7M376.7 247.6H380.7M379.5 260.7V230.6M377.5 260.7H381.5M377.5 230.6H381.5M379.8 274.1V262.5M377.8 274.1H381.8M377.8 262.5H381.8M380.1 263.2V250.9M378.1 263.2H382.1M378.1 250.9H382.1M381.8 242.3V225.9M379.8 242.3H383.8M379.8 225.9H383.8M382.5 251V241.7M380.5 251H384.5M380.5 241.7H384.5M384.9 266.8V239.5M382.9 266.8H386.9M382.9 239.5H386.9M386.1 263.4V245.8M384.1 263.4H388.1M384.1 245.8H388.1M386.6 265.7V246.7M384.6 265.7H388.6M384.6 246.7H388.6M387.4 265V242.6M385.4 265H389.4M385.4 242.6H389.4M387.5 270.7V257.8M385.5 270.7H389.5M385.5 257.8H389.5M388.5 271V253.2M386.5 271H390.5M386.5 253.2H390.5M388.7 273.9V246.9M386.7 273.9H390.7M386.7 246.9H390.7M388.8 260.7V238.5M386.8 260.7H390.8M386.8 238.5H390.8M388.8 246.6V237.1M386.8 246.6H390.8M386.8 237.1H390.8M389.1 252.7V240M387.1 252.7H391.1M387.1 240H391.1M390.2 262.3V230.9M388.2 262.3H392.2M388.2 230.9H392.2M390.6 265.5V229.1M388.6 265.5H392.6M388.6 229.1H392.6M390.8 266.6V245.7M388.8 266.6H392.8M388.8 245.7H392.8M391.2 273.1V264M389.2 273.1H393.2M389.2 264H393.2M391.3 260.9V241.1M389.3 260.9H393.3M389.3 241.1H393.3M391.5 271.9V238.3M389.5 271.9H393.5M389.5 238.3H393.5M391.9 255.7V238.8M389.9 255.7H393.9M389.9 238.8H393.9M392.3 252.4V217.5M390.3 252.4H394.3M390.3 217.5H394.3M392.9 261.1V246.8M390.9 261.1H394.9M390.9 246.8H394.9M393.3 258.5V227.3M391.3 258.5H395.3M391.3 227.3H395.3M394.3 260.1V249.8M392.3 260.1H396.3M392.3 249.8H396.3M394.6 266.2V250.6M392.6 266.2H396.6M392.6 250.6H396.6M395 267.7V256.2M393 267.7H397M393 256.2H397M396.5 249.8V237.4M394.5 249.8H398.5M394.5 237.4H398.5M396.5 253.7V244.7M394.5 253.7H398.5M394.5 244.7H398.5M397.3 264V247.7M395.3 264H399.3M395.3 247.7H399.3M401.7 263.3V246.7M399.7 263.3H403.7M399.7 246.7H403.7M403.6 237.8V222.5M401.6 237.8H405.6M401.6 222.5H405.6M403.9 253.4V225.2M401.9 253.4H405.9M401.9 225.2H405.9M404 247.4V235.3M402 247.4H406M402 235.3H406M404.3 257.6V245.2M402.3 257.6H406.3M402.3 245.2H406.3M404.6 263.5V242.1M402.6 263.5H406.6M402.6 242.1H406.6M404.6 267.5V248.4M402.6 267.5H406.6M402.6 248.4H406.6M406.5 241.2V227.6M404.5 241.2H408.5M404.5 227.6H408.5M407.4 264.2V231.2M405.4 264.2H409.4M405.4 231.2H409.4M407.7 242.6V225M405.7 242.6H409.7M405.7 225H409.7M409.5 244.6V232.7M407.5 244.6H411.5M407.5 232.7H411.5M409.6 261.5V246.8M407.6 261.5H411.6M407.6 246.8H411.6M410.8 259.7V246.5M408.8 259.7H412.8M408.8 246.5H412.8M411.8 254.3V234.6M409.8 254.3H413.8M409.8 234.6H413.8M412.6 240.2V230.6M410.6 240.2H414.6M410.6 230.6H414.6M412.8 253.7V230.4M410.8 253.7H414.8M410.8 230.4H414.8M413.6 259.8V231.3M411.6 259.8H415.6M411.6 231.3H415.6M413.8 250.6V237.2M411.8 250.6H415.8M411.8 237.2H415.8M415.4 255.3V230.8M413.4 255.3H417.4M413.4 230.8H417.4M417.8 247.8V233.6M415.8 247.8H419.8M415.8 233.6H419.8M419.6 259.4V221.7M417.6 259.4H421.6M417.6 221.7H421.6M420.7 254.3V238.2M418.7 254.3H422.7M418.7 238.2H422.7M420.7 243.4V230.9M418.7 243.4H422.7M418.7 230.9H422.7M421 258.7V248.6M419 258.7H423M419 248.6H423M422.1 254.4V230.1M420.1 254.4H424.1M420.1 230.1H424.1M422.2 253.6V236.5M420.2 253.6H424.2M420.2 236.5H424.2M424.4 255.7V243.2M422.4 255.7H426.4M422.4 243.2H426.4M297.4 327.4V282.3M295.4 327.4H299.4M295.4 282.3H299.4M411.3 271.7V204M409.3 271.7H413.3M409.3 204H413.3M343.9 377.7V224.4M341.9 377.7H345.9M341.9 224.4H345.9M353.9 366.4V73.4M351.9 366.4H355.9M351.9 73.4H355.9M322.1 380.5V87.4M320.1 380.5H324.1M320.1 87.4H324.1M431.3 260.3V143.1M429.3 260.3H433.3M429.3 143.1H433.3M310 332.9V265.3M308 332.9H312M308 265.3H312M293.5 425.5V294.8M291.5 425.5H295.5M291.5 294.8H295.5M353.6 360.4V157.6M351.6 360.4H355.6M351.6 157.6H355.6M294.1 401.5V270.8M292.1 401.5H296.1M292.1 270.8H296.1M291.2 327.8V183.5M289.2 327.8H293.2M289.2 183.5H293.2M437.3 295.1V177.9M435.3 295.1H439.3M435.3 177.9H439.3M311.9 326.9V295.3M309.9 326.9H313.9M309.9 295.3H313.9M433.3 260.8V53.4M431.3 260.8H435.3M431.3 53.4H435.3M432.4 353.2V199.9M430.4 353.2H434.4M430.4 199.9H434.4M401.7 269.5V75.6M399.7 269.5H403.7M399.7 75.6H403.7M406.1 288.1V170.9M404.1 288.1H408.1M404.1 170.9H408.1M338.5 309.3V237.1M336.5 309.3H340.5M336.5 237.1H340.5M321.1 284.7V230.6M319.1 284.7H323.1M319.1 230.6H323.1M370.4 296.8V89.4M368.4 296.8H372.4M368.4 89.4H372.4M338.5 362.7V231.9M336.5 362.7H340.5M336.5 231.9H340.5" stroke="#8a8a8a" stroke-width="0.7" fill="none" />
<path d="M275.1 304.4V286.4M273.1 304.4H277.1M273.1 286.4H277.1M275.1 308.7V293.4M273.1 308.7H277.1M273.1 293.4H277.1M275.3 319.9V309.9M273.3 319.9H277.3M273.3 309.9H277.3M277 305.8V291.9M275 305.8H279M275 291.9H279M277.8 316.9V300.8M275.8 316.9H279.8M275.8 300.8H279.8M278.6 312.5V295.2M276.6 312.5H280.6M276.6 295.2H280.6M279.9 317.7V296.5M277.9 317.7H281.9M277.9 296.5H281.9M279.9 311.8V300.4M277.9 311.8H281.9M277.9 300.4H281.9M280.1 304.1V278.1M278.1 304.1H282.1M278.1 278.1H282.1M280.2 300.4V283.4M278.2 300.4H282.2M278.2 283.4H282.2M280.8 323.2V307.2M278.8 323.2H282.8M278.8 307.2H282.8M280.9 303.2V290.8M278.9 303.2H282.9M278.9 290.8H282.9M281.2 329.9V284.2M279.2 329.9H283.2M279.2 284.2H283.2M281.5 307.8V298.5M279.5 307.8H283.5M279.5 298.5H283.5M281.7 311.1V297.1M279.7 311.1H283.7M279.7 297.1H283.7M282.6 315V302.1M280.6 315H284.6M280.6 302.1H284.6M283.8 336.7V315.9M281.8 336.7H285.8M281.8 315.9H285.8M284.1 312.2V299.7M282.1 312.2H286.1M282.1 299.7H286.1M284.9 325.5V295.2M282.9 325.5H286.9M282.9 295.2H286.9M285.1 316.7V290.5M283.1 316.7H287.1M283.1 290.5H287.1M285.8 303.8V293.8M283.8 303.8H287.8M283.8 293.8H287.8M287 302.4V284.1M285 302.4H289M285 284.1H289M287.8 315.9V303M285.8 315.9H289.8M285.8 303H289.8M287.9 314.1V297.7M285.9 314.1H289.9M285.9 297.7H289.9M288.3 308.2V292M286.3 308.2H290.3M286.3 292H290.3M290 308.5V297M288 308.5H292M288 297H292M290.2 304.9V271.8M288.2 304.9H292.2M288.2 271.8H292.2M290.4 306.8V280.8M288.4 306.8H292.4M288.4 280.8H292.4M290.8 311.4V279.2M288.8 311.4H292.8M288.8 279.2H292.8M291.2 304V278.4M289.2 304H293.2M289.2 278.4H293.2M292 300.9V283.3M290 300.9H294M290 283.3H294M292.9 300V283.1M290.9 300H294.9M290.9 283.1H294.9M294.6 315V276.8M292.6 315H296.6M292.6 276.8H296.6M295.8 299.6V281.1M293.8 299.6H297.8M293.8 281.1H297.8M295.9 288.3V277.6M293.9 288.3H297.9M293.9 277.6H297.9M297.3 297.8V282.8M295.3 297.8H299.3M295.3 282.8H299.3M299.1 306.3V277.1M297.1 306.3H301.1M297.1 277.1H301.1M299.8 301.9V278M297.8 301.9H301.8M297.8 278H301.8M299.9 291.3V276.1M297.9 291.3H301.9M297.9 276.1H301.9M299.9 279.1V269.6M297.9 279.1H301.9M297.9 269.6H301.9M301.2 293.8V283M299.2 293.8H303.2M299.2 283H303.2M301.4 278.8V264.9M299.4 278.8H303.4M299.4 264.9H303.4M301.6 288.9V263.7M299.6 288.9H303.6M299.6 263.7H303.6M302.1 309.2V295.1M300.1 309.2H304.1M300.1 295.1H304.1M302.8 296.6V278.5M300.8 296.6H304.8M300.8 278.5H304.8M302.9 287.6V277.5M300.9 287.6H304.9M300.9 277.5H304.9M303.9 287.2V267.7M301.9 287.2H305.9M301.9 267.7H305.9M304 305.4V260.6M302 305.4H306M302 260.6H306M305.2 293V281M303.2 293H307.2M303.2 281H307.2M305.9 294.8V269M303.9 294.8H307.9M303.9 269H307.9M307.4 282.6V272.1M305.4 282.6H309.4M305.4 272.1H309.4M308.7 305V290.2M306.7 305H310.7M306.7 290.2H310.7M309.4 283V263.1M307.4 283H311.4M307.4 263.1H311.4M310.7 276.1V264.7M308.7 276.1H312.7M308.7 264.7H312.7M311.2 296.5V281.5M309.2 296.5H313.2M309.2 281.5H313.2M311.3 295.8V283.3M309.3 295.8H313.3M309.3 283.3H313.3M311.7 281.6V267.7M309.7 281.6H313.7M309.7 267.7H313.7M312.6 302V276.6M310.6 302H314.6M310.6 276.6H314.6M313.6 297.9V273.5M311.6 297.9H315.6M311.6 273.5H315.6M314.1 287.1V276.2M312.1 287.1H316.1M312.1 276.2H316.1M315.5 272.3V253M313.5 272.3H317.5M313.5 253H317.5M315.9 283.7V259.2M313.9 283.7H317.9M313.9 259.2H317.9M317.2 291.5V273.3M315.2 291.5H319.2M315.2 273.3H319.2M317.3 280.1V265.5M315.3 280.1H319.3M315.3 265.5H319.3M318.6 290.8V260.2M316.6 290.8H320.6M316.6 260.2H320.6M318.7 296V269.5M316.7 296H320.7M316.7 269.5H320.7M318.7 285.9V256.7M316.7 285.9H320.7M316.7 256.7H320.7M318.8 276.4V267.1M316.8 276.4H320.8M316.8 267.1H320.8M319.7 294.1V274.8M317.7 294.1H321.7M317.7 274.8H321.7M320.1 294.5V273M318.1 294.5H322.1M318.1 273H322.1M320.6 281.2V266.3M318.6 281.2H322.6M318.6 266.3H322.6M320.8 294.8V278.1M318.8 294.8H322.8M318.8 278.1H322.8M321 287.3V272.4M319 287.3H323M319 272.4H323M321.5 288.1V272.7M319.5 288.1H323.5M319.5 272.7H323.5M323.4 264.2V246.8M321.4 264.2H325.4M321.4 246.8H325.4M323.8 266.6V254.5M321.8 266.6H325.8M321.8 254.5H325.8M323.9 273.4V247M321.9 273.4H325.9M321.9 247H325.9M324.1 268.6V253.9M322.1 268.6H326.1M322.1 253.9H326.1M324.2 284V271.4M322.2 284H326.2M322.2 271.4H326.2M324.3 297.2V256.2M322.3 297.2H326.3M322.3 256.2H326.3M324.4 292.3V274.1M322.4 292.3H326.4M322.4 274.1H326.4M324.4 278.6V252.2M322.4 278.6H326.4M322.4 252.2H326.4M325.4 278.9V267.8M323.4 278.9H327.4M323.4 267.8H327.4M326.1 285V264M324.1 285H328.1M324.1 264H328.1M326.4 284.5V270.2M324.4 284.5H328.4M324.4 270.2H328.4M328.7 281.3V262.9M326.7 281.3H330.7M326.7 262.9H330.7M328.8 275.2V253.3M326.8 275.2H330.8M326.8 253.3H330.8M329.3 282.7V264.5M327.3 282.7H331.3M327.3 264.5H331.3M329.7 288.2V273.7M327.7 288.2H331.7M327.7 273.7H331.7M330.6 286.4V269.9M328.6 286.4H332.6M328.6 269.9H332.6M330.8 271V253.3M328.8 271H332.8M328.8 253.3H332.8M331.7 283.3V266.9M329.7 283.3H333.7M329.7 266.9H333.7M331.7 285.3V259.3M329.7 285.3H333.7M329.7 259.3H333.7M332.3 293.2V267.2M330.3 293.2H334.3M330.3 267.2H334.3M332.4 298.5V267.6M330.4 298.5H334.4M330.4 267.6H334.4M332.8 277.1V259.4M330.8 277.1H334.8M330.8 259.4H334.8M334.2 282.1V272.3M332.2 282.1H336.2M332.2 272.3H336.2M334.2 276.8V267.2M332.2 276.8H336.2M332.2 267.2H336.2M334.2 272.4V256.6M332.2 272.4H336.2M332.2 256.6H336.2M335.8 293.7V261.9M333.8 293.7H337.8M333.8 261.9H337.8M336.1 275.2V260M334.1 275.2H338.1M334.1 260H338.1M336.4 256.7V242.5M334.4 256.7H338.4M334.4 242.5H338.4M337.9 286.1V272.7M335.9 286.1H339.9M335.9 272.7H339.9M338.3 275.9V265.5M336.3 275.9H340.3M336.3 265.5H340.3M338.6 263.3V252M336.6 263.3H340.6M336.6 252H340.6M339.6 272.5V263.3M337.6 272.5H341.6M337.6 263.3H341.6M339.7 275.8V259M337.7 275.8H341.7M337.7 259H341.7M342.5 275.2V256.4M340.5 275.2H344.5M340.5 256.4H344.5M342.9 285.8V272.1M340.9 285.8H344.9M340.9 272.1H344.9M343 272.4V262.6M341 272.4H345M341 262.6H345M343 275V260.1M341 275H345M341 260.1H345M343.9 265.2V251.5M341.9 265.2H345.9M341.9 251.5H345.9M344.3 274.6V258.3M342.3 274.6H346.3M342.3 258.3H346.3M345 246.1V236.5M343 246.1H347M343 236.5H347M346.6 265.3V235.2M344.6 265.3H348.6M344.6 235.2H348.6M346.7 284.5V268M344.7 284.5H348.7M344.7 268H348.7M347.2 266.5V245.7M345.2 266.5H349.2M345.2 245.7H349.2M348.3 259.8V243M346.3 259.8H350.3M346.3 243H350.3M348.6 273.3V253.5M346.6 273.3H350.6M346.6 253.5H350.6M350.9 275.6V256.1M348.9 275.6H352.9M348.9 256.1H352.9M351 267.8V258.7M349 267.8H353M349 258.7H353M351.2 271.5V240.8M349.2 271.5H353.2M349.2 240.8H353.2M351.2 285.9V267.5M349.2 285.9H353.2M349.2 267.5H353.2M352 262.8V241.2M350 262.8H354M350 241.2H354M353.3 273.4V251.6M351.3 273.4H355.3M351.3 251.6H355.3M353.6 255.7V243.9M351.6 255.7H355.6M351.6 243.9H355.6M353.9 275V258.7M351.9 275H355.9M351.9 258.7H355.9M354.1 280.6V264.1M352.1 280.6H356.1M352.1 264.1H356.1M354.2 279.8V266.9M352.2 279.8H356.2M352.2 266.9H356.2M354.5 265.6V255.5M352.5 265.6H356.5M352.5 255.5H356.5M354.9 264V237.8M352.9 264H356.9M352.9 237.8H356.9M355.6 284.9V261.4M353.6 284.9H357.6M353.6 261.4H357.6M356 280.4V264.2M354 280.4H358M354 264.2H358M356.1 269.1V255.3M354.1 269.1H358.1M354.1 255.3H358.1M360.5 273.4V256.9M358.5 273.4H362.5M358.5 256.9H362.5M360.8 278.5V248.7M358.8 278.5H362.8M358.8 248.7H362.8M362.4 255.3V245.1M360.4 255.3H364.4M360.4 245.1H364.4M363.2 279.6V255M361.2 279.6H365.2M361.2 255H365.2M363.5 266.5V248.4M361.5 266.5H365.5M361.5 248.4H365.5M364.2 279.2V245.1M362.2 279.2H366.2M362.2 245.1H366.2M365 272.1V255.4M363 272.1H367M363 255.4H367M365.4 269.9V258.4M363.4 269.9H367.4M363.4 258.4H367.4M367.1 258.4V239.9M365.1 258.4H369.1M365.1 239.9H369.1M367.1 278.5V267.2M365.1 278.5H369.1M365.1 267.2H369.1M367.4 265.3V243.3M365.4 265.3H369.4M365.4 243.3H369.4M368.2 276.5V246.5M366.2 276.5H370.2M366.2 246.5H370.2M369.1 268.2V241.9M367.1 268.2H371.1M367.1 241.9H371.1M369.6 290V258.1M367.6 290H371.6M367.6 258.1H371.6M370 270.9V248.2M368 270.9H372M368 248.2H372M372.6 266.7V253.7M370.6 266.7H374.6M370.6 253.7H374.6M372.8 272.7V251.3M370.8 272.7H374.8M370.8 251.3H374.8M373.3 255.8V237.5M371.3 255.8H375.3M371.3 237.5H375.3M374.5 243.9V234.7M372.5 243.9H376.5M372.5 234.7H376.5M374.8 265.6V254.2M372.8 265.6H376.8M372.8 254.2H376.8M375.2 259V242.4M373.2 259H377.2M373.2 242.4H377.2M376.2 260.5V248.5M374.2 260.5H378.2M374.2 248.5H378.2M376.7 278.6V254.6M374.7 278.6H378.7M374.7 254.6H378.7M377 263.6V250.6M375 263.6H379M375 250.6H379M378.5 280.1V253.4M376.5 280.1H380.5M376.5 253.4H380.5M378.8 261.4V238.7M376.8 261.4H380.8M376.8 238.7H380.8M380.2 254.8V241M378.2 254.8H382.2M378.2 241H382.2M380.3 245.1V220.2M378.3 245.1H382.3M378.3 220.2H382.3M380.4 261.3V245.9M378.4 261.3H382.4M378.4 245.9H382.4M380.5 267.6V237M378.5 267.6H382.5M378.5 237H382.5M380.9 264.8V252.8M378.9 264.8H382.9M378.9 252.8H382.9M382 273.3V240.2M380 273.3H384M380 240.2H384M382.3 259.6V238.8M380.3 259.6H384.3M380.3 238.8H384.3M383.1 272.8V255.3M381.1 272.8H385.1M381.1 255.3H385.1M384 278.8V250.4M382 278.8H386M382 250.4H386M384.5 272.7V254.6M382.5 272.7H386.5M382.5 254.6H386.5M385.6 256.6V237M383.6 256.6H387.6M383.6 237H387.6M385.6 264.7V254M383.6 264.7H387.6M383.6 254H387.6M385.8 251.5V224M383.8 251.5H387.8M383.8 224H387.8M385.8 267.8V249.8M383.8 267.8H387.8M383.8 249.8H387.8M386.1 257.8V243.1M384.1 257.8H388.1M384.1 243.1H388.1M386.5 268.3V255.2M384.5 268.3H388.5M384.5 255.2H388.5M387.7 263.1V244.2M385.7 263.1H389.7M385.7 244.2H389.7M387.9 268.7V253.3M385.9 268.7H389.9M385.9 253.3H389.9M388 250V239.9M386 250H390M386 239.9H390M388.2 276.6V247.3M386.2 276.6H390.2M386.2 247.3H390.2M388.9 271.1V253.9M386.9 271.1H390.9M386.9 253.9H390.9M389.1 256.4V238.1M387.1 256.4H391.1M387.1 238.1H391.1M389.9 266.4V244.2M387.9 266.4H391.9M387.9 244.2H391.9M391.7 259.3V241.8M389.7 259.3H393.7M389.7 241.8H393.7M393.7 261.8V236.1M391.7 261.8H395.7M391.7 236.1H395.7M395.2 271.7V262.4M393.2 271.7H397.2M393.2 262.4H397.2M395.6 257.1V236.6M393.6 257.1H397.6M393.6 236.6H397.6M395.7 251.6V240.4M393.7 251.6H397.7M393.7 240.4H397.7M395.9 265V248.3M393.9 265H397.9M393.9 248.3H397.9M396.6 260.4V240.7M394.6 260.4H398.6M394.6 240.7H398.6M396.9 268.7V245M394.9 268.7H398.9M394.9 245H398.9M397.4 252.9V235.1M395.4 252.9H399.4M395.4 235.1H399.4M397.5 256.2V235.8M395.5 256.2H399.5M395.5 235.8H399.5M397.9 261.6V241.4M395.9 261.6H399.9M395.9 241.4H399.9M398 251.9V232.8M396 251.9H400M396 232.8H400M399.3 263.7V227.4M397.3 263.7H401.3M397.3 227.4H401.3M400.6 266.6V252.6M398.6 266.6H402.6M398.6 252.6H402.6M401.3 248.4V225.9M399.3 248.4H403.3M399.3 225.9H403.3M401.5 258.4V240.3M399.5 258.4H403.5M399.5 240.3H403.5M401.6 245.4V218.5M399.6 245.4H403.6M399.6 218.5H403.6M402 281.5V249.8M400 281.5H404M400 249.8H404M402.4 250.1V235.8M400.4 250.1H404.4M400.4 235.8H404.4M402.5 245.2V222.2M400.5 245.2H404.5M400.5 222.2H404.5M403.1 258.5V241.4M401.1 258.5H405.1M401.1 241.4H405.1M403.2 255.4V237M401.2 255.4H405.2M401.2 237H405.2M404.9 260.7V251.2M402.9 260.7H406.9M402.9 251.2H406.9M405.1 256.3V240M403.1 256.3H407.1M403.1 240H407.1M406.4 254V231.8M404.4 254H408.4M404.4 231.8H408.4M406.5 236.5V226.9M404.5 236.5H408.5M404.5 226.9H408.5M407 249.5V239.7M405 249.5H409M405 239.7H409M407.1 256.8V233.5M405.1 256.8H409.1M405.1 233.5H409.1M407.2 251.8V234.2M405.2 251.8H409.2M405.2 234.2H409.2M407.8 258.4V245.4M405.8 258.4H409.8M405.8 245.4H409.8M408 254.6V243.5M406 254.6H410M406 243.5H410M408.1 271.2V245.3M406.1 271.2H410.1M406.1 245.3H410.1M408.2 269.1V246.5M406.2 269.1H410.2M406.2 246.5H410.2M408.2 248.6V237.7M406.2 248.6H410.2M406.2 237.7H410.2M409.1 246V230.6M407.1 246H411.1M407.1 230.6H411.1M409.2 245.4V232.7M407.2 245.4H411.2M407.2 232.7H411.2M409.7 245.1V217.5M407.7 245.1H411.7M407.7 217.5H411.7M409.7 247.2V236.7M407.7 247.2H411.7M407.7 236.7H411.7M409.7 257.1V241.2M407.7 257.1H411.7M407.7 241.2H411.7M409.8 252.1V240.3M407.8 252.1H411.8M407.8 240.3H411.8M410.9 260.1V244.2M408.9 260.1H412.9M408.9 244.2H412.9M411 249V239M409 249H413M409 239H413M411.5 254.4V244M409.5 254.4H413.5M409.5 244H413.5M411.7 257.9V231.2M409.7 257.9H413.7M409.7 231.2H413.7M412 274.3V243.6M410 274.3H414M410 243.6H414M412.8 238.2V220.2M410.8 238.2H414.8M410.8 220.2H414.8M412.8 266V236.9M410.8 266H414.8M410.8 236.9H414.8M413 245.9V229.6M411 245.9H415M411 229.6H415M414.8 257.4V244.5M412.8 257.4H416.8M412.8 244.5H416.8M415.2 254.4V244.1M413.2 254.4H417.2M413.2 244.1H417.2M415.6 241.6V228.3M413.6 241.6H417.6M413.6 228.3H417.6M416.7 258.2V229.6M414.7 258.2H418.7M414.7 229.6H418.7M416.7 245.9V228.1M414.7 245.9H418.7M414.7 228.1H418.7M417 258.4V226.6M415 258.4H419M415 226.6H419M417.4 252.5V239.5M415.4 252.5H419.4M415.4 239.5H419.4M417.7 248.2V228.3M415.7 248.2H419.7M415.7 228.3H419.7M419.3 241.2V229.2M417.3 241.2H421.3M417.3 229.2H421.3M419.4 238.3V226.6M417.4 238.3H421.4M417.4 226.6H421.4M419.4 252.8V228.4M417.4 252.8H421.4M417.4 228.4H421.4M419.6 242.7V229.9M417.6 242.7H421.6M417.6 229.9H421.6M420.4 255.8V240.3M418.4 255.8H422.4M418.4 240.3H422.4M421.4 265.3V250.6M419.4 265.3H423.4M419.4 250.6H423.4M421.9 258.6V244.8M419.9 258.6H423.9M419.9 244.8H423.9M421.9 246.3V232.4M419.9 246.3H423.9M419.9 232.4H423.9M423.8 251.3V237.6M421.8 251.3H425.8M421.8 237.6H425.8M424.1 257.6V246.8M422.1 257.6H426.1M422.1 246.8H426.1M424.1 262.4V226.5M422.1 262.4H426.1M422.1 226.5H426.1M358.8 364.7V71.6M356.8 364.7H360.8M356.8 71.6H360.8M284.7 300.3V246.2M282.7 300.3H286.7M282.7 246.2H286.7M428.6 306.2V234.1M426.6 306.2H430.6M426.6 234.1H430.6M422.9 261.1V53.7M420.9 261.1H424.9M420.9 53.7H424.9M279.5 361.5V127.1M277.5 361.5H281.5M277.5 127.1H281.5M383.7 363.9V161M381.7 363.9H385.7M381.7 161H385.7M414.2 243.2V139.5M412.2 243.2H416.2M412.2 139.5H416.2M367.2 272.5V65.1M365.2 272.5H369.2M365.2 65.1H369.2M363.1 264.9V57.5M361.1 264.9H365.1M361.1 57.5H365.1M313.4 423V220.1M311.4 423H315.4M311.4 220.1H315.4M330.7 287.4V80M328.7 287.4H332.7M328.7 80H332.7M430.8 274V228.9M428.8 274H432.8M428.8 228.9H432.8M416.9 263.9V70.1M414.9 263.9H418.9M414.9 70.1H418.9M285.3 353V208.7M283.3 353H287.3M283.3 208.7H287.3M353.8 318.9V224.3M351.8 318.9H355.8M351.8 224.3H355.8M303.3 352.5V257.8M301.3 352.5H305.3M301.3 257.8H305.3M410.1 279.3V72M408.1 279.3H412.1M408.1 72H412.1M325.9 326.5V182.2M323.9 326.5H327.9M323.9 182.2H327.9M286.3 353.7V209.4M284.3 353.7H288.3M284.3 209.4H288.3M422.5 285.1V50.7M420.5 285.1H424.5M420.5 50.7H424.5M427.7 309V236.9M425.7 309H429.7M425.7 236.9H429.7M415 263.1V231.6M413 263.1H417M413 231.6H417M321.1 394.1V101.1M319.1 394.1H323.1M319.1 101.1H323.1M304.6 304.5V250.4M302.6 304.5H306.6M302.6 250.4H306.6M370.5 293.5V189.8M368.5 293.5H372.5M368.5 189.8H372.5M435.9 185V167M433.9 185H437.9M433.9 167H437.9M440.2 203.1V185M438.2 203.1H442.2M438.2 185H442.2M440.2 224.7V211.2M438.2 224.7H442.2M438.2 211.2H442.2M438 237.8V227M436 237.8H440M436 227H440M474.6 234.6V221.1M472.6 234.6H476.6M472.6 221.1H476.6M476.7 212.1V194M474.7 212.1H478.7M474.7 194H478.7M478.9 205.3V182.8M476.9 205.3H480.9M476.9 182.8H480.9M427.2 293.2V270.7M425.2 293.2H429.2M425.2 270.7H429.2M429.4 304.5V277.5M427.4 304.5H431.4M427.4 277.5H431.4M423 272.9V254.9M421 272.9H425M421 254.9H425M291.8 329.3V194M289.8 329.3H293.8M289.8 194H293.8M382.1 338.3V302.2M380.1 338.3H384.1M380.1 302.2H384.1M371.4 315.8V288.7M369.4 315.8H373.4M369.4 288.7H373.4" stroke="#1a1a1a" stroke-width="0.7" fill="none" />
<path d="M273.1 311.1a1.7 1.7 0 1 0 3.4 0a1.7 1.7 0 1 0 -3.4 0M273.2 290.5a1.7 1.7 0 1 0 3.4 0a1.7 1.7 0 1 0 -3.4 0M273.4 295.4a1.7 1.7 0 1 0 3.4 0a1.7 1.7 0 1 0 -3.4 0M273.4 301.1a1.7 1.7 0 1 0 3.4 0a1.7 1.7 0 1 0 -3.4 0M273.6 314.9a1.7 1.7 0 1 0 3.4 0a1.7 1.7 0 1 0 -3.4 0M275.3 298.8a1.7 1.7 0 1 0 3.4 0a1.7 1.7 0 1 0 -3.4 0M276.1 308.8a1.7 1.7 0 1 0 3.4 0a1.7 1.7 0 1 0 -3.4 0M276.2 309.4a1.7 1.7 0 1 0 3.4 0a1.7 1.7 0 1 0 -3.4 0M276.9 303.9a1.7 1.7 0 1 0 3.4 0a1.7 1.7 0 1 0 -3.4 0M277.1 316a1.7 1.7 0 1 0 3.4 0a1.7 1.7 0 1 0 -3.4 0M277.6 301.9a1.7 1.7 0 1 0 3.4 0a1.7 1.7 0 1 0 -3.4 0M277.7 299.5a1.7 1.7 0 1 0 3.4 0a1.7 1.7 0 1 0 -3.4 0M278.1 295.1a1.7 1.7 0 1 0 3.4 0a1.7 1.7 0 1 0 -3.4 0M278.2 307.1a1.7 1.7 0 1 0 3.4 0a1.7 1.7 0 1 0 -3.4 0M278.2 306.1a1.7 1.7 0 1 0 3.4 0a1.7 1.7 0 1 0 -3.4 0M278.4 291.1a1.7 1.7 0 1 0 3.4 0a1.7 1.7 0 1 0 -3.4 0M278.5 291.9a1.7 1.7 0 1 0 3.4 0a1.7 1.7 0 1 0 -3.4 0M279.1 315.2a1.7 1.7 0 1 0 3.4 0a1.7 1.7 0 1 0 -3.4 0M279.2 297a1.7 1.7 0 1 0 3.4 0a1.7 1.7 0 1 0 -3.4 0M279.3 293.4a1.7 1.7 0 1 0 3.4 0a1.7 1.7 0 1 0 -3.4 0M279.5 307a1.7 1.7 0 1 0 3.4 0a1.7 1.7 0 1 0 -3.4 0M279.7 293.2a1.7 1.7 0 1 0 3.4 0a1.7 1.7 0 1 0 -3.4 0M279.8 303.1a1.7 1.7 0 1 0 3.4 0a1.7 1.7 0 1 0 -3.4 0M280 304.1a1.7 1.7 0 1 0 3.4 0a1.7 1.7 0 1 0 -3.4 0M280.2 310.8a1.7 1.7 0 1 0 3.4 0a1.7 1.7 0 1 0 -3.4 0M280.5 289.7a1.7 1.7 0 1 0 3.4 0a1.7 1.7 0 1 0 -3.4 0M280.9 308.5a1.7 1.7 0 1 0 3.4 0a1.7 1.7 0 1 0 -3.4 0M282.1 326.3a1.7 1.7 0 1 0 3.4 0a1.7 1.7 0 1 0 -3.4 0M282.3 311.5a1.7 1.7 0 1 0 3.4 0a1.7 1.7 0 1 0 -3.4 0M282.4 306a1.7 1.7 0 1 0 3.4 0a1.7 1.7 0 1 0 -3.4 0M283.2 310.4a1.7 1.7 0 1 0 3.4 0a1.7 1.7 0 1 0 -3.4 0M283.3 287.7a1.7 1.7 0 1 0 3.4 0a1.7 1.7 0 1 0 -3.4 0M283.4 307.5a1.7 1.7 0 1 0 3.4 0a1.7 1.7 0 1 0 -3.4 0M283.4 303.6a1.7 1.7 0 1 0 3.4 0a1.7 1.7 0 1 0 -3.4 0M284.1 298.8a1.7 1.7 0 1 0 3.4 0a1.7 1.7 0 1 0 -3.4 0M285.3 293.3a1.7 1.7 0 1 0 3.4 0a1.7 1.7 0 1 0 -3.4 0M286.1 309.4a1.7 1.7 0 1 0 3.4 0a1.7 1.7 0 1 0 -3.4 0M286.2 312.6a1.7 1.7 0 1 0 3.4 0a1.7 1.7 0 1 0 -3.4 0M286.2 305.9a1.7 1.7 0 1 0 3.4 0a1.7 1.7 0 1 0 -3.4 0M286.3 293.4a1.7 1.7 0 1 0 3.4 0a1.7 1.7 0 1 0 -3.4 0M286.6 300.1a1.7 1.7 0 1 0 3.4 0a1.7 1.7 0 1 0 -3.4 0M286.9 292.6a1.7 1.7 0 1 0 3.4 0a1.7 1.7 0 1 0 -3.4 0M288.3 302.8a1.7 1.7 0 1 0 3.4 0a1.7 1.7 0 1 0 -3.4 0M288.5 288.4a1.7 1.7 0 1 0 3.4 0a1.7 1.7 0 1 0 -3.4 0M288.7 293.8a1.7 1.7 0 1 0 3.4 0a1.7 1.7 0 1 0 -3.4 0M289.1 295.3a1.7 1.7 0 1 0 3.4 0a1.7 1.7 0 1 0 -3.4 0M289.5 291.2a1.7 1.7 0 1 0 3.4 0a1.7 1.7 0 1 0 -3.4 0M290.3 292.1a1.7 1.7 0 1 0 3.4 0a1.7 1.7 0 1 0 -3.4 0M290.4 292.7a1.7 1.7 0 1 0 3.4 0a1.7 1.7 0 1 0 -3.4 0M291.2 306.3a1.7 1.7 0 1 0 3.4 0a1.7 1.7 0 1 0 -3.4 0M291.2 291.6a1.7 1.7 0 1 0 3.4 0a1.7 1.7 0 1 0 -3.4 0M291.6 294.8a1.7 1.7 0 1 0 3.4 0a1.7 1.7 0 1 0 -3.4 0M292.2 289.6a1.7 1.7 0 1 0 3.4 0a1.7 1.7 0 1 0 -3.4 0M292.4 291a1.7 1.7 0 1 0 3.4 0a1.7 1.7 0 1 0 -3.4 0M292.9 295.9a1.7 1.7 0 1 0 3.4 0a1.7 1.7 0 1 0 -3.4 0M293 288.8a1.7 1.7 0 1 0 3.4 0a1.7 1.7 0 1 0 -3.4 0M293.6 279.6a1.7 1.7 0 1 0 3.4 0a1.7 1.7 0 1 0 -3.4 0M293.9 287.3a1.7 1.7 0 1 0 3.4 0a1.7 1.7 0 1 0 -3.4 0M293.9 291.3a1.7 1.7 0 1 0 3.4 0a1.7 1.7 0 1 0 -3.4 0M294.1 290.4a1.7 1.7 0 1 0 3.4 0a1.7 1.7 0 1 0 -3.4 0M294.2 283a1.7 1.7 0 1 0 3.4 0a1.7 1.7 0 1 0 -3.4 0M294.8 296.4a1.7 1.7 0 1 0 3.4 0a1.7 1.7 0 1 0 -3.4 0M295.6 290.3a1.7 1.7 0 1 0 3.4 0a1.7 1.7 0 1 0 -3.4 0M295.6 293.4a1.7 1.7 0 1 0 3.4 0a1.7 1.7 0 1 0 -3.4 0M295.9 302.1a1.7 1.7 0 1 0 3.4 0a1.7 1.7 0 1 0 -3.4 0M296 284a1.7 1.7 0 1 0 3.4 0a1.7 1.7 0 1 0 -3.4 0M296.9 282.1a1.7 1.7 0 1 0 3.4 0a1.7 1.7 0 1 0 -3.4 0M297.4 291.7a1.7 1.7 0 1 0 3.4 0a1.7 1.7 0 1 0 -3.4 0M298.1 290a1.7 1.7 0 1 0 3.4 0a1.7 1.7 0 1 0 -3.4 0M298.2 283.7a1.7 1.7 0 1 0 3.4 0a1.7 1.7 0 1 0 -3.4 0M298.2 274.3a1.7 1.7 0 1 0 3.4 0a1.7 1.7 0 1 0 -3.4 0M299.5 288.4a1.7 1.7 0 1 0 3.4 0a1.7 1.7 0 1 0 -3.4 0M299.7 271.9a1.7 1.7 0 1 0 3.4 0a1.7 1.7 0 1 0 -3.4 0M299.9 276.3a1.7 1.7 0 1 0 3.4 0a1.7 1.7 0 1 0 -3.4 0M300.4 302.1a1.7 1.7 0 1 0 3.4 0a1.7 1.7 0 1 0 -3.4 0M301.1 287.6a1.7 1.7 0 1 0 3.4 0a1.7 1.7 0 1 0 -3.4 0M301.2 282.5a1.7 1.7 0 1 0 3.4 0a1.7 1.7 0 1 0 -3.4 0M301.8 288.3a1.7 1.7 0 1 0 3.4 0a1.7 1.7 0 1 0 -3.4 0M302.2 277.5a1.7 1.7 0 1 0 3.4 0a1.7 1.7 0 1 0 -3.4 0M302.3 283a1.7 1.7 0 1 0 3.4 0a1.7 1.7 0 1 0 -3.4 0M303.3 281a1.7 1.7 0 1 0 3.4 0a1.7 1.7 0 1 0 -3.4 0M303.5 287a1.7 1.7 0 1 0 3.4 0a1.7 1.7 0 1 0 -3.4 0M303.9 299.2a1.7 1.7 0 1 0 3.4 0a1.7 1.7 0 1 0 -3.4 0M304.2 281.9a1.7 1.7 0 1 0 3.4 0a1.7 1.7 0 1 0 -3.4 0M305.6 292.6a1.7 1.7 0 1 0 3.4 0a1.7 1.7 0 1 0 -3.4 0M305.7 277.3a1.7 1.7 0 1 0 3.4 0a1.7 1.7 0 1 0 -3.4 0M306.4 281.7a1.7 1.7 0 1 0 3.4 0a1.7 1.7 0 1 0 -3.4 0M306.8 260a1.7 1.7 0 1 0 3.4 0a1.7 1.7 0 1 0 -3.4 0M307 280.1a1.7 1.7 0 1 0 3.4 0a1.7 1.7 0 1 0 -3.4 0M307 297.6a1.7 1.7 0 1 0 3.4 0a1.7 1.7 0 1 0 -3.4 0M307.3 264.7a1.7 1.7 0 1 0 3.4 0a1.7 1.7 0 1 0 -3.4 0M307.3 278.7a1.7 1.7 0 1 0 3.4 0a1.7 1.7 0 1 0 -3.4 0M307.7 273.1a1.7 1.7 0 1 0 3.4 0a1.7 1.7 0 1 0 -3.4 0M309 270.4a1.7 1.7 0 1 0 3.4 0a1.7 1.7 0 1 0 -3.4 0M309.5 289a1.7 1.7 0 1 0 3.4 0a1.7 1.7 0 1 0 -3.4 0M309.6 289.5a1.7 1.7 0 1 0 3.4 0a1.7 1.7 0 1 0 -3.4 0M310 274.7a1.7 1.7 0 1 0 3.4 0a1.7 1.7 0 1 0 -3.4 0M310.9 289.3a1.7 1.7 0 1 0 3.4 0a1.7 1.7 0 1 0 -3.4 0M311.6 295.1a1.7 1.7 0 1 0 3.4 0a1.7 1.7 0 1 0 -3.4 0M311.9 285.7a1.7 1.7 0 1 0 3.4 0a1.7 1.7 0 1 0 -3.4 0M312.4 281.6a1.7 1.7 0 1 0 3.4 0a1.7 1.7 0 1 0 -3.4 0M312.5 274.7a1.7 1.7 0 1 0 3.4 0a1.7 1.7 0 1 0 -3.4 0M312.6 283.7a1.7 1.7 0 1 0 3.4 0a1.7 1.7 0 1 0 -3.4 0M312.9 285.3a1.7 1.7 0 1 0 3.4 0a1.7 1.7 0 1 0 -3.4 0M313.2 276.3a1.7 1.7 0 1 0 3.4 0a1.7 1.7 0 1 0 -3.4 0M313.5 278.4a1.7 1.7 0 1 0 3.4 0a1.7 1.7 0 1 0 -3.4 0M313.6 273.1a1.7 1.7 0 1 0 3.4 0a1.7 1.7 0 1 0 -3.4 0M313.6 289.4a1.7 1.7 0 1 0 3.4 0a1.7 1.7 0 1 0 -3.4 0M313.8 262.7a1.7 1.7 0 1 0 3.4 0a1.7 1.7 0 1 0 -3.4 0M313.9 288.5a1.7 1.7 0 1 0 3.4 0a1.7 1.7 0 1 0 -3.4 0M314.1 270.2a1.7 1.7 0 1 0 3.4 0a1.7 1.7 0 1 0 -3.4 0M314.2 271.4a1.7 1.7 0 1 0 3.4 0a1.7 1.7 0 1 0 -3.4 0M314.5 285a1.7 1.7 0 1 0 3.4 0a1.7 1.7 0 1 0 -3.4 0M315 279.1a1.7 1.7 0 1 0 3.4 0a1.7 1.7 0 1 0 -3.4 0M315.5 282.4a1.7 1.7 0 1 0 3.4 0a1.7 1.7 0 1 0 -3.4 0M315.6 272.8a1.7 1.7 0 1 0 3.4 0a1.7 1.7 0 1 0 -3.4 0M315.7 270.4a1.7 1.7 0 1 0 3.4 0a1.7 1.7 0 1 0 -3.4 0M316.4 277.6a1.7 1.7 0 1 0 3.4 0a1.7 1.7 0 1 0 -3.4 0M316.9 275.5a1.7 1.7 0 1 0 3.4 0a1.7 1.7 0 1 0 -3.4 0M317 282.7a1.7 1.7 0 1 0 3.4 0a1.7 1.7 0 1 0 -3.4 0M317 271.3a1.7 1.7 0 1 0 3.4 0a1.7 1.7 0 1 0 -3.4 0M317.1 271.7a1.7 1.7 0 1 0 3.4 0a1.7 1.7 0 1 0 -3.4 0M317.9 278.4a1.7 1.7 0 1 0 3.4 0a1.7 1.7 0 1 0 -3.4 0M318 284.5a1.7 1.7 0 1 0 3.4 0a1.7 1.7 0 1 0 -3.4 0M318.4 268a1.7 1.7 0 1 0 3.4 0a1.7 1.7 0 1 0 -3.4 0M318.4 283.7a1.7 1.7 0 1 0 3.4 0a1.7 1.7 0 1 0 -3.4 0M318.6 280.4a1.7 1.7 0 1 0 3.4 0a1.7 1.7 0 1 0 -3.4 0M318.7 282.3a1.7 1.7 0 1 0 3.4 0a1.7 1.7 0 1 0 -3.4 0M318.9 273.7a1.7 1.7 0 1 0 3.4 0a1.7 1.7 0 1 0 -3.4 0M319 276.4a1.7 1.7 0 1 0 3.4 0a1.7 1.7 0 1 0 -3.4 0M319.1 286.4a1.7 1.7 0 1 0 3.4 0a1.7 1.7 0 1 0 -3.4 0M319.3 279.9a1.7 1.7 0 1 0 3.4 0a1.7 1.7 0 1 0 -3.4 0M319.8 280.4a1.7 1.7 0 1 0 3.4 0a1.7 1.7 0 1 0 -3.4 0M320.9 267.6a1.7 1.7 0 1 0 3.4 0a1.7 1.7 0 1 0 -3.4 0M321.7 255.5a1.7 1.7 0 1 0 3.4 0a1.7 1.7 0 1 0 -3.4 0M322.1 260.6a1.7 1.7 0 1 0 3.4 0a1.7 1.7 0 1 0 -3.4 0M322.2 260.2a1.7 1.7 0 1 0 3.4 0a1.7 1.7 0 1 0 -3.4 0M322.4 261.3a1.7 1.7 0 1 0 3.4 0a1.7 1.7 0 1 0 -3.4 0M322.5 277.7a1.7 1.7 0 1 0 3.4 0a1.7 1.7 0 1 0 -3.4 0M322.6 276.7a1.7 1.7 0 1 0 3.4 0a1.7 1.7 0 1 0 -3.4 0M322.7 283.2a1.7 1.7 0 1 0 3.4 0a1.7 1.7 0 1 0 -3.4 0M322.7 265.4a1.7 1.7 0 1 0 3.4 0a1.7 1.7 0 1 0 -3.4 0M323.1 271.5a1.7 1.7 0 1 0 3.4 0a1.7 1.7 0 1 0 -3.4 0M323.1 280.8a1.7 1.7 0 1 0 3.4 0a1.7 1.7 0 1 0 -3.4 0M323.5 269a1.7 1.7 0 1 0 3.4 0a1.7 1.7 0 1 0 -3.4 0M323.7 273.3a1.7 1.7 0 1 0 3.4 0a1.7 1.7 0 1 0 -3.4 0M324 265.2a1.7 1.7 0 1 0 3.4 0a1.7 1.7 0 1 0 -3.4 0M324.4 274.5a1.7 1.7 0 1 0 3.4 0a1.7 1.7 0 1 0 -3.4 0M324.7 277.4a1.7 1.7 0 1 0 3.4 0a1.7 1.7 0 1 0 -3.4 0M325.5 272.1a1.7 1.7 0 1 0 3.4 0a1.7 1.7 0 1 0 -3.4 0M327 272.1a1.7 1.7 0 1 0 3.4 0a1.7 1.7 0 1 0 -3.4 0M327.1 264.2a1.7 1.7 0 1 0 3.4 0a1.7 1.7 0 1 0 -3.4 0M327.6 273.6a1.7 1.7 0 1 0 3.4 0a1.7 1.7 0 1 0 -3.4 0M327.6 274.6a1.7 1.7 0 1 0 3.4 0a1.7 1.7 0 1 0 -3.4 0M327.8 269.9a1.7 1.7 0 1 0 3.4 0a1.7 1.7 0 1 0 -3.4 0M328 280.9a1.7 1.7 0 1 0 3.4 0a1.7 1.7 0 1 0 -3.4 0M328.3 275.1a1.7 1.7 0 1 0 3.4 0a1.7 1.7 0 1 0 -3.4 0M328.5 265a1.7 1.7 0 1 0 3.4 0a1.7 1.7 0 1 0 -3.4 0M328.9 278.1a1.7 1.7 0 1 0 3.4 0a1.7 1.7 0 1 0 -3.4 0M329.1 262.2a1.7 1.7 0 1 0 3.4 0a1.7 1.7 0 1 0 -3.4 0M330 275.1a1.7 1.7 0 1 0 3.4 0a1.7 1.7 0 1 0 -3.4 0M330 272.3a1.7 1.7 0 1 0 3.4 0a1.7 1.7 0 1 0 -3.4 0M330.2 266.1a1.7 1.7 0 1 0 3.4 0a1.7 1.7 0 1 0 -3.4 0M330.4 269.2a1.7 1.7 0 1 0 3.4 0a1.7 1.7 0 1 0 -3.4 0M330.6 280.2a1.7 1.7 0 1 0 3.4 0a1.7 1.7 0 1 0 -3.4 0M330.7 283.1a1.7 1.7 0 1 0 3.4 0a1.7 1.7 0 1 0 -3.4 0M331.1 268.2a1.7 1.7 0 1 0 3.4 0a1.7 1.7 0 1 0 -3.4 0M332.5 277.2a1.7 1.7 0 1 0 3.4 0a1.7 1.7 0 1 0 -3.4 0M332.5 272a1.7 1.7 0 1 0 3.4 0a1.7 1.7 0 1 0 -3.4 0M332.5 264.5a1.7 1.7 0 1 0 3.4 0a1.7 1.7 0 1 0 -3.4 0M333.3 270.8a1.7 1.7 0 1 0 3.4 0a1.7 1.7 0 1 0 -3.4 0M333.7 273.3a1.7 1.7 0 1 0 3.4 0a1.7 1.7 0 1 0 -3.4 0M334.1 277.8a1.7 1.7 0 1 0 3.4 0a1.7 1.7 0 1 0 -3.4 0M334.4 267.6a1.7 1.7 0 1 0 3.4 0a1.7 1.7 0 1 0 -3.4 0M334.7 249.6a1.7 1.7 0 1 0 3.4 0a1.7 1.7 0 1 0 -3.4 0M335.9 275.4a1.7 1.7 0 1 0 3.4 0a1.7 1.7 0 1 0 -3.4 0M336.2 279.4a1.7 1.7 0 1 0 3.4 0a1.7 1.7 0 1 0 -3.4 0M336.6 270.7a1.7 1.7 0 1 0 3.4 0a1.7 1.7 0 1 0 -3.4 0M336.9 257.6a1.7 1.7 0 1 0 3.4 0a1.7 1.7 0 1 0 -3.4 0M336.9 269.7a1.7 1.7 0 1 0 3.4 0a1.7 1.7 0 1 0 -3.4 0M337.9 267.9a1.7 1.7 0 1 0 3.4 0a1.7 1.7 0 1 0 -3.4 0M338 267.4a1.7 1.7 0 1 0 3.4 0a1.7 1.7 0 1 0 -3.4 0M338.5 265.3a1.7 1.7 0 1 0 3.4 0a1.7 1.7 0 1 0 -3.4 0M338.9 274a1.7 1.7 0 1 0 3.4 0a1.7 1.7 0 1 0 -3.4 0M339.2 276.5a1.7 1.7 0 1 0 3.4 0a1.7 1.7 0 1 0 -3.4 0M340.8 265.8a1.7 1.7 0 1 0 3.4 0a1.7 1.7 0 1 0 -3.4 0M341.2 250.4a1.7 1.7 0 1 0 3.4 0a1.7 1.7 0 1 0 -3.4 0M341.2 278.9a1.7 1.7 0 1 0 3.4 0a1.7 1.7 0 1 0 -3.4 0M341.3 267.5a1.7 1.7 0 1 0 3.4 0a1.7 1.7 0 1 0 -3.4 0M341.3 267.6a1.7 1.7 0 1 0 3.4 0a1.7 1.7 0 1 0 -3.4 0M341.4 268.9a1.7 1.7 0 1 0 3.4 0a1.7 1.7 0 1 0 -3.4 0M341.5 264.2a1.7 1.7 0 1 0 3.4 0a1.7 1.7 0 1 0 -3.4 0M342.2 270.4a1.7 1.7 0 1 0 3.4 0a1.7 1.7 0 1 0 -3.4 0M342.2 258.4a1.7 1.7 0 1 0 3.4 0a1.7 1.7 0 1 0 -3.4 0M342.4 271.4a1.7 1.7 0 1 0 3.4 0a1.7 1.7 0 1 0 -3.4 0M342.4 276.4a1.7 1.7 0 1 0 3.4 0a1.7 1.7 0 1 0 -3.4 0M342.6 266.4a1.7 1.7 0 1 0 3.4 0a1.7 1.7 0 1 0 -3.4 0M343 259.9a1.7 1.7 0 1 0 3.4 0a1.7 1.7 0 1 0 -3.4 0M343.3 241.3a1.7 1.7 0 1 0 3.4 0a1.7 1.7 0 1 0 -3.4 0M344.1 265.7a1.7 1.7 0 1 0 3.4 0a1.7 1.7 0 1 0 -3.4 0M344.9 250.2a1.7 1.7 0 1 0 3.4 0a1.7 1.7 0 1 0 -3.4 0M345 276.2a1.7 1.7 0 1 0 3.4 0a1.7 1.7 0 1 0 -3.4 0M345.5 256.1a1.7 1.7 0 1 0 3.4 0a1.7 1.7 0 1 0 -3.4 0M346.6 251.4a1.7 1.7 0 1 0 3.4 0a1.7 1.7 0 1 0 -3.4 0M346.9 263.4a1.7 1.7 0 1 0 3.4 0a1.7 1.7 0 1 0 -3.4 0M347.5 255.1a1.7 1.7 0 1 0 3.4 0a1.7 1.7 0 1 0 -3.4 0M347.6 264.9a1.7 1.7 0 1 0 3.4 0a1.7 1.7 0 1 0 -3.4 0M349.2 265.8a1.7 1.7 0 1 0 3.4 0a1.7 1.7 0 1 0 -3.4 0M349.3 263.3a1.7 1.7 0 1 0 3.4 0a1.7 1.7 0 1 0 -3.4 0M349.5 256.1a1.7 1.7 0 1 0 3.4 0a1.7 1.7 0 1 0 -3.4 0M349.5 276.7a1.7 1.7 0 1 0 3.4 0a1.7 1.7 0 1 0 -3.4 0M349.8 250.2a1.7 1.7 0 1 0 3.4 0a1.7 1.7 0 1 0 -3.4 0M349.8 263.4a1.7 1.7 0 1 0 3.4 0a1.7 1.7 0 1 0 -3.4 0M349.9 266.2a1.7 1.7 0 1 0 3.4 0a1.7 1.7 0 1 0 -3.4 0M350.3 252a1.7 1.7 0 1 0 3.4 0a1.7 1.7 0 1 0 -3.4 0M350.7 259.5a1.7 1.7 0 1 0 3.4 0a1.7 1.7 0 1 0 -3.4 0M350.8 240.2a1.7 1.7 0 1 0 3.4 0a1.7 1.7 0 1 0 -3.4 0M351.1 270.1a1.7 1.7 0 1 0 3.4 0a1.7 1.7 0 1 0 -3.4 0M351.6 262.5a1.7 1.7 0 1 0 3.4 0a1.7 1.7 0 1 0 -3.4 0M351.8 264.6a1.7 1.7 0 1 0 3.4 0a1.7 1.7 0 1 0 -3.4 0M351.9 249.8a1.7 1.7 0 1 0 3.4 0a1.7 1.7 0 1 0 -3.4 0M352.2 266.8a1.7 1.7 0 1 0 3.4 0a1.7 1.7 0 1 0 -3.4 0M352.4 272.3a1.7 1.7 0 1 0 3.4 0a1.7 1.7 0 1 0 -3.4 0M352.5 281.2a1.7 1.7 0 1 0 3.4 0a1.7 1.7 0 1 0 -3.4 0M352.5 273.4a1.7 1.7 0 1 0 3.4 0a1.7 1.7 0 1 0 -3.4 0M352.8 260.5a1.7 1.7 0 1 0 3.4 0a1.7 1.7 0 1 0 -3.4 0M352.9 267.4a1.7 1.7 0 1 0 3.4 0a1.7 1.7 0 1 0 -3.4 0M353.2 250.9a1.7 1.7 0 1 0 3.4 0a1.7 1.7 0 1 0 -3.4 0M353.9 273.2a1.7 1.7 0 1 0 3.4 0a1.7 1.7 0 1 0 -3.4 0M354 261.6a1.7 1.7 0 1 0 3.4 0a1.7 1.7 0 1 0 -3.4 0M354.3 272.3a1.7 1.7 0 1 0 3.4 0a1.7 1.7 0 1 0 -3.4 0M354.4 262.2a1.7 1.7 0 1 0 3.4 0a1.7 1.7 0 1 0 -3.4 0M354.8 266.8a1.7 1.7 0 1 0 3.4 0a1.7 1.7 0 1 0 -3.4 0M357.5 263.8a1.7 1.7 0 1 0 3.4 0a1.7 1.7 0 1 0 -3.4 0M358 275.2a1.7 1.7 0 1 0 3.4 0a1.7 1.7 0 1 0 -3.4 0M358.7 252a1.7 1.7 0 1 0 3.4 0a1.7 1.7 0 1 0 -3.4 0M358.8 265.2a1.7 1.7 0 1 0 3.4 0a1.7 1.7 0 1 0 -3.4 0M359.1 263.6a1.7 1.7 0 1 0 3.4 0a1.7 1.7 0 1 0 -3.4 0M359.3 264.2a1.7 1.7 0 1 0 3.4 0a1.7 1.7 0 1 0 -3.4 0M360 263.5a1.7 1.7 0 1 0 3.4 0a1.7 1.7 0 1 0 -3.4 0M360.6 248.9a1.7 1.7 0 1 0 3.4 0a1.7 1.7 0 1 0 -3.4 0M360.7 250.2a1.7 1.7 0 1 0 3.4 0a1.7 1.7 0 1 0 -3.4 0M361 257.3a1.7 1.7 0 1 0 3.4 0a1.7 1.7 0 1 0 -3.4 0M361.5 267.3a1.7 1.7 0 1 0 3.4 0a1.7 1.7 0 1 0 -3.4 0M361.8 257.5a1.7 1.7 0 1 0 3.4 0a1.7 1.7 0 1 0 -3.4 0M362.5 262.2a1.7 1.7 0 1 0 3.4 0a1.7 1.7 0 1 0 -3.4 0M363.1 277.1a1.7 1.7 0 1 0 3.4 0a1.7 1.7 0 1 0 -3.4 0M363.3 263.7a1.7 1.7 0 1 0 3.4 0a1.7 1.7 0 1 0 -3.4 0M363.7 257a1.7 1.7 0 1 0 3.4 0a1.7 1.7 0 1 0 -3.4 0M363.7 264.2a1.7 1.7 0 1 0 3.4 0a1.7 1.7 0 1 0 -3.4 0M363.9 261.1a1.7 1.7 0 1 0 3.4 0a1.7 1.7 0 1 0 -3.4 0M364 250.4a1.7 1.7 0 1 0 3.4 0a1.7 1.7 0 1 0 -3.4 0M365.4 249.2a1.7 1.7 0 1 0 3.4 0a1.7 1.7 0 1 0 -3.4 0M365.4 272.9a1.7 1.7 0 1 0 3.4 0a1.7 1.7 0 1 0 -3.4 0M365.7 254.3a1.7 1.7 0 1 0 3.4 0a1.7 1.7 0 1 0 -3.4 0M365.9 256.2a1.7 1.7 0 1 0 3.4 0a1.7 1.7 0 1 0 -3.4 0M366 254.1a1.7 1.7 0 1 0 3.4 0a1.7 1.7 0 1 0 -3.4 0M366.5 261.5a1.7 1.7 0 1 0 3.4 0a1.7 1.7 0 1 0 -3.4 0M367.4 255a1.7 1.7 0 1 0 3.4 0a1.7 1.7 0 1 0 -3.4 0M367.9 274.1a1.7 1.7 0 1 0 3.4 0a1.7 1.7 0 1 0 -3.4 0M368.3 259.6a1.7 1.7 0 1 0 3.4 0a1.7 1.7 0 1 0 -3.4 0M369 250.6a1.7 1.7 0 1 0 3.4 0a1.7 1.7 0 1 0 -3.4 0M369.3 266.9a1.7 1.7 0 1 0 3.4 0a1.7 1.7 0 1 0 -3.4 0M370.9 260.2a1.7 1.7 0 1 0 3.4 0a1.7 1.7 0 1 0 -3.4 0M371.1 262a1.7 1.7 0 1 0 3.4 0a1.7 1.7 0 1 0 -3.4 0M371.6 254.3a1.7 1.7 0 1 0 3.4 0a1.7 1.7 0 1 0 -3.4 0M371.6 246.7a1.7 1.7 0 1 0 3.4 0a1.7 1.7 0 1 0 -3.4 0M372.7 259.3a1.7 1.7 0 1 0 3.4 0a1.7 1.7 0 1 0 -3.4 0M372.8 239.3a1.7 1.7 0 1 0 3.4 0a1.7 1.7 0 1 0 -3.4 0M373.1 259.9a1.7 1.7 0 1 0 3.4 0a1.7 1.7 0 1 0 -3.4 0M373.1 248.4a1.7 1.7 0 1 0 3.4 0a1.7 1.7 0 1 0 -3.4 0M373.5 250.7a1.7 1.7 0 1 0 3.4 0a1.7 1.7 0 1 0 -3.4 0M374.2 264.6a1.7 1.7 0 1 0 3.4 0a1.7 1.7 0 1 0 -3.4 0M374.2 262.6a1.7 1.7 0 1 0 3.4 0a1.7 1.7 0 1 0 -3.4 0M374.5 254.5a1.7 1.7 0 1 0 3.4 0a1.7 1.7 0 1 0 -3.4 0M374.6 263.9a1.7 1.7 0 1 0 3.4 0a1.7 1.7 0 1 0 -3.4 0M375 266.6a1.7 1.7 0 1 0 3.4 0a1.7 1.7 0 1 0 -3.4 0M375.3 257.1a1.7 1.7 0 1 0 3.4 0a1.7 1.7 0 1 0 -3.4 0M376.8 266.8a1.7 1.7 0 1 0 3.4 0a1.7 1.7 0 1 0 -3.4 0M376.8 255.6a1.7 1.7 0 1 0 3.4 0a1.7 1.7 0 1 0 -3.4 0M377 258.3a1.7 1.7 0 1 0 3.4 0a1.7 1.7 0 1 0 -3.4 0M377.1 250.1a1.7 1.7 0 1 0 3.4 0a1.7 1.7 0 1 0 -3.4 0M377.8 245.6a1.7 1.7 0 1 0 3.4 0a1.7 1.7 0 1 0 -3.4 0M378.1 268.3a1.7 1.7 0 1 0 3.4 0a1.7 1.7 0 1 0 -3.4 0M378.4 257.1a1.7 1.7 0 1 0 3.4 0a1.7 1.7 0 1 0 -3.4 0M378.5 247.9a1.7 1.7 0 1 0 3.4 0a1.7 1.7 0 1 0 -3.4 0M378.6 232.6a1.7 1.7 0 1 0 3.4 0a1.7 1.7 0 1 0 -3.4 0M378.7 253.6a1.7 1.7 0 1 0 3.4 0a1.7 1.7 0 1 0 -3.4 0M378.8 252.3a1.7 1.7 0 1 0 3.4 0a1.7 1.7 0 1 0 -3.4 0M379.2 258.8a1.7 1.7 0 1 0 3.4 0a1.7 1.7 0 1 0 -3.4 0M380.1 234.1a1.7 1.7 0 1 0 3.4 0a1.7 1.7 0 1 0 -3.4 0M380.3 256.7a1.7 1.7 0 1 0 3.4 0a1.7 1.7 0 1 0 -3.4 0M380.6 249.2a1.7 1.7 0 1 0 3.4 0a1.7 1.7 0 1 0 -3.4 0M380.8 246.3a1.7 1.7 0 1 0 3.4 0a1.7 1.7 0 1 0 -3.4 0M381.4 264.1a1.7 1.7 0 1 0 3.4 0a1.7 1.7 0 1 0 -3.4 0M382.3 264.6a1.7 1.7 0 1 0 3.4 0a1.7 1.7 0 1 0 -3.4 0M382.8 263.7a1.7 1.7 0 1 0 3.4 0a1.7 1.7 0 1 0 -3.4 0M383.2 253.1a1.7 1.7 0 1 0 3.4 0a1.7 1.7 0 1 0 -3.4 0M383.9 246.8a1.7 1.7 0 1 0 3.4 0a1.7 1.7 0 1 0 -3.4 0M383.9 259.4a1.7 1.7 0 1 0 3.4 0a1.7 1.7 0 1 0 -3.4 0M384.1 237.8a1.7 1.7 0 1 0 3.4 0a1.7 1.7 0 1 0 -3.4 0M384.1 258.8a1.7 1.7 0 1 0 3.4 0a1.7 1.7 0 1 0 -3.4 0M384.4 250.5a1.7 1.7 0 1 0 3.4 0a1.7 1.7 0 1 0 -3.4 0M384.4 254.6a1.7 1.7 0 1 0 3.4 0a1.7 1.7 0 1 0 -3.4 0M384.8 261.8a1.7 1.7 0 1 0 3.4 0a1.7 1.7 0 1 0 -3.4 0M384.9 256.2a1.7 1.7 0 1 0 3.4 0a1.7 1.7 0 1 0 -3.4 0M385.7 253.8a1.7 1.7 0 1 0 3.4 0a1.7 1.7 0 1 0 -3.4 0M385.8 264.3a1.7 1.7 0 1 0 3.4 0a1.7 1.7 0 1 0 -3.4 0M386 253.7a1.7 1.7 0 1 0 3.4 0a1.7 1.7 0 1 0 -3.4 0M386.2 261a1.7 1.7 0 1 0 3.4 0a1.7 1.7 0 1 0 -3.4 0M386.3 244.9a1.7 1.7 0 1 0 3.4 0a1.7 1.7 0 1 0 -3.4 0M386.5 262a1.7 1.7 0 1 0 3.4 0a1.7 1.7 0 1 0 -3.4 0M386.8 262.1a1.7 1.7 0 1 0 3.4 0a1.7 1.7 0 1 0 -3.4 0M387 260.4a1.7 1.7 0 1 0 3.4 0a1.7 1.7 0 1 0 -3.4 0M387.1 249.6a1.7 1.7 0 1 0 3.4 0a1.7 1.7 0 1 0 -3.4 0M387.1 241.9a1.7 1.7 0 1 0 3.4 0a1.7 1.7 0 1 0 -3.4 0M387.2 262.5a1.7 1.7 0 1 0 3.4 0a1.7 1.7 0 1 0 -3.4 0M387.4 247.3a1.7 1.7 0 1 0 3.4 0a1.7 1.7 0 1 0 -3.4 0M387.4 246.4a1.7 1.7 0 1 0 3.4 0a1.7 1.7 0 1 0 -3.4 0M388.2 255.3a1.7 1.7 0 1 0 3.4 0a1.7 1.7 0 1 0 -3.4 0M388.5 246.6a1.7 1.7 0 1 0 3.4 0a1.7 1.7 0 1 0 -3.4 0M388.9 247.3a1.7 1.7 0 1 0 3.4 0a1.7 1.7 0 1 0 -3.4 0M389.1 256.1a1.7 1.7 0 1 0 3.4 0a1.7 1.7 0 1 0 -3.4 0M389.5 268.5a1.7 1.7 0 1 0 3.4 0a1.7 1.7 0 1 0 -3.4 0M389.6 251a1.7 1.7 0 1 0 3.4 0a1.7 1.7 0 1 0 -3.4 0M389.8 255.1a1.7 1.7 0 1 0 3.4 0a1.7 1.7 0 1 0 -3.4 0M390 250.5a1.7 1.7 0 1 0 3.4 0a1.7 1.7 0 1 0 -3.4 0M390.2 247.2a1.7 1.7 0 1 0 3.4 0a1.7 1.7 0 1 0 -3.4 0M390.6 234.9a1.7 1.7 0 1 0 3.4 0a1.7 1.7 0 1 0 -3.4 0M391.2 254a1.7 1.7 0 1 0 3.4 0a1.7 1.7 0 1 0 -3.4 0M391.6 242.9a1.7 1.7 0 1 0 3.4 0a1.7 1.7 0 1 0 -3.4 0M392 249a1.7 1.7 0 1 0 3.4 0a1.7 1.7 0 1 0 -3.4 0M392.6 255a1.7 1.7 0 1 0 3.4 0a1.7 1.7 0 1 0 -3.4 0M392.9 258.4a1.7 1.7 0 1 0 3.4 0a1.7 1.7 0 1 0 -3.4 0M393.3 261.9a1.7 1.7 0 1 0 3.4 0a1.7 1.7 0 1 0 -3.4 0M393.5 267.1a1.7 1.7 0 1 0 3.4 0a1.7 1.7 0 1 0 -3.4 0M393.9 246.9a1.7 1.7 0 1 0 3.4 0a1.7 1.7 0 1 0 -3.4 0M394 246a1.7 1.7 0 1 0 3.4 0a1.7 1.7 0 1 0 -3.4 0M394.2 256.6a1.7 1.7 0 1 0 3.4 0a1.7 1.7 0 1 0 -3.4 0M394.8 243.6a1.7 1.7 0 1 0 3.4 0a1.7 1.7 0 1 0 -3.4 0M394.8 249.2a1.7 1.7 0 1 0 3.4 0a1.7 1.7 0 1 0 -3.4 0M394.9 250.6a1.7 1.7 0 1 0 3.4 0a1.7 1.7 0 1 0 -3.4 0M395.2 256.9a1.7 1.7 0 1 0 3.4 0a1.7 1.7 0 1 0 -3.4 0M395.6 255.8a1.7 1.7 0 1 0 3.4 0a1.7 1.7 0 1 0 -3.4 0M395.7 244a1.7 1.7 0 1 0 3.4 0a1.7 1.7 0 1 0 -3.4 0M395.8 246a1.7 1.7 0 1 0 3.4 0a1.7 1.7 0 1 0 -3.4 0M396.2 251.5a1.7 1.7 0 1 0 3.4 0a1.7 1.7 0 1 0 -3.4 0M396.3 242.4a1.7 1.7 0 1 0 3.4 0a1.7 1.7 0 1 0 -3.4 0M397.6 245.6a1.7 1.7 0 1 0 3.4 0a1.7 1.7 0 1 0 -3.4 0M398.9 259.6a1.7 1.7 0 1 0 3.4 0a1.7 1.7 0 1 0 -3.4 0M399.6 237.2a1.7 1.7 0 1 0 3.4 0a1.7 1.7 0 1 0 -3.4 0M399.8 249.3a1.7 1.7 0 1 0 3.4 0a1.7 1.7 0 1 0 -3.4 0M399.9 231.9a1.7 1.7 0 1 0 3.4 0a1.7 1.7 0 1 0 -3.4 0M400 255a1.7 1.7 0 1 0 3.4 0a1.7 1.7 0 1 0 -3.4 0M400.3 265.6a1.7 1.7 0 1 0 3.4 0a1.7 1.7 0 1 0 -3.4 0M400.7 243a1.7 1.7 0 1 0 3.4 0a1.7 1.7 0 1 0 -3.4 0M400.8 233.7a1.7 1.7 0 1 0 3.4 0a1.7 1.7 0 1 0 -3.4 0M401.4 249.9a1.7 1.7 0 1 0 3.4 0a1.7 1.7 0 1 0 -3.4 0M401.5 246.2a1.7 1.7 0 1 0 3.4 0a1.7 1.7 0 1 0 -3.4 0M401.9 230.1a1.7 1.7 0 1 0 3.4 0a1.7 1.7 0 1 0 -3.4 0M402.2 239.3a1.7 1.7 0 1 0 3.4 0a1.7 1.7 0 1 0 -3.4 0M402.3 241.4a1.7 1.7 0 1 0 3.4 0a1.7 1.7 0 1 0 -3.4 0M402.6 251.4a1.7 1.7 0 1 0 3.4 0a1.7 1.7 0 1 0 -3.4 0M402.9 252.8a1.7 1.7 0 1 0 3.4 0a1.7 1.7 0 1 0 -3.4 0M402.9 257.9a1.7 1.7 0 1 0 3.4 0a1.7 1.7 0 1 0 -3.4 0M403.2 256a1.7 1.7 0 1 0 3.4 0a1.7 1.7 0 1 0 -3.4 0M403.4 248.2a1.7 1.7 0 1 0 3.4 0a1.7 1.7 0 1 0 -3.4 0M404.7 242.9a1.7 1.7 0 1 0 3.4 0a1.7 1.7 0 1 0 -3.4 0M404.8 231.7a1.7 1.7 0 1 0 3.4 0a1.7 1.7 0 1 0 -3.4 0M404.8 234.4a1.7 1.7 0 1 0 3.4 0a1.7 1.7 0 1 0 -3.4 0M405.3 244.6a1.7 1.7 0 1 0 3.4 0a1.7 1.7 0 1 0 -3.4 0M405.4 245.2a1.7 1.7 0 1 0 3.4 0a1.7 1.7 0 1 0 -3.4 0M405.5 243a1.7 1.7 0 1 0 3.4 0a1.7 1.7 0 1 0 -3.4 0M405.7 247.7a1.7 1.7 0 1 0 3.4 0a1.7 1.7 0 1 0 -3.4 0M406 233.8a1.7 1.7 0 1 0 3.4 0a1.7 1.7 0 1 0 -3.4 0M406.1 251.9a1.7 1.7 0 1 0 3.4 0a1.7 1.7 0 1 0 -3.4 0M406.3 249.1a1.7 1.7 0 1 0 3.4 0a1.7 1.7 0 1 0 -3.4 0M406.4 258.3a1.7 1.7 0 1 0 3.4 0a1.7 1.7 0 1 0 -3.4 0M406.5 257.8a1.7 1.7 0 1 0 3.4 0a1.7 1.7 0 1 0 -3.4 0M406.5 243.1a1.7 1.7 0 1 0 3.4 0a1.7 1.7 0 1 0 -3.4 0M407.4 238.3a1.7 1.7 0 1 0 3.4 0a1.7 1.7 0 1 0 -3.4 0M407.5 239.1a1.7 1.7 0 1 0 3.4 0a1.7 1.7 0 1 0 -3.4 0M407.8 238.6a1.7 1.7 0 1 0 3.4 0a1.7 1.7 0 1 0 -3.4 0M407.9 254.1a1.7 1.7 0 1 0 3.4 0a1.7 1.7 0 1 0 -3.4 0M408 231.3a1.7 1.7 0 1 0 3.4 0a1.7 1.7 0 1 0 -3.4 0M408 241.9a1.7 1.7 0 1 0 3.4 0a1.7 1.7 0 1 0 -3.4 0M408 249.1a1.7 1.7 0 1 0 3.4 0a1.7 1.7 0 1 0 -3.4 0M408.1 246.2a1.7 1.7 0 1 0 3.4 0a1.7 1.7 0 1 0 -3.4 0M409.1 253.1a1.7 1.7 0 1 0 3.4 0a1.7 1.7 0 1 0 -3.4 0M409.2 252.1a1.7 1.7 0 1 0 3.4 0a1.7 1.7 0 1 0 -3.4 0M409.3 244a1.7 1.7 0 1 0 3.4 0a1.7 1.7 0 1 0 -3.4 0M409.8 249.2a1.7 1.7 0 1 0 3.4 0a1.7 1.7 0 1 0 -3.4 0M410 244.6a1.7 1.7 0 1 0 3.4 0a1.7 1.7 0 1 0 -3.4 0M410.1 244.4a1.7 1.7 0 1 0 3.4 0a1.7 1.7 0 1 0 -3.4 0M410.3 258.9a1.7 1.7 0 1 0 3.4 0a1.7 1.7 0 1 0 -3.4 0M410.9 235.4a1.7 1.7 0 1 0 3.4 0a1.7 1.7 0 1 0 -3.4 0M411.1 229.2a1.7 1.7 0 1 0 3.4 0a1.7 1.7 0 1 0 -3.4 0M411.1 251.5a1.7 1.7 0 1 0 3.4 0a1.7 1.7 0 1 0 -3.4 0M411.1 242a1.7 1.7 0 1 0 3.4 0a1.7 1.7 0 1 0 -3.4 0M411.3 237.8a1.7 1.7 0 1 0 3.4 0a1.7 1.7 0 1 0 -3.4 0M411.9 245.5a1.7 1.7 0 1 0 3.4 0a1.7 1.7 0 1 0 -3.4 0M412.1 243.9a1.7 1.7 0 1 0 3.4 0a1.7 1.7 0 1 0 -3.4 0M413.1 251a1.7 1.7 0 1 0 3.4 0a1.7 1.7 0 1 0 -3.4 0M413.5 249.3a1.7 1.7 0 1 0 3.4 0a1.7 1.7 0 1 0 -3.4 0M413.7 243.1a1.7 1.7 0 1 0 3.4 0a1.7 1.7 0 1 0 -3.4 0M413.9 234.9a1.7 1.7 0 1 0 3.4 0a1.7 1.7 0 1 0 -3.4 0M415 243.9a1.7 1.7 0 1 0 3.4 0a1.7 1.7 0 1 0 -3.4 0M415 237a1.7 1.7 0 1 0 3.4 0a1.7 1.7 0 1 0 -3.4 0M415.3 242.5a1.7 1.7 0 1 0 3.4 0a1.7 1.7 0 1 0 -3.4 0M415.7 246a1.7 1.7 0 1 0 3.4 0a1.7 1.7 0 1 0 -3.4 0M416 238.2a1.7 1.7 0 1 0 3.4 0a1.7 1.7 0 1 0 -3.4 0M416.1 240.7a1.7 1.7 0 1 0 3.4 0a1.7 1.7 0 1 0 -3.4 0M417.6 235.2a1.7 1.7 0 1 0 3.4 0a1.7 1.7 0 1 0 -3.4 0M417.7 232.4a1.7 1.7 0 1 0 3.4 0a1.7 1.7 0 1 0 -3.4 0M417.7 240.6a1.7 1.7 0 1 0 3.4 0a1.7 1.7 0 1 0 -3.4 0M417.9 240.5a1.7 1.7 0 1 0 3.4 0a1.7 1.7 0 1 0 -3.4 0M417.9 236.3a1.7 1.7 0 1 0 3.4 0a1.7 1.7 0 1 0 -3.4 0M418.7 248a1.7 1.7 0 1 0 3.4 0a1.7 1.7 0 1 0 -3.4 0M419 246.3a1.7 1.7 0 1 0 3.4 0a1.7 1.7 0 1 0 -3.4 0M419 237.2a1.7 1.7 0 1 0 3.4 0a1.7 1.7 0 1 0 -3.4 0M419.3 253.6a1.7 1.7 0 1 0 3.4 0a1.7 1.7 0 1 0 -3.4 0M419.7 258a1.7 1.7 0 1 0 3.4 0a1.7 1.7 0 1 0 -3.4 0M420.2 251.7a1.7 1.7 0 1 0 3.4 0a1.7 1.7 0 1 0 -3.4 0M420.2 239.4a1.7 1.7 0 1 0 3.4 0a1.7 1.7 0 1 0 -3.4 0M420.4 242.3a1.7 1.7 0 1 0 3.4 0a1.7 1.7 0 1 0 -3.4 0M420.5 245.1a1.7 1.7 0 1 0 3.4 0a1.7 1.7 0 1 0 -3.4 0M422.1 244.4a1.7 1.7 0 1 0 3.4 0a1.7 1.7 0 1 0 -3.4 0M422.4 252.2a1.7 1.7 0 1 0 3.4 0a1.7 1.7 0 1 0 -3.4 0M422.4 244.4a1.7 1.7 0 1 0 3.4 0a1.7 1.7 0 1 0 -3.4 0M422.7 249.4a1.7 1.7 0 1 0 3.4 0a1.7 1.7 0 1 0 -3.4 0M295.7 300.3a1.7 1.7 0 1 0 3.4 0a1.7 1.7 0 1 0 -3.4 0M357.1 252a1.7 1.7 0 1 0 3.4 0a1.7 1.7 0 1 0 -3.4 0M409.6 244.6a1.7 1.7 0 1 0 3.4 0a1.7 1.7 0 1 0 -3.4 0M342.2 265a1.7 1.7 0 1 0 3.4 0a1.7 1.7 0 1 0 -3.4 0M352.2 253.7a1.7 1.7 0 1 0 3.4 0a1.7 1.7 0 1 0 -3.4 0M320.4 267.8a1.7 1.7 0 1 0 3.4 0a1.7 1.7 0 1 0 -3.4 0M283 286.8a1.7 1.7 0 1 0 3.4 0a1.7 1.7 0 1 0 -3.4 0M429.6 233.3a1.7 1.7 0 1 0 3.4 0a1.7 1.7 0 1 0 -3.4 0M426.9 252.1a1.7 1.7 0 1 0 3.4 0a1.7 1.7 0 1 0 -3.4 0M421.2 234a1.7 1.7 0 1 0 3.4 0a1.7 1.7 0 1 0 -3.4 0M277.8 307.4a1.7 1.7 0 1 0 3.4 0a1.7 1.7 0 1 0 -3.4 0M308.3 305.8a1.7 1.7 0 1 0 3.4 0a1.7 1.7 0 1 0 -3.4 0M291.8 312.8a1.7 1.7 0 1 0 3.4 0a1.7 1.7 0 1 0 -3.4 0M382 251.2a1.7 1.7 0 1 0 3.4 0a1.7 1.7 0 1 0 -3.4 0M412.5 229.7a1.7 1.7 0 1 0 3.4 0a1.7 1.7 0 1 0 -3.4 0M365.5 245.5a1.7 1.7 0 1 0 3.4 0a1.7 1.7 0 1 0 -3.4 0M351.9 247.7a1.7 1.7 0 1 0 3.4 0a1.7 1.7 0 1 0 -3.4 0M361.4 237.9a1.7 1.7 0 1 0 3.4 0a1.7 1.7 0 1 0 -3.4 0M311.7 310.3a1.7 1.7 0 1 0 3.4 0a1.7 1.7 0 1 0 -3.4 0M292.4 288.8a1.7 1.7 0 1 0 3.4 0a1.7 1.7 0 1 0 -3.4 0M289.5 273.7a1.7 1.7 0 1 0 3.4 0a1.7 1.7 0 1 0 -3.4 0M435.6 268.1a1.7 1.7 0 1 0 3.4 0a1.7 1.7 0 1 0 -3.4 0M329 260.3a1.7 1.7 0 1 0 3.4 0a1.7 1.7 0 1 0 -3.4 0M429.1 246.9a1.7 1.7 0 1 0 3.4 0a1.7 1.7 0 1 0 -3.4 0M415.2 250.4a1.7 1.7 0 1 0 3.4 0a1.7 1.7 0 1 0 -3.4 0M283.6 298.9a1.7 1.7 0 1 0 3.4 0a1.7 1.7 0 1 0 -3.4 0M310.2 313.3a1.7 1.7 0 1 0 3.4 0a1.7 1.7 0 1 0 -3.4 0M352.1 264.8a1.7 1.7 0 1 0 3.4 0a1.7 1.7 0 1 0 -3.4 0M431.6 233.8a1.7 1.7 0 1 0 3.4 0a1.7 1.7 0 1 0 -3.4 0M301.6 298.4a1.7 1.7 0 1 0 3.4 0a1.7 1.7 0 1 0 -3.4 0M408.4 252.3a1.7 1.7 0 1 0 3.4 0a1.7 1.7 0 1 0 -3.4 0M324.2 272.4a1.7 1.7 0 1 0 3.4 0a1.7 1.7 0 1 0 -3.4 0M430.7 240.5a1.7 1.7 0 1 0 3.4 0a1.7 1.7 0 1 0 -3.4 0M284.6 299.6a1.7 1.7 0 1 0 3.4 0a1.7 1.7 0 1 0 -3.4 0M420.8 231a1.7 1.7 0 1 0 3.4 0a1.7 1.7 0 1 0 -3.4 0M400 255.9a1.7 1.7 0 1 0 3.4 0a1.7 1.7 0 1 0 -3.4 0M404.4 261.1a1.7 1.7 0 1 0 3.4 0a1.7 1.7 0 1 0 -3.4 0M426 254.9a1.7 1.7 0 1 0 3.4 0a1.7 1.7 0 1 0 -3.4 0M336.8 255.2a1.7 1.7 0 1 0 3.4 0a1.7 1.7 0 1 0 -3.4 0M413.3 249.6a1.7 1.7 0 1 0 3.4 0a1.7 1.7 0 1 0 -3.4 0M319.4 271.1a1.7 1.7 0 1 0 3.4 0a1.7 1.7 0 1 0 -3.4 0M368.7 269.8a1.7 1.7 0 1 0 3.4 0a1.7 1.7 0 1 0 -3.4 0M319.4 281.4a1.7 1.7 0 1 0 3.4 0a1.7 1.7 0 1 0 -3.4 0M336.8 250a1.7 1.7 0 1 0 3.4 0a1.7 1.7 0 1 0 -3.4 0M302.9 291a1.7 1.7 0 1 0 3.4 0a1.7 1.7 0 1 0 -3.4 0M368.8 280a1.7 1.7 0 1 0 3.4 0a1.7 1.7 0 1 0 -3.4 0M434.2 176a1.7 1.7 0 1 0 3.4 0a1.7 1.7 0 1 0 -3.4 0M438.5 194a1.7 1.7 0 1 0 3.4 0a1.7 1.7 0 1 0 -3.4 0M438.5 217.9a1.7 1.7 0 1 0 3.4 0a1.7 1.7 0 1 0 -3.4 0M436.3 232.4a1.7 1.7 0 1 0 3.4 0a1.7 1.7 0 1 0 -3.4 0M472.9 227.9a1.7 1.7 0 1 0 3.4 0a1.7 1.7 0 1 0 -3.4 0M475 203.1a1.7 1.7 0 1 0 3.4 0a1.7 1.7 0 1 0 -3.4 0M477.2 194a1.7 1.7 0 1 0 3.4 0a1.7 1.7 0 1 0 -3.4 0M425.6 282a1.7 1.7 0 1 0 3.4 0a1.7 1.7 0 1 0 -3.4 0M427.7 291a1.7 1.7 0 1 0 3.4 0a1.7 1.7 0 1 0 -3.4 0M421.3 263.9a1.7 1.7 0 1 0 3.4 0a1.7 1.7 0 1 0 -3.4 0M290.1 261.7a1.7 1.7 0 1 0 3.4 0a1.7 1.7 0 1 0 -3.4 0M380.4 320.3a1.7 1.7 0 1 0 3.4 0a1.7 1.7 0 1 0 -3.4 0M369.7 302.2a1.7 1.7 0 1 0 3.4 0a1.7 1.7 0 1 0 -3.4 0" fill="none" stroke="#1a1a1a" stroke-width="0.7"/>
<polyline points="274.6,306.8 278.2,304.5 281.9,302.2 285.5,300 289.2,297.8 292.8,295.6 296.5,293.4 300.1,291.2 303.8,289.1 307.4,287 311,285 314.7,283 318.3,281 322,279.1 325.6,277.3 329.3,275.5 332.9,273.7 336.5,272.1 340.2,270.4 343.8,268.9 347.5,267.4 351.1,265.9 354.8,264.5 358.4,263.2 362.1,261.9 365.7,260.7 369.3,259.6 373,258.5 376.6,257.4 380.3,256.4 383.9,255.5 387.6,254.6 391.2,253.7 394.9,252.9 398.5,252.1 402.1,251.4 405.8,250.7 409.4,250.1 413.1,249.5 416.7,248.9 420.4,248.3 424,247.8 427.7,247.3 431.3,246.9 434.9,246.5 438.6,246.1 442.2,245.7 445.9,245.3 449.5,245 453.2,244.7 456.8,244.4 460.4,244.1 464.1,243.8 467.7,243.6 471.4,243.4 475,243.2 478.7,243 482.3,242.8 486,242.6 489.6,242.4" fill="none" stroke="#ff00ff" stroke-width="1.6" stroke-linejoin="round" />
</g>
<rect x="279.5" y="178.7" width="167" height="12.6" rx="2.5" fill="#fff" stroke="#000" stroke-width="0.8"/>
<text transform="translate(282.2,188.2) scale(1,1)" font-family="'Liberation Sans', sans-serif" font-size="7.9" text-anchor="start" fill="#000"  stroke="#000" stroke-width="0.18">PA=4.15, Inc=1.29, <tspan font-style="italic">V</tspan><tspan font-size="5" dy="1.5">shift</tspan><tspan dy="-1.5">=-26.0, χ</tspan><tspan font-size="5" dy="-3">2</tspan><tspan dy="3">/dof = 1.44</tspan></text>
<rect x="389.5" y="303" width="97.5" height="23" rx="2" fill="rgba(255,255,255,0.85)" stroke="#ddd" stroke-width="0.6"/>
<line x1="392.5" y1="309.5" x2="407" y2="309.5" stroke="#ff00ff" stroke-width="1.6" />
<text transform="translate(411.3,312.3) scale(1,1)" font-family="'Liberation Sans', sans-serif" font-size="7.8" text-anchor="start" fill="#000"  stroke="#000" stroke-width="0.18">Tanh model (Stellar)</text>
<text transform="translate(411.3,322) scale(1,1)" font-family="'Liberation Sans', sans-serif" font-size="7.8" text-anchor="start" fill="#000"  stroke="#000" stroke-width="0.18">MaNGa (data)</text>
<circle cx="399.7" cy="319" r="1.7" fill="none" stroke="#222" stroke-width="0.6"/>
<line x1="399.7" y1="315.5" x2="399.7" y2="322.5" stroke="#222" stroke-width="0.6" />
<line x1="397.7" y1="315.5" x2="401.7" y2="315.5" stroke="#222" stroke-width="0.6" />
<line x1="397.7" y1="322.5" x2="401.7" y2="322.5" stroke="#222" stroke-width="0.6" />
<rect x="274.6" y="171.5" width="215" height="157.8" fill="none" stroke="#000" stroke-width="1.2"/>
<path d="M274.6 329.3V325.3M274.6 171.5V175.5M317.6 329.3V325.3M317.6 171.5V175.5M360.6 329.3V325.3M360.6 171.5V175.5M403.6 329.3V325.3M403.6 171.5V175.5M446.6 329.3V325.3M446.6 171.5V175.5M489.6 329.3V325.3M489.6 171.5V175.5M274.6 329.3V327.1M274.6 171.5V173.7M285.4 329.3V327.1M285.4 171.5V173.7M296.1 329.3V327.1M296.1 171.5V173.7M306.9 329.3V327.1M306.9 171.5V173.7M317.6 329.3V327.1M317.6 171.5V173.7M328.4 329.3V327.1M328.4 171.5V173.7M339.1 329.3V327.1M339.1 171.5V173.7M349.9 329.3V327.1M349.9 171.5V173.7M360.6 329.3V327.1M360.6 171.5V173.7M371.4 329.3V327.1M371.4 171.5V173.7M382.1 329.3V327.1M382.1 171.5V173.7M392.9 329.3V327.1M392.9 171.5V173.7M403.6 329.3V327.1M403.6 171.5V173.7M414.4 329.3V327.1M414.4 171.5V173.7M425.1 329.3V327.1M425.1 171.5V173.7M435.9 329.3V327.1M435.9 171.5V173.7M446.6 329.3V327.1M446.6 171.5V173.7M457.4 329.3V327.1M457.4 171.5V173.7M468.1 329.3V327.1M468.1 171.5V173.7M478.9 329.3V327.1M478.9 171.5V173.7M489.6 329.3V327.1M489.6 171.5V173.7M274.6 306.8H278.6M489.6 306.8H485.6M274.6 261.7H278.6M489.6 261.7H485.6M274.6 216.6H278.6M489.6 216.6H485.6M274.6 171.5H278.6M489.6 171.5H485.6M274.6 329.3H276.8M489.6 329.3H487.4M274.6 318H276.8M489.6 318H487.4M274.6 306.8H276.8M489.6 306.8H487.4M274.6 295.5H276.8M489.6 295.5H487.4M274.6 284.2H276.8M489.6 284.2H487.4M274.6 272.9H276.8M489.6 272.9H487.4M274.6 261.7H276.8M489.6 261.7H487.4M274.6 250.4H276.8M489.6 250.4H487.4M274.6 239.1H276.8M489.6 239.1H487.4M274.6 227.9H276.8M489.6 227.9H487.4M274.6 216.6H276.8M489.6 216.6H487.4M274.6 205.3H276.8M489.6 205.3H487.4M274.6 194H276.8M489.6 194H487.4M274.6 182.8H276.8M489.6 182.8H487.4M274.6 171.5H276.8M489.6 171.5H487.4" stroke="#000" stroke-width="1" fill="none" />
<text transform="translate(274.6,338.9) scale(1.1,1)" font-family="'Liberation Sans', sans-serif" font-size="8.7" text-anchor="middle" fill="#000"  stroke="#000" stroke-width="0.18">0</text>
<text transform="translate(317.6,338.9) scale(1.1,1)" font-family="'Liberation Sans', sans-serif" font-size="8.7" text-anchor="middle" fill="#000"  stroke="#000" stroke-width="0.18">2</text>
<text transform="translate(360.6,338.9) scale(1.1,1)" font-family="'Liberation Sans', sans-serif" font-size="8.7" text-anchor="middle" fill="#000"  stroke="#000" stroke-width="0.18">4</text>
<text transform="translate(403.6,338.9) scale(1.1,1)" font-family="'Liberation Sans', sans-serif" font-size="8.7" text-anchor="middle" fill="#000"  stroke="#000" stroke-width="0.18">6</text>
<text transform="translate(446.6,338.9) scale(1.1,1)" font-family="'Liberation Sans', sans-serif" font-size="8.7" text-anchor="middle" fill="#000"  stroke="#000" stroke-width="0.18">8</text>
<text transform="translate(489.6,338.9) scale(1.1,1)" font-family="'Liberation Sans', sans-serif" font-size="8.7" text-anchor="middle" fill="#000"  stroke="#000" stroke-width="0.18">10</text>
<text transform="translate(272.8,309.9) scale(1.1,1)" font-family="'Liberation Sans', sans-serif" font-size="8.7" text-anchor="end" fill="#000"  stroke="#000" stroke-width="0.18">0</text>
<text transform="translate(272.8,264.8) scale(1.1,1)" font-family="'Liberation Sans', sans-serif" font-size="8.7" text-anchor="end" fill="#000"  stroke="#000" stroke-width="0.18">100</text>
<text transform="translate(272.8,219.7) scale(1.1,1)" font-family="'Liberation Sans', sans-serif" font-size="8.7" text-anchor="end" fill="#000"  stroke="#000" stroke-width="0.18">200</text>
<text transform="translate(272.8,174.6) scale(1.1,1)" font-family="'Liberation Sans', sans-serif" font-size="8.7" text-anchor="end" fill="#000"  stroke="#000" stroke-width="0.18">300</text>
<text transform="translate(382,347.6) scale(1,1)" font-family="'Liberation Sans', sans-serif" font-size="9.2" text-anchor="middle" fill="#000"  stroke="#000" stroke-width="0.18">Radius (kpc)</text>
<text transform="translate(251,250) rotate(-90) scale(1,1)" font-family="'Liberation Sans', sans-serif" font-size="9.2" text-anchor="middle" fill="#000"  stroke="#000" stroke-width="0.18">Rotation velocity (km/s)</text>
<text transform="translate(382,168.4) scale(1,1)" font-family="'Liberation Sans', sans-serif" font-size="9.2" text-anchor="middle" fill="#000"  stroke="#000" stroke-width="0.18">Rotation velocity curve</text>
<clipPath id="c7"><rect x="532.6" y="171.5" width="214.9" height="158"/></clipPath>
<g clip-path="url(#c7)">
<path d="M533 194.3V176.2M533.6 192.7V173.4M534.1 195.9V170.8M534.1 195.3V181.1M535.3 205.8V190.3M535.7 201.4V179.1M536.1 201.3V177M536.4 214.1V198.8M537.3 210.7V191.9M537.3 209.1V189.9M537.5 210.5V191.2M538.8 225.3V204.2M539.2 219.1V196.9M539.3 216.9V201.3M540 221.7V205.4M540.1 215.9V201.7M540.3 216.8V201.4M541.1 229.8V205.6M541.1 219.8V197.5M541.7 231.8V213.7M541.9 218.5V199.3M542.5 238.4V211.9M543.9 230V204.3M544.3 239.5V220.2M545.4 235V214.3M546.2 237V212.3M546.2 244.9V218.7M548 238.9V218.2M549 248V227.3M549.2 245.9V226.1M550.5 244.3V224.7M550.5 242.6V226.7M550.7 242.7V224M550.8 245.9V219.7M551.1 234.2V212.6M551.7 243.2V222.1M552 249.5V223.3M552.5 247.8V227.1M552.9 249.9V225.8M553.1 247.6V225.4M554 248.1V234.6M554.4 241.3V220.9M554.5 249.1V226.2M554.5 250.2V236M554.9 251.6V234.1M555.9 247.4V224.6M556.6 251.2V226M557 250.6V236M557.2 254.2V235.2M557.5 257.8V231.8M557.8 247.8V230.2M557.9 252.3V232.5M558.2 260.1V236.9M558.8 247.9V230.4M558.8 264.7V241.2M558.9 254.1V235.1M559.4 243.5V225.7M559.5 247.3V228.8M559.6 259.5V244M560.2 255.7V234.5M560.3 258.5V233.6M560.8 244.8V230.6M561 252.9V228M561.9 247.2V224.9M562.6 249.2V229.3M563.1 253.1V226.3M564.3 258.9V236.5M564.8 253.1V237.2M565.2 253.7V236.7M565.2 262.2V236.6M565.9 244.1V229.6M565.9 250.6V232M566.4 262.5V240.8M566.5 252.3V225.4M567.1 260.2V234.2M567.2 248.5V231.1M567.3 252.9V239.1M568.2 260V236.8M568.4 262V235.4M569.7 258.6V243.1M555.7 188.1V170M550.3 288.9V261.8M550.3 294.9V276.8" stroke="#000" stroke-width="1.2" fill="none" />
<path d="M533 185.2h0M533.6 183.1h0M534.1 183.3h0M534.1 188.2h0M535.3 198h0M535.7 190.3h0M536.1 189.2h0M536.4 206.5h0M537.3 201.3h0M537.3 199.5h0M537.5 200.9h0M538.8 214.7h0M539.2 208h0M539.3 209.1h0M540 213.5h0M540.1 208.8h0M540.3 209.1h0M541.1 217.7h0M541.1 208.7h0M541.7 222.8h0M541.9 208.9h0M542.5 225.2h0M543.9 217.1h0M544.3 229.8h0M545.4 224.6h0M546.2 224.7h0M546.2 231.8h0M548 228.5h0M549 237.6h0M549.2 236h0M550.5 234.5h0M550.5 234.7h0M550.7 233.4h0M550.8 232.8h0M551.1 223.4h0M551.7 232.7h0M552 236.4h0M552.5 237.5h0M552.9 237.8h0M553.1 236.5h0M554 241.3h0M554.4 231.1h0M554.5 237.6h0M554.5 243.1h0M554.9 242.8h0M555.9 236h0M556.6 238.6h0M557 243.3h0M557.2 244.7h0M557.5 244.8h0M557.8 239h0M557.9 242.4h0M558.2 248.5h0M558.8 239.2h0M558.8 252.9h0M558.9 244.6h0M559.4 234.6h0M559.5 238.1h0M559.6 251.7h0M560.2 245.1h0M560.3 246h0M560.8 237.7h0M561 240.5h0M561.9 236.1h0M562.6 239.2h0M563.1 239.7h0M564.3 247.7h0M564.8 245.2h0M565.2 245.2h0M565.2 249.4h0M565.9 236.9h0M565.9 241.3h0M566.4 251.6h0M566.5 238.8h0M567.1 247.2h0M567.2 239.8h0M567.3 246h0M568.2 248.4h0M568.4 248.7h0M569.7 250.9h0M555.7 185h0M550.3 270.8h0M550.3 285.9h0" stroke="#222" stroke-width="3.5" stroke-linecap="round"/>
<path d="M533 185.2h0M533.6 183.1h0M534.1 183.3h0M534.1 188.2h0M535.3 198h0M535.7 190.3h0M536.1 189.2h0M536.4 206.5h0M537.3 201.3h0M537.3 199.5h0M537.5 200.9h0M538.8 214.7h0M539.2 208h0M539.3 209.1h0M540 213.5h0M540.1 208.8h0M540.3 209.1h0M541.1 217.7h0M541.1 208.7h0M541.7 222.8h0M541.9 208.9h0M542.5 225.2h0M543.9 217.1h0M544.3 229.8h0M545.4 224.6h0M546.2 224.7h0M546.2 231.8h0M548 228.5h0M549 237.6h0M549.2 236h0M550.5 234.5h0M550.5 234.7h0M550.7 233.4h0M550.8 232.8h0M551.1 223.4h0M551.7 232.7h0M552 236.4h0M552.5 237.5h0M552.9 237.8h0M553.1 236.5h0M554 241.3h0M554.4 231.1h0M554.5 237.6h0M554.5 243.1h0M554.9 242.8h0M555.9 236h0M556.6 238.6h0M557 243.3h0M557.2 244.7h0M557.5 244.8h0M557.8 239h0M557.9 242.4h0M558.2 248.5h0M558.8 239.2h0M558.8 252.9h0M558.9 244.6h0M559.4 234.6h0M559.5 238.1h0M559.6 251.7h0M560.2 245.1h0M560.3 246h0M560.8 237.7h0M561 240.5h0M561.9 236.1h0M562.6 239.2h0M563.1 239.7h0M564.3 247.7h0M564.8 245.2h0M565.2 245.2h0M565.2 249.4h0M565.9 236.9h0M565.9 241.3h0M566.4 251.6h0M566.5 238.8h0M567.1 247.2h0M567.2 239.8h0M567.3 246h0M568.2 248.4h0M568.4 248.7h0M569.7 250.9h0M555.7 185h0M550.3 270.8h0M550.3 285.9h0" stroke="#ff00ff" stroke-width="2.1" stroke-linecap="round"/>
<polyline points="557.3,250.5 558.9,253.9 560.5,257 562.1,259.7 563.7,262.1 565.3,264.3 566.9,266.2 568.5,267.9 570.1,269.4 571.7,270.8 573.3,272 574.9,273.1 576.5,274.1 578.1,275 579.7,275.7 581.3,276.4 582.9,277 584.5,277.6 586.1,278.1 587.7,278.5 589.3,278.9 590.9,279.2 592.5,279.6 594.1,279.8 595.7,280.1 597.3,280.3 598.9,280.5 600.5,280.7 602.1,280.8 603.7,281 605.3,281.1 606.9,281.2 608.5,281.3 610.1,281.4 611.7,281.5 613.3,281.5 614.8,281.6 616.4,281.6 618,281.7 619.6,281.7 621.2,281.8 622.8,281.8 624.4,281.8 626,281.9 627.6,281.9 629.2,281.9 630.8,281.9 632.4,282 634,282 635.6,282 637.2,282 638.8,282 640.4,282 642,282 643.6,282 645.2,282 646.8,282 648.4,282.1 650,282.1 651.6,282.1 653.2,282.1 654.8,282.1 656.4,282.1 658,282.1 659.6,282.1 661.2,282.1 662.8,282.1 664.4,282.1 666,282.1 667.6,282.1 669.2,282.1 670.8,282.1 672.4,282.1 674,282.1 675.6,282.1 677.2,282.1 678.8,282.1 680.4,282.1 682,282.1 683.6,282.1 685.2,282.1 686.8,282.1 688.4,282.1 690,282.1 691.6,282.1 693.2,282.1 694.8,282.1 696.4,282.1 698,282.1 699.6,282.1 701.2,282.1 702.8,282.1 704.3,282.1 705.9,282.1 707.5,282.1 709.1,282.1 710.7,282.1 712.3,282.1 713.9,282.1 715.5,282.1 717.1,282.1 718.7,282.1 720.3,282.1 721.9,282.1 723.5,282.1 725.1,282.1 726.7,282.1 728.3,282.1 729.9,282.1 731.5,282.1 733.1,282.1 734.7,282.1 736.3,282.1 737.9,282.1 739.5,282.1 741.1,282.1 742.7,282.1 744.3,282.1 745.9,282.1 747.5,282.1" fill="none" stroke="#ff40ff" stroke-width="1.3" stroke-linejoin="round" />
</g>
<line x1="719.6" y1="171.5" x2="719.6" y2="329.5" stroke="#808080" stroke-width="1" stroke-dasharray="3,2"/>
<line x1="726" y1="250.5" x2="726" y2="273.1" stroke="#000" stroke-width="1.1" />
<line x1="723.5" y1="250.5" x2="728.5" y2="250.5" stroke="#000" stroke-width="1.1" />
<line x1="723.5" y1="273.1" x2="728.5" y2="273.1" stroke="#000" stroke-width="1.1" />
<rect x="723.8" y="259.6" width="4.4" height="4.4" fill="#1f77b4" stroke="none" stroke-width="1" />
<rect x="536" y="292.4" width="88" height="34" rx="2" fill="rgba(255,255,255,0.85)" stroke="#ddd" stroke-width="0.6"/>
<path d="M546.2 297.8h0" stroke="#333" stroke-width="3.6" stroke-linecap="round"/>
<path d="M546.2 297.8h0" stroke="#ff00ff" stroke-width="2.4" stroke-linecap="round"/>
<line x1="539" y1="308.6" x2="553.5" y2="308.6" stroke="#ff40ff" stroke-width="1.3" />
<rect x="544" y="317" width="4.4" height="4.4" fill="#1f77b4" stroke="none" stroke-width="1" />
<text transform="translate(559,300.7) scale(1,1)" font-family="'Liberation Sans', sans-serif" font-size="7.5" text-anchor="start" fill="#000"  stroke="#000" stroke-width="0.18">MaNGa (data) QA</text>
<text transform="translate(559,311.3) scale(1,1)" font-family="'Liberation Sans', sans-serif" font-size="7.5" text-anchor="start" fill="#000"  stroke="#000" stroke-width="0.18">Tanh model</text>
<text transform="translate(559,321.9) scale(1,1)" font-family="'Liberation Sans', sans-serif" font-size="7.5" text-anchor="start" fill="#000"  stroke="#000" stroke-width="0.18">QSO absorption</text>
<rect x="532.6" y="171.5" width="214.9" height="158" fill="none" stroke="#000" stroke-width="1.2"/>
<path d="M532.6 329.5V325.5M532.6 171.5V175.5M586.3 329.5V325.5M586.3 171.5V175.5M640 329.5V325.5M640 171.5V175.5M693.8 329.5V325.5M693.8 171.5V175.5M747.5 329.5V325.5M747.5 171.5V175.5M532.6 329.5V327.3M532.6 171.5V173.7M559.5 329.5V327.3M559.5 171.5V173.7M586.3 329.5V327.3M586.3 171.5V173.7M613.2 329.5V327.3M613.2 171.5V173.7M640 329.5V327.3M640 171.5V173.7M666.9 329.5V327.3M666.9 171.5V173.7M693.8 329.5V327.3M693.8 171.5V173.7M720.6 329.5V327.3M720.6 171.5V173.7M747.5 329.5V327.3M747.5 171.5V173.7M532.6 179H536.6M747.5 179H743.5M532.6 216.6H536.6M747.5 216.6H743.5M532.6 254.3H536.6M747.5 254.3H743.5M532.6 291.9H536.6M747.5 291.9H743.5M532.6 329.5H536.6M747.5 329.5H743.5M532.6 329.5H534.8M747.5 329.5H745.3M532.6 310.7H534.8M747.5 310.7H745.3M532.6 291.9H534.8M747.5 291.9H745.3M532.6 273.1H534.8M747.5 273.1H745.3M532.6 254.3H534.8M747.5 254.3H745.3M532.6 235.5H534.8M747.5 235.5H745.3M532.6 216.6H534.8M747.5 216.6H745.3M532.6 197.8H534.8M747.5 197.8H745.3M532.6 179H534.8M747.5 179H745.3" stroke="#000" stroke-width="1" fill="none" />
<text transform="translate(532.6,339.1) scale(1.1,1)" font-family="'Liberation Sans', sans-serif" font-size="8.7" text-anchor="middle" fill="#000"  stroke="#000" stroke-width="0.18">0</text>
<text transform="translate(586.3,339.1) scale(1.1,1)" font-family="'Liberation Sans', sans-serif" font-size="8.7" text-anchor="middle" fill="#000"  stroke="#000" stroke-width="0.18">10</text>
<text transform="translate(640,339.1) scale(1.1,1)" font-family="'Liberation Sans', sans-serif" font-size="8.7" text-anchor="middle" fill="#000"  stroke="#000" stroke-width="0.18">20</text>
<text transform="translate(693.8,339.1) scale(1.1,1)" font-family="'Liberation Sans', sans-serif" font-size="8.7" text-anchor="middle" fill="#000"  stroke="#000" stroke-width="0.18">30</text>
<text transform="translate(747.5,339.1) scale(1.1,1)" font-family="'Liberation Sans', sans-serif" font-size="8.7" text-anchor="middle" fill="#000"  stroke="#000" stroke-width="0.18">40</text>
<text transform="translate(530.8,182.1) scale(1.1,1)" font-family="'Liberation Sans', sans-serif" font-size="8.7" text-anchor="end" fill="#000"  stroke="#000" stroke-width="0.18">0</text>
<text transform="translate(530.8,219.7) scale(1.1,1)" font-family="'Liberation Sans', sans-serif" font-size="8.7" text-anchor="end" fill="#000"  stroke="#000" stroke-width="0.18">−50</text>
<text transform="translate(530.8,257.4) scale(1.1,1)" font-family="'Liberation Sans', sans-serif" font-size="8.7" text-anchor="end" fill="#000"  stroke="#000" stroke-width="0.18">−100</text>
<text transform="translate(530.8,295) scale(1.1,1)" font-family="'Liberation Sans', sans-serif" font-size="8.7" text-anchor="end" fill="#000"  stroke="#000" stroke-width="0.18">−150</text>
<text transform="translate(530.8,332.6) scale(1.1,1)" font-family="'Liberation Sans', sans-serif" font-size="8.7" text-anchor="end" fill="#000"  stroke="#000" stroke-width="0.18">−200</text>
<text transform="translate(640,347.6) scale(1,1)" font-family="'Liberation Sans', sans-serif" font-size="9.2" text-anchor="middle" fill="#000"  stroke="#000" stroke-width="0.18">Radius along the QA axis (kpc)</text>
<text transform="translate(504.5,250) rotate(-90) scale(1,1)" font-family="'Liberation Sans', sans-serif" font-size="9.2" text-anchor="middle" fill="#000"  stroke="#000" stroke-width="0.18">Radial velocity (km/s)</text>
<text transform="translate(640,168.4) scale(1,1)" font-family="'Liberation Sans', sans-serif" font-size="9.2" text-anchor="middle" fill="#000"  stroke="#000" stroke-width="0.18">Radial velocity along the QA axis</text>
<polygon points="56.6,374.2 185.5,372.9 185.5,470.3 56.6,472.9" fill="#f2f2f2" stroke="none" stroke-width="1" />
<polygon points="185.5,372.9 217.1,379.5 217.1,487.4 185.5,470.3" fill="#ebebeb" stroke="none" stroke-width="1" />
<polygon points="56.6,472.9 185.5,470.3 217.1,487.4 71.1,491.3" fill="#e6e6e6" stroke="none" stroke-width="1" />
<line x1="56.6" y1="374.2" x2="56.6" y2="472.9" stroke="#d4d4d4" stroke-width="0.7" />
<line x1="65.8" y1="374.1" x2="65.8" y2="472.7" stroke="#d4d4d4" stroke-width="0.7" />
<line x1="75" y1="374" x2="75" y2="472.5" stroke="#d4d4d4" stroke-width="0.7" />
<line x1="84.2" y1="373.9" x2="84.2" y2="472.3" stroke="#d4d4d4" stroke-width="0.7" />
<line x1="93.4" y1="373.8" x2="93.4" y2="472.1" stroke="#d4d4d4" stroke-width="0.7" />
<line x1="102.6" y1="373.7" x2="102.6" y2="472" stroke="#d4d4d4" stroke-width="0.7" />
<line x1="111.8" y1="373.6" x2="111.8" y2="471.8" stroke="#d4d4d4" stroke-width="0.7" />
<line x1="121.1" y1="373.6" x2="121.1" y2="471.6" stroke="#d4d4d4" stroke-width="0.7" />
<line x1="130.3" y1="373.5" x2="130.3" y2="471.4" stroke="#d4d4d4" stroke-width="0.7" />
<line x1="139.5" y1="373.4" x2="139.5" y2="471.2" stroke="#d4d4d4" stroke-width="0.7" />
<line x1="148.7" y1="373.3" x2="148.7" y2="471" stroke="#d4d4d4" stroke-width="0.7" />
<line x1="157.9" y1="373.2" x2="157.9" y2="470.8" stroke="#d4d4d4" stroke-width="0.7" />
<line x1="167.1" y1="373.1" x2="167.1" y2="470.6" stroke="#d4d4d4" stroke-width="0.7" />
<line x1="176.3" y1="373" x2="176.3" y2="470.5" stroke="#d4d4d4" stroke-width="0.7" />
<line x1="185.5" y1="372.9" x2="185.5" y2="470.3" stroke="#d4d4d4" stroke-width="0.7" />
<line x1="56.6" y1="375.3" x2="185.5" y2="373.9" stroke="#d4d4d4" stroke-width="0.7" />
<line x1="56.6" y1="391.3" x2="185.5" y2="389.8" stroke="#d4d4d4" stroke-width="0.7" />
<line x1="56.6" y1="407.4" x2="185.5" y2="405.6" stroke="#d4d4d4" stroke-width="0.7" />
<line x1="56.6" y1="423.4" x2="185.5" y2="421.4" stroke="#d4d4d4" stroke-width="0.7" />
<line x1="56.6" y1="439.5" x2="185.5" y2="437.3" stroke="#d4d4d4" stroke-width="0.7" />
<line x1="56.6" y1="455.5" x2="185.5" y2="453.1" stroke="#d4d4d4" stroke-width="0.7" />
<line x1="56.6" y1="471.6" x2="185.5" y2="468.9" stroke="#d4d4d4" stroke-width="0.7" />
<line x1="185.5" y1="372.9" x2="185.5" y2="470.3" stroke="#d4d4d4" stroke-width="0.7" />
<line x1="196.1" y1="375.1" x2="196.1" y2="476" stroke="#d4d4d4" stroke-width="0.7" />
<line x1="206.6" y1="377.3" x2="206.6" y2="481.7" stroke="#d4d4d4" stroke-width="0.7" />
<line x1="217.1" y1="379.5" x2="217.1" y2="487.4" stroke="#d4d4d4" stroke-width="0.7" />
<line x1="185.5" y1="373.9" x2="217.1" y2="380.8" stroke="#d4d4d4" stroke-width="0.7" />
<line x1="185.5" y1="389.8" x2="217.1" y2="398.3" stroke="#d4d4d4" stroke-width="0.7" />
<line x1="185.5" y1="405.6" x2="217.1" y2="415.9" stroke="#d4d4d4" stroke-width="0.7" />
<line x1="185.5" y1="421.4" x2="217.1" y2="433.4" stroke="#d4d4d4" stroke-width="0.7" />
<line x1="185.5" y1="437.3" x2="217.1" y2="451" stroke="#d4d4d4" stroke-width="0.7" />
<line x1="185.5" y1="453.1" x2="217.1" y2="468.5" stroke="#d4d4d4" stroke-width="0.7" />
<line x1="185.5" y1="468.9" x2="217.1" y2="486.1" stroke="#d4d4d4" stroke-width="0.7" />
<line x1="56.6" y1="472.9" x2="71.1" y2="491.3" stroke="#d4d4d4" stroke-width="0.7" />
<line x1="65.8" y1="472.7" x2="81.5" y2="491" stroke="#d4d4d4" stroke-width="0.7" />
<line x1="75" y1="472.5" x2="91.9" y2="490.8" stroke="#d4d4d4" stroke-width="0.7" />
<line x1="84.2" y1="472.3" x2="102.3" y2="490.5" stroke="#d4d4d4" stroke-width="0.7" />
<line x1="93.4" y1="472.1" x2="112.8" y2="490.2" stroke="#d4d4d4" stroke-width="0.7" />
<line x1="102.6" y1="472" x2="123.2" y2="489.9" stroke="#d4d4d4" stroke-width="0.7" />
<line x1="111.8" y1="471.8" x2="133.6" y2="489.6" stroke="#d4d4d4" stroke-width="0.7" />
<line x1="121.1" y1="471.6" x2="144.1" y2="489.3" stroke="#d4d4d4" stroke-width="0.7" />
<line x1="130.3" y1="471.4" x2="154.5" y2="489.1" stroke="#d4d4d4" stroke-width="0.7" />
<line x1="139.5" y1="471.2" x2="164.9" y2="488.8" stroke="#d4d4d4" stroke-width="0.7" />
<line x1="148.7" y1="471" x2="175.4" y2="488.5" stroke="#d4d4d4" stroke-width="0.7" />
<line x1="157.9" y1="470.8" x2="185.8" y2="488.2" stroke="#d4d4d4" stroke-width="0.7" />
<line x1="167.1" y1="470.6" x2="196.2" y2="487.9" stroke="#d4d4d4" stroke-width="0.7" />
<line x1="176.3" y1="470.5" x2="206.7" y2="487.7" stroke="#d4d4d4" stroke-width="0.7" />
<line x1="185.5" y1="470.3" x2="217.1" y2="487.4" stroke="#d4d4d4" stroke-width="0.7" />
<line x1="56.6" y1="472.9" x2="185.5" y2="470.3" stroke="#d4d4d4" stroke-width="0.7" />
<line x1="61.4" y1="479" x2="196.1" y2="476" stroke="#d4d4d4" stroke-width="0.7" />
<line x1="66.2" y1="485.2" x2="206.6" y2="481.7" stroke="#d4d4d4" stroke-width="0.7" />
<line x1="71.1" y1="491.3" x2="217.1" y2="487.4" stroke="#d4d4d4" stroke-width="0.7" />
<line x1="56.6" y1="374.2" x2="56.6" y2="472.9" stroke="#333" stroke-width="0.8" />
<line x1="71.1" y1="491.3" x2="217.1" y2="487.4" stroke="#333" stroke-width="0.8" />
<line x1="56.6" y1="472.9" x2="71.1" y2="491.3" stroke="#333" stroke-width="0.8" />
<text transform="translate(51.5,397.5) scale(1.1,1)" font-family="'Liberation Sans', sans-serif" font-size="8.6" text-anchor="end" fill="#000"  stroke="#000" stroke-width="0.18">2</text>
<text transform="translate(51.5,429.5) scale(1.1,1)" font-family="'Liberation Sans', sans-serif" font-size="8.6" text-anchor="end" fill="#000"  stroke="#000" stroke-width="0.18">0</text>
<text transform="translate(51.5,461.5) scale(1.1,1)" font-family="'Liberation Sans', sans-serif" font-size="8.6" text-anchor="end" fill="#000"  stroke="#000" stroke-width="0.18">−2</text>
<text transform="translate(78.9,503.2) scale(1.1,1)" font-family="'Liberation Sans', sans-serif" font-size="8.6" text-anchor="middle" fill="#000"  stroke="#000" stroke-width="0.18">−10</text>
<text transform="translate(100,503.2) scale(1.1,1)" font-family="'Liberation Sans', sans-serif" font-size="8.6" text-anchor="middle" fill="#000"  stroke="#000" stroke-width="0.18">−8</text>
<text transform="translate(118.4,503.2) scale(1.1,1)" font-family="'Liberation Sans', sans-serif" font-size="8.6" text-anchor="middle" fill="#000"  stroke="#000" stroke-width="0.18">−6</text>
<text transform="translate(138.2,503.2) scale(1.1,1)" font-family="'Liberation Sans', sans-serif" font-size="8.6" text-anchor="middle" fill="#000"  stroke="#000" stroke-width="0.18">−4</text>
<text transform="translate(159.2,503.2) scale(1.1,1)" font-family="'Liberation Sans', sans-serif" font-size="8.6" text-anchor="middle" fill="#000"  stroke="#000" stroke-width="0.18">−2</text>
<text transform="translate(177.1,503.2) scale(1.1,1)" font-family="'Liberation Sans', sans-serif" font-size="8.6" text-anchor="middle" fill="#000"  stroke="#000" stroke-width="0.18">0</text>
<text transform="translate(196.6,503.2) scale(1.1,1)" font-family="'Liberation Sans', sans-serif" font-size="8.6" text-anchor="middle" fill="#000"  stroke="#000" stroke-width="0.18">2</text>
<text transform="translate(215.8,503.2) scale(1.1,1)" font-family="'Liberation Sans', sans-serif" font-size="8.6" text-anchor="middle" fill="#000"  stroke="#000" stroke-width="0.18">4</text>
<text transform="translate(52.5,485.8) scale(1.1,1)" font-family="'Liberation Sans', sans-serif" font-size="8.6" text-anchor="end" fill="#000"  stroke="#000" stroke-width="0.18">5</text>
<text transform="translate(59.8,494.2) scale(1.1,1)" font-family="'Liberation Sans', sans-serif" font-size="8.6" text-anchor="end" fill="#000"  stroke="#000" stroke-width="0.18">0</text>
<text transform="translate(67.5,504.4) scale(1.1,1)" font-family="'Liberation Sans', sans-serif" font-size="8.6" text-anchor="end" fill="#000"  stroke="#000" stroke-width="0.18">−5</text>
<text transform="translate(150.8,509.2) scale(1,1)" font-family="'Liberation Sans', sans-serif" font-size="8.6" text-anchor="middle" fill="#000"  stroke="#000" stroke-width="0.18"><tspan font-style="italic">X</tspan> (<tspan font-style="italic">R</tspan><tspan font-size="5.8" dy="1.5" font-style="italic">e</tspan><tspan dy="-1.5">)</tspan></text>
<text transform="translate(34.2,422.5) rotate(90) scale(1,1)" font-family="'Liberation Sans', sans-serif" font-size="8.6" text-anchor="middle" fill="#000"  stroke="#000" stroke-width="0.18"><tspan font-style="italic">Z</tspan> (<tspan font-style="italic">R</tspan><tspan font-size="5.8" dy="1.5" font-style="italic">e</tspan><tspan dy="-1.5">)</tspan></text>
<text transform="translate(43.5,494.5) rotate(52) scale(1,1)" font-family="'Liberation Sans', sans-serif" font-size="8.6" text-anchor="middle" fill="#000"  stroke="#000" stroke-width="0.18"><tspan font-style="italic">Y</tspan> (<tspan font-style="italic">R</tspan><tspan font-size="5.8" dy="1.5" font-style="italic">e</tspan><tspan dy="-1.5">)</tspan></text>
<polygon points="93.4,419.5 156.6,428.2 75,454.5" fill="rgba(240,150,240,0.45)" stroke="#ff00ff" stroke-width="0.9" />
<line x1="85" y1="437.4" x2="156.6" y2="428.2" stroke="#ff00ff" stroke-width="0.9" stroke-dasharray="2.5,1.5"/>
<line x1="68.4" y1="466.3" x2="109.2" y2="388.7" stroke="#000" stroke-width="1" />
<polygon points="106.7,385.7 113.2,389.2 107.7,392.7" fill="#000"/>
<polygon points="68.4,463 69.2,465.3 71.6,465.3 69.7,466.7 70.4,469 68.4,467.6 66.5,469 67.2,466.7 65.3,465.3 67.7,465.3" fill="#000" stroke="none" stroke-width="1" />
<defs><linearGradient id="disk3d" x1="0" y1="0" x2="1" y2="0"><stop offset="0" stop-color="#3b4cc0"/><stop offset="0.3" stop-color="#6a7ff0"/><stop offset="0.45" stop-color="#dcdcdc"/><stop offset="0.6" stop-color="#f0b090"/><stop offset="1" stop-color="#a00020"/></linearGradient></defs>
<ellipse cx="160.5" cy="427.6" rx="25" ry="3.2" fill="url(#disk3d)"/>
<line x1="160.5" y1="410.3" x2="160.5" y2="424.5" stroke="#ee1111" stroke-width="1.3" />
<clipPath id="c8"><rect x="283.8" y="361.3" width="197.4" height="157.4"/></clipPath>
<g clip-path="url(#c8)">
<polygon points="283.8,422.7 382.5,440 473.3,478.4" fill="rgba(255,160,255,0.5)" stroke="none" stroke-width="1" />
<polyline points="283.8,422.7 382.5,440 473.3,478.4" fill="none" stroke="#ff00ff" stroke-width="1" stroke-linejoin="round" />
<line x1="283.8" y1="423.9" x2="481.2" y2="480.3" stroke="#000" stroke-width="1.3" />
<line x1="382.5" y1="440" x2="376.6" y2="450.8" stroke="#ff00ff" stroke-width="0.9" stroke-dasharray="2,1.5"/>
<defs><linearGradient id="diskzy" x1="0" y1="0" x2="1" y2="0"><stop offset="0" stop-color="#4060e0"/><stop offset="0.03" stop-color="#b0c0f0"/><stop offset="0.08" stop-color="#f4e4dc"/><stop offset="0.25" stop-color="#e09070"/><stop offset="0.45" stop-color="#a00020"/><stop offset="0.65" stop-color="#a00020"/><stop offset="0.85" stop-color="#f0b090"/><stop offset="0.96" stop-color="#e8e0f0"/><stop offset="1" stop-color="#4060e0"/></linearGradient></defs>
<rect x="332.2" y="438.8" width="100.7" height="2.4" fill="url(#diskzy)" stroke="none" stroke-width="1" />
<line x1="382.5" y1="440" x2="382.5" y2="420.3" stroke="#ee2222" stroke-width="1" />
</g>
<rect x="283.8" y="361.3" width="197.4" height="157.4" fill="none" stroke="#000" stroke-width="1.2"/>
<path d="M303.5 518.7V514.7M303.5 361.3V365.3M343 518.7V514.7M343 361.3V365.3M382.5 518.7V514.7M382.5 361.3V365.3M422 518.7V514.7M422 361.3V365.3M461.5 518.7V514.7M461.5 361.3V365.3M283.8 518.7V516.5M283.8 361.3V363.5M293.7 518.7V516.5M293.7 361.3V363.5M303.5 518.7V516.5M303.5 361.3V363.5M313.4 518.7V516.5M313.4 361.3V363.5M323.3 518.7V516.5M323.3 361.3V363.5M333.1 518.7V516.5M333.1 361.3V363.5M343 518.7V516.5M343 361.3V363.5M352.9 518.7V516.5M352.9 361.3V363.5M362.8 518.7V516.5M362.8 361.3V363.5M372.6 518.7V516.5M372.6 361.3V363.5M382.5 518.7V516.5M382.5 361.3V363.5M392.4 518.7V516.5M392.4 361.3V363.5M402.2 518.7V516.5M402.2 361.3V363.5M412.1 518.7V516.5M412.1 361.3V363.5M422 518.7V516.5M422 361.3V363.5M431.9 518.7V516.5M431.9 361.3V363.5M441.7 518.7V516.5M441.7 361.3V363.5M451.6 518.7V516.5M451.6 361.3V363.5M461.5 518.7V516.5M461.5 361.3V363.5M471.3 518.7V516.5M471.3 361.3V363.5M481.2 518.7V516.5M481.2 361.3V363.5M283.8 518.7H287.8M481.2 518.7H477.2M283.8 479.4H287.8M481.2 479.4H477.2M283.8 440H287.8M481.2 440H477.2M283.8 400.7H287.8M481.2 400.7H477.2M283.8 361.3H287.8M481.2 361.3H477.2M283.8 518.7H286M481.2 518.7H479M283.8 499H286M481.2 499H479M283.8 479.4H286M481.2 479.4H479M283.8 459.7H286M481.2 459.7H479M283.8 440H286M481.2 440H479M283.8 420.3H286M481.2 420.3H479M283.8 400.7H286M481.2 400.7H479M283.8 381H286M481.2 381H479M283.8 361.3H286M481.2 361.3H479" stroke="#000" stroke-width="1" fill="none" />
<text transform="translate(303.5,528.1) scale(1.1,1)" font-family="'Liberation Sans', sans-serif" font-size="8.6" text-anchor="middle" fill="#000"  stroke="#000" stroke-width="0.18">−4</text>
<text transform="translate(343,528.1) scale(1.1,1)" font-family="'Liberation Sans', sans-serif" font-size="8.6" text-anchor="middle" fill="#000"  stroke="#000" stroke-width="0.18">−2</text>
<text transform="translate(382.5,528.1) scale(1.1,1)" font-family="'Liberation Sans', sans-serif" font-size="8.6" text-anchor="middle" fill="#000"  stroke="#000" stroke-width="0.18">0</text>
<text transform="translate(422,528.1) scale(1.1,1)" font-family="'Liberation Sans', sans-serif" font-size="8.6" text-anchor="middle" fill="#000"  stroke="#000" stroke-width="0.18">2</text>
<text transform="translate(461.5,528.1) scale(1.1,1)" font-family="'Liberation Sans', sans-serif" font-size="8.6" text-anchor="middle" fill="#000"  stroke="#000" stroke-width="0.18">4</text>
<text transform="translate(282,521.8) scale(1.1,1)" font-family="'Liberation Sans', sans-serif" font-size="8.6" text-anchor="end" fill="#000"  stroke="#000" stroke-width="0.18">−4</text>
<text transform="translate(282,482.5) scale(1.1,1)" font-family="'Liberation Sans', sans-serif" font-size="8.6" text-anchor="end" fill="#000"  stroke="#000" stroke-width="0.18">−2</text>
<text transform="translate(282,443.1) scale(1.1,1)" font-family="'Liberation Sans', sans-serif" font-size="8.6" text-anchor="end" fill="#000"  stroke="#000" stroke-width="0.18">0</text>
<text transform="translate(282,403.8) scale(1.1,1)" font-family="'Liberation Sans', sans-serif" font-size="8.6" text-anchor="end" fill="#000"  stroke="#000" stroke-width="0.18">2</text>
<text transform="translate(282,364.4) scale(1.1,1)" font-family="'Liberation Sans', sans-serif" font-size="8.6" text-anchor="end" fill="#000"  stroke="#000" stroke-width="0.18">4</text>
<text transform="translate(382.5,536.2) scale(1,1)" font-family="'Liberation Sans', sans-serif" font-size="8.6" text-anchor="middle" fill="#000"  stroke="#000" stroke-width="0.18"><tspan font-style="italic">Y</tspan> (<tspan font-style="italic">R</tspan><tspan font-size="5.5" dy="1.5" font-style="italic">e</tspan><tspan dy="-1.5">)</tspan></text>
<text transform="translate(264,440) rotate(-90) scale(1,1)" font-family="'Liberation Sans', sans-serif" font-size="8.6" text-anchor="middle" fill="#000"  stroke="#000" stroke-width="0.18"><tspan font-style="italic">Z</tspan> (<tspan font-style="italic">R</tspan><tspan font-size="5.5" dy="1.5" font-style="italic">e</tspan><tspan dy="-1.5">)</tspan></text>
<clipPath id="c9"><rect x="561.6" y="361.3" width="157.4" height="157.4"/></clipPath>
<g clip-path="url(#c9)">
<polygon points="578.4,366 666.5,413.8 578.4,468.9" fill="rgba(255,160,255,0.5)" stroke="none" stroke-width="1" />
<path d="M666.5,413.8 L693.8,413.8 A27.3,27.3 0 0,0 693.7,411.9 Z" fill="#b40426" stroke="#b40426" stroke-width="0.3"/>
<path d="M666.5,413.8 L693.7,411.9 A27.3,27.3 0 0,0 693.6,410 Z" fill="#b50627" stroke="#b50627" stroke-width="0.3"/>
<path d="M666.5,413.8 L693.6,410 A27.3,27.3 0 0,0 693.2,408.1 Z" fill="#b60929" stroke="#b60929" stroke-width="0.3"/>
<path d="M666.5,413.8 L693.2,408.1 A27.3,27.3 0 0,0 692.8,406.2 Z" fill="#b80d2b" stroke="#b80d2b" stroke-width="0.3"/>
<path d="M666.5,413.8 L692.8,406.2 A27.3,27.3 0 0,0 692.2,404.4 Z" fill="#ba132e" stroke="#ba132e" stroke-width="0.3"/>
<path d="M666.5,413.8 L692.2,404.4 A27.3,27.3 0 0,0 691.5,402.7 Z" fill="#bd1a32" stroke="#bd1a32" stroke-width="0.3"/>
<path d="M666.5,413.8 L691.5,402.7 A27.3,27.3 0 0,0 690.6,401 Z" fill="#c12237" stroke="#c12237" stroke-width="0.3"/>
<path d="M666.5,413.8 L690.6,401 A27.3,27.3 0 0,0 689.7,399.3 Z" fill="#c52c3d" stroke="#c52c3d" stroke-width="0.3"/>
<path d="M666.5,413.8 L689.7,399.3 A27.3,27.3 0 0,0 688.6,397.7 Z" fill="#ca3743" stroke="#ca3743" stroke-width="0.3"/>
<path d="M666.5,413.8 L688.6,397.7 A27.3,27.3 0 0,0 687.4,396.2 Z" fill="#cf444a" stroke="#cf444a" stroke-width="0.3"/>
<path d="M666.5,413.8 L687.4,396.2 A27.3,27.3 0 0,0 686.2,394.8 Z" fill="#d55152" stroke="#d55152" stroke-width="0.3"/>
<path d="M666.5,413.8 L686.2,394.8 A27.3,27.3 0 0,0 684.8,393.5 Z" fill="#db605a" stroke="#db605a" stroke-width="0.3"/>
<path d="M666.5,413.8 L684.8,393.5 A27.3,27.3 0 0,0 683.3,392.3 Z" fill="#e26f63" stroke="#e26f63" stroke-width="0.3"/>
<path d="M666.5,413.8 L683.3,392.3 A27.3,27.3 0 0,0 681.8,391.1 Z" fill="#e9806c" stroke="#e9806c" stroke-width="0.3"/>
<path d="M666.5,413.8 L681.8,391.1 A27.3,27.3 0 0,0 680.2,390.1 Z" fill="#f09176" stroke="#f09176" stroke-width="0.3"/>
<path d="M666.5,413.8 L680.2,390.1 A27.3,27.3 0 0,0 678.5,389.2 Z" fill="#f39e81" stroke="#f39e81" stroke-width="0.3"/>
<path d="M666.5,413.8 L678.5,389.2 A27.3,27.3 0 0,0 676.8,388.5 Z" fill="#f0a68d" stroke="#f0a68d" stroke-width="0.3"/>
<path d="M666.5,413.8 L676.8,388.5 A27.3,27.3 0 0,0 675,387.8 Z" fill="#edaf9a" stroke="#edaf9a" stroke-width="0.3"/>
<path d="M666.5,413.8 L675,387.8 A27.3,27.3 0 0,0 673.1,387.3 Z" fill="#eab8a7" stroke="#eab8a7" stroke-width="0.3"/>
<path d="M666.5,413.8 L673.1,387.3 A27.3,27.3 0 0,0 671.3,386.9 Z" fill="#e7c1b4" stroke="#e7c1b4" stroke-width="0.3"/>
<path d="M666.5,413.8 L671.3,386.9 A27.3,27.3 0 0,0 669.4,386.6 Z" fill="#e3cac2" stroke="#e3cac2" stroke-width="0.3"/>
<path d="M666.5,413.8 L669.4,386.6 A27.3,27.3 0 0,0 667.5,386.5 Z" fill="#e0d4cf" stroke="#e0d4cf" stroke-width="0.3"/>
<path d="M666.5,413.8 L667.5,386.5 A27.3,27.3 0 0,0 665.6,386.5 Z" fill="#dddddd" stroke="#dddddd" stroke-width="0.3"/>
<path d="M666.5,413.8 L665.6,386.5 A27.3,27.3 0 0,0 663.7,386.6 Z" fill="#d2d7e2" stroke="#d2d7e2" stroke-width="0.3"/>
<path d="M666.5,413.8 L663.7,386.6 A27.3,27.3 0 0,0 661.8,386.9 Z" fill="#c7d0e6" stroke="#c7d0e6" stroke-width="0.3"/>
<path d="M666.5,413.8 L661.8,386.9 A27.3,27.3 0 0,0 659.9,387.3 Z" fill="#bccaeb" stroke="#bccaeb" stroke-width="0.3"/>
<path d="M666.5,413.8 L659.9,387.3 A27.3,27.3 0 0,0 658.1,387.8 Z" fill="#b1c4ef" stroke="#b1c4ef" stroke-width="0.3"/>
<path d="M666.5,413.8 L658.1,387.8 A27.3,27.3 0 0,0 656.3,388.5 Z" fill="#a6bef4" stroke="#a6bef4" stroke-width="0.3"/>
<path d="M666.5,413.8 L656.3,388.5 A27.3,27.3 0 0,0 654.6,389.2 Z" fill="#9cb8f8" stroke="#9cb8f8" stroke-width="0.3"/>
<path d="M666.5,413.8 L654.6,389.2 A27.3,27.3 0 0,0 652.9,390.1 Z" fill="#92b3fc" stroke="#92b3fc" stroke-width="0.3"/>
<path d="M666.5,413.8 L652.9,390.1 A27.3,27.3 0 0,0 651.3,391.1 Z" fill="#88aafa" stroke="#88aafa" stroke-width="0.3"/>
<path d="M666.5,413.8 L651.3,391.1 A27.3,27.3 0 0,0 649.7,392.3 Z" fill="#7f9ef3" stroke="#7f9ef3" stroke-width="0.3"/>
<path d="M666.5,413.8 L649.7,392.3 A27.3,27.3 0 0,0 648.3,393.5 Z" fill="#7693ec" stroke="#7693ec" stroke-width="0.3"/>
<path d="M666.5,413.8 L648.3,393.5 A27.3,27.3 0 0,0 646.9,394.8 Z" fill="#6d89e6" stroke="#6d89e6" stroke-width="0.3"/>
<path d="M666.5,413.8 L646.9,394.8 A27.3,27.3 0 0,0 645.6,396.2 Z" fill="#657fe0" stroke="#657fe0" stroke-width="0.3"/>
<path d="M666.5,413.8 L645.6,396.2 A27.3,27.3 0 0,0 644.5,397.7 Z" fill="#5e76da" stroke="#5e76da" stroke-width="0.3"/>
<path d="M666.5,413.8 L644.5,397.7 A27.3,27.3 0 0,0 643.4,399.3 Z" fill="#576ed5" stroke="#576ed5" stroke-width="0.3"/>
<path d="M666.5,413.8 L643.4,399.3 A27.3,27.3 0 0,0 642.4,401 Z" fill="#5167d1" stroke="#5167d1" stroke-width="0.3"/>
<path d="M666.5,413.8 L642.4,401 A27.3,27.3 0 0,0 641.6,402.7 Z" fill="#4c60cd" stroke="#4c60cd" stroke-width="0.3"/>
<path d="M666.5,413.8 L641.6,402.7 A27.3,27.3 0 0,0 640.9,404.4 Z" fill="#475bc9" stroke="#475bc9" stroke-width="0.3"/>
<path d="M666.5,413.8 L640.9,404.4 A27.3,27.3 0 0,0 640.3,406.2 Z" fill="#4356c6" stroke="#4356c6" stroke-width="0.3"/>
<path d="M666.5,413.8 L640.3,406.2 A27.3,27.3 0 0,0 639.8,408.1 Z" fill="#4052c4" stroke="#4052c4" stroke-width="0.3"/>
<path d="M666.5,413.8 L639.8,408.1 A27.3,27.3 0 0,0 639.5,410 Z" fill="#3d4fc2" stroke="#3d4fc2" stroke-width="0.3"/>
<path d="M666.5,413.8 L639.5,410 A27.3,27.3 0 0,0 639.3,411.9 Z" fill="#3c4dc1" stroke="#3c4dc1" stroke-width="0.3"/>
<path d="M666.5,413.8 L639.3,411.9 A27.3,27.3 0 0,0 639.3,413.8 Z" fill="#3b4cc0" stroke="#3b4cc0" stroke-width="0.3"/>
<path d="M666.5,413.8 L639.3,413.8 A27.3,27.3 0 0,0 639.3,415.7 Z" fill="#3b4cc0" stroke="#3b4cc0" stroke-width="0.3"/>
<path d="M666.5,413.8 L639.3,415.7 A27.3,27.3 0 0,0 639.5,417.6 Z" fill="#3c4dc1" stroke="#3c4dc1" stroke-width="0.3"/>
<path d="M666.5,413.8 L639.5,417.6 A27.3,27.3 0 0,0 639.8,419.4 Z" fill="#3d4fc2" stroke="#3d4fc2" stroke-width="0.3"/>
<path d="M666.5,413.8 L639.8,419.4 A27.3,27.3 0 0,0 640.3,421.3 Z" fill="#4052c4" stroke="#4052c4" stroke-width="0.3"/>
<path d="M666.5,413.8 L640.3,421.3 A27.3,27.3 0 0,0 640.9,423.1 Z" fill="#4356c6" stroke="#4356c6" stroke-width="0.3"/>
<path d="M666.5,413.8 L640.9,423.1 A27.3,27.3 0 0,0 641.6,424.9 Z" fill="#475bc9" stroke="#475bc9" stroke-width="0.3"/>
<path d="M666.5,413.8 L641.6,424.9 A27.3,27.3 0 0,0 642.4,426.6 Z" fill="#4c60cd" stroke="#4c60cd" stroke-width="0.3"/>
<path d="M666.5,413.8 L642.4,426.6 A27.3,27.3 0 0,0 643.4,428.2 Z" fill="#5167d1" stroke="#5167d1" stroke-width="0.3"/>
<path d="M666.5,413.8 L643.4,428.2 A27.3,27.3 0 0,0 644.5,429.8 Z" fill="#576ed5" stroke="#576ed5" stroke-width="0.3"/>
<path d="M666.5,413.8 L644.5,429.8 A27.3,27.3 0 0,0 645.6,431.3 Z" fill="#5e76da" stroke="#5e76da" stroke-width="0.3"/>
<path d="M666.5,413.8 L645.6,431.3 A27.3,27.3 0 0,0 646.9,432.7 Z" fill="#657fe0" stroke="#657fe0" stroke-width="0.3"/>
<path d="M666.5,413.8 L646.9,432.7 A27.3,27.3 0 0,0 648.3,434 Z" fill="#6d89e6" stroke="#6d89e6" stroke-width="0.3"/>
<path d="M666.5,413.8 L648.3,434 A27.3,27.3 0 0,0 649.7,435.3 Z" fill="#7693ec" stroke="#7693ec" stroke-width="0.3"/>
<path d="M666.5,413.8 L649.7,435.3 A27.3,27.3 0 0,0 651.3,436.4 Z" fill="#7f9ef3" stroke="#7f9ef3" stroke-width="0.3"/>
<path d="M666.5,413.8 L651.3,436.4 A27.3,27.3 0 0,0 652.9,437.4 Z" fill="#88aafa" stroke="#88aafa" stroke-width="0.3"/>
<path d="M666.5,413.8 L652.9,437.4 A27.3,27.3 0 0,0 654.6,438.3 Z" fill="#92b3fc" stroke="#92b3fc" stroke-width="0.3"/>
<path d="M666.5,413.8 L654.6,438.3 A27.3,27.3 0 0,0 656.3,439.1 Z" fill="#9cb8f8" stroke="#9cb8f8" stroke-width="0.3"/>
<path d="M666.5,413.8 L656.3,439.1 A27.3,27.3 0 0,0 658.1,439.7 Z" fill="#a6bef4" stroke="#a6bef4" stroke-width="0.3"/>
<path d="M666.5,413.8 L658.1,439.7 A27.3,27.3 0 0,0 659.9,440.2 Z" fill="#b1c4ef" stroke="#b1c4ef" stroke-width="0.3"/>
<path d="M666.5,413.8 L659.9,440.2 A27.3,27.3 0 0,0 661.8,440.6 Z" fill="#bccaeb" stroke="#bccaeb" stroke-width="0.3"/>
<path d="M666.5,413.8 L661.8,440.6 A27.3,27.3 0 0,0 663.7,440.9 Z" fill="#c7d0e6" stroke="#c7d0e6" stroke-width="0.3"/>
<path d="M666.5,413.8 L663.7,440.9 A27.3,27.3 0 0,0 665.6,441 Z" fill="#d2d7e2" stroke="#d2d7e2" stroke-width="0.3"/>
<path d="M666.5,413.8 L665.6,441 A27.3,27.3 0 0,0 667.5,441 Z" fill="#dddddd" stroke="#dddddd" stroke-width="0.3"/>
<path d="M666.5,413.8 L667.5,441 A27.3,27.3 0 0,0 669.4,440.9 Z" fill="#e0d4cf" stroke="#e0d4cf" stroke-width="0.3"/>
<path d="M666.5,413.8 L669.4,440.9 A27.3,27.3 0 0,0 671.3,440.6 Z" fill="#e3cac2" stroke="#e3cac2" stroke-width="0.3"/>
<path d="M666.5,413.8 L671.3,440.6 A27.3,27.3 0 0,0 673.1,440.2 Z" fill="#e7c1b4" stroke="#e7c1b4" stroke-width="0.3"/>
<path d="M666.5,413.8 L673.1,440.2 A27.3,27.3 0 0,0 675,439.7 Z" fill="#eab8a7" stroke="#eab8a7" stroke-width="0.3"/>
<path d="M666.5,413.8 L675,439.7 A27.3,27.3 0 0,0 676.8,439.1 Z" fill="#edaf9a" stroke="#edaf9a" stroke-width="0.3"/>
<path d="M666.5,413.8 L676.8,439.1 A27.3,27.3 0 0,0 678.5,438.3 Z" fill="#f0a68d" stroke="#f0a68d" stroke-width="0.3"/>
<path d="M666.5,413.8 L678.5,438.3 A27.3,27.3 0 0,0 680.2,437.4 Z" fill="#f39e81" stroke="#f39e81" stroke-width="0.3"/>
<path d="M666.5,413.8 L680.2,437.4 A27.3,27.3 0 0,0 681.8,436.4 Z" fill="#f09176" stroke="#f09176" stroke-width="0.3"/>
<path d="M666.5,413.8 L681.8,436.4 A27.3,27.3 0 0,0 683.3,435.3 Z" fill="#e9806c" stroke="#e9806c" stroke-width="0.3"/>
<path d="M666.5,413.8 L683.3,435.3 A27.3,27.3 0 0,0 684.8,434 Z" fill="#e26f63" stroke="#e26f63" stroke-width="0.3"/>
<path d="M666.5,413.8 L684.8,434 A27.3,27.3 0 0,0 686.2,432.7 Z" fill="#db605a" stroke="#db605a" stroke-width="0.3"/>
<path d="M666.5,413.8 L686.2,432.7 A27.3,27.3 0 0,0 687.4,431.3 Z" fill="#d55152" stroke="#d55152" stroke-width="0.3"/>
<path d="M666.5,413.8 L687.4,431.3 A27.3,27.3 0 0,0 688.6,429.8 Z" fill="#cf444a" stroke="#cf444a" stroke-width="0.3"/>
<path d="M666.5,413.8 L688.6,429.8 A27.3,27.3 0 0,0 689.7,428.2 Z" fill="#ca3743" stroke="#ca3743" stroke-width="0.3"/>
<path d="M666.5,413.8 L689.7,428.2 A27.3,27.3 0 0,0 690.6,426.6 Z" fill="#c52c3d" stroke="#c52c3d" stroke-width="0.3"/>
<path d="M666.5,413.8 L690.6,426.6 A27.3,27.3 0 0,0 691.5,424.9 Z" fill="#c12237" stroke="#c12237" stroke-width="0.3"/>
<path d="M666.5,413.8 L691.5,424.9 A27.3,27.3 0 0,0 692.2,423.1 Z" fill="#bd1a32" stroke="#bd1a32" stroke-width="0.3"/>
<path d="M666.5,413.8 L692.2,423.1 A27.3,27.3 0 0,0 692.8,421.3 Z" fill="#ba132e" stroke="#ba132e" stroke-width="0.3"/>
<path d="M666.5,413.8 L692.8,421.3 A27.3,27.3 0 0,0 693.2,419.4 Z" fill="#b80d2b" stroke="#b80d2b" stroke-width="0.3"/>
<path d="M666.5,413.8 L693.2,419.4 A27.3,27.3 0 0,0 693.6,417.6 Z" fill="#b60929" stroke="#b60929" stroke-width="0.3"/>
<path d="M666.5,413.8 L693.6,417.6 A27.3,27.3 0 0,0 693.7,415.7 Z" fill="#b50627" stroke="#b50627" stroke-width="0.3"/>
<path d="M666.5,413.8 L693.7,415.7 A27.3,27.3 0 0,0 693.8,413.8 Z" fill="#b40426" stroke="#b40426" stroke-width="0.3"/>
<polyline points="578.4,366 666.5,413.8 578.4,468.9" fill="none" stroke="#ff00ff" stroke-width="1.3" stroke-linejoin="round" />
<line x1="578.4" y1="416.9" x2="666.5" y2="413.8" stroke="#ff00ff" stroke-width="1.2" stroke-dasharray="3,2"/>
<line x1="578.4" y1="361.3" x2="578.4" y2="518.7" stroke="#000" stroke-width="1.3" />
</g>
<rect x="561.6" y="361.3" width="157.4" height="157.4" fill="none" stroke="#000" stroke-width="1.2"/>
<path d="M561.6 518.7V514.7M561.6 361.3V365.3M582.6 518.7V514.7M582.6 361.3V365.3M603.6 518.7V514.7M603.6 361.3V365.3M624.6 518.7V514.7M624.6 361.3V365.3M645.5 518.7V514.7M645.5 361.3V365.3M666.5 518.7V514.7M666.5 361.3V365.3M687.5 518.7V514.7M687.5 361.3V365.3M708.5 518.7V514.7M708.5 361.3V365.3M561.6 518.7V516.5M561.6 361.3V363.5M572.1 518.7V516.5M572.1 361.3V363.5M582.6 518.7V516.5M582.6 361.3V363.5M593.1 518.7V516.5M593.1 361.3V363.5M603.6 518.7V516.5M603.6 361.3V363.5M614.1 518.7V516.5M614.1 361.3V363.5M624.6 518.7V516.5M624.6 361.3V363.5M635.1 518.7V516.5M635.1 361.3V363.5M645.5 518.7V516.5M645.5 361.3V363.5M656 518.7V516.5M656 361.3V363.5M666.5 518.7V516.5M666.5 361.3V363.5M677 518.7V516.5M677 361.3V363.5M687.5 518.7V516.5M687.5 361.3V363.5M698 518.7V516.5M698 361.3V363.5M708.5 518.7V516.5M708.5 361.3V363.5M719 518.7V516.5M719 361.3V363.5M561.6 518.7H565.6M719 518.7H715M561.6 497.7H565.6M719 497.7H715M561.6 476.7H565.6M719 476.7H715M561.6 455.7H565.6M719 455.7H715M561.6 434.8H565.6M719 434.8H715M561.6 413.8H565.6M719 413.8H715M561.6 392.8H565.6M719 392.8H715M561.6 371.8H565.6M719 371.8H715M561.6 518.7H563.8M719 518.7H716.8M561.6 508.2H563.8M719 508.2H716.8M561.6 497.7H563.8M719 497.7H716.8M561.6 487.2H563.8M719 487.2H716.8M561.6 476.7H563.8M719 476.7H716.8M561.6 466.2H563.8M719 466.2H716.8M561.6 455.7H563.8M719 455.7H716.8M561.6 445.2H563.8M719 445.2H716.8M561.6 434.8H563.8M719 434.8H716.8M561.6 424.3H563.8M719 424.3H716.8M561.6 413.8H563.8M719 413.8H716.8M561.6 403.3H563.8M719 403.3H716.8M561.6 392.8H563.8M719 392.8H716.8M561.6 382.3H563.8M719 382.3H716.8M561.6 371.8H563.8M719 371.8H716.8M561.6 361.3H563.8M719 361.3H716.8" stroke="#000" stroke-width="1" fill="none" />
<text transform="translate(561.6,528.1) scale(1.1,1)" font-family="'Liberation Sans', sans-serif" font-size="8.6" text-anchor="middle" fill="#000"  stroke="#000" stroke-width="0.18">−10</text>
<text transform="translate(582.6,528.1) scale(1.1,1)" font-family="'Liberation Sans', sans-serif" font-size="8.6" text-anchor="middle" fill="#000"  stroke="#000" stroke-width="0.18">−8</text>
<text transform="translate(603.6,528.1) scale(1.1,1)" font-family="'Liberation Sans', sans-serif" font-size="8.6" text-anchor="middle" fill="#000"  stroke="#000" stroke-width="0.18">−6</text>
<text transform="translate(624.6,528.1) scale(1.1,1)" font-family="'Liberation Sans', sans-serif" font-size="8.6" text-anchor="middle" fill="#000"  stroke="#000" stroke-width="0.18">−4</text>
<text transform="translate(645.5,528.1) scale(1.1,1)" font-family="'Liberation Sans', sans-serif" font-size="8.6" text-anchor="middle" fill="#000"  stroke="#000" stroke-width="0.18">−2</text>
<text transform="translate(666.5,528.1) scale(1.1,1)" font-family="'Liberation Sans', sans-serif" font-size="8.6" text-anchor="middle" fill="#000"  stroke="#000" stroke-width="0.18">0</text>
<text transform="translate(687.5,528.1) scale(1.1,1)" font-family="'Liberation Sans', sans-serif" font-size="8.6" text-anchor="middle" fill="#000"  stroke="#000" stroke-width="0.18">2</text>
<text transform="translate(708.5,528.1) scale(1.1,1)" font-family="'Liberation Sans', sans-serif" font-size="8.6" text-anchor="middle" fill="#000"  stroke="#000" stroke-width="0.18">4</text>
<text transform="translate(559.8,521.8) scale(1.1,1)" font-family="'Liberation Sans', sans-serif" font-size="8.6" text-anchor="end" fill="#000"  stroke="#000" stroke-width="0.18">−10</text>
<text transform="translate(559.8,500.8) scale(1.1,1)" font-family="'Liberation Sans', sans-serif" font-size="8.6" text-anchor="end" fill="#000"  stroke="#000" stroke-width="0.18">−8</text>
<text transform="translate(559.8,479.8) scale(1.1,1)" font-family="'Liberation Sans', sans-serif" font-size="8.6" text-anchor="end" fill="#000"  stroke="#000" stroke-width="0.18">−6</text>
<text transform="translate(559.8,458.8) scale(1.1,1)" font-family="'Liberation Sans', sans-serif" font-size="8.6" text-anchor="end" fill="#000"  stroke="#000" stroke-width="0.18">−4</text>
<text transform="translate(559.8,437.9) scale(1.1,1)" font-family="'Liberation Sans', sans-serif" font-size="8.6" text-anchor="end" fill="#000"  stroke="#000" stroke-width="0.18">−2</text>
<text transform="translate(559.8,416.9) scale(1.1,1)" font-family="'Liberation Sans', sans-serif" font-size="8.6" text-anchor="end" fill="#000"  stroke="#000" stroke-width="0.18">0</text>
<text transform="translate(559.8,395.9) scale(1.1,1)" font-family="'Liberation Sans', sans-serif" font-size="8.6" text-anchor="end" fill="#000"  stroke="#000" stroke-width="0.18">2</text>
<text transform="translate(559.8,374.9) scale(1.1,1)" font-family="'Liberation Sans', sans-serif" font-size="8.6" text-anchor="end" fill="#000"  stroke="#000" stroke-width="0.18">4</text>
<text transform="translate(640.3,536.2) scale(1,1)" font-family="'Liberation Sans', sans-serif" font-size="8.6" text-anchor="middle" fill="#000"  stroke="#000" stroke-width="0.18"><tspan font-style="italic">X</tspan> (<tspan font-style="italic">R</tspan><tspan font-size="5.5" dy="1.5" font-style="italic">e</tspan><tspan dy="-1.5">)</tspan></text>
<text transform="translate(539,440) rotate(-90) scale(1,1)" font-family="'Liberation Sans', sans-serif" font-size="8.6" text-anchor="middle" fill="#000"  stroke="#000" stroke-width="0.18"><tspan font-style="italic">Y</tspan> (<tspan font-style="italic">R</tspan><tspan font-size="5.5" dy="1.5" font-style="italic">e</tspan><tspan dy="-1.5">)</tspan></text>
<clipPath id="c10"><rect x="31.1" y="550.4" width="157.9" height="157.9"/></clipPath>
<g clip-path="url(#c10)">
<rect x="31.1" y="550.4" width="157.9" height="157.9" fill="url(#hatch)" stroke="none" stroke-width="1" />
<path d="M83.2 665.1h2.5v2.5h-2.5zM87.7 662.8h2.5v2.5h-2.5zM132 618.5h2.5v2.5h-2.5zM138.7 607.4h2.5v2.5h-2.5zM140.9 609.6h2.5v2.5h-2.5zM143.1 622.9h2.5v2.5h-2.5zM145.3 622.9h2.5v2.5h-2.5zM145.3 611.8h2.5v2.5h-2.5zM149.7 620.7h2.5v2.5h-2.5zM67.7 649.5h2.5v2.5h-2.5zM67.7 647.3h2.5v2.5h-2.5zM69.9 645.1h2.5v2.5h-2.5zM72.1 645.1h2.5v2.5h-2.5zM69.9 651.7h2.5v2.5h-2.5zM78.8 640.7h2.5v2.5h-2.5zM72.1 678.4h2.5v2.5h-2.5zM74.3 678.4h2.5v2.5h-2.5zM103.2 598.5h2.5v2.5h-2.5zM163.1 605.2h2.5v2.5h-2.5zM163.1 603h2.5v2.5h-2.5zM160.8 600.7h2.5v2.5h-2.5zM163.1 600.7h2.5v2.5h-2.5zM165.3 605.2h2.5v2.5h-2.5z" fill="#11557f"/>
<path d="M83.2 662.8h2.5v2.5h-2.5zM87.7 665.1h2.5v2.5h-2.5zM87.7 658.4h2.5v2.5h-2.5zM89.9 660.6h2.5v2.5h-2.5zM114.3 607.4h2.5v2.5h-2.5zM118.7 603h2.5v2.5h-2.5zM129.8 600.7h2.5v2.5h-2.5zM132 622.9h2.5v2.5h-2.5zM132 605.2h2.5v2.5h-2.5zM132 603h2.5v2.5h-2.5zM134.2 605.2h2.5v2.5h-2.5zM136.4 622.9h2.5v2.5h-2.5zM136.4 607.4h2.5v2.5h-2.5zM136.4 605.2h2.5v2.5h-2.5zM138.7 622.9h2.5v2.5h-2.5zM140.9 618.5h2.5v2.5h-2.5zM140.9 611.8h2.5v2.5h-2.5z" fill="#076375"/>
<path d="M83.2 660.6h2.5v2.5h-2.5zM143.1 611.8h2.5v2.5h-2.5zM145.3 616.3h2.5v2.5h-2.5zM145.3 614h2.5v2.5h-2.5zM147.5 622.9h2.5v2.5h-2.5z" fill="#154e83"/>
<path d="M85.4 667.3h2.5v2.5h-2.5zM85.4 665.1h2.5v2.5h-2.5z" fill="#1c408a"/>
<path d="M85.4 662.8h2.5v2.5h-2.5zM87.7 660.6h2.5v2.5h-2.5zM92.1 649.5h2.5v2.5h-2.5zM98.7 654h2.5v2.5h-2.5zM112 614h2.5v2.5h-2.5zM118.7 609.6h2.5v2.5h-2.5zM118.7 607.4h2.5v2.5h-2.5zM120.9 614h2.5v2.5h-2.5zM120.9 611.8h2.5v2.5h-2.5zM120.9 609.6h2.5v2.5h-2.5zM120.9 607.4h2.5v2.5h-2.5zM120.9 605.2h2.5v2.5h-2.5zM125.4 611.8h2.5v2.5h-2.5zM125.4 607.4h2.5v2.5h-2.5zM125.4 605.2h2.5v2.5h-2.5zM127.6 625.1h2.5v2.5h-2.5zM127.6 616.3h2.5v2.5h-2.5zM127.6 614h2.5v2.5h-2.5zM129.8 614h2.5v2.5h-2.5zM129.8 609.6h2.5v2.5h-2.5z" fill="#008750"/>
<path d="M85.4 660.6h2.5v2.5h-2.5zM89.9 656.2h2.5v2.5h-2.5zM96.5 656.2h2.5v2.5h-2.5zM127.6 605.2h2.5v2.5h-2.5zM134.2 618.5h2.5v2.5h-2.5zM134.2 616.3h2.5v2.5h-2.5zM138.7 620.7h2.5v2.5h-2.5zM138.7 616.3h2.5v2.5h-2.5z" fill="#007664"/>
<path d="M85.4 658.4h2.5v2.5h-2.5zM89.9 651.7h2.5v2.5h-2.5zM92.1 651.7h2.5v2.5h-2.5zM98.7 651.7h2.5v2.5h-2.5zM103.2 651.7h2.5v2.5h-2.5zM103.2 649.5h2.5v2.5h-2.5zM114.3 611.8h2.5v2.5h-2.5zM127.6 609.6h2.5v2.5h-2.5zM129.8 607.4h2.5v2.5h-2.5zM132 625.1h2.5v2.5h-2.5zM132 609.6h2.5v2.5h-2.5zM134.2 625.1h2.5v2.5h-2.5zM134.2 614h2.5v2.5h-2.5zM136.4 620.7h2.5v2.5h-2.5zM136.4 618.5h2.5v2.5h-2.5zM136.4 614h2.5v2.5h-2.5zM138.7 614h2.5v2.5h-2.5zM140.9 616.3h2.5v2.5h-2.5z" fill="#007c5d"/>
<path d="M85.4 636.2h2.5v2.5h-2.5zM87.7 634h2.5v2.5h-2.5zM87.7 631.8h2.5v2.5h-2.5zM87.7 629.6h2.5v2.5h-2.5zM89.9 640.7h2.5v2.5h-2.5zM89.9 625.1h2.5v2.5h-2.5zM92.1 634h2.5v2.5h-2.5zM94.3 651.7h2.5v2.5h-2.5zM98.7 618.5h2.5v2.5h-2.5zM101 618.5h2.5v2.5h-2.5zM105.4 647.3h2.5v2.5h-2.5zM105.4 618.5h2.5v2.5h-2.5zM105.4 616.3h2.5v2.5h-2.5zM107.6 645.1h2.5v2.5h-2.5zM109.8 614h2.5v2.5h-2.5zM112 611.8h2.5v2.5h-2.5zM114.3 638.4h2.5v2.5h-2.5zM114.3 614h2.5v2.5h-2.5zM120.9 631.8h2.5v2.5h-2.5zM120.9 629.6h2.5v2.5h-2.5zM123.1 627.4h2.5v2.5h-2.5zM123.1 622.9h2.5v2.5h-2.5zM123.1 611.8h2.5v2.5h-2.5zM125.4 620.7h2.5v2.5h-2.5zM125.4 618.5h2.5v2.5h-2.5zM125.4 614h2.5v2.5h-2.5zM127.6 620.7h2.5v2.5h-2.5zM127.6 618.5h2.5v2.5h-2.5z" fill="#009638"/>
<path d="M87.7 656.2h2.5v2.5h-2.5zM89.9 654h2.5v2.5h-2.5zM92.1 658.4h2.5v2.5h-2.5zM120.9 603h2.5v2.5h-2.5zM125.4 600.7h2.5v2.5h-2.5zM127.6 607.4h2.5v2.5h-2.5zM129.8 603h2.5v2.5h-2.5zM132 616.3h2.5v2.5h-2.5zM136.4 625.1h2.5v2.5h-2.5zM136.4 616.3h2.5v2.5h-2.5zM136.4 611.8h2.5v2.5h-2.5zM138.7 618.5h2.5v2.5h-2.5zM138.7 611.8h2.5v2.5h-2.5zM140.9 614h2.5v2.5h-2.5zM143.1 620.7h2.5v2.5h-2.5zM143.1 616.3h2.5v2.5h-2.5zM143.1 614h2.5v2.5h-2.5zM145.3 620.7h2.5v2.5h-2.5z" fill="#036a71"/>
<path d="M87.7 640.7h2.5v2.5h-2.5zM87.7 638.4h2.5v2.5h-2.5zM92.1 654h2.5v2.5h-2.5zM92.1 647.3h2.5v2.5h-2.5zM118.7 614h2.5v2.5h-2.5zM123.1 614h2.5v2.5h-2.5zM125.4 627.4h2.5v2.5h-2.5zM125.4 622.9h2.5v2.5h-2.5zM125.4 616.3h2.5v2.5h-2.5zM127.6 627.4h2.5v2.5h-2.5zM127.6 622.9h2.5v2.5h-2.5zM129.8 620.7h2.5v2.5h-2.5zM129.8 618.5h2.5v2.5h-2.5z" fill="#008b49"/>
<path d="M87.7 636.2h2.5v2.5h-2.5zM89.9 642.9h2.5v2.5h-2.5zM89.9 629.6h2.5v2.5h-2.5zM89.9 627.4h2.5v2.5h-2.5zM92.1 625.1h2.5v2.5h-2.5zM94.3 654h2.5v2.5h-2.5zM96.5 649.5h2.5v2.5h-2.5zM98.7 649.5h2.5v2.5h-2.5zM98.7 647.3h2.5v2.5h-2.5zM101 649.5h2.5v2.5h-2.5zM101 645.1h2.5v2.5h-2.5zM103.2 647.3h2.5v2.5h-2.5zM103.2 616.3h2.5v2.5h-2.5zM107.6 642.9h2.5v2.5h-2.5zM107.6 616.3h2.5v2.5h-2.5zM112 640.7h2.5v2.5h-2.5zM114.3 636.2h2.5v2.5h-2.5zM114.3 616.3h2.5v2.5h-2.5zM116.5 614h2.5v2.5h-2.5zM120.9 627.4h2.5v2.5h-2.5zM120.9 620.7h2.5v2.5h-2.5zM120.9 618.5h2.5v2.5h-2.5zM123.1 620.7h2.5v2.5h-2.5z" fill="#009c2e"/>
<path d="M89.9 662.8h2.5v2.5h-2.5zM92.1 660.6h2.5v2.5h-2.5zM92.1 656.2h2.5v2.5h-2.5zM94.3 656.2h2.5v2.5h-2.5zM116.5 607.4h2.5v2.5h-2.5zM116.5 605.2h2.5v2.5h-2.5zM118.7 605.2h2.5v2.5h-2.5zM125.4 603h2.5v2.5h-2.5zM129.8 611.8h2.5v2.5h-2.5zM129.8 605.2h2.5v2.5h-2.5zM132 620.7h2.5v2.5h-2.5zM134.2 620.7h2.5v2.5h-2.5zM134.2 611.8h2.5v2.5h-2.5zM134.2 607.4h2.5v2.5h-2.5zM136.4 609.6h2.5v2.5h-2.5zM138.7 609.6h2.5v2.5h-2.5zM140.9 620.7h2.5v2.5h-2.5z" fill="#00706b"/>
<path d="M89.9 658.4h2.5v2.5h-2.5zM96.5 654h2.5v2.5h-2.5zM101 651.7h2.5v2.5h-2.5zM114.3 609.6h2.5v2.5h-2.5zM123.1 629.6h2.5v2.5h-2.5zM123.1 609.6h2.5v2.5h-2.5zM123.1 607.4h2.5v2.5h-2.5zM123.1 605.2h2.5v2.5h-2.5zM125.4 609.6h2.5v2.5h-2.5zM129.8 625.1h2.5v2.5h-2.5zM132 614h2.5v2.5h-2.5zM132 607.4h2.5v2.5h-2.5zM134.2 622.9h2.5v2.5h-2.5zM134.2 609.6h2.5v2.5h-2.5z" fill="#008257"/>
<path d="M89.9 645.1h2.5v2.5h-2.5zM92.1 645.1h2.5v2.5h-2.5zM94.3 649.5h2.5v2.5h-2.5zM94.3 647.3h2.5v2.5h-2.5zM94.3 625.1h2.5v2.5h-2.5zM103.2 618.5h2.5v2.5h-2.5zM105.4 645.1h2.5v2.5h-2.5zM112 638.4h2.5v2.5h-2.5zM116.5 611.8h2.5v2.5h-2.5zM116.5 609.6h2.5v2.5h-2.5zM118.7 631.8h2.5v2.5h-2.5zM118.7 616.3h2.5v2.5h-2.5zM118.7 611.8h2.5v2.5h-2.5zM123.1 618.5h2.5v2.5h-2.5zM123.1 616.3h2.5v2.5h-2.5zM127.6 611.8h2.5v2.5h-2.5zM129.8 616.3h2.5v2.5h-2.5zM132 611.8h2.5v2.5h-2.5z" fill="#008f41"/>
<path d="M89.9 638.4h2.5v2.5h-2.5zM92.1 642.9h2.5v2.5h-2.5zM92.1 629.6h2.5v2.5h-2.5zM92.1 627.4h2.5v2.5h-2.5zM96.5 651.7h2.5v2.5h-2.5zM96.5 647.3h2.5v2.5h-2.5zM96.5 642.9h2.5v2.5h-2.5zM96.5 622.9h2.5v2.5h-2.5zM96.5 620.7h2.5v2.5h-2.5zM98.7 642.9h2.5v2.5h-2.5zM98.7 640.7h2.5v2.5h-2.5zM98.7 620.7h2.5v2.5h-2.5zM109.8 642.9h2.5v2.5h-2.5zM109.8 640.7h2.5v2.5h-2.5zM109.8 616.3h2.5v2.5h-2.5zM112 620.7h2.5v2.5h-2.5zM114.3 631.8h2.5v2.5h-2.5zM116.5 636.2h2.5v2.5h-2.5zM116.5 634h2.5v2.5h-2.5zM116.5 627.4h2.5v2.5h-2.5zM116.5 622.9h2.5v2.5h-2.5zM116.5 620.7h2.5v2.5h-2.5zM116.5 616.3h2.5v2.5h-2.5zM118.7 634h2.5v2.5h-2.5zM118.7 622.9h2.5v2.5h-2.5zM120.9 616.3h2.5v2.5h-2.5zM129.8 622.9h2.5v2.5h-2.5z" fill="#06a227"/>
<path d="M89.9 636.2h2.5v2.5h-2.5zM92.1 638.4h2.5v2.5h-2.5zM92.1 636.2h2.5v2.5h-2.5zM94.3 636.2h2.5v2.5h-2.5zM94.3 629.6h2.5v2.5h-2.5zM96.5 638.4h2.5v2.5h-2.5zM96.5 627.4h2.5v2.5h-2.5zM96.5 625.1h2.5v2.5h-2.5zM98.7 625.1h2.5v2.5h-2.5zM103.2 645.1h2.5v2.5h-2.5zM103.2 634h2.5v2.5h-2.5zM103.2 620.7h2.5v2.5h-2.5zM107.6 636.2h2.5v2.5h-2.5zM107.6 620.7h2.5v2.5h-2.5zM109.8 634h2.5v2.5h-2.5zM109.8 627.4h2.5v2.5h-2.5zM109.8 620.7h2.5v2.5h-2.5zM112 634h2.5v2.5h-2.5zM112 631.8h2.5v2.5h-2.5zM112 629.6h2.5v2.5h-2.5z" fill="#60b717"/>
<path d="M89.9 634h2.5v2.5h-2.5zM89.9 631.8h2.5v2.5h-2.5zM92.1 640.7h2.5v2.5h-2.5zM94.3 640.7h2.5v2.5h-2.5zM98.7 645.1h2.5v2.5h-2.5zM101 647.3h2.5v2.5h-2.5zM101 636.2h2.5v2.5h-2.5zM101 620.7h2.5v2.5h-2.5zM103.2 622.9h2.5v2.5h-2.5zM105.4 642.9h2.5v2.5h-2.5zM107.6 622.9h2.5v2.5h-2.5zM112 616.3h2.5v2.5h-2.5zM114.3 622.9h2.5v2.5h-2.5zM120.9 625.1h2.5v2.5h-2.5zM120.9 622.9h2.5v2.5h-2.5z" fill="#32ae21"/>
<path d="M92.1 631.8h2.5v2.5h-2.5zM94.3 638.4h2.5v2.5h-2.5zM94.3 634h2.5v2.5h-2.5zM96.5 640.7h2.5v2.5h-2.5zM96.5 631.8h2.5v2.5h-2.5zM98.7 627.4h2.5v2.5h-2.5zM98.7 622.9h2.5v2.5h-2.5zM101 640.7h2.5v2.5h-2.5zM101 627.4h2.5v2.5h-2.5zM103.2 638.4h2.5v2.5h-2.5zM103.2 636.2h2.5v2.5h-2.5zM103.2 631.8h2.5v2.5h-2.5zM103.2 627.4h2.5v2.5h-2.5zM105.4 638.4h2.5v2.5h-2.5zM107.6 618.5h2.5v2.5h-2.5zM109.8 638.4h2.5v2.5h-2.5zM109.8 636.2h2.5v2.5h-2.5zM109.8 625.1h2.5v2.5h-2.5zM109.8 622.9h2.5v2.5h-2.5zM112 625.1h2.5v2.5h-2.5zM112 622.9h2.5v2.5h-2.5zM114.3 629.6h2.5v2.5h-2.5zM116.5 631.8h2.5v2.5h-2.5zM116.5 629.6h2.5v2.5h-2.5z" fill="#79ba11"/>
<path d="M94.3 645.1h2.5v2.5h-2.5zM96.5 645.1h2.5v2.5h-2.5zM101 642.9h2.5v2.5h-2.5zM107.6 640.7h2.5v2.5h-2.5zM109.8 618.5h2.5v2.5h-2.5zM112 618.5h2.5v2.5h-2.5zM114.3 627.4h2.5v2.5h-2.5zM114.3 625.1h2.5v2.5h-2.5zM114.3 620.7h2.5v2.5h-2.5zM114.3 618.5h2.5v2.5h-2.5zM116.5 618.5h2.5v2.5h-2.5zM118.7 629.6h2.5v2.5h-2.5zM118.7 625.1h2.5v2.5h-2.5zM118.7 620.7h2.5v2.5h-2.5zM118.7 618.5h2.5v2.5h-2.5zM123.1 625.1h2.5v2.5h-2.5zM125.4 625.1h2.5v2.5h-2.5z" fill="#1ca824"/>
<path d="M94.3 642.9h2.5v2.5h-2.5zM94.3 631.8h2.5v2.5h-2.5zM94.3 627.4h2.5v2.5h-2.5zM94.3 622.9h2.5v2.5h-2.5zM96.5 636.2h2.5v2.5h-2.5zM96.5 629.6h2.5v2.5h-2.5zM98.7 638.4h2.5v2.5h-2.5zM101 622.9h2.5v2.5h-2.5zM103.2 642.9h2.5v2.5h-2.5zM103.2 640.7h2.5v2.5h-2.5zM103.2 625.1h2.5v2.5h-2.5zM105.4 640.7h2.5v2.5h-2.5zM105.4 625.1h2.5v2.5h-2.5zM105.4 622.9h2.5v2.5h-2.5zM105.4 620.7h2.5v2.5h-2.5zM107.6 638.4h2.5v2.5h-2.5zM107.6 631.8h2.5v2.5h-2.5zM107.6 625.1h2.5v2.5h-2.5zM112 636.2h2.5v2.5h-2.5zM116.5 625.1h2.5v2.5h-2.5zM118.7 627.4h2.5v2.5h-2.5z" fill="#48b41e"/>
<path d="M96.5 634h2.5v2.5h-2.5zM98.7 631.8h2.5v2.5h-2.5zM101 634h2.5v2.5h-2.5zM101 629.6h2.5v2.5h-2.5zM101 625.1h2.5v2.5h-2.5zM105.4 636.2h2.5v2.5h-2.5zM105.4 629.6h2.5v2.5h-2.5zM105.4 627.4h2.5v2.5h-2.5zM107.6 634h2.5v2.5h-2.5zM107.6 629.6h2.5v2.5h-2.5zM107.6 627.4h2.5v2.5h-2.5zM109.8 631.8h2.5v2.5h-2.5zM112 627.4h2.5v2.5h-2.5zM114.3 634h2.5v2.5h-2.5z" fill="#91bd0b"/>
<path d="M98.7 636.2h2.5v2.5h-2.5zM101 638.4h2.5v2.5h-2.5zM105.4 634h2.5v2.5h-2.5zM105.4 631.8h2.5v2.5h-2.5z" fill="#bbc503"/>
<path d="M98.7 634h2.5v2.5h-2.5zM103.2 629.6h2.5v2.5h-2.5zM109.8 629.6h2.5v2.5h-2.5zM56.6 658.4h2.5v2.5h-2.5z" fill="#a6c107"/>
<path d="M98.7 629.6h2.5v2.5h-2.5zM101 631.8h2.5v2.5h-2.5z" fill="#cdc805"/>
<path d="M123.1 603h2.5v2.5h-2.5zM123.1 600.7h2.5v2.5h-2.5zM140.9 622.9h2.5v2.5h-2.5zM140.9 607.4h2.5v2.5h-2.5zM143.1 618.5h2.5v2.5h-2.5zM143.1 609.6h2.5v2.5h-2.5zM145.3 618.5h2.5v2.5h-2.5zM147.5 618.5h2.5v2.5h-2.5z" fill="#0c5c7a"/>
<path d="M147.5 620.7h2.5v2.5h-2.5z" fill="#194787"/>
<path d="M134.2 594.1h2.5v2.5h-2.5zM134.2 591.9h2.5v2.5h-2.5zM134.2 589.7h2.5v2.5h-2.5zM136.4 589.7h2.5v2.5h-2.5zM136.4 594.1h2.5v2.5h-2.5zM147.5 580.8h2.5v2.5h-2.5zM109.8 596.3h2.5v2.5h-2.5zM112 594.1h2.5v2.5h-2.5zM114.3 594.1h2.5v2.5h-2.5zM67.7 673.9h2.5v2.5h-2.5zM69.9 673.9h2.5v2.5h-2.5zM76.6 676.1h2.5v2.5h-2.5zM76.6 673.9h2.5v2.5h-2.5zM76.6 671.7h2.5v2.5h-2.5zM78.8 671.7h2.5v2.5h-2.5zM78.8 669.5h2.5v2.5h-2.5zM76.6 669.5h2.5v2.5h-2.5zM74.3 669.5h2.5v2.5h-2.5zM78.8 676.1h2.5v2.5h-2.5zM61 662.8h2.5v2.5h-2.5zM63.3 662.8h2.5v2.5h-2.5zM63.3 658.4h2.5v2.5h-2.5zM158.6 603h2.5v2.5h-2.5z" fill="#1d0d1d"/>
</g>
<clipPath id="wcearth1"><rect x="31.1" y="550.4" width="158" height="157.9"/></clipPath>
<g clip-path="url(#wcearth1)">
<polygon points="121.8,626.9 191.6,537.8 191.6,599.9" fill="rgba(232,130,232,0.36)" stroke="none" stroke-width="1" />
</g>
<path d="M121.8 626.9L191.6 537.8V599.9Z" fill="none" stroke="#ff00ff" stroke-opacity="0.45" stroke-width="0.6"/>
<line x1="31.1" y1="684.7" x2="191.6" y2="583.3" stroke="#000" stroke-width="1.5" />
<line x1="121.8" y1="626.9" x2="191.6" y2="574" stroke="#ff00ff" stroke-width="1.6" />
<path d="M117.2 626.9H126.4M121.8 622.3V631.5" stroke="#000" stroke-width="2.8"/>
<rect x="149.9" y="672.5" width="38.2" height="32.7" fill="rgba(255,255,255,0.82)" stroke="none" stroke-width="1" rx="1.5"/>
<path d="M155.7 677.2H162.9M159.3 673.6V680.8" stroke="#000" stroke-width="2.6"/>
<line x1="151.8" y1="687.9" x2="166.8" y2="687.9" stroke="#333" stroke-width="1.8" />
<line x1="151.8" y1="698.1" x2="166.8" y2="698.1" stroke="#ff00ff" stroke-width="1.5" />
<text transform="translate(171.8,680) scale(1,1)" font-family="'Liberation Sans', sans-serif" font-size="7.1" text-anchor="start" fill="#000"  stroke="#000" stroke-width="0.18">GC</text>
<text transform="translate(171.8,690.3) scale(1,1)" font-family="'Liberation Sans', sans-serif" font-size="7.1" text-anchor="start" fill="#000"  stroke="#000" stroke-width="0.18">PA</text>
<text transform="translate(171.8,700.5) scale(1,1)" font-family="'Liberation Sans', sans-serif" font-size="7.1" text-anchor="start" fill="#000"  stroke="#000" stroke-width="0.18">QA</text>
<rect x="31.1" y="550.4" width="157.9" height="157.9" fill="none" stroke="#444" stroke-width="0.9"/>
<path d="M31.1 708.3V704.7M31.1 550.4V554M75.5 708.3V704.7M75.5 550.4V554M119.8 708.3V704.7M119.8 550.4V554M164.2 708.3V704.7M164.2 550.4V554M31.1 708.3H34.7M189 708.3H185.4M31.1 686.1H34.7M189 686.1H185.4M31.1 663.9H34.7M189 663.9H185.4M31.1 641.8H34.7M189 641.8H185.4M31.1 619.6H34.7M189 619.6H185.4M31.1 597.4H34.7M189 597.4H185.4M31.1 575.2H34.7M189 575.2H185.4M31.1 553.1H34.7M189 553.1H185.4" stroke="#000" stroke-width="1.2" fill="none" />
<text transform="translate(31.1,716.9) scale(1.1,1)" font-family="'Liberation Sans', sans-serif" font-size="8.7" text-anchor="middle" fill="#000"  stroke="#000" stroke-width="0.18">0</text>
<text transform="translate(75.5,716.9) scale(1.1,1)" font-family="'Liberation Sans', sans-serif" font-size="8.7" text-anchor="middle" fill="#000"  stroke="#000" stroke-width="0.18">20</text>
<text transform="translate(119.8,716.9) scale(1.1,1)" font-family="'Liberation Sans', sans-serif" font-size="8.7" text-anchor="middle" fill="#000"  stroke="#000" stroke-width="0.18">40</text>
<text transform="translate(164.2,716.9) scale(1.1,1)" font-family="'Liberation Sans', sans-serif" font-size="8.7" text-anchor="middle" fill="#000"  stroke="#000" stroke-width="0.18">60</text>
<text transform="translate(28.9,711.4) scale(1.1,1)" font-family="'Liberation Sans', sans-serif" font-size="8.7" text-anchor="end" fill="#000"  stroke="#000" stroke-width="0.18">0</text>
<text transform="translate(28.9,689.2) scale(1.1,1)" font-family="'Liberation Sans', sans-serif" font-size="8.7" text-anchor="end" fill="#000"  stroke="#000" stroke-width="0.18">10</text>
<text transform="translate(28.9,667) scale(1.1,1)" font-family="'Liberation Sans', sans-serif" font-size="8.7" text-anchor="end" fill="#000"  stroke="#000" stroke-width="0.18">20</text>
<text transform="translate(28.9,644.9) scale(1.1,1)" font-family="'Liberation Sans', sans-serif" font-size="8.7" text-anchor="end" fill="#000"  stroke="#000" stroke-width="0.18">30</text>
<text transform="translate(28.9,622.7) scale(1.1,1)" font-family="'Liberation Sans', sans-serif" font-size="8.7" text-anchor="end" fill="#000"  stroke="#000" stroke-width="0.18">40</text>
<text transform="translate(28.9,600.5) scale(1.1,1)" font-family="'Liberation Sans', sans-serif" font-size="8.7" text-anchor="end" fill="#000"  stroke="#000" stroke-width="0.18">50</text>
<text transform="translate(28.9,578.3) scale(1.1,1)" font-family="'Liberation Sans', sans-serif" font-size="8.7" text-anchor="end" fill="#000"  stroke="#000" stroke-width="0.18">60</text>
<text transform="translate(28.9,556.2) scale(1.1,1)" font-family="'Liberation Sans', sans-serif" font-size="8.7" text-anchor="end" fill="#000"  stroke="#000" stroke-width="0.18">70</text>
<text transform="translate(110,726.9) scale(1,1)" font-family="'Liberation Sans', sans-serif" font-size="9.2" text-anchor="middle" fill="#000"  stroke="#000" stroke-width="0.18">Declination (spaxel)</text>
<text transform="translate(14.5,628.4) rotate(-90) scale(1,1)" font-family="'Liberation Sans', sans-serif" font-size="9.2" text-anchor="middle" fill="#000"  stroke="#000" stroke-width="0.18">Right Ascension (spaxel)</text>
<text transform="translate(110,547.2) scale(1,1)" font-family="'Liberation Sans', sans-serif" font-size="9.2" text-anchor="middle" fill="#000"  stroke="#000" stroke-width="0.18">IZI Metallicity</text>
<text transform="translate(38.5,566.9) scale(1.1,1)" font-family="'Liberation Sans', sans-serif" font-size="8.7" text-anchor="start" fill="#000"  stroke="#000" stroke-width="0.18">1-180522</text>
<defs><linearGradient id="earth1" x1="0" y1="1" x2="0" y2="0"><stop offset="0.000" stop-color="#140a14"/><stop offset="0.073" stop-color="#230f23"/><stop offset="0.145" stop-color="#281446"/><stop offset="0.193" stop-color="#281478"/><stop offset="0.259" stop-color="#1e3c8c"/><stop offset="0.319" stop-color="#145082"/><stop offset="0.408" stop-color="#006e6e"/><stop offset="0.499" stop-color="#008750"/><stop offset="0.530" stop-color="#008c46"/><stop offset="0.598" stop-color="#00a028"/><stop offset="0.665" stop-color="#46b41e"/><stop offset="0.733" stop-color="#96be0a"/><stop offset="0.790" stop-color="#cdc800"/><stop offset="0.829" stop-color="#d7c878"/><stop offset="0.886" stop-color="#f0c8aa"/><stop offset="0.930" stop-color="#f5ded2"/><stop offset="1.000" stop-color="#fafafa"/></linearGradient></defs>
<rect x="199.7" y="550.4" width="7.9" height="157.9" fill="url(#earth1)" stroke="none" stroke-width="1" />
<text transform="translate(210,553.5)" font-family="'Liberation Sans', sans-serif" font-size="8.7" text-anchor="start" fill="#000"  stroke="#000" stroke-width="0.18">0.30</text>
<text transform="translate(210,577.2)" font-family="'Liberation Sans', sans-serif" font-size="8.7" text-anchor="start" fill="#000"  stroke="#000" stroke-width="0.18">0.24</text>
<text transform="translate(210,600.9)" font-family="'Liberation Sans', sans-serif" font-size="8.7" text-anchor="start" fill="#000"  stroke="#000" stroke-width="0.18">0.18</text>
<text transform="translate(210,624.6)" font-family="'Liberation Sans', sans-serif" font-size="8.7" text-anchor="start" fill="#000"  stroke="#000" stroke-width="0.18">0.12</text>
<text transform="translate(210,648.2)" font-family="'Liberation Sans', sans-serif" font-size="8.7" text-anchor="start" fill="#000"  stroke="#000" stroke-width="0.18">0.06</text>
<text transform="translate(210,671.9)" font-family="'Liberation Sans', sans-serif" font-size="8.7" text-anchor="start" fill="#000"  stroke="#000" stroke-width="0.18">0.00</text>
<text transform="translate(210,695.6)" font-family="'Liberation Sans', sans-serif" font-size="8.7" text-anchor="start" fill="#000"  stroke="#000" stroke-width="0.18">-0.06</text>
<text transform="translate(237.2,630) rotate(-90) scale(1,1)" font-family="'Liberation Sans', sans-serif" font-size="9.2" text-anchor="middle" fill="#000"  stroke="#000" stroke-width="0.18">[O/H]</text>
<clipPath id="c11"><rect x="274.6" y="550.5" width="215" height="158"/></clipPath>
<g clip-path="url(#c11)">
<path d="M313.2 644.5V581.1M311 644.5H315.4M311 581.1H315.4M376.8 665V597.1M374.6 665H379M374.6 597.1H379M282.2 629V552.7M280 629H284.4M280 552.7H284.4M304.2 645.2V564.1M302 645.2H306.4M302 564.1H306.4M325.3 629.7V565M323.1 629.7H327.5M323.1 565H327.5M318 653.8V567.2M315.8 653.8H320.2M315.8 567.2H320.2M286.1 653.9V551.3M283.9 653.9H288.3M283.9 551.3H288.3M381 664.1V566.6M378.8 664.1H383.2M378.8 566.6H383.2M384.5 663.2V598.5M382.3 663.2H386.7M382.3 598.5H386.7M323.9 661.6V569.5M321.7 661.6H326.1M321.7 569.5H326.1M371.7 655.6V574.6M369.5 655.6H373.9M369.5 574.6H373.9M317.7 630.6V565M315.5 630.6H319.9M315.5 565H319.9M410.3 677.9V609M408.1 677.9H412.5M408.1 609H412.5M397.5 682.6V619.3M395.3 682.6H399.7M395.3 619.3H399.7M311.7 638.5V573.8M309.5 638.5H313.9M309.5 573.8H313.9M315.5 642.9V575M313.3 642.9H317.7M313.3 575H317.7M341 669.3V577.5M338.8 669.3H343.2M338.8 577.5H343.2M380.7 659.7V581.9M378.5 659.7H382.9M378.5 581.9H382.9M303.8 661.8V572.9M301.6 661.8H306M301.6 572.9H306M403.5 693.4V628.6M401.3 693.4H405.7M401.3 628.6H405.7M304.4 644.1V553.1M302.2 644.1H306.6M302.2 553.1H306.6M411.6 685.6V612.9M409.4 685.6H413.8M409.4 612.9H413.8M340.7 673.6V563.3M338.5 673.6H342.9M338.5 563.3H342.9M349.3 660.9V587.6M347.1 660.9H351.5M347.1 587.6H351.5M347.9 659.3V595.2M345.7 659.3H350.1M345.7 595.2H350.1M297.8 626.5V549.5M295.6 626.5H300M295.6 549.5H300M407.9 687.6V607.8M405.7 687.6H410.1M405.7 607.8H410.1M294.2 630.1V560.2M292 630.1H296.4M292 560.2H296.4M325.7 634.3V565.9M323.5 634.3H327.9M323.5 565.9H327.9M396.5 682.6V614.9M394.3 682.6H398.7M394.3 614.9H398.7M389.3 681V601.9M387.1 681H391.5M387.1 601.9H391.5M325.1 639.9V575.6M322.9 639.9H327.3M322.9 575.6H327.3M312.9 657.9V578M310.7 657.9H315.1M310.7 578H315.1M372.7 680.2V605.7M370.5 680.2H374.9M370.5 605.7H374.9M288.4 610.3V547.1M286.2 610.3H290.6M286.2 547.1H290.6M363.3 684.4V615M361.1 684.4H365.5M361.1 615H365.5M317.9 643.7V571.9M315.7 643.7H320.1M315.7 571.9H320.1M422.6 674.3V599M420.4 674.3H424.8M420.4 599H424.8M295.5 632.9V548.1M293.3 632.9H297.7M293.3 548.1H297.7M381.6 653.3V588.9M379.4 653.3H383.8M379.4 588.9H383.8M389.4 666.6V593.4M387.2 666.6H391.6M387.2 593.4H391.6M369.8 647.4V571.6M367.6 647.4H372M367.6 571.6H372M416.8 690.4V623.2M414.6 690.4H419M414.6 623.2H419M292.2 632.1V550.3M290 632.1H294.4M290 550.3H294.4M277.9 653.3V587.9M275.7 653.3H280.1M275.7 587.9H280.1M313.1 641V572.6M310.9 641H315.3M310.9 572.6H315.3M339.6 675.1V596.6M337.4 675.1H341.8M337.4 596.6H341.8M310.3 630.8V559.8M308.1 630.8H312.5M308.1 559.8H312.5M386.3 680.5V602.3M384.1 680.5H388.5M384.1 602.3H388.5M350.1 662.4V590.3M347.9 662.4H352.3M347.9 590.3H352.3M307.9 641.3V565.4M305.7 641.3H310.1M305.7 565.4H310.1M383.6 658.8V589.8M381.4 658.8H385.8M381.4 589.8H385.8M408.8 668.9V602.8M406.6 668.9H411M406.6 602.8H411M378.9 671.3V607.9M376.7 671.3H381.1M376.7 607.9H381.1M278.1 626.3V557.7M275.9 626.3H280.3M275.9 557.7H280.3M397.4 667.1V593.5M395.2 667.1H399.6M395.2 593.5H399.6M333.1 663.7V598.9M330.9 663.7H335.3M330.9 598.9H335.3M289.4 631.1V565M287.2 631.1H291.6M287.2 565H291.6M379.8 658.8V588.5M377.6 658.8H382M377.6 588.5H382M384.6 689.7V621.7M382.4 689.7H386.8M382.4 621.7H386.8M402.8 696.3V603.6M400.6 696.3H405M400.6 603.6H405M326.8 659.5V578.7M324.6 659.5H329M324.6 578.7H329M313 653.5V589M310.8 653.5H315.2M310.8 589H315.2M374.3 681.2V603.4M372.1 681.2H376.5M372.1 603.4H376.5M306.8 638.7V563.5M304.6 638.7H309M304.6 563.5H309M308.7 657.1V590.7M306.5 657.1H310.9M306.5 590.7H310.9M320.7 664.2V572.6M318.5 664.2H322.9M318.5 572.6H322.9M279.1 634.9V541.6M276.9 634.9H281.3M276.9 541.6H281.3M419.4 681.7V599.7M417.2 681.7H421.6M417.2 599.7H421.6M375.3 687.8V619.6M373.1 687.8H377.5M373.1 619.6H377.5M393.2 672.8V605.8M391 672.8H395.4M391 605.8H395.4M401.9 662.2V594.8M399.7 662.2H404.1M399.7 594.8H404.1M278.8 638.6V554.4M276.6 638.6H281M276.6 554.4H281M415.9 683.5V615M413.7 683.5H418.1M413.7 615H418.1M405.9 696.3V618.3M403.7 696.3H408.1M403.7 618.3H408.1M307.5 636.9V568.6M305.3 636.9H309.7M305.3 568.6H309.7M279.5 643.9V562.1M277.3 643.9H281.7M277.3 562.1H281.7M411.7 666.6V593M409.5 666.6H413.9M409.5 593H413.9M309.1 642.1V564.3M306.9 642.1H311.3M306.9 564.3H311.3M357 646.4V573.9M354.8 646.4H359.2M354.8 573.9H359.2M417.4 683.7V605.2M415.2 683.7H419.6M415.2 605.2H419.6M400.9 676.9V593.8M398.7 676.9H403.1M398.7 593.8H403.1M321.7 644.8V566.7M319.5 644.8H323.9M319.5 566.7H323.9M346.7 656.4V568.8M344.5 656.4H348.9M344.5 568.8H348.9M352.4 652.2V558.8M350.2 652.2H354.6M350.2 558.8H354.6M319.4 650V571.7M317.2 650H321.6M317.2 571.7H321.6M335.9 647.7V577.9M333.7 647.7H338.1M333.7 577.9H338.1M378 665.3V578.9M375.8 665.3H380.2M375.8 578.9H380.2M286.4 656.7V573.1M284.2 656.7H288.6M284.2 573.1H288.6M350.1 639.3V565.2M347.9 639.3H352.3M347.9 565.2H352.3M303.6 671.2V584.2M301.4 671.2H305.8M301.4 584.2H305.8M404.2 668.6V602.2M402 668.6H406.4M402 602.2H406.4M297.9 612.7V533.3M295.7 612.7H300.1M295.7 533.3H300.1M354.2 684.1V602M352 684.1H356.4M352 602H356.4M282.4 644.8V564.6M280.2 644.8H284.6M280.2 564.6H284.6M407.9 683.4V591.6M405.7 683.4H410.1M405.7 591.6H410.1M406.4 691.5V613.4M404.2 691.5H408.6M404.2 613.4H408.6M404.5 678.1V614M402.3 678.1H406.7M402.3 614H406.7M377.9 649.1V573.4M375.7 649.1H380.1M375.7 573.4H380.1M365 644.1V577.9M362.8 644.1H367.2M362.8 577.9H367.2M414.3 694.1V618.4M412.1 694.1H416.5M412.1 618.4H416.5M307.8 652.6V582M305.6 652.6H310M305.6 582H310M376.1 654.6V590.4M373.9 654.6H378.3M373.9 590.4H378.3M383.5 678.5V604.7M381.3 678.5H385.7M381.3 604.7H385.7M398.5 672.8V606.4M396.3 672.8H400.7M396.3 606.4H400.7M405.5 676.1V603.1M403.3 676.1H407.7M403.3 603.1H407.7M330.8 674.2V580.7M328.6 674.2H333M328.6 580.7H333M278.5 643.3V553.7M276.3 643.3H280.7M276.3 553.7H280.7M371.7 691.2V605.8M369.5 691.2H373.9M369.5 605.8H373.9M374.7 653.4V579M372.5 653.4H376.9M372.5 579H376.9M284.6 616.5V527.7M282.4 616.5H286.8M282.4 527.7H286.8M420.9 702.8V610.4M418.7 702.8H423.1M418.7 610.4H423.1M332.3 649.9V570.9M330.1 649.9H334.5M330.1 570.9H334.5M287.2 672.9V544.8M285 672.9H289.4M285 544.8H289.4M315.5 657.2V574.7M313.3 657.2H317.7M313.3 574.7H317.7M376.9 656.2V591.6M374.7 656.2H379.1M374.7 591.6H379.1M343.1 667.2V584.9M340.9 667.2H345.3M340.9 584.9H345.3M371.5 674.3V575.9M369.3 674.3H373.7M369.3 575.9H373.7M307.7 652.7V552.3M305.5 652.7H309.9M305.5 552.3H309.9M369.5 682.6V593.8M367.3 682.6H371.7M367.3 593.8H371.7M408.7 668.9V595.6M406.5 668.9H410.9M406.5 595.6H410.9M293.4 636.4V562.3M291.2 636.4H295.6M291.2 562.3H295.6M359.4 654.9V590.5M357.2 654.9H361.6M357.2 590.5H361.6M372.5 655.7V587.2M370.3 655.7H374.7M370.3 587.2H374.7M284.1 657.1V567.6M281.9 657.1H286.3M281.9 567.6H286.3M328.5 646.8V543.5M326.3 646.8H330.7M326.3 543.5H330.7M326.5 661V581.6M324.3 661H328.7M324.3 581.6H328.7M354.5 657.1V580.9M352.3 657.1H356.7M352.3 580.9H356.7M371.4 677.6V611.6M369.2 677.6H373.6M369.2 611.6H373.6M379 651.5V586.7M376.8 651.5H381.2M376.8 586.7H381.2M315.7 652.3V582.5M313.5 652.3H317.9M313.5 582.5H317.9M334.9 650.4V577.9M332.7 650.4H337.1M332.7 577.9H337.1M382 663V589.6M379.8 663H384.2M379.8 589.6H384.2M279.7 607.3V536.3M277.5 607.3H281.9M277.5 536.3H281.9M399.2 673.9V607.8M397 673.9H401.4M397 607.8H401.4M406.8 673.9V597.4M404.6 673.9H409M404.6 597.4H409M289.7 650.7V575.5M287.5 650.7H291.9M287.5 575.5H291.9M328.7 653.6V590.4M326.5 653.6H330.9M326.5 590.4H330.9M376.1 661.5V589.3M373.9 661.5H378.3M373.9 589.3H378.3M305.1 645V580.1M302.9 645H307.3M302.9 580.1H307.3M342.5 654.7V561.3M340.3 654.7H344.7M340.3 561.3H344.7M292.7 647V552.9M290.5 647H294.9M290.5 552.9H294.9M346 645V579.7M343.8 645H348.2M343.8 579.7H348.2M296.6 632.2V563.4M294.4 632.2H298.8M294.4 563.4H298.8M351.5 669.6V592.8M349.3 669.6H353.7M349.3 592.8H353.7M372.1 668.4V571.2M369.9 668.4H374.3M369.9 571.2H374.3M340.9 666V585.7M338.7 666H343.1M338.7 585.7H343.1M357.2 660.9V579.7M355 660.9H359.4M355 579.7H359.4M361 648.8V577.9M358.8 648.8H363.2M358.8 577.9H363.2M382.8 681.3V611.6M380.6 681.3H385M380.6 611.6H385M348.8 671.7V572.7M346.6 671.7H351M346.6 572.7H351M349.5 659.6V590.4M347.3 659.6H351.7M347.3 590.4H351.7M305 646.2V563.5M302.8 646.2H307.2M302.8 563.5H307.2M413.6 686.9V621.8M411.4 686.9H415.8M411.4 621.8H415.8M362.9 635.4V561.8M360.7 635.4H365.1M360.7 561.8H365.1M329.1 655.5V585.1M326.9 655.5H331.3M326.9 585.1H331.3M305.3 661.1V560.9M303.1 661.1H307.5M303.1 560.9H307.5M354.2 650.7V580M352 650.7H356.4M352 580H356.4M340.4 656.1V590.9M338.2 656.1H342.6M338.2 590.9H342.6M300.1 638.1V563.2M297.9 638.1H302.3M297.9 563.2H302.3M286.9 641.8V564.5M284.7 641.8H289.1M284.7 564.5H289.1M287.2 652.4V578.2M285 652.4H289.4M285 578.2H289.4M353.3 682.3V618.8M351.1 682.3H355.5M351.1 618.8H355.5M401.6 668.5V595.4M399.4 668.5H403.8M399.4 595.4H403.8M382 664.3V587.1M379.8 664.3H384.2M379.8 587.1H384.2M389 666.6V599.8M386.8 666.6H391.2M386.8 599.8H391.2M315.4 651.5V576.3M313.2 651.5H317.6M313.2 576.3H317.6M417 685.3V603.2M414.8 685.3H419.2M414.8 603.2H419.2M337.9 667.6V579M335.7 667.6H340.1M335.7 579H340.1M390 684.4V592.5M387.8 684.4H392.2M387.8 592.5H392.2M372.4 693.3V591.2M370.2 693.3H374.6M370.2 591.2H374.6M403.1 672.9V596.1M400.9 672.9H405.3M400.9 596.1H405.3M388.3 672.9V598.7M386.1 672.9H390.5M386.1 598.7H390.5M283.3 623.6V541.2M281.1 623.6H285.5M281.1 541.2H285.5M423.3 706.9V637M421.1 706.9H425.5M421.1 637H425.5M279.3 624.7V547.7M277.1 624.7H281.5M277.1 547.7H281.5M371.9 662.3V584M369.7 662.3H374.1M369.7 584H374.1M285.3 657.1V571.1M283.1 657.1H287.5M283.1 571.1H287.5M332.6 653.3V589.7M330.4 653.3H334.8M330.4 589.7H334.8M414.9 691.9V628.3M412.7 691.9H417.1M412.7 628.3H417.1M376.8 667.2V572.3M374.6 667.2H379M374.6 572.3H379M298.2 655.5V575.5M296 655.5H300.4M296 575.5H300.4M297.8 643.3V566.2M295.6 643.3H300M295.6 566.2H300M326.9 669V595.2M324.7 669H329.1M324.7 595.2H329.1M411.4 687V619.6M409.2 687H413.6M409.2 619.6H413.6M381.8 664.8V600.8M379.6 664.8H384M379.6 600.8H384M389.3 669.3V605.5M387.1 669.3H391.5M387.1 605.5H391.5M361.7 682.3V587.3M359.5 682.3H363.9M359.5 587.3H363.9M401.1 677.1V591.8M398.9 677.1H403.3M398.9 591.8H403.3M371.1 677.9V602.4M368.9 677.9H373.3M368.9 602.4H373.3M361 646.9V562.8M358.8 646.9H363.2M358.8 562.8H363.2M293 623.5V559.7M290.8 623.5H295.2M290.8 559.7H295.2M367.9 662.2V595.3M365.7 662.2H370.1M365.7 595.3H370.1M370.5 667.8V593.9M368.3 667.8H372.7M368.3 593.9H372.7M334.6 660.3V592.8M332.4 660.3H336.8M332.4 592.8H336.8M285.6 637.4V556.3M283.4 637.4H287.8M283.4 556.3H287.8M284.1 640.4V564.7M281.9 640.4H286.3M281.9 564.7H286.3M290.2 632.6V565.3M288 632.6H292.4M288 565.3H292.4M389.7 644.7V580.4M387.5 644.7H391.9M387.5 580.4H391.9M283.5 629.6V549.6M281.3 629.6H285.7M281.3 549.6H285.7M286.5 667.3V547.4M284.3 667.3H288.7M284.3 547.4H288.7M314.6 616.6V545.2M312.4 616.6H316.8M312.4 545.2H316.8M412.1 668.7V593.5M409.9 668.7H414.3M409.9 593.5H414.3M341 653.4V576.1M338.8 653.4H343.2M338.8 576.1H343.2M394.8 657.2V584.8M392.6 657.2H397M392.6 584.8H397M421.5 699.8V588M419.3 699.8H423.7M419.3 588H423.7M320.1 660.1V569.8M317.9 660.1H322.3M317.9 569.8H322.3M300.9 640V565.8M298.7 640H303.1M298.7 565.8H303.1M303.5 643.6V580.3M301.3 643.6H305.7M301.3 580.3H305.7M390.7 668.4V571M388.5 668.4H392.9M388.5 571H392.9M303.5 630.8V565.8M301.3 630.8H305.7M301.3 565.8H305.7M369.4 657.2V592.3M367.2 657.2H371.6M367.2 592.3H371.6M330.6 647.3V567.7M328.4 647.3H332.8M328.4 567.7H332.8M311 661.9V575.5M308.8 661.9H313.2M308.8 575.5H313.2M396.9 689.1V601.8M394.7 689.1H399.1M394.7 601.8H399.1M286.9 647.3V557.5M284.7 647.3H289.1M284.7 557.5H289.1M352.6 677V609.7M350.4 677H354.8M350.4 609.7H354.8M278.1 626.5V539.9M275.9 626.5H280.3M275.9 539.9H280.3M369.2 675V604M367 675H371.4M367 604H371.4M297.6 614V542.9M295.4 614H299.8M295.4 542.9H299.8M351.9 660.8V575.6M349.7 660.8H354.1M349.7 575.6H354.1M350.2 663.7V584.1M348 663.7H352.4M348 584.1H352.4M305.8 653.3V578M303.6 653.3H308M303.6 578H308M331.3 662.7V564.8M329.1 662.7H333.5M329.1 564.8H333.5M304.5 635.7V563.3M302.3 635.7H306.7M302.3 563.3H306.7M337.7 664.1V585.5M335.5 664.1H339.9M335.5 585.5H339.9M344.2 657.3V589.7M342 657.3H346.4M342 589.7H346.4M346.7 660.4V595.4M344.5 660.4H348.9M344.5 595.4H348.9M376 693.5V588.7M373.8 693.5H378.2M373.8 588.7H378.2M417.7 685.1V609.1M415.5 685.1H419.9M415.5 609.1H419.9M413.6 673V603.5M411.4 673H415.8M411.4 603.5H415.8M348.5 648.4V577.7M346.3 648.4H350.7M346.3 577.7H350.7M385.6 676V592.2M383.4 676H387.8M383.4 592.2H387.8M361.1 664.8V584.7M358.9 664.8H363.3M358.9 584.7H363.3M359 684.8V599M356.8 684.8H361.2M356.8 599H361.2M386.7 693.4V608.1M384.5 693.4H388.9M384.5 608.1H388.9M423 697.3V617.7M420.8 697.3H425.2M420.8 617.7H425.2M369.6 659.6V566.4M367.4 659.6H371.8M367.4 566.4H371.8M280.8 630.6V563.1M278.6 630.6H283M278.6 563.1H283M488.1 690.5V625.4M485.9 690.5H490.3M485.9 625.4H490.3M468 695.8V631M465.8 695.8H470.2M465.8 631H470.2M457.7 711.9V618.7M455.5 711.9H459.9M455.5 618.7H459.9M439.1 694.7V620M436.9 694.7H441.3M436.9 620H441.3M450.9 707.6V613.9M448.7 707.6H453.1M448.7 613.9H453.1M469.1 700.6V630.4M466.9 700.6H471.3M466.9 630.4H471.3M450.3 710.1V626.5M448.1 710.1H452.5M448.1 626.5H452.5M468.2 695.4V625.5M466 695.4H470.4M466 625.5H470.4M462 713.4V638.9M459.8 713.4H464.2M459.8 638.9H464.2M471.3 701.4V621.4M469.1 701.4H473.5M469.1 621.4H473.5M464 709V629M461.8 709H466.2M461.8 629H466.2M474.9 717V620.3M472.7 717H477.1M472.7 620.3H477.1M450.1 683.3V596.6M447.9 683.3H452.3M447.9 596.6H452.3M459.7 708.7V625.7M457.5 708.7H461.9M457.5 625.7H461.9M437 676.8V603.6M434.8 676.8H439.2M434.8 603.6H439.2M470.3 702.7V622.1M468.1 702.7H472.5M468.1 622.1H472.5M455.2 691.8V615.9M453 691.8H457.4M453 615.9H457.4M480.3 705.2V614.8M478.1 705.2H482.5M478.1 614.8H482.5" stroke="#bdbdbd" stroke-width="0.9" fill="none" />
<path d="M365.9 679.8V613.7M363.7 679.8H368.1M363.7 613.7H368.1M412.8 714.2V600.8M410.6 714.2H415M410.6 600.8H415M338.3 656.5V590.1M336.1 656.5H340.5M336.1 590.1H340.5M323.1 646.2V563.7M320.9 646.2H325.3M320.9 563.7H325.3M347.6 667.3V565.2M345.4 667.3H349.8M345.4 565.2H349.8M387 668.4V600.1M384.8 668.4H389.2M384.8 600.1H389.2M338.7 644.6V577.7M336.5 644.6H340.9M336.5 577.7H340.9M331.4 659.7V578.9M329.2 659.7H333.6M329.2 578.9H333.6M386.5 674.9V605.9M384.3 674.9H388.7M384.3 605.9H388.7M362.7 666.1V573.9M360.5 666.1H364.9M360.5 573.9H364.9M393.6 709.5V611.2M391.4 709.5H395.8M391.4 611.2H395.8M308.3 639.5V575.8M306.1 639.5H310.5M306.1 575.8H310.5M327.5 676.2V588.3M325.3 676.2H329.7M325.3 588.3H329.7M344.5 643.2V572M342.3 643.2H346.7M342.3 572H346.7M317.9 649V571.7M315.7 649H320.1M315.7 571.7H320.1M406.3 691.1V618.3M404.1 691.1H408.5M404.1 618.3H408.5M365.7 663.1V589M363.5 663.1H367.9M363.5 589H367.9M317.9 645.8V554.7M315.7 645.8H320.1M315.7 554.7H320.1M317 656.4V580.2M314.8 656.4H319.2M314.8 580.2H319.2M299 632.5V547.5M296.8 632.5H301.2M296.8 547.5H301.2M404.6 672.9V604M402.4 672.9H406.8M402.4 604H406.8M411.9 669V591.5M409.7 669H414.1M409.7 591.5H414.1M347.3 648.9V568.7M345.1 648.9H349.5M345.1 568.7H349.5M323.7 647.9V581.8M321.5 647.9H325.9M321.5 581.8H325.9M332.2 661.1V596.4M330 661.1H334.4M330 596.4H334.4M306.1 660V592.3M303.9 660H308.3M303.9 592.3H308.3M330.1 650.7V580.1M327.9 650.7H332.3M327.9 580.1H332.3M377.7 653.2V587.1M375.5 653.2H379.9M375.5 587.1H379.9M290.6 632.4V561M288.4 632.4H292.8M288.4 561H292.8M352.6 657.4V587.9M350.4 657.4H354.8M350.4 587.9H354.8M399.6 662.9V598.4M397.4 662.9H401.8M397.4 598.4H401.8M354.4 682V587M352.2 682H356.6M352.2 587H356.6M372.1 655.2V590.8M369.9 655.2H374.3M369.9 590.8H374.3M329.7 654.3V588.5M327.5 654.3H331.9M327.5 588.5H331.9M301.1 645.5V577.2M298.9 645.5H303.3M298.9 577.2H303.3M326.9 674.1V588.8M324.7 674.1H329.1M324.7 588.8H329.1M309 662.4V571.9M306.8 662.4H311.2M306.8 571.9H311.2M282.3 650.4V585.9M280.1 650.4H284.5M280.1 585.9H284.5M289.4 653.4V557.6M287.2 653.4H291.6M287.2 557.6H291.6M298.1 640.5V576M295.9 640.5H300.3M295.9 576H300.3M365.4 665.4V590.8M363.2 665.4H367.6M363.2 590.8H367.6M280.5 633.6V564.1M278.3 633.6H282.7M278.3 564.1H282.7M319 617.1V548.8M316.8 617.1H321.2M316.8 548.8H321.2M284.4 647.5V562.1M282.2 647.5H286.6M282.2 562.1H286.6M420.3 667.7V600.8M418.1 667.7H422.5M418.1 600.8H422.5M280.3 636.7V571.3M278.1 636.7H282.5M278.1 571.3H282.5M303.2 656V587.4M301 656H305.4M301 587.4H305.4M286.5 640.1V551.8M284.3 640.1H288.7M284.3 551.8H288.7M408.7 672V591.3M406.5 672H410.9M406.5 591.3H410.9M366.8 675.5V589M364.6 675.5H369M364.6 589H369M384.3 663V591.5M382.1 663H386.5M382.1 591.5H386.5M369.1 668.8V598.9M366.9 668.8H371.3M366.9 598.9H371.3M293.7 653V581.2M291.5 653H295.9M291.5 581.2H295.9M385.9 662.4V594.7M383.7 662.4H388.1M383.7 594.7H388.1M421 701V616.1M418.8 701H423.2M418.8 616.1H423.2M386.4 686.7V603.3M384.2 686.7H388.6M384.2 603.3H388.6M380.5 661.9V572.7M378.3 661.9H382.7M378.3 572.7H382.7M349.3 667.8V599.4M347.1 667.8H351.5M347.1 599.4H351.5M417.6 674.1V608.3M415.4 674.1H419.8M415.4 608.3H419.8M305.9 649.7V577.9M303.7 649.7H308.1M303.7 577.9H308.1M391.5 684.5V620.1M389.3 684.5H393.7M389.3 620.1H393.7M416.4 698V625.5M414.2 698H418.6M414.2 625.5H418.6M357.7 643.8V578.8M355.5 643.8H359.9M355.5 578.8H359.9M412.8 676.1V579.9M410.6 676.1H415M410.6 579.9H415M401.8 688.2V620.5M399.6 688.2H404M399.6 620.5H404M389.3 666.5V600.3M387.1 666.5H391.5M387.1 600.3H391.5M331.3 662V582.3M329.1 662H333.5M329.1 582.3H333.5M381.6 655.8V580.3M379.4 655.8H383.8M379.4 580.3H383.8M296.2 658.1V583.1M294 658.1H298.4M294 583.1H298.4M377 679.3V594.5M374.8 679.3H379.2M374.8 594.5H379.2M293.4 631.3V550.1M291.2 631.3H295.6M291.2 550.1H295.6M324.5 640.7V575.9M322.3 640.7H326.7M322.3 575.9H326.7M391.7 689.3V610.5M389.5 689.3H393.9M389.5 610.5H393.9M410 680.9V615.7M407.8 680.9H412.2M407.8 615.7H412.2M382.5 660.7V592.2M380.3 660.7H384.7M380.3 592.2H384.7M366.7 653.3V586.2M364.5 653.3H368.9M364.5 586.2H368.9M278.3 653.6V574.8M276.1 653.6H280.5M276.1 574.8H280.5M376.5 670.2V577.5M374.3 670.2H378.7M374.3 577.5H378.7M385.4 690V621.9M383.2 690H387.6M383.2 621.9H387.6M312.2 635.2V568.1M310 635.2H314.4M310 568.1H314.4M394.5 682.1V592M392.3 682.1H396.7M392.3 592H396.7M340.9 652.6V578.6M338.7 652.6H343.1M338.7 578.6H343.1M333.3 659.4V581.8M331.1 659.4H335.5M331.1 581.8H335.5M288.3 656.9V559.1M286.1 656.9H290.5M286.1 559.1H290.5M415.5 677.3V612M413.3 677.3H417.7M413.3 612H417.7M307.7 655.8V589.5M305.5 655.8H309.9M305.5 589.5H309.9M385.5 650.9V584.5M383.3 650.9H387.7M383.3 584.5H387.7M379.5 644.9V575.3M377.3 644.9H381.7M377.3 575.3H381.7M312.9 660.8V585.9M310.7 660.8H315.1M310.7 585.9H315.1M345.9 648V583.7M343.7 648H348.1M343.7 583.7H348.1M338.1 660.8V586.9M335.9 660.8H340.3M335.9 586.9H340.3M328.2 678.4V598.8M326 678.4H330.4M326 598.8H330.4M401.7 693.1V622.2M399.5 693.1H403.9M399.5 622.2H403.9M399.9 695.3V620.8M397.7 695.3H402.1M397.7 620.8H402.1M393.4 681.6V604.6M391.2 681.6H395.6M391.2 604.6H395.6M321 633.6V539M318.8 633.6H323.2M318.8 539H323.2M414.8 681.8V612M412.6 681.8H417M412.6 612H417M288.3 630.4V563.7M286.1 630.4H290.5M286.1 563.7H290.5M277.4 626.5V557.7M275.2 626.5H279.6M275.2 557.7H279.6M369.3 679.1V612.7M367.1 679.1H371.5M367.1 612.7H371.5M321.1 662.9V589.1M318.9 662.9H323.3M318.9 589.1H323.3M377.6 680V590.1M375.4 680H379.8M375.4 590.1H379.8M339.5 651.3V583.4M337.3 651.3H341.7M337.3 583.4H341.7M325.4 656.9V575.2M323.2 656.9H327.6M323.2 575.2H327.6M297.5 638.4V551.2M295.3 638.4H299.7M295.3 551.2H299.7M383.2 667.3V591.9M381 667.3H385.4M381 591.9H385.4M365.7 651.9V582.1M363.5 651.9H367.9M363.5 582.1H367.9M390.8 683.7V592.3M388.6 683.7H393M388.6 592.3H393M407.3 670.5V591.4M405.1 670.5H409.5M405.1 591.4H409.5M302.9 648.2V575.3M300.7 648.2H305.1M300.7 575.3H305.1M284.4 616.1V550.9M282.2 616.1H286.6M282.2 550.9H286.6M314.7 642.9V569.9M312.5 642.9H316.9M312.5 569.9H316.9M302.2 660.8V550.5M300 660.8H304.4M300 550.5H304.4M353.7 657.8V594.6M351.5 657.8H355.9M351.5 594.6H355.9M344.4 647.2V584M342.2 647.2H346.6M342.2 584H346.6M394.4 689.7V618.8M392.2 689.7H396.6M392.2 618.8H396.6M401.7 682.8V587.5M399.5 682.8H403.9M399.5 587.5H403.9M354.5 646.7V573.4M352.3 646.7H356.7M352.3 573.4H356.7M383.9 684.9V600.3M381.7 684.9H386.1M381.7 600.3H386.1M318.3 649.2V574.2M316.1 649.2H320.5M316.1 574.2H320.5M420.9 696V630.6M418.7 696H423.1M418.7 630.6H423.1M332.9 636.2V571M330.7 636.2H335.1M330.7 571H335.1M417.2 700.2V622M415 700.2H419.4M415 622H419.4M369.1 667.8V594.1M366.9 667.8H371.3M366.9 594.1H371.3M390.7 665.4V589.4M388.5 665.4H392.9M388.5 589.4H392.9M329.1 672.3V583.5M326.9 672.3H331.3M326.9 583.5H331.3M341.1 671.6V584.5M338.9 671.6H343.3M338.9 584.5H343.3M388.3 680.6V596.2M386.1 680.6H390.5M386.1 596.2H390.5M283.5 636.4V536.2M281.3 636.4H285.7M281.3 536.2H285.7M322.5 628.5V564.3M320.3 628.5H324.7M320.3 564.3H324.7M300.6 654.6V585.9M298.4 654.6H302.8M298.4 585.9H302.8M370.3 682.4V605.1M368.1 682.4H372.5M368.1 605.1H372.5M370.7 655.4V583.5M368.5 655.4H372.9M368.5 583.5H372.9M311.5 660.9V585.4M309.3 660.9H313.7M309.3 585.4H313.7M413.8 686.9V613.8M411.6 686.9H416M411.6 613.8H416M284.2 645.7V555.8M282 645.7H286.4M282 555.8H286.4M377.2 686.6V599.2M375 686.6H379.4M375 599.2H379.4M286.5 620.3V556.5M284.3 620.3H288.7M284.3 556.5H288.7M364.8 666.2V601.9M362.6 666.2H367M362.6 601.9H367M415.2 666.4V597.1M413 666.4H417.4M413 597.1H417.4M403.3 686V614.4M401.1 686H405.5M401.1 614.4H405.5M417.2 687.3V604.9M415 687.3H419.4M415 604.9H419.4M359.7 671.8V565.6M357.5 671.8H361.9M357.5 565.6H361.9M358.2 669.2V591.9M356 669.2H360.4M356 591.9H360.4M410.3 694.7V612.6M408.1 694.7H412.5M408.1 612.6H412.5M362.2 661.8V590.9M360 661.8H364.4M360 590.9H364.4M389.4 681.3V613.2M387.2 681.3H391.6M387.2 613.2H391.6M291.3 626.3V538.8M289.1 626.3H293.5M289.1 538.8H293.5M372.8 674.3V582.5M370.6 674.3H375M370.6 582.5H375M329 660.7V579.1M326.8 660.7H331.2M326.8 579.1H331.2M319.4 650.3V563.2M317.2 650.3H321.6M317.2 563.2H321.6M371.3 668.9V597.9M369.1 668.9H373.5M369.1 597.9H373.5M369.3 671.8V606.6M367.1 671.8H371.5M367.1 606.6H371.5M343.6 669.2V602M341.4 669.2H345.8M341.4 602H345.8M393 702.9V611.8M390.8 702.9H395.2M390.8 611.8H395.2M332.1 646.7V568.1M329.9 646.7H334.3M329.9 568.1H334.3M424.8 686.5V612.4M422.6 686.5H427M422.6 612.4H427M351.5 640.6V575.1M349.3 640.6H353.7M349.3 575.1H353.7M377.8 676.3V612.5M375.6 676.3H380M375.6 612.5H380M341 669.9V579.7M338.8 669.9H343.2M338.8 579.7H343.2M381.3 670.7V600.3M379.1 670.7H383.5M379.1 600.3H383.5M401.1 667.8V583.2M398.9 667.8H403.3M398.9 583.2H403.3M306.5 652.5V586.4M304.3 652.5H308.7M304.3 586.4H308.7M302.8 626.5V535.8M300.6 626.5H305M300.6 535.8H305M278.1 643.4V559.8M275.9 643.4H280.3M275.9 559.8H280.3M297.8 641.1V572.9M295.6 641.1H300M295.6 572.9H300M390.1 647.8V574.5M387.9 647.8H392.3M387.9 574.5H392.3M296 670.1V587.5M293.8 670.1H298.2M293.8 587.5H298.2M359.5 682.2V580.7M357.3 682.2H361.7M357.3 580.7H361.7M286 652.5V571.3M283.8 652.5H288.2M283.8 571.3H288.2M401 657.3V586M398.8 657.3H403.2M398.8 586H403.2M295.5 639.1V555.6M293.3 639.1H297.7M293.3 555.6H297.7M277.5 619V544.1M275.3 619H279.7M275.3 544.1H279.7M408.2 661V582.7M406 661H410.4M406 582.7H410.4M342.5 673.7V568.6M340.3 673.7H344.7M340.3 568.6H344.7M280.2 598.7V529.6M278 598.7H282.4M278 529.6H282.4M385.8 680.7V607.5M383.6 680.7H388M383.6 607.5H388M319.2 638.2V560.7M317 638.2H321.4M317 560.7H321.4M351.9 643.6V564M349.7 643.6H354.1M349.7 564H354.1M381.2 643.7V577M379 643.7H383.4M379 577H383.4M306.4 636.9V572.3M304.2 636.9H308.6M304.2 572.3H308.6M327.5 628.3V559.5M325.3 628.3H329.7M325.3 559.5H329.7M399 672.4V604.5M396.8 672.4H401.2M396.8 604.5H401.2M320.4 653.9V576.1M318.2 653.9H322.6M318.2 576.1H322.6M329.6 654.2V586.2M327.4 654.2H331.8M327.4 586.2H331.8M320.8 656.2V586.7M318.6 656.2H323M318.6 586.7H323M392.7 683.6V612.9M390.5 683.6H394.9M390.5 612.9H394.9M332.8 653.9V579.8M330.6 653.9H335M330.6 579.8H335M323.3 648.2V579.7M321.1 648.2H325.5M321.1 579.7H325.5M418.1 688.3V621.3M415.9 688.3H420.3M415.9 621.3H420.3M384.9 681.2V610.9M382.7 681.2H387.1M382.7 610.9H387.1M289.3 637V555.5M287.1 637H291.5M287.1 555.5H291.5M345.6 688.7V611M343.4 688.7H347.8M343.4 611H347.8M410.3 699.9V613.3M408.1 699.9H412.5M408.1 613.3H412.5M292.5 636.5V558.7M290.3 636.5H294.7M290.3 558.7H294.7M322.7 664.7V586.6M320.5 664.7H324.9M320.5 586.6H324.9M283.6 623.8V559.1M281.4 623.8H285.8M281.4 559.1H285.8M374 661.5V570.9M371.8 661.5H376.2M371.8 570.9H376.2M318 642.8V577.8M315.8 642.8H320.2M315.8 577.8H320.2M289.5 640.7V565.8M287.3 640.7H291.7M287.3 565.8H291.7M339.6 650.2V586.2M337.4 650.2H341.8M337.4 586.2H341.8M420.3 693.8V610.3M418.1 693.8H422.5M418.1 610.3H422.5M282.8 630.6V563.3M280.6 630.6H285M280.6 563.3H285M308.5 634.1V570.5M306.3 634.1H310.7M306.3 570.5H310.7M388.6 683.9V614.8M386.4 683.9H390.8M386.4 614.8H390.8M282.8 615.9V544.8M280.6 615.9H285M280.6 544.8H285M382.5 684.8V614.3M380.3 684.8H384.7M380.3 614.3H384.7M309.4 647.6V574.5M307.2 647.6H311.6M307.2 574.5H311.6M382.3 657.1V579.5M380.1 657.1H384.5M380.1 579.5H384.5M389 666.1V580.5M386.8 666.1H391.2M386.8 580.5H391.2M424.4 719.1V628.8M422.2 719.1H426.6M422.2 628.8H426.6M395 674.6V607.5M392.8 674.6H397.2M392.8 607.5H397.2M331.7 666.4V597.2M329.5 666.4H333.9M329.5 597.2H333.9M289.9 622.5V534.3M287.7 622.5H292.1M287.7 534.3H292.1M366.9 677.6V599.6M364.7 677.6H369.1M364.7 599.6H369.1M331.7 654.7V589M329.5 654.7H333.9M329.5 589H333.9M395.4 673.8V590.9M393.2 673.8H397.6M393.2 590.9H397.6M314.3 635.8V555.1M312.1 635.8H316.5M312.1 555.1H316.5M335.3 630.5V561M333.1 630.5H337.5M333.1 561H337.5M368.5 667.5V600.2M366.3 667.5H370.7M366.3 600.2H370.7M343.8 645.4V578.1M341.6 645.4H346M341.6 578.1H346M298.5 667.4V598.1M296.3 667.4H300.7M296.3 598.1H300.7M360.1 692.6V580.1M357.9 692.6H362.3M357.9 580.1H362.3M408.3 675.2V604.7M406.1 675.2H410.5M406.1 604.7H410.5M304.6 657.7V581.2M302.4 657.7H306.8M302.4 581.2H306.8M362.6 673.3V606.5M360.4 673.3H364.8M360.4 606.5H364.8M294 637.8V566.9M291.8 637.8H296.2M291.8 566.9H296.2M347.2 651V562.8M345 651H349.4M345 562.8H349.4M414.6 680.7V579.1M412.4 680.7H416.8M412.4 579.1H416.8M419.6 685.5V615.8M417.4 685.5H421.8M417.4 615.8H421.8M382.4 682.1V585.4M380.2 682.1H384.6M380.2 585.4H384.6M290.7 617.9V546.3M288.5 617.9H292.9M288.5 546.3H292.9M307.6 649.1V572.6M305.4 649.1H309.8M305.4 572.6H309.8M374.6 666.6V575.8M372.4 666.6H376.8M372.4 575.8H376.8M385.8 679.7V605.9M383.6 679.7H388M383.6 605.9H388M421.8 692.7V620.3M419.6 692.7H424M419.6 620.3H424M297.5 653.2V580.7M295.3 653.2H299.7M295.3 580.7H299.7M442 695.3V623M439.8 695.3H444.2M439.8 623H444.2M458.1 692.5V620.1M455.9 692.5H460.3M455.9 620.1H460.3M450.9 701.3V625.5M448.7 701.3H453.1M448.7 625.5H453.1M481.5 719.8V629.6M479.3 719.8H483.7M479.3 629.6H483.7M471.3 701.5V589.8M469.1 701.5H473.5M469.1 589.8H473.5M434.9 694.1V614.7M432.7 694.1H437.1M432.7 614.7H437.1M472.2 717.6V631M470 717.6H474.4M470 631H474.4M433.8 707.3V633.4M431.6 707.3H436M431.6 633.4H436M479 723.9V630M476.8 723.9H481.2M476.8 630H481.2M436.4 704.4V622.4M434.2 704.4H438.6M434.2 622.4H438.6M466.4 723.8V649.6M464.2 723.8H468.6M464.2 649.6H468.6M471.7 717.7V648.3M469.5 717.7H473.9M469.5 648.3H473.9M464.4 700.3V630M462.2 700.3H466.6M462.2 630H466.6M469.3 718.7V622M467.1 718.7H471.5M467.1 622H471.5M426 675.6V585.3M423.8 675.6H428.2M423.8 585.3H428.2M486.4 716.9V647.2M484.2 716.9H488.6M484.2 647.2H488.6M433.6 692.6V626.1M431.4 692.6H435.8M431.4 626.1H435.8" stroke="#a0a0a0" stroke-width="0.9" fill="none" />
<path d="M282.6 638.3V542.7M280.4 638.3H284.8M280.4 542.7H284.8M293.1 631.1V567M290.9 631.1H295.3M290.9 567H295.3M375.6 655V590.8M373.4 655H377.8M373.4 590.8H377.8M303.5 667.5V577.4M301.3 667.5H305.7M301.3 577.4H305.7M322.7 661.2V597.5M320.5 661.2H324.9M320.5 597.5H324.9M335.2 656.5V589.5M333 656.5H337.4M333 589.5H337.4M366.6 682.2V611.3M364.4 682.2H368.8M364.4 611.3H368.8M334.5 654.9V582.2M332.3 654.9H336.7M332.3 582.2H336.7M310.4 658.9V586.7M308.2 658.9H312.6M308.2 586.7H312.6M341.7 692.4V586.7M339.5 692.4H343.9M339.5 586.7H343.9M362.9 647.4V572.3M360.7 647.4H365.1M360.7 572.3H365.1M290.6 643.2V573.3M288.4 643.2H292.8M288.4 573.3H292.8M288.1 637.2V551.8M285.9 637.2H290.3M285.9 551.8H290.3M294.5 652.9V568M292.3 652.9H296.7M292.3 568H296.7M425 697.3V615.7M422.8 697.3H427.2M422.8 615.7H427.2M406.1 671.9V601.4M403.9 671.9H408.3M403.9 601.4H408.3M383.5 687.9V610.5M381.3 687.9H385.7M381.3 610.5H385.7M328.6 656.8V569.1M326.4 656.8H330.8M326.4 569.1H330.8M312.2 673.6V566.7M310 673.6H314.4M310 566.7H314.4M399.1 685.4V585.6M396.9 685.4H401.3M396.9 585.6H401.3M297 638.6V540M294.8 638.6H299.2M294.8 540H299.2M317.5 634.5V570.7M315.3 634.5H319.7M315.3 570.7H319.7M354.1 667.3V581.5M351.9 667.3H356.3M351.9 581.5H356.3M379 651.8V578.7M376.8 651.8H381.2M376.8 578.7H381.2M374.9 660.2V596.4M372.7 660.2H377.1M372.7 596.4H377.1M416.6 698.6V624.2M414.4 698.6H418.8M414.4 624.2H418.8M377.5 684.5V608M375.3 684.5H379.7M375.3 608H379.7M399.7 683.9V608.5M397.5 683.9H401.9M397.5 608.5H401.9M279.7 623.7V548.1M277.5 623.7H281.9M277.5 548.1H281.9M332.5 652.3V580.1M330.3 652.3H334.7M330.3 580.1H334.7M359.1 644.4V579.6M356.9 644.4H361.3M356.9 579.6H361.3M334.5 664.7V584.5M332.3 664.7H336.7M332.3 584.5H336.7M362.1 685.1V606.1M359.9 685.1H364.3M359.9 606.1H364.3M385.8 679.3V589.5M383.6 679.3H388M383.6 589.5H388M280.5 637.5V562.3M278.3 637.5H282.7M278.3 562.3H282.7M390.2 680V597M388 680H392.4M388 597H392.4M359.8 655.7V578M357.6 655.7H362M357.6 578H362M355 661V595M352.8 661H357.2M352.8 595H357.2M284.5 643V549.4M282.3 643H286.7M282.3 549.4H286.7M328.4 623.3V554.6M326.2 623.3H330.6M326.2 554.6H330.6M323.9 647V566.8M321.7 647H326.1M321.7 566.8H326.1M326.4 633.5V563.3M324.2 633.5H328.6M324.2 563.3H328.6M359.8 683.1V600.8M357.6 683.1H362M357.6 600.8H362M380.4 650.3V583.3M378.2 650.3H382.6M378.2 583.3H382.6M337 669.6V586.3M334.8 669.6H339.2M334.8 586.3H339.2M303.6 648.6V579.8M301.4 648.6H305.8M301.4 579.8H305.8M289.8 632.6V557.9M287.6 632.6H292M287.6 557.9H292M336.8 651.1V586M334.6 651.1H339M334.6 586H339M403.7 680.6V606.9M401.5 680.6H405.9M401.5 606.9H405.9M391.3 671.4V599.5M389.1 671.4H393.5M389.1 599.5H393.5M375.9 675.4V596.1M373.7 675.4H378.1M373.7 596.1H378.1M359.4 655V585.2M357.2 655H361.6M357.2 585.2H361.6M330.1 653.5V576M327.9 653.5H332.3M327.9 576H332.3M342 651.6V573.4M339.8 651.6H344.2M339.8 573.4H344.2M401.4 679V602M399.2 679H403.6M399.2 602H403.6M369.1 664.7V579.9M366.9 664.7H371.3M366.9 579.9H371.3M354.6 658.3V570.8M352.4 658.3H356.8M352.4 570.8H356.8M276.2 626.4V558.7M274 626.4H278.4M274 558.7H278.4M416.5 683.6V607.9M414.3 683.6H418.7M414.3 607.9H418.7M360.6 666V595M358.4 666H362.8M358.4 595H362.8M288.8 632.9V556.9M286.6 632.9H291M286.6 556.9H291M335.4 647.6V570.2M333.2 647.6H337.6M333.2 570.2H337.6M360 674.8V582.5M357.8 674.8H362.2M357.8 582.5H362.2M366.7 683.9V556.5M364.5 683.9H368.9M364.5 556.5H368.9M297.4 644.4V566.3M295.2 644.4H299.6M295.2 566.3H299.6M400.9 662.9V598.7M398.7 662.9H403.1M398.7 598.7H403.1M341.1 654.9V577M338.9 654.9H343.3M338.9 577H343.3M279.7 654.3V584.3M277.5 654.3H281.9M277.5 584.3H281.9M296 630.9V554.6M293.8 630.9H298.2M293.8 554.6H298.2M409.8 688.5V610.3M407.6 688.5H412M407.6 610.3H412M318.7 637.4V557.5M316.5 637.4H320.9M316.5 557.5H320.9M385.4 687V612.5M383.2 687H387.6M383.2 612.5H387.6M408.2 674.8V590.4M406 674.8H410.4M406 590.4H410.4M291 624.8V559.6M288.8 624.8H293.2M288.8 559.6H293.2M311.4 625.1V544.7M309.2 625.1H313.6M309.2 544.7H313.6M379.2 668.7V584.1M377 668.7H381.4M377 584.1H381.4M355.2 671.2V579M353 671.2H357.4M353 579H357.4M365.7 675.1V592.5M363.5 675.1H367.9M363.5 592.5H367.9M399.4 681V615.9M397.2 681H401.6M397.2 615.9H401.6M346.7 655.7V591.1M344.5 655.7H348.9M344.5 591.1H348.9M292.7 637.2V559.4M290.5 637.2H294.9M290.5 559.4H294.9M354.1 669.3V604.4M351.9 669.3H356.3M351.9 604.4H356.3M373.1 665.9V585.9M370.9 665.9H375.3M370.9 585.9H375.3M402.8 670.2V600.4M400.6 670.2H405M400.6 600.4H405M280.3 643.4V578.5M278.1 643.4H282.5M278.1 578.5H282.5M324.8 642.2V577.9M322.6 642.2H327M322.6 577.9H327M356.8 659.4V586.3M354.6 659.4H359M354.6 586.3H359M314.2 647V570.5M312 647H316.4M312 570.5H316.4M302.7 647.7V563.2M300.5 647.7H304.9M300.5 563.2H304.9M422.2 693.4V604.6M420 693.4H424.4M420 604.6H424.4M283.7 642.2V540.3M281.5 642.2H285.9M281.5 540.3H285.9M333.1 666.5V576.7M330.9 666.5H335.3M330.9 576.7H335.3M424.3 685.3V605.7M422.1 685.3H426.5M422.1 605.7H426.5M350.5 649.9V569.7M348.3 649.9H352.7M348.3 569.7H352.7M323.8 639.3V558.8M321.6 639.3H326M321.6 558.8H326M338.5 652.1V588.1M336.3 652.1H340.7M336.3 588.1H340.7M288.9 635.7V569M286.7 635.7H291.1M286.7 569H291.1M371.2 648.7V585.3M369 648.7H373.4M369 585.3H373.4M294.4 650.3V580.8M292.2 650.3H296.6M292.2 580.8H296.6M378.6 685.9V590.2M376.4 685.9H380.8M376.4 590.2H380.8M324.7 650.5V579.8M322.5 650.5H326.9M322.5 579.8H326.9M350.2 657.4V594.2M348 657.4H352.4M348 594.2H352.4M300.9 656V574.8M298.7 656H303.1M298.7 574.8H303.1M349.5 660.2V579.3M347.3 660.2H351.7M347.3 579.3H351.7M299.2 641.5V571.4M297 641.5H301.4M297 571.4H301.4M295.7 635.6V561.3M293.5 635.6H297.9M293.5 561.3H297.9M337.2 671.5V592.8M335 671.5H339.4M335 592.8H339.4M320.3 665.5V587.7M318.1 665.5H322.5M318.1 587.7H322.5M305.5 626.1V551.5M303.3 626.1H307.7M303.3 551.5H307.7M330.1 648.3V584.1M327.9 648.3H332.3M327.9 584.1H332.3M327.3 644.7V574.6M325.1 644.7H329.5M325.1 574.6H329.5M299.1 631.6V565.9M296.9 631.6H301.3M296.9 565.9H301.3M340.8 669.4V568.7M338.6 669.4H343M338.6 568.7H343M405.9 672.7V582.5M403.7 672.7H408.1M403.7 582.5H408.1M289.3 646.2V571.8M287.1 646.2H291.5M287.1 571.8H291.5M295.4 639.9V555.8M293.2 639.9H297.6M293.2 555.8H297.6M277.2 641.6V574.9M275 641.6H279.4M275 574.9H279.4M405.8 678.2V602M403.6 678.2H408M403.6 602H408M298.3 644.2V573M296.1 644.2H300.5M296.1 573H300.5M397 669.9V598M394.8 669.9H399.2M394.8 598H399.2M392.9 673.8V603.6M390.7 673.8H395.1M390.7 603.6H395.1M362.4 631.7V567.7M360.2 631.7H364.6M360.2 567.7H364.6M290.3 640.5V550.9M288.1 640.5H292.5M288.1 550.9H292.5M405.8 698V599.5M403.6 698H408M403.6 599.5H408M322.8 642.5V567.4M320.6 642.5H325M320.6 567.4H325M353.6 672.7V595.1M351.4 672.7H355.8M351.4 595.1H355.8M292.7 633.5V536.6M290.5 633.5H294.9M290.5 536.6H294.9M303.2 659V584.3M301 659H305.4M301 584.3H305.4M406.7 682.8V574.8M404.5 682.8H408.9M404.5 574.8H408.9M307.3 629.1V546.2M305.1 629.1H309.5M305.1 546.2H309.5M421.2 699.8V601.4M419 699.8H423.4M419 601.4H423.4M316.3 673V600.3M314.1 673H318.5M314.1 600.3H318.5M354.7 648.2V579.4M352.5 648.2H356.9M352.5 579.4H356.9M333.1 679.1V580.9M330.9 679.1H335.3M330.9 580.9H335.3M375.6 667.4V586.2M373.4 667.4H377.8M373.4 586.2H377.8M404.7 674.9V609.8M402.5 674.9H406.9M402.5 609.8H406.9M396.5 664.5V586.5M394.3 664.5H398.7M394.3 586.5H398.7M302.8 646.8V575.5M300.6 646.8H305M300.6 575.5H305M369.7 667.5V585.3M367.5 667.5H371.9M367.5 585.3H371.9M361.4 647.4V562.9M359.2 647.4H363.6M359.2 562.9H363.6M401.2 695.2V625.2M399 695.2H403.4M399 625.2H403.4M310.7 643.5V572.5M308.5 643.5H312.9M308.5 572.5H312.9M389.5 671.1V596.3M387.3 671.1H391.7M387.3 596.3H391.7M279.4 631.2V558.6M277.2 631.2H281.6M277.2 558.6H281.6M321.3 646.7V568.4M319.1 646.7H323.5M319.1 568.4H323.5M324.2 648.6V573.7M322 648.6H326.4M322 573.7H326.4M367.8 649.3V584.1M365.6 649.3H370M365.6 584.1H370M405.6 683.3V608.9M403.4 683.3H407.8M403.4 608.9H407.8M410.6 677.2V607.2M408.4 677.2H412.8M408.4 607.2H412.8M324.6 653.8V577.2M322.4 653.8H326.8M322.4 577.2H326.8M413.8 676.5V606.2M411.6 676.5H416M411.6 606.2H416M286.2 645.1V554.7M284 645.1H288.4M284 554.7H288.4M330.3 666.9V601.6M328.1 666.9H332.5M328.1 601.6H332.5M388.8 683.2V600.4M386.6 683.2H391M386.6 600.4H391M368.9 651.7V566.6M366.7 651.7H371.1M366.7 566.6H371.1M411.7 662.2V597.5M409.5 662.2H413.9M409.5 597.5H413.9M279.9 648.2V572.3M277.7 648.2H282.1M277.7 572.3H282.1M343.2 667.1V600.4M341 667.1H345.4M341 600.4H345.4M325.1 683.2V593.6M322.9 683.2H327.3M322.9 593.6H327.3M376.8 661.8V578.7M374.6 661.8H379M374.6 578.7H379M307.7 659V575.5M305.5 659H309.9M305.5 575.5H309.9M281.5 660.8V545.8M279.3 660.8H283.7M279.3 545.8H283.7M290.1 642.9V555.9M287.9 642.9H292.3M287.9 555.9H292.3M295.1 643.9V562.7M292.9 643.9H297.3M292.9 562.7H297.3M307 639.9V565.6M304.8 639.9H309.2M304.8 565.6H309.2M355.7 663.7V587.2M353.5 663.7H357.9M353.5 587.2H357.9M389.5 684.2V610.9M387.3 684.2H391.7M387.3 610.9H391.7M344.5 659.1V592.7M342.3 659.1H346.7M342.3 592.7H346.7M334.8 663.2V571.7M332.6 663.2H337M332.6 571.7H337M422.3 705.2V610.8M420.1 705.2H424.5M420.1 610.8H424.5M416.7 685.7V592.2M414.5 685.7H418.9M414.5 592.2H418.9M407.9 701V612.6M405.7 701H410.1M405.7 612.6H410.1M305.5 640.8V566.1M303.3 640.8H307.7M303.3 566.1H307.7M409.6 671V601.2M407.4 671H411.8M407.4 601.2H411.8M420.5 676.3V607.5M418.3 676.3H422.7M418.3 607.5H422.7M331.2 674V578.8M329 674H333.4M329 578.8H333.4M338.4 635.6V572.4M336.2 635.6H340.6M336.2 572.4H340.6M306.9 654.4V561.2M304.7 654.4H309.1M304.7 561.2H309.1M402.9 682.1V618.4M400.7 682.1H405.1M400.7 618.4H405.1M403.8 680.4V595.9M401.6 680.4H406M401.6 595.9H406M299.4 641.2V577.2M297.2 641.2H301.6M297.2 577.2H301.6M278.3 610.9V538.5M276.1 610.9H280.5M276.1 538.5H280.5M385.7 675.6V605.5M383.5 675.6H387.9M383.5 605.5H387.9M424.3 686.4V620M422.1 686.4H426.5M422.1 620H426.5M302.1 637.6V545.5M299.9 637.6H304.3M299.9 545.5H304.3M386.6 681.8V589.4M384.4 681.8H388.8M384.4 589.4H388.8M351.5 651.5V574.1M349.3 651.5H353.7M349.3 574.1H353.7M316.5 634.4V554.3M314.3 634.4H318.7M314.3 554.3H318.7M297.1 641.7V574.4M294.9 641.7H299.3M294.9 574.4H299.3M380.4 702.3V608.6M378.2 702.3H382.6M378.2 608.6H382.6M409.3 677.1V608.9M407.1 677.1H411.5M407.1 608.9H411.5M408.7 666V583.1M406.5 666H410.9M406.5 583.1H410.9M323.4 656.6V571.2M321.2 656.6H325.6M321.2 571.2H325.6M331 659.3V564.2M328.8 659.3H333.2M328.8 564.2H333.2M376.9 674.7V609.8M374.7 674.7H379.1M374.7 609.8H379.1M290.7 639.5V574.3M288.5 639.5H292.9M288.5 574.3H292.9M392.5 671.7V589.3M390.3 671.7H394.7M390.3 589.3H394.7M417.5 672.5V599.9M415.3 672.5H419.7M415.3 599.9H419.7M318.5 617.5V551.1M316.3 617.5H320.7M316.3 551.1H320.7M380.3 673.7V592.4M378.1 673.7H382.5M378.1 592.4H382.5M398.2 682.4V599.9M396 682.4H400.4M396 599.9H400.4M312.6 641.1V568.2M310.4 641.1H314.8M310.4 568.2H314.8M318.6 652.9V566.7M316.4 652.9H320.8M316.4 566.7H320.8M276.3 613.8V550M274.1 613.8H278.5M274.1 550H278.5M351 651.1V583.6M348.8 651.1H353.2M348.8 583.6H353.2M305.9 632.9V568.6M303.7 632.9H308.1M303.7 568.6H308.1M414.5 696.5V624.1M412.3 696.5H416.7M412.3 624.1H416.7M382 652.4V572.1M379.8 652.4H384.2M379.8 572.1H384.2M388.6 659.8V571.3M386.4 659.8H390.8M386.4 571.3H390.8M397.1 688.5V591.4M394.9 688.5H399.3M394.9 591.4H399.3M421.2 693.7V627.1M419 693.7H423.4M419 627.1H423.4M304.4 618.9V552.3M302.2 618.9H306.6M302.2 552.3H306.6M341.1 648.9V581.8M338.9 648.9H343.3M338.9 581.8H343.3M354.3 662V596M352.1 662H356.5M352.1 596H356.5M277.7 640.9V555.7M275.5 640.9H279.9M275.5 555.7H279.9M304.9 638.3V573M302.7 638.3H307.1M302.7 573H307.1M301.1 630.9V540.1M298.9 630.9H303.3M298.9 540.1H303.3M418.9 676.6V607.8M416.7 676.6H421.1M416.7 607.8H421.1M290.5 654.8V591M288.3 654.8H292.7M288.3 591H292.7M295 642.9V556.6M292.8 642.9H297.2M292.8 556.6H297.2M308.7 653V586.5M306.5 653H310.9M306.5 586.5H310.9M295.5 626.5V551.8M293.3 626.5H297.7M293.3 551.8H297.7M372.6 680.5V599.1M370.4 680.5H374.8M370.4 599.1H374.8M305.7 657.5V569M303.5 657.5H307.9M303.5 569H307.9M479.1 703.7V639.7M476.9 703.7H481.3M476.9 639.7H481.3M483.9 716.6V640.5M481.7 716.6H486.1M481.7 640.5H486.1M447.9 695.2V611.9M445.7 695.2H450.1M445.7 611.9H450.1M486 709.8V622.9M483.8 709.8H488.2M483.8 622.9H488.2M468.9 697.2V627.4M466.7 697.2H471.1M466.7 627.4H471.1M470.6 717.3V650.5M468.4 717.3H472.8M468.4 650.5H472.8M481.8 708.9V637.7M479.6 708.9H484M479.6 637.7H484M456.5 707.3V631.6M454.3 707.3H458.7M454.3 631.6H458.7M483.2 717.8V620.5M481 717.8H485.4M481 620.5H485.4M468.1 713.6V644.6M465.9 713.6H470.3M465.9 644.6H470.3M471.1 722.8V633.1M468.9 722.8H473.3M468.9 633.1H473.3M478.3 689.4V625.7M476.1 689.4H480.5M476.1 625.7H480.5M485.9 727.6V653.9M483.7 727.6H488.1M483.7 653.9H488.1M451.6 682.3V612.5M449.4 682.3H453.8M449.4 612.5H453.8M437.8 684.5V605.8M435.6 684.5H440M435.6 605.8H440M471.7 709.8V641.9M469.5 709.8H473.9M469.5 641.9H473.9M456.1 684.9V617.9M453.9 684.9H458.3M453.9 617.9H458.3M444.2 687.1V607.2M442 687.1H446.4M442 607.2H446.4M453 709.6V633.6M450.8 709.6H455.2M450.8 633.6H455.2M461.7 697.1V626.7M459.5 697.1H463.9M459.5 626.7H463.9" stroke="#858585" stroke-width="0.9" fill="none" />
<polygon points="274.6,593.2 282,595.5 289.4,597.9 296.8,600.2 304.3,602.6 311.7,604.9 319.1,607.3 326.5,609.6 333.9,612 341.3,614.3 348.7,616.7 356.2,619.1 363.6,621.4 371,623.8 378.4,626.1 385.8,628.5 393.2,630.8 400.6,633.2 408,635.5 415.5,637.9 422.9,640.2 430.3,642.6 437.7,644.9 445.1,647.3 452.5,649.6 459.9,652 467.4,654.4 474.8,656.7 482.2,659.1 489.6,661.4 489.6,705.7 482.2,702.3 474.8,699 467.4,695.7 459.9,692.4 452.5,689.1 445.1,685.8 437.7,682.5 430.3,679.2 422.9,675.8 415.5,672.5 408,669.2 400.6,665.9 393.2,662.6 385.8,659.3 378.4,656 371,652.7 363.6,649.3 356.2,646 348.7,642.7 341.3,639.4 333.9,636.1 326.5,632.8 319.1,629.5 311.7,626.2 304.3,622.8 296.8,619.5 289.4,616.2 282,612.9 274.6,609.6" fill="rgba(250,170,250,0.4)" stroke="none" stroke-width="1" />
<polygon points="274.6,586.8 282,589.6 289.4,592.3 296.8,595 304.3,597.7 311.7,600.5 319.1,603.2 326.5,605.9 333.9,608.6 341.3,611.4 348.7,614.1 356.2,616.8 363.6,619.5 371,622.3 378.4,625 385.8,627.7 393.2,630.4 400.6,633.2 408,635.9 415.5,638.6 422.9,641.3 430.3,644 437.7,646.8 445.1,649.5 452.5,652.2 459.9,654.9 467.4,657.7 474.8,660.4 482.2,663.1 489.6,665.8 489.6,672.2 482.2,669.4 474.8,666.7 467.4,664 459.9,661.3 452.5,658.5 445.1,655.8 437.7,653.1 430.3,650.4 422.9,647.6 415.5,644.9 408,642.2 400.6,639.5 393.2,636.7 385.8,634 378.4,631.3 371,628.6 363.6,625.8 356.2,623.1 348.7,620.4 341.3,617.7 333.9,615 326.5,612.2 319.1,609.5 311.7,606.8 304.3,604.1 296.8,601.3 289.4,598.6 282,595.9 274.6,593.2" fill="rgba(120,120,120,0.5)" stroke="none" stroke-width="1" />
<path d="M412.6 646h0M381.4 629.5h0M379.8 625.8h0M397.2 639.5h0M421.1 664.4h0M364.5 626.3h0M391.3 640.2h0M329.8 608.8h0M389.3 627h0M369.6 614.1h0M418.3 645.3h0M336 595.7h0M347.6 614.5h0M308.7 606.7h0M377 640.3h0M404.5 635.1h0M422.2 639.3h0M287.9 615.4h0M372.3 620.5h0M330.7 597.9h0M346 614.4h0M386.7 610.3h0M375.2 623.6h0M309.9 594.6h0M355.9 616.4h0M289.6 587.4h0M361.9 626.1h0M308.5 590.8h0M385 630.7h0M309.1 615h0M336.1 601.5h0M334.7 597h0M339.5 586.5h0M353.5 614h0M304.7 596.7h0M298.7 592.2h0M341.9 620.6h0M312.2 615.8h0M303.9 596.4h0M371.3 600.7h0M383.4 636h0M316.5 602.2h0M326.7 606.8h0M345.3 609.7h0M366.2 622.4h0M313 618.5h0M307.8 603.2h0M343.5 622.8h0M310.3 598.5h0M321.3 594.2h0M283.8 588.6h0M369.1 637.3h0M419 641.6h0M357.3 634.7h0M385.2 607.2h0M333.5 608.3h0M345.2 642.4h0M298.4 595.6h0M299 599.9h0M309.6 589.4h0M402.1 626.7h0M293.3 601.5h0M361.6 621.4h0M382.1 626.3h0M393.9 619.8h0M395.5 608.9h0M424.4 638.4h0M306.6 618.7h0M403.7 633.4h0M321.1 599.8h0M403.8 634.4h0M355 616.7h0M409.6 629.2h0M359.2 632h0M339 612.8h0M284.6 583.5h0M365.1 611.6h0M417.9 652.3h0M321.9 596.4h0M356 618.2h0M282.2 593.3h0M399.4 649.5h0M414.4 632.3h0M315.7 618.5h0M374 638.2h0M298.1 581.7h0M302.5 606.2h0M296.1 597.5h0M366.3 611.3h0M378.8 625.2h0M351.7 605.6h0M365.5 614.9h0M407.5 622.9h0M356.3 642.7h0M389.7 633.3h0M418.4 634.7h0M418.6 640.8h0M419 641.9h0M330.9 618.5h0M405.8 628h0M416.1 631.2h0M283.5 558.9h0M412.8 638.7h0M323 616.7h0M353.5 595.8h0M325.9 602h0M361.8 614.8h0M340.2 603.8h0M353.6 606.4h0M402.2 637.4h0M341.9 611.8h0M412.7 624.3h0M310.4 576.8h0M396.5 650.5h0M345.8 613.9h0M300.1 585.1h0M283.7 589.7h0M325.3 579h0M342.2 615.1h0M371.8 619.3h0M302.9 594.9h0M324.4 587.1h0M420.2 652.8h0M373.4 619.7h0M399.3 631.3h0M308.8 605h0M327.7 616.4h0M351.1 607.5h0M319.9 612.5h0M373.9 621.4h0M361.4 617.7h0M421.2 633.1h0M420.1 630.2h0M291.7 595.2h0M284 601.1h0M353.6 596.2h0M309.8 613.2h0M318.4 598.1h0M415.9 657.7h0M416.1 657.4h0M413 629.8h0M303.9 593h0M295.7 612.4h0M293.6 609.1h0M393.7 620.5h0M396.9 624.7h0M303.3 591.9h0M331.6 611h0M345.2 611.8h0M325.3 607.1h0M452.8 659.9h0M427.1 648.8h0M465.9 653.7h0M433.4 635.1h0M482 663h0M459.1 663.9h0M427.6 635.5h0M481.5 657.1h0M433.7 637.7h0M452.1 658.8h0M457 635.8h0M460.2 660.4h0M461.7 662.2h0M445.8 655.9h0M474.3 650.6h0M454.4 665.6h0M488 682.1h0M426.5 654.5h0M474.7 657.1h0M477.6 656h0M486.6 673.7h0M450.9 644.3h0M489 673.5h0M472.9 669.2h0M460.9 677.2h0M458.6 641.1h0M434.7 642.2h0M439.4 629.3h0M428 649.6h0M451.6 644.3h0M453.5 642.8h0M487.8 676.4h0M469 664.7h0M468.2 691h0M436.5 641.1h0" stroke="#1a1a1a" stroke-width="3.7" stroke-linecap="round"/>
<path d="M412.6 646h0M381.4 629.5h0M379.8 625.8h0M397.2 639.5h0M421.1 664.4h0M364.5 626.3h0M391.3 640.2h0M329.8 608.8h0M389.3 627h0M369.6 614.1h0M418.3 645.3h0M336 595.7h0M347.6 614.5h0M308.7 606.7h0M377 640.3h0M404.5 635.1h0M422.2 639.3h0M287.9 615.4h0M372.3 620.5h0M330.7 597.9h0M346 614.4h0M386.7 610.3h0M375.2 623.6h0M309.9 594.6h0M355.9 616.4h0M289.6 587.4h0M361.9 626.1h0M308.5 590.8h0M385 630.7h0M309.1 615h0M336.1 601.5h0M334.7 597h0M339.5 586.5h0M353.5 614h0M304.7 596.7h0M298.7 592.2h0M341.9 620.6h0M312.2 615.8h0M303.9 596.4h0M371.3 600.7h0M383.4 636h0M316.5 602.2h0M326.7 606.8h0M345.3 609.7h0M366.2 622.4h0M313 618.5h0M307.8 603.2h0M343.5 622.8h0M310.3 598.5h0M321.3 594.2h0M283.8 588.6h0M369.1 637.3h0M419 641.6h0M357.3 634.7h0M385.2 607.2h0M333.5 608.3h0M345.2 642.4h0M298.4 595.6h0M299 599.9h0M309.6 589.4h0M402.1 626.7h0M293.3 601.5h0M361.6 621.4h0M382.1 626.3h0M393.9 619.8h0M395.5 608.9h0M424.4 638.4h0M306.6 618.7h0M403.7 633.4h0M321.1 599.8h0M403.8 634.4h0M355 616.7h0M409.6 629.2h0M359.2 632h0M339 612.8h0M284.6 583.5h0M365.1 611.6h0M417.9 652.3h0M321.9 596.4h0M356 618.2h0M282.2 593.3h0M399.4 649.5h0M414.4 632.3h0M315.7 618.5h0M374 638.2h0M298.1 581.7h0M302.5 606.2h0M296.1 597.5h0M366.3 611.3h0M378.8 625.2h0M351.7 605.6h0M365.5 614.9h0M407.5 622.9h0M356.3 642.7h0M389.7 633.3h0M418.4 634.7h0M418.6 640.8h0M419 641.9h0M330.9 618.5h0M405.8 628h0M416.1 631.2h0M283.5 558.9h0M412.8 638.7h0M323 616.7h0M353.5 595.8h0M325.9 602h0M361.8 614.8h0M340.2 603.8h0M353.6 606.4h0M402.2 637.4h0M341.9 611.8h0M412.7 624.3h0M310.4 576.8h0M396.5 650.5h0M345.8 613.9h0M300.1 585.1h0M283.7 589.7h0M325.3 579h0M342.2 615.1h0M371.8 619.3h0M302.9 594.9h0M324.4 587.1h0M420.2 652.8h0M373.4 619.7h0M399.3 631.3h0M308.8 605h0M327.7 616.4h0M351.1 607.5h0M319.9 612.5h0M373.9 621.4h0M361.4 617.7h0M421.2 633.1h0M420.1 630.2h0M291.7 595.2h0M284 601.1h0M353.6 596.2h0M309.8 613.2h0M318.4 598.1h0M415.9 657.7h0M416.1 657.4h0M413 629.8h0M303.9 593h0M295.7 612.4h0M293.6 609.1h0M393.7 620.5h0M396.9 624.7h0M303.3 591.9h0M331.6 611h0M345.2 611.8h0M325.3 607.1h0M452.8 659.9h0M427.1 648.8h0M465.9 653.7h0M433.4 635.1h0M482 663h0M459.1 663.9h0M427.6 635.5h0M481.5 657.1h0M433.7 637.7h0M452.1 658.8h0M457 635.8h0M460.2 660.4h0M461.7 662.2h0M445.8 655.9h0M474.3 650.6h0M454.4 665.6h0M488 682.1h0M426.5 654.5h0M474.7 657.1h0M477.6 656h0M486.6 673.7h0M450.9 644.3h0M489 673.5h0M472.9 669.2h0M460.9 677.2h0M458.6 641.1h0M434.7 642.2h0M439.4 629.3h0M428 649.6h0M451.6 644.3h0M453.5 642.8h0M487.8 676.4h0M469 664.7h0M468.2 691h0M436.5 641.1h0" stroke="#9a9a9a" stroke-width="2.3" stroke-linecap="round"/>
<path d="M362.9 646h0M304.3 618.1h0M421.8 648.4h0M398.9 644.5h0M311.1 630h0M410.1 650.3h0M386.5 646.4h0M322.7 621h0M416 652.8h0M376 651.7h0M343 632.1h0M421.1 648h0M418.1 653.7h0M420 667.1h0M314 620.3h0M358.9 627.6h0M289.7 593.2h0M343.1 623.2h0M284 600.9h0M346.7 622.1h0M300.2 621.9h0M335.7 626.5h0M400.3 657.4h0M315.6 612.7h0M353.6 636.1h0M337.4 623.4h0M304.8 608.4h0M418.6 657.6h0M405.8 656.3h0M317.7 631.8h0M291.7 610.2h0M356.3 634.8h0M282.6 607.9h0M410.7 653.8h0M279.7 597.9h0M410 651h0M393.9 656.1h0M410.4 649.7h0M385.5 653.9h0M372.3 636.2h0M379.5 634.7h0M390 647.4h0M298.2 602.6h0M286.6 588.6h0M322.8 616h0M316.2 620.2h0M399.8 639.3h0M311.1 613.3h0M415.2 655.2h0M323 624.7h0M407.7 657h0M330.8 625.7h0M421.9 641.3h0M356.8 642.8h0M389 648.7h0M309.6 621.7h0M386.1 642.5h0M305.3 602.1h0M336.8 619.6h0M296.7 601h0M349.1 632.7h0M324.3 623.1h0M336.7 626.6h0M379.1 656h0M407.5 651.7h0M401.6 658.7h0M310.8 606h0M418.3 660.3h0M378.2 643.6h0M359.8 629.1h0M326.6 620h0M424.4 661.4h0M403.2 651.2h0M330.9 632.7h0M393.2 641.5h0M423.9 662.1h0M410.7 645.8h0M391.9 640.4h0M396.1 664.7h0M342.8 626.1h0M364.6 633.4h0M398.2 649.1h0M347.9 629h0M347.7 634.5h0M314.8 620.3h0M286.3 610.7h0M407.8 647.1h0M391.8 647.6h0M424.2 671.9h0M395.5 658.7h0M418.2 670.6h0M346.7 636.7h0M400 643.8h0M317.1 613.9h0M404.5 647.3h0M413.6 652.3h0M287 609.5h0M362.3 638.7h0M289.5 623.6h0M361.6 621.4h0M452.6 660.4h0M468.5 678.8h0M461.4 667.4h0M466 681.3h0M439.8 680.8h0M463 688h0M457.2 681h0M474.6 671.6h0M475.5 672.4h0M465.5 675.4h0M448.1 663.8h0M453.2 662.5h0M430.7 658h0M472.6 677.1h0M462.2 665.4h0M439.6 662.5h0M464.2 682.3h0M444 695.7h0M436.6 654.7h0M438.9 666.2h0M472.5 673.2h0M451.6 664.4h0M432.6 668.3h0M446.2 673.5h0M472.2 677.7h0M430.5 669h0M430.6 660.5h0M451.4 661.6h0M464.1 670.2h0M476.4 678.7h0" stroke="#1a1a1a" stroke-width="3.8" stroke-linecap="round"/>
<path d="M362.9 646h0M304.3 618.1h0M421.8 648.4h0M398.9 644.5h0M311.1 630h0M410.1 650.3h0M386.5 646.4h0M322.7 621h0M416 652.8h0M376 651.7h0M343 632.1h0M421.1 648h0M418.1 653.7h0M420 667.1h0M314 620.3h0M358.9 627.6h0M289.7 593.2h0M343.1 623.2h0M284 600.9h0M346.7 622.1h0M300.2 621.9h0M335.7 626.5h0M400.3 657.4h0M315.6 612.7h0M353.6 636.1h0M337.4 623.4h0M304.8 608.4h0M418.6 657.6h0M405.8 656.3h0M317.7 631.8h0M291.7 610.2h0M356.3 634.8h0M282.6 607.9h0M410.7 653.8h0M279.7 597.9h0M410 651h0M393.9 656.1h0M410.4 649.7h0M385.5 653.9h0M372.3 636.2h0M379.5 634.7h0M390 647.4h0M298.2 602.6h0M286.6 588.6h0M322.8 616h0M316.2 620.2h0M399.8 639.3h0M311.1 613.3h0M415.2 655.2h0M323 624.7h0M407.7 657h0M330.8 625.7h0M421.9 641.3h0M356.8 642.8h0M389 648.7h0M309.6 621.7h0M386.1 642.5h0M305.3 602.1h0M336.8 619.6h0M296.7 601h0M349.1 632.7h0M324.3 623.1h0M336.7 626.6h0M379.1 656h0M407.5 651.7h0M401.6 658.7h0M310.8 606h0M418.3 660.3h0M378.2 643.6h0M359.8 629.1h0M326.6 620h0M424.4 661.4h0M403.2 651.2h0M330.9 632.7h0M393.2 641.5h0M423.9 662.1h0M410.7 645.8h0M391.9 640.4h0M396.1 664.7h0M342.8 626.1h0M364.6 633.4h0M398.2 649.1h0M347.9 629h0M347.7 634.5h0M314.8 620.3h0M286.3 610.7h0M407.8 647.1h0M391.8 647.6h0M424.2 671.9h0M395.5 658.7h0M418.2 670.6h0M346.7 636.7h0M400 643.8h0M317.1 613.9h0M404.5 647.3h0M413.6 652.3h0M287 609.5h0M362.3 638.7h0M289.5 623.6h0M361.6 621.4h0M452.6 660.4h0M468.5 678.8h0M461.4 667.4h0M466 681.3h0M439.8 680.8h0M463 688h0M457.2 681h0M474.6 671.6h0M475.5 672.4h0M465.5 675.4h0M448.1 663.8h0M453.2 662.5h0M430.7 658h0M472.6 677.1h0M462.2 665.4h0M439.6 662.5h0M464.2 682.3h0M444 695.7h0M436.6 654.7h0M438.9 666.2h0M472.5 673.2h0M451.6 664.4h0M432.6 668.3h0M446.2 673.5h0M472.2 677.7h0M430.5 669h0M430.6 660.5h0M451.4 661.6h0M464.1 670.2h0M476.4 678.7h0" stroke="#d000d0" stroke-width="2.4" stroke-linecap="round"/>
<line x1="274.6" y1="590" x2="489.6" y2="669" stroke="#000" stroke-width="1.3" />
<line x1="274.6" y1="601.1" x2="489.6" y2="685.1" stroke="#ff00ff" stroke-width="1.3" />
</g>
<rect x="278.7" y="559.3" width="146" height="13" rx="2.5" fill="#fff" stroke="#000" stroke-width="0.8"/>
<text transform="translate(281.3,569)" font-family="'Liberation Sans', sans-serif" font-size="8" text-anchor="start" fill="#000"  stroke="#000" stroke-width="0.18">Tanh model of Stellar Disk velocity map</text>
<rect x="278" y="660.9" width="90.4" height="44.8" rx="2" fill="rgba(255,255,255,0.82)" stroke="#e0e0e0" stroke-width="0.6"/>
<rect x="280.9" y="664" width="15.1" height="5.2" fill="#c4c4c4" stroke="none" stroke-width="1" />
<text transform="translate(301.1,669.5) scale(1,1)" font-family="'Liberation Sans', sans-serif" font-size="8.1" text-anchor="start" fill="#000"  stroke="#000" stroke-width="0.18">Linear fit</text>
<rect x="280.9" y="674.2" width="15.1" height="5.2" fill="#f8c8f8" stroke="none" stroke-width="1" />
<text transform="translate(301.1,679.7) scale(1,1)" font-family="'Liberation Sans', sans-serif" font-size="8.1" text-anchor="start" fill="#000"  stroke="#000" stroke-width="0.18">Linear fit (QA)</text>
<line x1="288.4" y1="683.3" x2="288.4" y2="691.3" stroke="#999" stroke-width="0.7" />
<line x1="286.6" y1="683.3" x2="290.2" y2="683.3" stroke="#999" stroke-width="0.7" />
<line x1="286.6" y1="691.3" x2="290.2" y2="691.3" stroke="#999" stroke-width="0.7" />
<path d="M288.4 687.3h0" stroke="#111" stroke-width="3.4" stroke-linecap="round"/>
<path d="M288.4 687.3h0" stroke="#555" stroke-width="2.2" stroke-linecap="round"/>
<text transform="translate(301.1,690.2) scale(1,1)" font-family="'Liberation Sans', sans-serif" font-size="8.1" text-anchor="start" fill="#000"  stroke="#000" stroke-width="0.18">MaNGa  (data)</text>
<line x1="288.4" y1="693.5" x2="288.4" y2="701.5" stroke="#999" stroke-width="0.7" />
<line x1="286.6" y1="693.5" x2="290.2" y2="693.5" stroke="#999" stroke-width="0.7" />
<line x1="286.6" y1="701.5" x2="290.2" y2="701.5" stroke="#999" stroke-width="0.7" />
<path d="M288.4 697.5h0" stroke="#111" stroke-width="3.4" stroke-linecap="round"/>
<path d="M288.4 697.5h0" stroke="#d000d0" stroke-width="2.2" stroke-linecap="round"/>
<text transform="translate(301.1,700.4) scale(1,1)" font-family="'Liberation Sans', sans-serif" font-size="8.1" text-anchor="start" fill="#000"  stroke="#000" stroke-width="0.18">MaNGa  (data) QA</text>
<rect x="274.6" y="550.5" width="215" height="158" fill="none" stroke="#000" stroke-width="1.2"/>
<path d="M274.6 708.5V704.5M274.6 550.5V554.5M317.6 708.5V704.5M317.6 550.5V554.5M360.6 708.5V704.5M360.6 550.5V554.5M403.6 708.5V704.5M403.6 550.5V554.5M446.6 708.5V704.5M446.6 550.5V554.5M489.6 708.5V704.5M489.6 550.5V554.5M274.6 708.5V706.3M274.6 550.5V552.7M285.4 708.5V706.3M285.4 550.5V552.7M296.1 708.5V706.3M296.1 550.5V552.7M306.9 708.5V706.3M306.9 550.5V552.7M317.6 708.5V706.3M317.6 550.5V552.7M328.4 708.5V706.3M328.4 550.5V552.7M339.1 708.5V706.3M339.1 550.5V552.7M349.9 708.5V706.3M349.9 550.5V552.7M360.6 708.5V706.3M360.6 550.5V552.7M371.4 708.5V706.3M371.4 550.5V552.7M382.1 708.5V706.3M382.1 550.5V552.7M392.9 708.5V706.3M392.9 550.5V552.7M403.6 708.5V706.3M403.6 550.5V552.7M414.4 708.5V706.3M414.4 550.5V552.7M425.1 708.5V706.3M425.1 550.5V552.7M435.9 708.5V706.3M435.9 550.5V552.7M446.6 708.5V706.3M446.6 550.5V552.7M457.4 708.5V706.3M457.4 550.5V552.7M468.1 708.5V706.3M468.1 550.5V552.7M478.9 708.5V706.3M478.9 550.5V552.7M489.6 708.5V706.3M489.6 550.5V552.7M274.6 708.5H278.6M489.6 708.5H485.6M274.6 676.9H278.6M489.6 676.9H485.6M274.6 645.3H278.6M489.6 645.3H485.6M274.6 613.7H278.6M489.6 613.7H485.6M274.6 582.1H278.6M489.6 582.1H485.6M274.6 550.5H278.6M489.6 550.5H485.6M274.6 708.5H276.8M489.6 708.5H487.4M274.6 700.6H276.8M489.6 700.6H487.4M274.6 692.7H276.8M489.6 692.7H487.4M274.6 684.8H276.8M489.6 684.8H487.4M274.6 676.9H276.8M489.6 676.9H487.4M274.6 669H276.8M489.6 669H487.4M274.6 661.1H276.8M489.6 661.1H487.4M274.6 653.2H276.8M489.6 653.2H487.4M274.6 645.3H276.8M489.6 645.3H487.4M274.6 637.4H276.8M489.6 637.4H487.4M274.6 629.5H276.8M489.6 629.5H487.4M274.6 621.6H276.8M489.6 621.6H487.4M274.6 613.7H276.8M489.6 613.7H487.4M274.6 605.8H276.8M489.6 605.8H487.4M274.6 597.9H276.8M489.6 597.9H487.4M274.6 590H276.8M489.6 590H487.4M274.6 582.1H276.8M489.6 582.1H487.4M274.6 574.2H276.8M489.6 574.2H487.4M274.6 566.3H276.8M489.6 566.3H487.4M274.6 558.4H276.8M489.6 558.4H487.4M274.6 550.5H276.8M489.6 550.5H487.4" stroke="#000" stroke-width="1" fill="none" />
<text transform="translate(274.6,718.1) scale(1.1,1)" font-family="'Liberation Sans', sans-serif" font-size="8.7" text-anchor="middle" fill="#000"  stroke="#000" stroke-width="0.18">0</text>
<text transform="translate(317.6,718.1) scale(1.1,1)" font-family="'Liberation Sans', sans-serif" font-size="8.7" text-anchor="middle" fill="#000"  stroke="#000" stroke-width="0.18">2</text>
<text transform="translate(360.6,718.1) scale(1.1,1)" font-family="'Liberation Sans', sans-serif" font-size="8.7" text-anchor="middle" fill="#000"  stroke="#000" stroke-width="0.18">4</text>
<text transform="translate(403.6,718.1) scale(1.1,1)" font-family="'Liberation Sans', sans-serif" font-size="8.7" text-anchor="middle" fill="#000"  stroke="#000" stroke-width="0.18">6</text>
<text transform="translate(446.6,718.1) scale(1.1,1)" font-family="'Liberation Sans', sans-serif" font-size="8.7" text-anchor="middle" fill="#000"  stroke="#000" stroke-width="0.18">8</text>
<text transform="translate(489.6,718.1) scale(1.1,1)" font-family="'Liberation Sans', sans-serif" font-size="8.7" text-anchor="middle" fill="#000"  stroke="#000" stroke-width="0.18">10</text>
<text transform="translate(272.8,711.6) scale(1.1,1)" font-family="'Liberation Sans', sans-serif" font-size="8.7" text-anchor="end" fill="#000"  stroke="#000" stroke-width="0.18">−0.2</text>
<text transform="translate(272.8,680) scale(1.1,1)" font-family="'Liberation Sans', sans-serif" font-size="8.7" text-anchor="end" fill="#000"  stroke="#000" stroke-width="0.18">−0.1</text>
<text transform="translate(272.8,648.4) scale(1.1,1)" font-family="'Liberation Sans', sans-serif" font-size="8.7" text-anchor="end" fill="#000"  stroke="#000" stroke-width="0.18">0.0</text>
<text transform="translate(272.8,616.8) scale(1.1,1)" font-family="'Liberation Sans', sans-serif" font-size="8.7" text-anchor="end" fill="#000"  stroke="#000" stroke-width="0.18">0.1</text>
<text transform="translate(272.8,585.2) scale(1.1,1)" font-family="'Liberation Sans', sans-serif" font-size="8.7" text-anchor="end" fill="#000"  stroke="#000" stroke-width="0.18">0.2</text>
<text transform="translate(272.8,553.6) scale(1.1,1)" font-family="'Liberation Sans', sans-serif" font-size="8.7" text-anchor="end" fill="#000"  stroke="#000" stroke-width="0.18">0.3</text>
<text transform="translate(382,727) scale(1,1)" font-family="'Liberation Sans', sans-serif" font-size="9.2" text-anchor="middle" fill="#000"  stroke="#000" stroke-width="0.18">Radius (kpc)</text>
<text transform="translate(251,630) rotate(-90) scale(1,1)" font-family="'Liberation Sans', sans-serif" font-size="9.2" text-anchor="middle" fill="#000"  stroke="#000" stroke-width="0.18">Metallicity [O/H]</text>
<text transform="translate(382,547.3) scale(1,1)" font-family="'Liberation Sans', sans-serif" font-size="9.2" text-anchor="middle" fill="#000"  stroke="#000" stroke-width="0.18">Metallicity gradient</text>
<clipPath id="c12"><rect x="532.8" y="550.5" width="214.6" height="158"/></clipPath>
<g clip-path="url(#c12)">
<polygon points="532.8,570.7 747.4,628.2 747.4,652.3 532.8,576.8" fill="#f8c8f8" stroke="none" stroke-width="1" />
<polygon points="586.4,584.3 747.4,631.4 747.4,639 586.4,587.2" fill="rgba(130,110,130,0.45)" stroke="none" stroke-width="1" />
<path d="M534.4 576.4V570.1M538.7 576.4V570.1M543.1 577V570.7M547.4 578.3V572M551.8 580.2V573.9M556.1 581.5V575.1M560.4 582.1V575.8M564.8 584V577.7M569.1 584.6V578.3M573.4 587.2V580.8M577.8 587.2V580.8M582.1 586.5V580.2M586.4 598.5V570.7" stroke="#808080" stroke-width="1" fill="none" />
<polyline points="534.4,573.3 538.7,573.3 543.1,573.9 547.4,575.1 551.8,577 556.1,578.3 560.4,578.9 564.8,580.8 569.1,581.5 573.4,584 577.8,584 582.1,583.4 586.4,584.6" fill="none" stroke="#808080" stroke-width="1.1" stroke-linejoin="round" />
<path d="M534.4 570.5l2 2.8l-2 2.8l-2 -2.8zM538.7 570.5l2 2.8l-2 2.8l-2 -2.8zM543.1 571.1l2 2.8l-2 2.8l-2 -2.8zM547.4 572.3l2 2.8l-2 2.8l-2 -2.8zM551.8 574.2l2 2.8l-2 2.8l-2 -2.8zM556.1 575.5l2 2.8l-2 2.8l-2 -2.8zM560.4 576.1l2 2.8l-2 2.8l-2 -2.8zM564.8 578l2 2.8l-2 2.8l-2 -2.8zM569.1 578.7l2 2.8l-2 2.8l-2 -2.8zM573.4 581.2l2 2.8l-2 2.8l-2 -2.8zM577.8 581.2l2 2.8l-2 2.8l-2 -2.8zM582.1 580.6l2 2.8l-2 2.8l-2 -2.8zM586.4 581.8l2 2.8l-2 2.8l-2 -2.8z" fill="#777"/>
</g>
<line x1="719.5" y1="550.5" x2="719.5" y2="708.5" stroke="#808080" stroke-width="1" stroke-dasharray="3,2"/>
<line x1="725.9" y1="642.1" x2="725.9" y2="667.4" stroke="#000" stroke-width="1.1" />
<line x1="723.4" y1="642.1" x2="728.4" y2="642.1" stroke="#000" stroke-width="1.1" />
<line x1="723.4" y1="667.4" x2="728.4" y2="667.4" stroke="#000" stroke-width="1.1" />
<rect x="723.7" y="652.6" width="4.4" height="4.4" fill="#1f77b4" stroke="none" stroke-width="1" />
<rect x="535.8" y="661.5" width="86.8" height="43.5" rx="2" fill="rgba(255,255,255,0.82)" stroke="#e0e0e0" stroke-width="0.6"/>
<line x1="539.4" y1="666.6" x2="553.2" y2="666.6" stroke="#888" stroke-width="1.1" />
<line x1="546.3" y1="663.1" x2="546.3" y2="670.1" stroke="#888" stroke-width="0.9" />
<path d="M546.3 664.1l1.6 2.5l-1.6 2.5l-1.6 -2.5z" fill="#777"/>
<text transform="translate(558.9,669.5) scale(1,1)" font-family="'Liberation Sans', sans-serif" font-size="8.1" text-anchor="start" fill="#000"  stroke="#000" stroke-width="0.18">MaNGa (data)</text>
<rect x="539.4" y="674.1" width="13.8" height="5.2" fill="#c4c4c4" stroke="none" stroke-width="1" />
<text transform="translate(558.9,679.6) scale(1,1)" font-family="'Liberation Sans', sans-serif" font-size="8.1" text-anchor="start" fill="#000"  stroke="#000" stroke-width="0.18">Linear fit</text>
<rect x="539.4" y="685" width="13.8" height="5.2" fill="#f8c8f8" stroke="none" stroke-width="1" />
<text transform="translate(558.9,690.5) scale(1,1)" font-family="'Liberation Sans', sans-serif" font-size="8.1" text-anchor="start" fill="#000"  stroke="#000" stroke-width="0.18">Linear fit (QA)</text>
<line x1="546.3" y1="693.7" x2="546.3" y2="701.7" stroke="#000" stroke-width="1.1" />
<line x1="544.3" y1="693.7" x2="548.3" y2="693.7" stroke="#000" stroke-width="1.1" />
<line x1="544.3" y1="701.7" x2="548.3" y2="701.7" stroke="#000" stroke-width="1.1" />
<rect x="544.5" y="695.9" width="3.6" height="3.6" fill="#1f77b4" stroke="none" stroke-width="1" />
<text transform="translate(558.9,700.6) scale(1,1)" font-family="'Liberation Sans', sans-serif" font-size="8.1" text-anchor="start" fill="#000"  stroke="#000" stroke-width="0.18">QSO abs. (Comp)</text>
<rect x="532.8" y="550.5" width="214.6" height="158" fill="none" stroke="#000" stroke-width="1.2"/>
<path d="M532.8 708.5V704.5M532.8 550.5V554.5M586.4 708.5V704.5M586.4 550.5V554.5M640.1 708.5V704.5M640.1 550.5V554.5M693.8 708.5V704.5M693.8 550.5V554.5M747.4 708.5V704.5M747.4 550.5V554.5M532.8 708.5V706.3M532.8 550.5V552.7M559.6 708.5V706.3M559.6 550.5V552.7M586.4 708.5V706.3M586.4 550.5V552.7M613.3 708.5V706.3M613.3 550.5V552.7M640.1 708.5V706.3M640.1 550.5V552.7M666.9 708.5V706.3M666.9 550.5V552.7M693.8 708.5V706.3M693.8 550.5V552.7M720.6 708.5V706.3M720.6 550.5V552.7M747.4 708.5V706.3M747.4 550.5V552.7M532.8 708.5H536.8M747.4 708.5H743.4M532.8 676.9H536.8M747.4 676.9H743.4M532.8 645.3H536.8M747.4 645.3H743.4M532.8 613.7H536.8M747.4 613.7H743.4M532.8 582.1H536.8M747.4 582.1H743.4M532.8 550.5H536.8M747.4 550.5H743.4M532.8 708.5H535M747.4 708.5H745.2M532.8 702.2H535M747.4 702.2H745.2M532.8 695.9H535M747.4 695.9H745.2M532.8 689.5H535M747.4 689.5H745.2M532.8 683.2H535M747.4 683.2H745.2M532.8 676.9H535M747.4 676.9H745.2M532.8 670.6H535M747.4 670.6H745.2M532.8 664.3H535M747.4 664.3H745.2M532.8 657.9H535M747.4 657.9H745.2M532.8 651.6H535M747.4 651.6H745.2M532.8 645.3H535M747.4 645.3H745.2M532.8 639H535M747.4 639H745.2M532.8 632.7H535M747.4 632.7H745.2M532.8 626.3H535M747.4 626.3H745.2M532.8 620H535M747.4 620H745.2M532.8 613.7H535M747.4 613.7H745.2M532.8 607.4H535M747.4 607.4H745.2M532.8 601.1H535M747.4 601.1H745.2M532.8 594.7H535M747.4 594.7H745.2M532.8 588.4H535M747.4 588.4H745.2M532.8 582.1H535M747.4 582.1H745.2M532.8 575.8H535M747.4 575.8H745.2M532.8 569.5H535M747.4 569.5H745.2M532.8 563.1H535M747.4 563.1H745.2M532.8 556.8H535M747.4 556.8H745.2M532.8 550.5H535M747.4 550.5H745.2" stroke="#000" stroke-width="1" fill="none" />
<text transform="translate(532.8,718.1) scale(1.1,1)" font-family="'Liberation Sans', sans-serif" font-size="8.7" text-anchor="middle" fill="#000"  stroke="#000" stroke-width="0.18">0</text>
<text transform="translate(586.4,718.1) scale(1.1,1)" font-family="'Liberation Sans', sans-serif" font-size="8.7" text-anchor="middle" fill="#000"  stroke="#000" stroke-width="0.18">10</text>
<text transform="translate(640.1,718.1) scale(1.1,1)" font-family="'Liberation Sans', sans-serif" font-size="8.7" text-anchor="middle" fill="#000"  stroke="#000" stroke-width="0.18">20</text>
<text transform="translate(693.8,718.1) scale(1.1,1)" font-family="'Liberation Sans', sans-serif" font-size="8.7" text-anchor="middle" fill="#000"  stroke="#000" stroke-width="0.18">30</text>
<text transform="translate(747.4,718.1) scale(1.1,1)" font-family="'Liberation Sans', sans-serif" font-size="8.7" text-anchor="middle" fill="#000"  stroke="#000" stroke-width="0.18">40</text>
<text transform="translate(531,711.6) scale(1.1,1)" font-family="'Liberation Sans', sans-serif" font-size="8.7" text-anchor="end" fill="#000"  stroke="#000" stroke-width="0.18">−2.0</text>
<text transform="translate(531,680) scale(1.1,1)" font-family="'Liberation Sans', sans-serif" font-size="8.7" text-anchor="end" fill="#000"  stroke="#000" stroke-width="0.18">−1.5</text>
<text transform="translate(531,648.4) scale(1.1,1)" font-family="'Liberation Sans', sans-serif" font-size="8.7" text-anchor="end" fill="#000"  stroke="#000" stroke-width="0.18">−1.0</text>
<text transform="translate(531,616.8) scale(1.1,1)" font-family="'Liberation Sans', sans-serif" font-size="8.7" text-anchor="end" fill="#000"  stroke="#000" stroke-width="0.18">−0.5</text>
<text transform="translate(531,585.2) scale(1.1,1)" font-family="'Liberation Sans', sans-serif" font-size="8.7" text-anchor="end" fill="#000"  stroke="#000" stroke-width="0.18">0.0</text>
<text transform="translate(531,553.6) scale(1.1,1)" font-family="'Liberation Sans', sans-serif" font-size="8.7" text-anchor="end" fill="#000"  stroke="#000" stroke-width="0.18">0.5</text>
<text transform="translate(640,727) scale(1,1)" font-family="'Liberation Sans', sans-serif" font-size="9.2" text-anchor="middle" fill="#000"  stroke="#000" stroke-width="0.18">log  Radius (kpc)</text>
<text transform="translate(506,630) rotate(-90) scale(1,1)" font-family="'Liberation Sans', sans-serif" font-size="9.2" text-anchor="middle" fill="#000"  stroke="#000" stroke-width="0.18">Metallicity</text>
<text transform="translate(640,547.3) scale(1,1)" font-family="'Liberation Sans', sans-serif" font-size="9.2" text-anchor="middle" fill="#000"  stroke="#000" stroke-width="0.18">Comparison with [Si/H] in absorption system</text>
<clipPath id="c13"><rect x="31.1" y="740.3" width="157.9" height="157.9"/></clipPath>
<g clip-path="url(#c13)">
<rect x="31.1" y="740.3" width="157.9" height="157.9" fill="url(#hatch)" stroke="none" stroke-width="1" />
<path d="M58.8 850.5h2.5v2.5h-2.5zM69.9 872.7h2.5v2.5h-2.5zM74.3 870.5h2.5v2.5h-2.5zM76.6 866h2.5v2.5h-2.5zM92.1 852.7h2.5v2.5h-2.5zM98.7 846.1h2.5v2.5h-2.5zM107.6 837.2h2.5v2.5h-2.5zM116.5 797.3h2.5v2.5h-2.5zM127.6 784h2.5v2.5h-2.5zM132 817.3h2.5v2.5h-2.5zM147.5 808.4h2.5v2.5h-2.5zM147.5 803.9h2.5v2.5h-2.5zM158.6 797.3h2.5v2.5h-2.5zM163.1 790.6h2.5v2.5h-2.5z" fill="#036a71"/>
<path d="M58.8 848.3h2.5v2.5h-2.5zM58.8 846.1h2.5v2.5h-2.5zM65.5 863.8h2.5v2.5h-2.5zM69.9 832.8h2.5v2.5h-2.5zM78.8 828.3h2.5v2.5h-2.5zM87.7 855h2.5v2.5h-2.5zM89.9 855h2.5v2.5h-2.5zM105.4 839.4h2.5v2.5h-2.5zM116.5 828.3h2.5v2.5h-2.5zM118.7 826.1h2.5v2.5h-2.5zM120.9 823.9h2.5v2.5h-2.5zM123.1 790.6h2.5v2.5h-2.5zM125.4 819.5h2.5v2.5h-2.5zM127.6 819.5h2.5v2.5h-2.5zM129.8 817.3h2.5v2.5h-2.5zM134.2 815h2.5v2.5h-2.5zM138.7 812.8h2.5v2.5h-2.5zM147.5 766.2h2.5v2.5h-2.5zM149.7 768.5h2.5v2.5h-2.5zM160.8 795.1h2.5v2.5h-2.5z" fill="#00706b"/>
<path d="M61 850.5h2.5v2.5h-2.5zM65.5 861.6h2.5v2.5h-2.5zM67.7 866h2.5v2.5h-2.5zM69.9 868.3h2.5v2.5h-2.5zM74.3 868.3h2.5v2.5h-2.5zM74.3 830.6h2.5v2.5h-2.5zM85.4 826.1h2.5v2.5h-2.5zM92.1 850.5h2.5v2.5h-2.5zM92.1 815h2.5v2.5h-2.5zM94.3 848.3h2.5v2.5h-2.5zM94.3 812.8h2.5v2.5h-2.5zM98.7 843.9h2.5v2.5h-2.5zM101 841.6h2.5v2.5h-2.5zM101 808.4h2.5v2.5h-2.5zM105.4 837.2h2.5v2.5h-2.5zM112 832.8h2.5v2.5h-2.5zM114.3 828.3h2.5v2.5h-2.5zM114.3 799.5h2.5v2.5h-2.5zM118.7 823.9h2.5v2.5h-2.5zM118.7 795.1h2.5v2.5h-2.5zM120.9 821.7h2.5v2.5h-2.5zM120.9 792.9h2.5v2.5h-2.5zM127.6 817.3h2.5v2.5h-2.5zM127.6 786.2h2.5v2.5h-2.5zM129.8 781.8h2.5v2.5h-2.5zM147.5 801.7h2.5v2.5h-2.5zM152 799.5h2.5v2.5h-2.5zM154.2 797.3h2.5v2.5h-2.5zM160.8 792.9h2.5v2.5h-2.5zM160.8 788.4h2.5v2.5h-2.5zM160.8 786.2h2.5v2.5h-2.5z" fill="#007c5d"/>
<path d="M61 848.3h2.5v2.5h-2.5zM65.5 857.2h2.5v2.5h-2.5zM67.7 863.8h2.5v2.5h-2.5zM72.1 868.3h2.5v2.5h-2.5zM72.1 832.8h2.5v2.5h-2.5zM76.6 863.8h2.5v2.5h-2.5zM81 828.3h2.5v2.5h-2.5zM83.2 828.3h2.5v2.5h-2.5zM87.7 823.9h2.5v2.5h-2.5zM89.9 852.7h2.5v2.5h-2.5zM92.1 848.3h2.5v2.5h-2.5zM98.7 841.6h2.5v2.5h-2.5zM98.7 810.6h2.5v2.5h-2.5zM101 839.4h2.5v2.5h-2.5zM103.2 837.2h2.5v2.5h-2.5zM103.2 808.4h2.5v2.5h-2.5zM109.8 832.8h2.5v2.5h-2.5zM109.8 803.9h2.5v2.5h-2.5zM112 830.6h2.5v2.5h-2.5zM116.5 826.1h2.5v2.5h-2.5zM118.7 821.7h2.5v2.5h-2.5zM120.9 817.3h2.5v2.5h-2.5zM123.1 817.3h2.5v2.5h-2.5zM125.4 815h2.5v2.5h-2.5zM129.8 815h2.5v2.5h-2.5zM132 779.6h2.5v2.5h-2.5zM138.7 810.6h2.5v2.5h-2.5zM143.1 806.2h2.5v2.5h-2.5zM143.1 803.9h2.5v2.5h-2.5zM145.3 806.2h2.5v2.5h-2.5zM145.3 799.5h2.5v2.5h-2.5zM147.5 799.5h2.5v2.5h-2.5zM147.5 768.5h2.5v2.5h-2.5zM149.7 799.5h2.5v2.5h-2.5zM158.6 792.9h2.5v2.5h-2.5zM158.6 790.6h2.5v2.5h-2.5zM160.8 790.6h2.5v2.5h-2.5z" fill="#008257"/>
<path d="M61 846.1h2.5v2.5h-2.5zM65.5 859.4h2.5v2.5h-2.5zM65.5 839.4h2.5v2.5h-2.5zM69.9 837.2h2.5v2.5h-2.5zM69.9 835h2.5v2.5h-2.5zM74.3 866h2.5v2.5h-2.5zM76.6 861.6h2.5v2.5h-2.5zM76.6 830.6h2.5v2.5h-2.5zM78.8 859.4h2.5v2.5h-2.5zM78.8 830.6h2.5v2.5h-2.5zM83.2 855h2.5v2.5h-2.5zM85.4 828.3h2.5v2.5h-2.5zM87.7 826.1h2.5v2.5h-2.5zM89.9 823.9h2.5v2.5h-2.5zM89.9 821.7h2.5v2.5h-2.5zM92.1 819.5h2.5v2.5h-2.5zM94.3 846.1h2.5v2.5h-2.5zM94.3 815h2.5v2.5h-2.5zM98.7 837.2h2.5v2.5h-2.5zM107.6 806.2h2.5v2.5h-2.5zM109.8 835h2.5v2.5h-2.5zM112 826.1h2.5v2.5h-2.5zM112 806.2h2.5v2.5h-2.5zM114.3 801.7h2.5v2.5h-2.5zM116.5 799.5h2.5v2.5h-2.5zM118.7 819.5h2.5v2.5h-2.5zM118.7 799.5h2.5v2.5h-2.5zM120.9 819.5h2.5v2.5h-2.5zM125.4 790.6h2.5v2.5h-2.5zM125.4 788.4h2.5v2.5h-2.5zM127.6 815h2.5v2.5h-2.5zM129.8 810.6h2.5v2.5h-2.5zM129.8 784h2.5v2.5h-2.5zM132 812.8h2.5v2.5h-2.5zM134.2 777.3h2.5v2.5h-2.5zM136.4 810.6h2.5v2.5h-2.5zM138.7 808.4h2.5v2.5h-2.5zM138.7 799.5h2.5v2.5h-2.5zM140.9 808.4h2.5v2.5h-2.5zM145.3 803.9h2.5v2.5h-2.5zM152 797.3h2.5v2.5h-2.5zM152 770.7h2.5v2.5h-2.5zM156.4 795.1h2.5v2.5h-2.5z" fill="#008750"/>
<path d="M61 843.9h2.5v2.5h-2.5zM69.9 870.5h2.5v2.5h-2.5zM72.1 870.5h2.5v2.5h-2.5zM87.7 821.7h2.5v2.5h-2.5zM89.9 819.5h2.5v2.5h-2.5zM96.5 810.6h2.5v2.5h-2.5zM103.2 841.6h2.5v2.5h-2.5zM103.2 839.4h2.5v2.5h-2.5zM105.4 806.2h2.5v2.5h-2.5zM107.6 835h2.5v2.5h-2.5zM114.3 830.6h2.5v2.5h-2.5zM116.5 795.1h2.5v2.5h-2.5zM123.1 819.5h2.5v2.5h-2.5zM132 815h2.5v2.5h-2.5zM134.2 812.8h2.5v2.5h-2.5zM136.4 812.8h2.5v2.5h-2.5zM140.9 810.6h2.5v2.5h-2.5zM143.1 808.4h2.5v2.5h-2.5zM145.3 808.4h2.5v2.5h-2.5zM156.4 797.3h2.5v2.5h-2.5zM158.6 795.1h2.5v2.5h-2.5z" fill="#007664"/>
<path d="M63.3 850.5h2.5v2.5h-2.5zM63.3 841.6h2.5v2.5h-2.5zM65.5 852.7h2.5v2.5h-2.5zM67.7 861.6h2.5v2.5h-2.5zM67.7 837.2h2.5v2.5h-2.5zM69.9 866h2.5v2.5h-2.5zM72.1 863.8h2.5v2.5h-2.5zM74.3 832.8h2.5v2.5h-2.5zM81 830.6h2.5v2.5h-2.5zM83.2 830.6h2.5v2.5h-2.5zM87.7 852.7h2.5v2.5h-2.5zM89.9 850.5h2.5v2.5h-2.5zM92.1 846.1h2.5v2.5h-2.5zM92.1 817.3h2.5v2.5h-2.5zM94.3 832.8h2.5v2.5h-2.5zM96.5 843.9h2.5v2.5h-2.5zM96.5 812.8h2.5v2.5h-2.5zM98.7 839.4h2.5v2.5h-2.5zM101 837.2h2.5v2.5h-2.5zM101 835h2.5v2.5h-2.5zM103.2 835h2.5v2.5h-2.5zM103.2 832.8h2.5v2.5h-2.5zM103.2 810.6h2.5v2.5h-2.5zM105.4 835h2.5v2.5h-2.5zM105.4 808.4h2.5v2.5h-2.5zM107.6 832.8h2.5v2.5h-2.5zM109.8 830.6h2.5v2.5h-2.5zM109.8 826.1h2.5v2.5h-2.5zM109.8 806.2h2.5v2.5h-2.5zM112 803.9h2.5v2.5h-2.5zM114.3 826.1h2.5v2.5h-2.5zM116.5 823.9h2.5v2.5h-2.5zM116.5 821.7h2.5v2.5h-2.5zM116.5 801.7h2.5v2.5h-2.5zM118.7 797.3h2.5v2.5h-2.5zM120.9 795.1h2.5v2.5h-2.5zM123.1 815h2.5v2.5h-2.5zM123.1 792.9h2.5v2.5h-2.5zM125.4 817.3h2.5v2.5h-2.5zM125.4 810.6h2.5v2.5h-2.5zM125.4 792.9h2.5v2.5h-2.5zM127.6 810.6h2.5v2.5h-2.5zM132 810.6h2.5v2.5h-2.5zM132 799.5h2.5v2.5h-2.5zM134.2 810.6h2.5v2.5h-2.5zM134.2 808.4h2.5v2.5h-2.5zM136.4 808.4h2.5v2.5h-2.5zM136.4 801.7h2.5v2.5h-2.5zM138.7 806.2h2.5v2.5h-2.5zM138.7 803.9h2.5v2.5h-2.5zM138.7 801.7h2.5v2.5h-2.5zM140.9 803.9h2.5v2.5h-2.5zM143.1 799.5h2.5v2.5h-2.5zM145.3 801.7h2.5v2.5h-2.5zM149.7 770.7h2.5v2.5h-2.5zM158.6 784h2.5v2.5h-2.5z" fill="#008b49"/>
<path d="M63.3 848.3h2.5v2.5h-2.5zM63.3 846.1h2.5v2.5h-2.5zM65.5 841.6h2.5v2.5h-2.5zM67.7 839.4h2.5v2.5h-2.5zM69.9 839.4h2.5v2.5h-2.5zM72.1 866h2.5v2.5h-2.5zM76.6 832.8h2.5v2.5h-2.5zM78.8 857.2h2.5v2.5h-2.5zM78.8 832.8h2.5v2.5h-2.5zM85.4 852.7h2.5v2.5h-2.5zM85.4 832.8h2.5v2.5h-2.5zM85.4 830.6h2.5v2.5h-2.5zM87.7 846.1h2.5v2.5h-2.5zM87.7 839.4h2.5v2.5h-2.5zM87.7 835h2.5v2.5h-2.5zM87.7 832.8h2.5v2.5h-2.5zM89.9 848.3h2.5v2.5h-2.5zM89.9 843.9h2.5v2.5h-2.5zM89.9 839.4h2.5v2.5h-2.5zM89.9 830.6h2.5v2.5h-2.5zM92.1 830.6h2.5v2.5h-2.5zM92.1 826.1h2.5v2.5h-2.5zM92.1 823.9h2.5v2.5h-2.5zM92.1 821.7h2.5v2.5h-2.5zM94.3 837.2h2.5v2.5h-2.5zM94.3 817.3h2.5v2.5h-2.5zM96.5 841.6h2.5v2.5h-2.5zM96.5 837.2h2.5v2.5h-2.5zM96.5 823.9h2.5v2.5h-2.5zM98.7 830.6h2.5v2.5h-2.5zM101 810.6h2.5v2.5h-2.5zM103.2 830.6h2.5v2.5h-2.5zM103.2 812.8h2.5v2.5h-2.5zM107.6 810.6h2.5v2.5h-2.5zM109.8 808.4h2.5v2.5h-2.5zM112 817.3h2.5v2.5h-2.5zM116.5 810.6h2.5v2.5h-2.5zM116.5 806.2h2.5v2.5h-2.5zM118.7 817.3h2.5v2.5h-2.5zM118.7 803.9h2.5v2.5h-2.5zM120.9 810.6h2.5v2.5h-2.5zM120.9 808.4h2.5v2.5h-2.5zM120.9 803.9h2.5v2.5h-2.5zM123.1 812.8h2.5v2.5h-2.5zM123.1 808.4h2.5v2.5h-2.5zM123.1 799.5h2.5v2.5h-2.5zM125.4 808.4h2.5v2.5h-2.5zM125.4 806.2h2.5v2.5h-2.5zM125.4 797.3h2.5v2.5h-2.5zM127.6 803.9h2.5v2.5h-2.5zM127.6 799.5h2.5v2.5h-2.5zM127.6 797.3h2.5v2.5h-2.5zM127.6 788.4h2.5v2.5h-2.5zM129.8 808.4h2.5v2.5h-2.5zM129.8 790.6h2.5v2.5h-2.5zM132 803.9h2.5v2.5h-2.5zM132 801.7h2.5v2.5h-2.5zM132 795.1h2.5v2.5h-2.5zM132 792.9h2.5v2.5h-2.5zM132 781.8h2.5v2.5h-2.5zM136.4 803.9h2.5v2.5h-2.5zM136.4 799.5h2.5v2.5h-2.5zM136.4 795.1h2.5v2.5h-2.5zM143.1 797.3h2.5v2.5h-2.5zM145.3 797.3h2.5v2.5h-2.5zM147.5 797.3h2.5v2.5h-2.5zM152 772.9h2.5v2.5h-2.5zM154.2 775.1h2.5v2.5h-2.5zM156.4 779.6h2.5v2.5h-2.5z" fill="#009638"/>
<path d="M63.3 843.9h2.5v2.5h-2.5zM65.5 855h2.5v2.5h-2.5zM67.7 859.4h2.5v2.5h-2.5zM67.7 857.2h2.5v2.5h-2.5zM67.7 855h2.5v2.5h-2.5zM69.9 863.8h2.5v2.5h-2.5zM72.1 861.6h2.5v2.5h-2.5zM72.1 835h2.5v2.5h-2.5zM74.3 863.8h2.5v2.5h-2.5zM74.3 861.6h2.5v2.5h-2.5zM76.6 859.4h2.5v2.5h-2.5zM81 857.2h2.5v2.5h-2.5zM81 855h2.5v2.5h-2.5zM81 832.8h2.5v2.5h-2.5zM87.7 850.5h2.5v2.5h-2.5zM87.7 837.2h2.5v2.5h-2.5zM87.7 830.6h2.5v2.5h-2.5zM87.7 828.3h2.5v2.5h-2.5zM89.9 835h2.5v2.5h-2.5zM89.9 826.1h2.5v2.5h-2.5zM92.1 843.9h2.5v2.5h-2.5zM92.1 828.3h2.5v2.5h-2.5zM94.3 843.9h2.5v2.5h-2.5zM94.3 841.6h2.5v2.5h-2.5zM94.3 839.4h2.5v2.5h-2.5zM94.3 821.7h2.5v2.5h-2.5zM94.3 819.5h2.5v2.5h-2.5zM96.5 839.4h2.5v2.5h-2.5zM96.5 815h2.5v2.5h-2.5zM98.7 828.3h2.5v2.5h-2.5zM98.7 812.8h2.5v2.5h-2.5zM105.4 832.8h2.5v2.5h-2.5zM107.6 830.6h2.5v2.5h-2.5zM107.6 828.3h2.5v2.5h-2.5zM107.6 808.4h2.5v2.5h-2.5zM109.8 828.3h2.5v2.5h-2.5zM109.8 810.6h2.5v2.5h-2.5zM112 828.3h2.5v2.5h-2.5zM112 823.9h2.5v2.5h-2.5zM112 808.4h2.5v2.5h-2.5zM114.3 823.9h2.5v2.5h-2.5zM114.3 821.7h2.5v2.5h-2.5zM114.3 812.8h2.5v2.5h-2.5zM114.3 806.2h2.5v2.5h-2.5zM114.3 803.9h2.5v2.5h-2.5zM116.5 819.5h2.5v2.5h-2.5zM116.5 817.3h2.5v2.5h-2.5zM116.5 815h2.5v2.5h-2.5zM116.5 803.9h2.5v2.5h-2.5zM118.7 810.6h2.5v2.5h-2.5zM120.9 812.8h2.5v2.5h-2.5zM120.9 797.3h2.5v2.5h-2.5zM123.1 801.7h2.5v2.5h-2.5zM123.1 797.3h2.5v2.5h-2.5zM123.1 795.1h2.5v2.5h-2.5zM125.4 812.8h2.5v2.5h-2.5zM125.4 803.9h2.5v2.5h-2.5zM125.4 801.7h2.5v2.5h-2.5zM127.6 812.8h2.5v2.5h-2.5zM127.6 792.9h2.5v2.5h-2.5zM127.6 790.6h2.5v2.5h-2.5zM129.8 812.8h2.5v2.5h-2.5zM129.8 806.2h2.5v2.5h-2.5zM129.8 786.2h2.5v2.5h-2.5zM132 808.4h2.5v2.5h-2.5zM132 806.2h2.5v2.5h-2.5zM134.2 806.2h2.5v2.5h-2.5zM134.2 803.9h2.5v2.5h-2.5zM136.4 806.2h2.5v2.5h-2.5zM138.7 775.1h2.5v2.5h-2.5zM140.9 806.2h2.5v2.5h-2.5zM140.9 801.7h2.5v2.5h-2.5zM140.9 799.5h2.5v2.5h-2.5zM143.1 801.7h2.5v2.5h-2.5zM145.3 770.7h2.5v2.5h-2.5zM154.2 795.1h2.5v2.5h-2.5zM156.4 792.9h2.5v2.5h-2.5zM158.6 786.2h2.5v2.5h-2.5z" fill="#008f41"/>
<path d="M65.5 850.5h2.5v2.5h-2.5zM65.5 843.9h2.5v2.5h-2.5zM67.7 848.3h2.5v2.5h-2.5zM69.9 861.6h2.5v2.5h-2.5zM72.1 837.2h2.5v2.5h-2.5zM74.3 859.4h2.5v2.5h-2.5zM78.8 837.2h2.5v2.5h-2.5zM83.2 852.7h2.5v2.5h-2.5zM83.2 839.4h2.5v2.5h-2.5zM83.2 835h2.5v2.5h-2.5zM85.4 843.9h2.5v2.5h-2.5zM85.4 837.2h2.5v2.5h-2.5zM87.7 848.3h2.5v2.5h-2.5zM89.9 846.1h2.5v2.5h-2.5zM89.9 832.8h2.5v2.5h-2.5zM89.9 828.3h2.5v2.5h-2.5zM92.1 841.6h2.5v2.5h-2.5zM92.1 832.8h2.5v2.5h-2.5zM94.3 835h2.5v2.5h-2.5zM94.3 830.6h2.5v2.5h-2.5zM96.5 835h2.5v2.5h-2.5zM96.5 832.8h2.5v2.5h-2.5zM96.5 830.6h2.5v2.5h-2.5zM96.5 826.1h2.5v2.5h-2.5zM96.5 821.7h2.5v2.5h-2.5zM98.7 832.8h2.5v2.5h-2.5zM101 812.8h2.5v2.5h-2.5zM105.4 830.6h2.5v2.5h-2.5zM105.4 812.8h2.5v2.5h-2.5zM105.4 810.6h2.5v2.5h-2.5zM109.8 815h2.5v2.5h-2.5zM109.8 812.8h2.5v2.5h-2.5zM112 812.8h2.5v2.5h-2.5zM112 810.6h2.5v2.5h-2.5zM114.3 819.5h2.5v2.5h-2.5zM114.3 817.3h2.5v2.5h-2.5zM114.3 815h2.5v2.5h-2.5zM114.3 810.6h2.5v2.5h-2.5zM114.3 808.4h2.5v2.5h-2.5zM116.5 812.8h2.5v2.5h-2.5zM118.7 815h2.5v2.5h-2.5zM118.7 812.8h2.5v2.5h-2.5zM118.7 808.4h2.5v2.5h-2.5zM118.7 806.2h2.5v2.5h-2.5zM118.7 801.7h2.5v2.5h-2.5zM120.9 815h2.5v2.5h-2.5zM120.9 806.2h2.5v2.5h-2.5zM120.9 801.7h2.5v2.5h-2.5zM120.9 799.5h2.5v2.5h-2.5zM123.1 810.6h2.5v2.5h-2.5zM123.1 806.2h2.5v2.5h-2.5zM123.1 803.9h2.5v2.5h-2.5zM125.4 799.5h2.5v2.5h-2.5zM125.4 795.1h2.5v2.5h-2.5zM127.6 806.2h2.5v2.5h-2.5zM127.6 795.1h2.5v2.5h-2.5zM129.8 803.9h2.5v2.5h-2.5zM129.8 797.3h2.5v2.5h-2.5zM129.8 795.1h2.5v2.5h-2.5zM129.8 792.9h2.5v2.5h-2.5zM132 797.3h2.5v2.5h-2.5zM134.2 801.7h2.5v2.5h-2.5zM134.2 797.3h2.5v2.5h-2.5zM136.4 797.3h2.5v2.5h-2.5zM147.5 770.7h2.5v2.5h-2.5zM149.7 797.3h2.5v2.5h-2.5zM156.4 781.8h2.5v2.5h-2.5zM158.6 788.4h2.5v2.5h-2.5z" fill="#009c2e"/>
<path d="M65.5 848.3h2.5v2.5h-2.5zM67.7 846.1h2.5v2.5h-2.5zM69.9 852.7h2.5v2.5h-2.5zM69.9 850.5h2.5v2.5h-2.5zM69.9 846.1h2.5v2.5h-2.5zM69.9 843.9h2.5v2.5h-2.5zM72.1 852.7h2.5v2.5h-2.5zM72.1 843.9h2.5v2.5h-2.5zM74.3 841.6h2.5v2.5h-2.5zM74.3 839.4h2.5v2.5h-2.5zM76.6 855h2.5v2.5h-2.5zM76.6 843.9h2.5v2.5h-2.5zM78.8 848.3h2.5v2.5h-2.5zM78.8 841.6h2.5v2.5h-2.5zM81 852.7h2.5v2.5h-2.5zM83.2 846.1h2.5v2.5h-2.5zM101 817.3h2.5v2.5h-2.5zM103.2 826.1h2.5v2.5h-2.5zM103.2 819.5h2.5v2.5h-2.5zM103.2 817.3h2.5v2.5h-2.5zM105.4 823.9h2.5v2.5h-2.5zM107.6 821.7h2.5v2.5h-2.5zM107.6 819.5h2.5v2.5h-2.5zM134.2 781.8h2.5v2.5h-2.5zM140.9 795.1h2.5v2.5h-2.5zM145.3 795.1h2.5v2.5h-2.5zM156.4 788.4h2.5v2.5h-2.5zM156.4 786.2h2.5v2.5h-2.5z" fill="#32ae21"/>
<path d="M65.5 846.1h2.5v2.5h-2.5zM67.7 843.9h2.5v2.5h-2.5zM69.9 841.6h2.5v2.5h-2.5zM72.1 857.2h2.5v2.5h-2.5zM72.1 839.4h2.5v2.5h-2.5zM74.3 837.2h2.5v2.5h-2.5zM76.6 837.2h2.5v2.5h-2.5zM78.8 852.7h2.5v2.5h-2.5zM78.8 846.1h2.5v2.5h-2.5zM78.8 835h2.5v2.5h-2.5zM81 850.5h2.5v2.5h-2.5zM81 848.3h2.5v2.5h-2.5zM81 846.1h2.5v2.5h-2.5zM81 841.6h2.5v2.5h-2.5zM81 839.4h2.5v2.5h-2.5zM81 837.2h2.5v2.5h-2.5zM83.2 850.5h2.5v2.5h-2.5zM83.2 841.6h2.5v2.5h-2.5zM85.4 850.5h2.5v2.5h-2.5zM85.4 848.3h2.5v2.5h-2.5zM85.4 846.1h2.5v2.5h-2.5zM87.7 843.9h2.5v2.5h-2.5zM87.7 841.6h2.5v2.5h-2.5zM94.3 823.9h2.5v2.5h-2.5zM96.5 817.3h2.5v2.5h-2.5zM101 826.1h2.5v2.5h-2.5zM101 823.9h2.5v2.5h-2.5zM101 819.5h2.5v2.5h-2.5zM101 815h2.5v2.5h-2.5zM103.2 823.9h2.5v2.5h-2.5zM103.2 815h2.5v2.5h-2.5zM105.4 826.1h2.5v2.5h-2.5zM105.4 817.3h2.5v2.5h-2.5zM107.6 823.9h2.5v2.5h-2.5zM109.8 823.9h2.5v2.5h-2.5zM109.8 821.7h2.5v2.5h-2.5zM109.8 817.3h2.5v2.5h-2.5zM112 819.5h2.5v2.5h-2.5zM127.6 808.4h2.5v2.5h-2.5zM132 790.6h2.5v2.5h-2.5zM132 784h2.5v2.5h-2.5zM134.2 799.5h2.5v2.5h-2.5zM134.2 792.9h2.5v2.5h-2.5zM134.2 786.2h2.5v2.5h-2.5zM138.7 795.1h2.5v2.5h-2.5zM140.9 775.1h2.5v2.5h-2.5zM152 795.1h2.5v2.5h-2.5zM154.2 792.9h2.5v2.5h-2.5zM154.2 777.3h2.5v2.5h-2.5zM156.4 784h2.5v2.5h-2.5z" fill="#1ca824"/>
<path d="M67.7 852.7h2.5v2.5h-2.5zM67.7 841.6h2.5v2.5h-2.5zM69.9 859.4h2.5v2.5h-2.5zM69.9 857.2h2.5v2.5h-2.5zM72.1 859.4h2.5v2.5h-2.5zM74.3 857.2h2.5v2.5h-2.5zM74.3 835h2.5v2.5h-2.5zM76.6 857.2h2.5v2.5h-2.5zM76.6 835h2.5v2.5h-2.5zM78.8 855h2.5v2.5h-2.5zM81 835h2.5v2.5h-2.5zM83.2 848.3h2.5v2.5h-2.5zM83.2 843.9h2.5v2.5h-2.5zM83.2 837.2h2.5v2.5h-2.5zM83.2 832.8h2.5v2.5h-2.5zM85.4 841.6h2.5v2.5h-2.5zM85.4 839.4h2.5v2.5h-2.5zM85.4 835h2.5v2.5h-2.5zM89.9 841.6h2.5v2.5h-2.5zM89.9 837.2h2.5v2.5h-2.5zM92.1 839.4h2.5v2.5h-2.5zM92.1 837.2h2.5v2.5h-2.5zM92.1 835h2.5v2.5h-2.5zM94.3 828.3h2.5v2.5h-2.5zM94.3 826.1h2.5v2.5h-2.5zM96.5 828.3h2.5v2.5h-2.5zM96.5 819.5h2.5v2.5h-2.5zM98.7 835h2.5v2.5h-2.5zM98.7 826.1h2.5v2.5h-2.5zM98.7 823.9h2.5v2.5h-2.5zM98.7 817.3h2.5v2.5h-2.5zM98.7 815h2.5v2.5h-2.5zM101 832.8h2.5v2.5h-2.5zM101 830.6h2.5v2.5h-2.5zM101 828.3h2.5v2.5h-2.5zM103.2 828.3h2.5v2.5h-2.5zM105.4 828.3h2.5v2.5h-2.5zM105.4 815h2.5v2.5h-2.5zM107.6 826.1h2.5v2.5h-2.5zM107.6 817.3h2.5v2.5h-2.5zM107.6 815h2.5v2.5h-2.5zM107.6 812.8h2.5v2.5h-2.5zM109.8 819.5h2.5v2.5h-2.5zM112 821.7h2.5v2.5h-2.5zM112 815h2.5v2.5h-2.5zM116.5 808.4h2.5v2.5h-2.5zM127.6 801.7h2.5v2.5h-2.5zM129.8 801.7h2.5v2.5h-2.5zM129.8 799.5h2.5v2.5h-2.5zM129.8 788.4h2.5v2.5h-2.5zM132 788.4h2.5v2.5h-2.5zM132 786.2h2.5v2.5h-2.5zM134.2 795.1h2.5v2.5h-2.5zM134.2 779.6h2.5v2.5h-2.5zM136.4 777.3h2.5v2.5h-2.5zM138.7 797.3h2.5v2.5h-2.5zM140.9 797.3h2.5v2.5h-2.5zM145.3 772.9h2.5v2.5h-2.5zM149.7 795.1h2.5v2.5h-2.5zM156.4 790.6h2.5v2.5h-2.5z" fill="#06a227"/>
<path d="M67.7 850.5h2.5v2.5h-2.5zM69.9 855h2.5v2.5h-2.5zM72.1 855h2.5v2.5h-2.5zM72.1 850.5h2.5v2.5h-2.5zM72.1 841.6h2.5v2.5h-2.5zM74.3 855h2.5v2.5h-2.5zM74.3 852.7h2.5v2.5h-2.5zM74.3 846.1h2.5v2.5h-2.5zM76.6 852.7h2.5v2.5h-2.5zM76.6 846.1h2.5v2.5h-2.5zM76.6 841.6h2.5v2.5h-2.5zM76.6 839.4h2.5v2.5h-2.5zM78.8 843.9h2.5v2.5h-2.5zM78.8 839.4h2.5v2.5h-2.5zM81 843.9h2.5v2.5h-2.5zM98.7 821.7h2.5v2.5h-2.5zM98.7 819.5h2.5v2.5h-2.5zM101 821.7h2.5v2.5h-2.5zM103.2 821.7h2.5v2.5h-2.5zM105.4 819.5h2.5v2.5h-2.5zM134.2 788.4h2.5v2.5h-2.5zM134.2 784h2.5v2.5h-2.5zM136.4 792.9h2.5v2.5h-2.5zM136.4 790.6h2.5v2.5h-2.5zM136.4 779.6h2.5v2.5h-2.5zM143.1 795.1h2.5v2.5h-2.5zM147.5 795.1h2.5v2.5h-2.5zM147.5 772.9h2.5v2.5h-2.5z" fill="#48b41e"/>
<path d="M69.9 848.3h2.5v2.5h-2.5zM72.1 848.3h2.5v2.5h-2.5zM76.6 850.5h2.5v2.5h-2.5zM76.6 848.3h2.5v2.5h-2.5zM78.8 850.5h2.5v2.5h-2.5zM105.4 821.7h2.5v2.5h-2.5zM134.2 790.6h2.5v2.5h-2.5zM138.7 792.9h2.5v2.5h-2.5zM149.7 772.9h2.5v2.5h-2.5zM152 792.9h2.5v2.5h-2.5z" fill="#60b717"/>
<path d="M72.1 872.7h2.5v2.5h-2.5zM109.8 837.2h2.5v2.5h-2.5zM134.2 817.3h2.5v2.5h-2.5zM140.9 812.8h2.5v2.5h-2.5zM143.1 810.6h2.5v2.5h-2.5zM145.3 810.6h2.5v2.5h-2.5z" fill="#0c5c7a"/>
<path d="M72.1 846.1h2.5v2.5h-2.5zM136.4 788.4h2.5v2.5h-2.5zM136.4 786.2h2.5v2.5h-2.5zM138.7 790.6h2.5v2.5h-2.5zM147.5 792.9h2.5v2.5h-2.5zM154.2 786.2h2.5v2.5h-2.5z" fill="#91bd0b"/>
<path d="M74.3 850.5h2.5v2.5h-2.5zM74.3 848.3h2.5v2.5h-2.5zM74.3 843.9h2.5v2.5h-2.5zM140.9 792.9h2.5v2.5h-2.5zM149.7 792.9h2.5v2.5h-2.5zM154.2 790.6h2.5v2.5h-2.5zM154.2 788.4h2.5v2.5h-2.5z" fill="#79ba11"/>
<path d="M101 846.1h2.5v2.5h-2.5zM165.3 790.6h2.5v2.5h-2.5z" fill="#154e83"/>
<path d="M101 843.9h2.5v2.5h-2.5zM112 835h2.5v2.5h-2.5zM114.3 832.8h2.5v2.5h-2.5zM116.5 830.6h2.5v2.5h-2.5zM123.1 821.7h2.5v2.5h-2.5zM136.4 815h2.5v2.5h-2.5zM149.7 766.2h2.5v2.5h-2.5zM154.2 799.5h2.5v2.5h-2.5zM156.4 799.5h2.5v2.5h-2.5zM163.1 792.9h2.5v2.5h-2.5zM163.1 788.4h2.5v2.5h-2.5z" fill="#076375"/>
<path d="M136.4 784h2.5v2.5h-2.5zM136.4 781.8h2.5v2.5h-2.5zM143.1 792.9h2.5v2.5h-2.5zM145.3 792.9h2.5v2.5h-2.5zM152 775.1h2.5v2.5h-2.5z" fill="#bbc503"/>
<path d="M138.7 788.4h2.5v2.5h-2.5zM140.9 777.3h2.5v2.5h-2.5zM149.7 775.1h2.5v2.5h-2.5z" fill="#d9c87c"/>
<path d="M138.7 786.2h2.5v2.5h-2.5zM152 786.2h2.5v2.5h-2.5z" fill="#ebc8a0"/>
<path d="M138.7 784h2.5v2.5h-2.5zM138.7 781.8h2.5v2.5h-2.5zM143.1 790.6h2.5v2.5h-2.5zM143.1 777.3h2.5v2.5h-2.5zM145.3 790.6h2.5v2.5h-2.5zM149.7 788.4h2.5v2.5h-2.5zM152 779.6h2.5v2.5h-2.5z" fill="#f1cdb3"/>
<path d="M138.7 779.6h2.5v2.5h-2.5zM149.7 790.6h2.5v2.5h-2.5zM152 777.3h2.5v2.5h-2.5zM154.2 784h2.5v2.5h-2.5zM154.2 779.6h2.5v2.5h-2.5z" fill="#cdc805"/>
<path d="M138.7 777.3h2.5v2.5h-2.5zM152 790.6h2.5v2.5h-2.5z" fill="#a6c107"/>
<path d="M140.9 790.6h2.5v2.5h-2.5zM145.3 775.1h2.5v2.5h-2.5zM152 788.4h2.5v2.5h-2.5z" fill="#d3c845"/>
<path d="M140.9 788.4h2.5v2.5h-2.5zM152 781.8h2.5v2.5h-2.5z" fill="#f6e1d6"/>
<path d="M140.9 786.2h2.5v2.5h-2.5zM145.3 777.3h2.5v2.5h-2.5zM149.7 779.6h2.5v2.5h-2.5z" fill="#f9f2ee"/>
<path d="M140.9 784h2.5v2.5h-2.5zM140.9 781.8h2.5v2.5h-2.5zM143.1 788.4h2.5v2.5h-2.5zM143.1 786.2h2.5v2.5h-2.5zM143.1 784h2.5v2.5h-2.5zM143.1 781.8h2.5v2.5h-2.5zM143.1 779.6h2.5v2.5h-2.5zM145.3 788.4h2.5v2.5h-2.5zM145.3 786.2h2.5v2.5h-2.5zM145.3 784h2.5v2.5h-2.5zM145.3 781.8h2.5v2.5h-2.5zM145.3 779.6h2.5v2.5h-2.5zM147.5 788.4h2.5v2.5h-2.5zM147.5 786.2h2.5v2.5h-2.5zM147.5 784h2.5v2.5h-2.5zM147.5 781.8h2.5v2.5h-2.5zM147.5 779.6h2.5v2.5h-2.5zM149.7 786.2h2.5v2.5h-2.5zM149.7 784h2.5v2.5h-2.5zM149.7 781.8h2.5v2.5h-2.5zM152 784h2.5v2.5h-2.5z" fill="#fafafa"/>
<path d="M140.9 779.6h2.5v2.5h-2.5zM149.7 777.3h2.5v2.5h-2.5z" fill="#f3d7c6"/>
<path d="M143.1 775.1h2.5v2.5h-2.5zM147.5 790.6h2.5v2.5h-2.5zM147.5 775.1h2.5v2.5h-2.5zM154.2 781.8h2.5v2.5h-2.5z" fill="#e2c88e"/>
<path d="M147.5 810.6h2.5v2.5h-2.5z" fill="#11557f"/>
<path d="M147.5 777.3h2.5v2.5h-2.5z" fill="#f7e9e2"/>
<path d="M149.7 808.4h2.5v2.5h-2.5z" fill="#194787"/>
<path d="M107.6 788.4h2.5v2.5h-2.5zM109.8 788.4h2.5v2.5h-2.5zM112 786.2h2.5v2.5h-2.5zM114.3 786.2h2.5v2.5h-2.5zM109.8 786.2h2.5v2.5h-2.5z" fill="#281447"/>
</g>
<clipPath id="wcearth2"><rect x="31.1" y="740.3" width="158" height="157.9"/></clipPath>
<g clip-path="url(#wcearth2)">
<polygon points="121.8,816.8 191.6,727.7 191.6,789.8" fill="rgba(232,130,232,0.36)" stroke="none" stroke-width="1" />
</g>
<path d="M121.8 816.8L191.6 727.7V789.8Z" fill="none" stroke="#ff00ff" stroke-opacity="0.45" stroke-width="0.6"/>
<line x1="31.1" y1="874.6" x2="191.6" y2="773.2" stroke="#000" stroke-width="1.5" />
<line x1="121.8" y1="816.8" x2="191.6" y2="763.9" stroke="#ff00ff" stroke-width="1.6" />
<path d="M117.2 816.8H126.4M121.8 812.2V821.4" stroke="#000" stroke-width="2.8"/>
<rect x="149.9" y="862.4" width="38.2" height="32.7" fill="rgba(255,255,255,0.82)" stroke="none" stroke-width="1" rx="1.5"/>
<path d="M155.7 867.1H162.9M159.3 863.5V870.7" stroke="#000" stroke-width="2.6"/>
<line x1="151.8" y1="877.8" x2="166.8" y2="877.8" stroke="#333" stroke-width="1.8" />
<line x1="151.8" y1="888" x2="166.8" y2="888" stroke="#ff00ff" stroke-width="1.5" />
<text transform="translate(171.8,869.9) scale(1,1)" font-family="'Liberation Sans', sans-serif" font-size="7.1" text-anchor="start" fill="#000"  stroke="#000" stroke-width="0.18">GC</text>
<text transform="translate(171.8,880.2) scale(1,1)" font-family="'Liberation Sans', sans-serif" font-size="7.1" text-anchor="start" fill="#000"  stroke="#000" stroke-width="0.18">PA</text>
<text transform="translate(171.8,890.4) scale(1,1)" font-family="'Liberation Sans', sans-serif" font-size="7.1" text-anchor="start" fill="#000"  stroke="#000" stroke-width="0.18">QA</text>
<rect x="31.1" y="740.3" width="157.9" height="157.9" fill="none" stroke="#444" stroke-width="0.9"/>
<path d="M31.1 898.2V894.6M31.1 740.3V743.9M75.5 898.2V894.6M75.5 740.3V743.9M119.8 898.2V894.6M119.8 740.3V743.9M164.2 898.2V894.6M164.2 740.3V743.9M31.1 898.2H34.7M189 898.2H185.4M31.1 876H34.7M189 876H185.4M31.1 853.8H34.7M189 853.8H185.4M31.1 831.7H34.7M189 831.7H185.4M31.1 809.5H34.7M189 809.5H185.4M31.1 787.3H34.7M189 787.3H185.4M31.1 765.1H34.7M189 765.1H185.4M31.1 743H34.7M189 743H185.4" stroke="#000" stroke-width="1.2" fill="none" />
<text transform="translate(31.1,906.8) scale(1.1,1)" font-family="'Liberation Sans', sans-serif" font-size="8.7" text-anchor="middle" fill="#000"  stroke="#000" stroke-width="0.18">0</text>
<text transform="translate(75.5,906.8) scale(1.1,1)" font-family="'Liberation Sans', sans-serif" font-size="8.7" text-anchor="middle" fill="#000"  stroke="#000" stroke-width="0.18">20</text>
<text transform="translate(119.8,906.8) scale(1.1,1)" font-family="'Liberation Sans', sans-serif" font-size="8.7" text-anchor="middle" fill="#000"  stroke="#000" stroke-width="0.18">40</text>
<text transform="translate(164.2,906.8) scale(1.1,1)" font-family="'Liberation Sans', sans-serif" font-size="8.7" text-anchor="middle" fill="#000"  stroke="#000" stroke-width="0.18">60</text>
<text transform="translate(28.9,901.3) scale(1.1,1)" font-family="'Liberation Sans', sans-serif" font-size="8.7" text-anchor="end" fill="#000"  stroke="#000" stroke-width="0.18">0</text>
<text transform="translate(28.9,879.1) scale(1.1,1)" font-family="'Liberation Sans', sans-serif" font-size="8.7" text-anchor="end" fill="#000"  stroke="#000" stroke-width="0.18">10</text>
<text transform="translate(28.9,856.9) scale(1.1,1)" font-family="'Liberation Sans', sans-serif" font-size="8.7" text-anchor="end" fill="#000"  stroke="#000" stroke-width="0.18">20</text>
<text transform="translate(28.9,834.8) scale(1.1,1)" font-family="'Liberation Sans', sans-serif" font-size="8.7" text-anchor="end" fill="#000"  stroke="#000" stroke-width="0.18">30</text>
<text transform="translate(28.9,812.6) scale(1.1,1)" font-family="'Liberation Sans', sans-serif" font-size="8.7" text-anchor="end" fill="#000"  stroke="#000" stroke-width="0.18">40</text>
<text transform="translate(28.9,790.4) scale(1.1,1)" font-family="'Liberation Sans', sans-serif" font-size="8.7" text-anchor="end" fill="#000"  stroke="#000" stroke-width="0.18">50</text>
<text transform="translate(28.9,768.2) scale(1.1,1)" font-family="'Liberation Sans', sans-serif" font-size="8.7" text-anchor="end" fill="#000"  stroke="#000" stroke-width="0.18">60</text>
<text transform="translate(28.9,746.1) scale(1.1,1)" font-family="'Liberation Sans', sans-serif" font-size="8.7" text-anchor="end" fill="#000"  stroke="#000" stroke-width="0.18">70</text>
<text transform="translate(110,916.8) scale(1,1)" font-family="'Liberation Sans', sans-serif" font-size="9.2" text-anchor="middle" fill="#000"  stroke="#000" stroke-width="0.18">Declination (spaxel)</text>
<text transform="translate(14.5,818.3) rotate(-90) scale(1,1)" font-family="'Liberation Sans', sans-serif" font-size="9.2" text-anchor="middle" fill="#000"  stroke="#000" stroke-width="0.18">Right Ascension (spaxel)</text>
<text transform="translate(110,737.1) scale(1,1)" font-family="'Liberation Sans', sans-serif" font-size="9.2" text-anchor="middle" fill="#000"  stroke="#000" stroke-width="0.18">IZI Ioniztion Parameter</text>
<text transform="translate(38.5,756.8) scale(1.1,1)" font-family="'Liberation Sans', sans-serif" font-size="8.7" text-anchor="start" fill="#000"  stroke="#000" stroke-width="0.18">1-180522</text>
<defs><linearGradient id="earth2" x1="0" y1="1" x2="0" y2="0"><stop offset="0.000" stop-color="#140a14"/><stop offset="0.073" stop-color="#230f23"/><stop offset="0.145" stop-color="#281446"/><stop offset="0.193" stop-color="#281478"/><stop offset="0.259" stop-color="#1e3c8c"/><stop offset="0.319" stop-color="#145082"/><stop offset="0.408" stop-color="#006e6e"/><stop offset="0.499" stop-color="#008750"/><stop offset="0.530" stop-color="#008c46"/><stop offset="0.598" stop-color="#00a028"/><stop offset="0.665" stop-color="#46b41e"/><stop offset="0.733" stop-color="#96be0a"/><stop offset="0.790" stop-color="#cdc800"/><stop offset="0.829" stop-color="#d7c878"/><stop offset="0.886" stop-color="#f0c8aa"/><stop offset="0.930" stop-color="#f5ded2"/><stop offset="1.000" stop-color="#fafafa"/></linearGradient></defs>
<rect x="199.7" y="740.3" width="7.9" height="157.9" fill="url(#earth2)" stroke="none" stroke-width="1" />
<text transform="translate(210,743.4)" font-family="'Liberation Sans', sans-serif" font-size="8.7" text-anchor="start" fill="#000"  stroke="#000" stroke-width="0.18">-3.00</text>
<text transform="translate(210,767.1)" font-family="'Liberation Sans', sans-serif" font-size="8.7" text-anchor="start" fill="#000"  stroke="#000" stroke-width="0.18">-3.15</text>
<text transform="translate(210,790.8)" font-family="'Liberation Sans', sans-serif" font-size="8.7" text-anchor="start" fill="#000"  stroke="#000" stroke-width="0.18">-3.30</text>
<text transform="translate(210,814.5)" font-family="'Liberation Sans', sans-serif" font-size="8.7" text-anchor="start" fill="#000"  stroke="#000" stroke-width="0.18">-3.45</text>
<text transform="translate(210,838.1)" font-family="'Liberation Sans', sans-serif" font-size="8.7" text-anchor="start" fill="#000"  stroke="#000" stroke-width="0.18">-3.60</text>
<text transform="translate(210,861.8)" font-family="'Liberation Sans', sans-serif" font-size="8.7" text-anchor="start" fill="#000"  stroke="#000" stroke-width="0.18">-3.75</text>
<text transform="translate(210,885.5)" font-family="'Liberation Sans', sans-serif" font-size="8.7" text-anchor="start" fill="#000"  stroke="#000" stroke-width="0.18">-3.90</text>
<text transform="translate(237.2,819) rotate(-90) scale(1,1)" font-family="'Liberation Sans', sans-serif" font-size="9.2" text-anchor="middle" fill="#000"  stroke="#000" stroke-width="0.18">log <tspan font-style="italic">q</tspan></text>
<clipPath id="c14"><rect x="274.6" y="740.5" width="215" height="157.4"/></clipPath>
<g clip-path="url(#c14)">
<polygon points="274.6,830.2 282,828.2 289.4,826.3 296.8,824.3 304.3,822.3 311.7,820.3 319.1,818.3 326.5,816.4 333.9,814.4 341.3,812.4 348.7,810.4 356.2,808.4 363.6,806.4 371,804.5 378.4,802.5 385.8,800.5 393.2,798.5 400.6,796.5 408,794.6 415.5,792.6 422.9,790.6 430.3,788.6 437.7,786.6 445.1,784.7 452.5,782.7 459.9,780.7 467.4,778.7 474.8,776.7 482.2,774.7 489.6,772.8 489.6,779.1 482.2,780.9 474.8,782.7 467.4,784.5 459.9,786.3 452.5,788.2 445.1,790 437.7,791.8 430.3,793.6 422.9,795.4 415.5,797.2 408,799.1 400.6,800.9 393.2,802.7 385.8,804.5 378.4,806.3 371,808.2 363.6,810 356.2,811.8 348.7,813.6 341.3,815.4 333.9,817.2 326.5,819.1 319.1,820.9 311.7,822.7 304.3,824.5 296.8,826.3 289.4,828.2 282,830 274.6,831.8" fill="#f8c8f8" stroke="none" stroke-width="1" />
<path d="M398.1 825.4V812M395.9 825.4H400.3M395.9 812H400.3M282.8 821.8V807.4M280.6 821.8H285M280.6 807.4H285M337.3 811.1V798.4M335.1 811.1H339.5M335.1 798.4H339.5M392.3 829.8V819.2M390.1 829.8H394.5M390.1 819.2H394.5M326.5 817.7V806.6M324.3 817.7H328.7M324.3 806.6H328.7M448.1 830.5V817.5M445.9 830.5H450.3M445.9 817.5H450.3M303.4 824.3V814.7M301.2 824.3H305.6M301.2 814.7H305.6M345.5 831.3V820.3M343.3 831.3H347.7M343.3 820.3H347.7M382.4 827.8V817.9M380.2 827.8H384.6M380.2 817.9H384.6M363.7 826.4V815.3M361.5 826.4H365.9M361.5 815.3H365.9M306.5 840.1V820.9M304.3 840.1H308.7M304.3 820.9H308.7M314.5 806V796.4M312.3 806H316.7M312.3 796.4H316.7M392.8 823.6V807.6M390.6 823.6H395M390.6 807.6H395M320.3 822.9V813.1M318.1 822.9H322.5M318.1 813.1H322.5M349.6 823.1V812.9M347.4 823.1H351.8M347.4 812.9H351.8M283.3 825.4V808.4M281.1 825.4H285.5M281.1 808.4H285.5M333.7 836.6V824.5M331.5 836.6H335.9M331.5 824.5H335.9M328 834V817.7M325.8 834H330.2M325.8 817.7H330.2M356 818V806.2M353.8 818H358.2M353.8 806.2H358.2M285.6 822.4V809.6M283.4 822.4H287.8M283.4 809.6H287.8M412.5 819.9V806.4M410.3 819.9H414.7M410.3 806.4H414.7M407.8 843.4V832.9M405.6 843.4H410M405.6 832.9H410M377.8 809.4V799.5M375.6 809.4H380M375.6 799.5H380M405.1 827V817.4M402.9 827H407.3M402.9 817.4H407.3M381 830.6V820.5M378.8 830.6H383.2M378.8 820.5H383.2M391.4 825.5V814.7M389.2 825.5H393.6M389.2 814.7H393.6M419.9 823.6V811M417.7 823.6H422.1M417.7 811H422.1M433.5 822.7V812.2M431.3 822.7H435.7M431.3 812.2H435.7M338.6 821.5V811.2M336.4 821.5H340.8M336.4 811.2H340.8M330.9 839.4V825.2M328.7 839.4H333.1M328.7 825.2H333.1M384.9 824.3V813.6M382.7 824.3H387.1M382.7 813.6H387.1M342.6 830.9V818.2M340.4 830.9H344.8M340.4 818.2H344.8M432.5 834.3V823.9M430.3 834.3H434.7M430.3 823.9H434.7M404.6 823.6V813.6M402.4 823.6H406.8M402.4 813.6H406.8M351.9 830.7V816.9M349.7 830.7H354.1M349.7 816.9H354.1M434.9 830.9V819.3M432.7 830.9H437.1M432.7 819.3H437.1M278.1 824.7V813.1M275.9 824.7H280.3M275.9 813.1H280.3M358.2 813.1V803.4M356 813.1H360.4M356 803.4H360.4M305.5 820V809.9M303.3 820H307.7M303.3 809.9H307.7M428.6 826.3V816.7M426.4 826.3H430.8M426.4 816.7H430.8M297.3 817.7V803M295.1 817.7H299.5M295.1 803H299.5M410.4 825.5V815M408.2 825.5H412.6M408.2 815H412.6M429.5 823.1V810.7M427.3 823.1H431.7M427.3 810.7H431.7M306.5 830.9V817.7M304.3 830.9H308.7M304.3 817.7H308.7M324.2 833.3V817.5M322 833.3H326.4M322 817.5H326.4M443 822.9V812M440.8 822.9H445.2M440.8 812H445.2M393.3 823.7V812.2M391.1 823.7H395.5M391.1 812.2H395.5M332.5 835.6V825.9M330.3 835.6H334.7M330.3 825.9H334.7M350.4 824V812.7M348.2 824H352.6M348.2 812.7H352.6M304.6 811V800.7M302.4 811H306.8M302.4 800.7H306.8M310.5 823.2V811.9M308.3 823.2H312.7M308.3 811.9H312.7M310.6 832V816M308.4 832H312.8M308.4 816H312.8M430.4 827.9V812.1M428.2 827.9H432.6M428.2 812.1H432.6M400.5 829.4V818.4M398.3 829.4H402.7M398.3 818.4H402.7M293.3 825V815.5M291.1 825H295.5M291.1 815.5H295.5M334.3 814.7V803.7M332.1 814.7H336.5M332.1 803.7H336.5M380.7 830V820.3M378.5 830H382.9M378.5 820.3H382.9M276.8 833.2V822.8M274.6 833.2H279M274.6 822.8H279M314.4 818.3V807.2M312.2 818.3H316.6M312.2 807.2H316.6M402.2 816.7V803.5M400 816.7H404.4M400 803.5H404.4M324.8 826.2V811.6M322.6 826.2H327M322.6 811.6H327M343.5 812.6V801.1M341.3 812.6H345.7M341.3 801.1H345.7M282.2 831.5V818.7M280 831.5H284.4M280 818.7H284.4M288.2 831.8V820.6M286 831.8H290.4M286 820.6H290.4M320.9 819.2V806.8M318.7 819.2H323.1M318.7 806.8H323.1M279.8 828.7V817.9M277.6 828.7H282M277.6 817.9H282M306.5 827.3V813.4M304.3 827.3H308.7M304.3 813.4H308.7M359.3 823.9V813M357.1 823.9H361.5M357.1 813H361.5M421.5 827.6V817.9M419.3 827.6H423.7M419.3 817.9H423.7M393.8 814.9V802.3M391.6 814.9H396M391.6 802.3H396M439.8 833.7V822.5M437.6 833.7H442M437.6 822.5H442M391 833.3V818M388.8 833.3H393.2M388.8 818H393.2M372.4 835.3V824.7M370.2 835.3H374.6M370.2 824.7H374.6M332.3 827.3V814.9M330.1 827.3H334.5M330.1 814.9H334.5M295.1 823.8V806.9M292.9 823.8H297.3M292.9 806.9H297.3M397.8 826.9V816.2M395.6 826.9H400M395.6 816.2H400M366 817.2V805.1M363.8 817.2H368.2M363.8 805.1H368.2M362.9 815.6V801.3M360.7 815.6H365.1M360.7 801.3H365.1M384.4 825.5V813M382.2 825.5H386.6M382.2 813H386.6M368.8 810.8V799.9M366.6 810.8H371M366.6 799.9H371M436.8 817.3V805.6M434.6 817.3H439M434.6 805.6H439M298.1 813.5V801.9M295.9 813.5H300.3M295.9 801.9H300.3M312.8 822.1V811.6M310.6 822.1H315M310.6 811.6H315M437.5 830V820M435.3 830H439.7M435.3 820H439.7M275.7 814.6V804.6M273.5 814.6H277.9M273.5 804.6H277.9M339 821.3V811.3M336.8 821.3H341.2M336.8 811.3H341.2M275.8 823.6V812.8M273.6 823.6H278M273.6 812.8H278M400.9 822.1V812.7M398.7 822.1H403.1M398.7 812.7H403.1M372.2 825.4V811.6M370 825.4H374.4M370 811.6H374.4M299.3 819.2V808.7M297.1 819.2H301.5M297.1 808.7H301.5M393.6 817.9V806.9M391.4 817.9H395.8M391.4 806.9H395.8M399.2 828.9V818.2M397 828.9H401.4M397 818.2H401.4M309 823V810.9M306.8 823H311.2M306.8 810.9H311.2M347.8 829.2V816.9M345.6 829.2H350M345.6 816.9H350M385.2 831.6V822M383 831.6H387.4M383 822H387.4M371.3 816.4V803.4M369.1 816.4H373.5M369.1 803.4H373.5M402.2 835.8V823.9M400 835.8H404.4M400 823.9H404.4M312.5 824.2V811.6M310.3 824.2H314.7M310.3 811.6H314.7M355.6 830.4V818.5M353.4 830.4H357.8M353.4 818.5H357.8M437.2 812.7V801.9M435 812.7H439.4M435 801.9H439.4M420.6 824.6V814.4M418.4 824.6H422.8M418.4 814.4H422.8M300.3 826.8V816.2M298.1 826.8H302.5M298.1 816.2H302.5M435.2 831.4V821.7M433 831.4H437.4M433 821.7H437.4M403.8 825.2V809.3M401.6 825.2H406M401.6 809.3H406M447.5 838.2V821.9M445.3 838.2H449.7M445.3 821.9H449.7M292.9 823.9V811.6M290.7 823.9H295.1M290.7 811.6H295.1M283.5 825.3V814.3M281.3 825.3H285.7M281.3 814.3H285.7M333.1 820.6V809.5M330.9 820.6H335.3M330.9 809.5H335.3M331.7 807.1V795.8M329.5 807.1H333.9M329.5 795.8H333.9M381.4 826.7V816.8M379.2 826.7H383.6M379.2 816.8H383.6M385.1 815.7V803.1M382.9 815.7H387.3M382.9 803.1H387.3M427.5 829.2V817.5M425.3 829.2H429.7M425.3 817.5H429.7M320.9 826.2V810.2M318.7 826.2H323.1M318.7 810.2H323.1M356.9 818V803.8M354.7 818H359.1M354.7 803.8H359.1M438.8 819.5V809M436.6 819.5H441M436.6 809H441M280.1 821.1V810.8M277.9 821.1H282.3M277.9 810.8H282.3M454.2 833.4V822.1M452 833.4H456.4M452 822.1H456.4M314.6 831.2V819.1M312.4 831.2H316.8M312.4 819.1H316.8M389.3 825.3V814.2M387.1 825.3H391.5M387.1 814.2H391.5M302.3 823.6V814.1M300.1 823.6H304.5M300.1 814.1H304.5M347.4 818.1V806.2M345.2 818.1H349.6M345.2 806.2H349.6M297.2 828.6V818.3M295 828.6H299.4M295 818.3H299.4M353.6 831.4V820.6M351.4 831.4H355.8M351.4 820.6H355.8M343.1 822.1V810.6M340.9 822.1H345.3M340.9 810.6H345.3M449.6 829V814.4M447.4 829H451.8M447.4 814.4H451.8M409 823.9V814.1M406.8 823.9H411.2M406.8 814.1H411.2M282.4 820.7V807M280.2 820.7H284.6M280.2 807H284.6M277.2 836.5V821M275 836.5H279.4M275 821H279.4M383.7 820.7V809.5M381.5 820.7H385.9M381.5 809.5H385.9M425.6 824.7V813.9M423.4 824.7H427.8M423.4 813.9H427.8M454.2 827V814.5M452 827H456.4M452 814.5H456.4M411.6 810V800.5M409.4 810H413.8M409.4 800.5H413.8M355.2 827.1V814.4M353 827.1H357.4M353 814.4H357.4M384.8 840.1V825.6M382.6 840.1H387M382.6 825.6H387M345.2 813.6V800.7M343 813.6H347.4M343 800.7H347.4M290.4 836.9V820.9M288.2 836.9H292.6M288.2 820.9H292.6M441.4 825.2V814.9M439.2 825.2H443.6M439.2 814.9H443.6M347.6 822.9V812.5M345.4 822.9H349.8M345.4 812.5H349.8M425.8 828.5V818.3M423.6 828.5H428M423.6 818.3H428M291.2 825.5V814.7M289 825.5H293.4M289 814.7H293.4M316.9 835.4V824.8M314.7 835.4H319.1M314.7 824.8H319.1M331.2 825V813.8M329 825H333.4M329 813.8H333.4M351.4 830.2V815.6M349.2 830.2H353.6M349.2 815.6H353.6M369.7 824.4V813.6M367.5 824.4H371.9M367.5 813.6H371.9M370.4 824.6V813.5M368.2 824.6H372.6M368.2 813.5H372.6M339.7 819.1V808.1M337.5 819.1H341.9M337.5 808.1H341.9M448.5 833.5V823.3M446.3 833.5H450.7M446.3 823.3H450.7M434.1 824.7V812.7M431.9 824.7H436.3M431.9 812.7H436.3M399.5 825.6V814.2M397.3 825.6H401.7M397.3 814.2H401.7M397.8 828.7V817.5M395.6 828.7H400M395.6 817.5H400M330.6 826.1V813.4M328.4 826.1H332.8M328.4 813.4H332.8M387.6 829.3V816.9M385.4 829.3H389.8M385.4 816.9H389.8M284.8 819.5V806.5M282.6 819.5H287M282.6 806.5H287M327.1 831.3V818.5M324.9 831.3H329.3M324.9 818.5H329.3M456.4 821.4V809.3M454.2 821.4H458.6M454.2 809.3H458.6M387.8 816.3V806.7M385.6 816.3H390M385.6 806.7H390M294.9 824.9V813.5M292.7 824.9H297.1M292.7 813.5H297.1M370.8 819.5V808.6M368.6 819.5H373M368.6 808.6H373M395 834V818.3M392.8 834H397.2M392.8 818.3H397.2M456.9 817.2V805.1M454.7 817.2H459.1M454.7 805.1H459.1M441.1 819.7V801.7M438.9 819.7H443.3M438.9 801.7H443.3M366.8 824.9V810.1M364.6 824.9H369M364.6 810.1H369M363.8 830.4V820.2M361.6 830.4H366M361.6 820.2H366M438.8 827.5V817.8M436.6 827.5H441M436.6 817.8H441M448.2 838.7V823.1M446 838.7H450.4M446 823.1H450.4M366.8 820.6V808.4M364.6 820.6H369M364.6 808.4H369M440.6 833V817.8M438.4 833H442.8M438.4 817.8H442.8M393.9 828.9V817.3M391.7 828.9H396.1M391.7 817.3H396.1M452.7 824.8V810.3M450.5 824.8H454.9M450.5 810.3H454.9M450.7 824.4V814.5M448.5 824.4H452.9M448.5 814.5H452.9M367.3 812.8V802.3M365.1 812.8H369.5M365.1 802.3H369.5M301.4 825.1V814.5M299.2 825.1H303.6M299.2 814.5H303.6M351.3 822.4V812.8M349.1 822.4H353.5M349.1 812.8H353.5M281.3 820.3V810.6M279.1 820.3H283.5M279.1 810.6H283.5M281.5 827.6V816.6M279.3 827.6H283.7M279.3 816.6H283.7M372.3 826.5V814.7M370.1 826.5H374.5M370.1 814.7H374.5M433.6 827.7V813M431.4 827.7H435.8M431.4 813H435.8M347.8 826.9V811.9M345.6 826.9H350M345.6 811.9H350M286.1 806.9V796.3M283.9 806.9H288.3M283.9 796.3H288.3M424.4 833.9V824M422.2 833.9H426.6M422.2 824H426.6M358.7 832.1V819.2M356.5 832.1H360.9M356.5 819.2H360.9M398.7 827.7V811.5M396.5 827.7H400.9M396.5 811.5H400.9M406.2 828V815.9M404 828H408.4M404 815.9H408.4M383.8 821.6V810.2M381.6 821.6H386M381.6 810.2H386M382 812.4V799.9M379.8 812.4H384.2M379.8 799.9H384.2M420.1 818.5V807.1M417.9 818.5H422.3M417.9 807.1H422.3M382.7 830.3V819.4M380.5 830.3H384.9M380.5 819.4H384.9M347.9 821V810.5M345.7 821H350.1M345.7 810.5H350.1M427.9 825.5V812.7M425.7 825.5H430.1M425.7 812.7H430.1M311.5 816.8V807.2M309.3 816.8H313.7M309.3 807.2H313.7M317.5 809.2V799.2M315.3 809.2H319.7M315.3 799.2H319.7M299.5 821.5V811M297.3 821.5H301.7M297.3 811H301.7M425.8 816.7V805.2M423.6 816.7H428M423.6 805.2H428M455.3 817.4V807.1M453.1 817.4H457.5M453.1 807.1H457.5M294.5 818.1V807.6M292.3 818.1H296.7M292.3 807.6H296.7M431.8 824.8V815.4M429.6 824.8H434M429.6 815.4H434M295.7 820.7V808.6M293.5 820.7H297.9M293.5 808.6H297.9M390.7 823.6V811.8M388.5 823.6H392.9M388.5 811.8H392.9M363.3 825.7V814.8M361.1 825.7H365.5M361.1 814.8H365.5M421.1 821.2V810.6M418.9 821.2H423.3M418.9 810.6H423.3M384.9 823V813.1M382.7 823H387.1M382.7 813.1H387.1M429.4 803.9V791.7M427.2 803.9H431.6M427.2 791.7H431.6M345.8 832.9V820.4M343.6 832.9H348M343.6 820.4H348M444 832.7V818.3M441.8 832.7H446.2M441.8 818.3H446.2M301 822.1V809.6M298.8 822.1H303.2M298.8 809.6H303.2M383.2 818.1V808.1M381 818.1H385.4M381 808.1H385.4M383.2 835.2V822.2M381 835.2H385.4M381 822.2H385.4M413.6 832.3V820.5M411.4 832.3H415.8M411.4 820.5H415.8M348.5 829.6V816.1M346.3 829.6H350.7M346.3 816.1H350.7M373.2 822.6V812.4M371 822.6H375.4M371 812.4H375.4M355.9 819.6V809M353.7 819.6H358.1M353.7 809H358.1M317.5 828.9V815.5M315.3 828.9H319.7M315.3 815.5H319.7M446.8 819.3V809.6M444.6 819.3H449M444.6 809.6H449M277.2 818.9V808.1M275 818.9H279.4M275 808.1H279.4M405.3 819.3V809.5M403.1 819.3H407.5M403.1 809.5H407.5M452.2 832.5V821.6M450 832.5H454.4M450 821.6H454.4M339.4 828.3V817.3M337.2 828.3H341.6M337.2 817.3H341.6M429.2 823.8V812.3M427 823.8H431.4M427 812.3H431.4M451.7 827.3V817.4M449.5 827.3H453.9M449.5 817.4H453.9M307.1 824.7V813.8M304.9 824.7H309.3M304.9 813.8H309.3M323.3 816.7V800.9M321.1 816.7H325.5M321.1 800.9H325.5M331.3 831.4V819.8M329.1 831.4H333.5M329.1 819.8H333.5M318.3 818.8V809M316.1 818.8H320.5M316.1 809H320.5M309.3 816.3V806M307.1 816.3H311.5M307.1 806H311.5M383.8 833V822.7M381.6 833H386M381.6 822.7H386M440.3 840.6V824.6M438.1 840.6H442.5M438.1 824.6H442.5M369.4 829.7V815.3M367.2 829.7H371.6M367.2 815.3H371.6M312.6 824.1V814.1M310.4 824.1H314.8M310.4 814.1H314.8M333.4 821.8V811.2M331.2 821.8H335.6M331.2 811.2H335.6M413 824.2V813M410.8 824.2H415.2M410.8 813H415.2M377.9 822.5V808.1M375.7 822.5H380.1M375.7 808.1H380.1M313 821.6V808.8M310.8 821.6H315.2M310.8 808.8H315.2M423.2 834.5V818M421 834.5H425.4M421 818H425.4M335.2 825.9V815.1M333 825.9H337.4M333 815.1H337.4M410 830V815.7M407.8 830H412.2M407.8 815.7H412.2M297.5 832.7V820.3M295.3 832.7H299.7M295.3 820.3H299.7M432.7 817.4V806M430.5 817.4H434.9M430.5 806H434.9M381.1 826.4V813.8M378.9 826.4H383.3M378.9 813.8H383.3M442.8 828.7V816.7M440.6 828.7H445M440.6 816.7H445M380.6 831.9V815.3M378.4 831.9H382.8M378.4 815.3H382.8M343.1 832.9V820.6M340.9 832.9H345.3M340.9 820.6H345.3M380.5 831.1V820.4M378.3 831.1H382.7M378.3 820.4H382.7M351.4 827.1V815.7M349.2 827.1H353.6M349.2 815.7H353.6M422.8 819.4V808.3M420.6 819.4H425M420.6 808.3H425M439.8 814V803.1M437.6 814H442M437.6 803.1H442M358 833.5V820.9M355.8 833.5H360.2M355.8 820.9H360.2M298.5 825.3V811.6M296.3 825.3H300.7M296.3 811.6H300.7M421 827.6V814.9M418.8 827.6H423.2M418.8 814.9H423.2M352.1 832.9V822.9M349.9 832.9H354.3M349.9 822.9H354.3M318.5 826.8V811M316.3 826.8H320.7M316.3 811H320.7M405.5 825.8V815.6M403.3 825.8H407.7M403.3 815.6H407.7M283.3 822.7V812.2M281.1 822.7H285.5M281.1 812.2H285.5M303.3 821.2V809.3M301.1 821.2H305.5M301.1 809.3H305.5M361.9 824.8V814.9M359.7 824.8H364.1M359.7 814.9H364.1M392.1 833.8V820.4M389.9 833.8H394.3M389.9 820.4H394.3M398.9 826V813.8M396.7 826H401.1M396.7 813.8H401.1M311 824.9V813.3M308.8 824.9H313.2M308.8 813.3H313.2M347.8 812.6V797.3M345.6 812.6H350M345.6 797.3H350M361 819.5V809.1M358.8 819.5H363.2M358.8 809.1H363.2M340.7 822.4V810.6M338.5 822.4H342.9M338.5 810.6H342.9M380.3 826.6V812.4M378.1 826.6H382.5M378.1 812.4H382.5M331.4 815.2V804.3M329.2 815.2H333.6M329.2 804.3H333.6M370.1 827.4V814.9M367.9 827.4H372.3M367.9 814.9H372.3M338.8 827.3V815.4M336.6 827.3H341M336.6 815.4H341M375.4 833.5V819.1M373.2 833.5H377.6M373.2 819.1H377.6M284.5 828.7V816.7M282.3 828.7H286.7M282.3 816.7H286.7M337.4 825.5V814.2M335.2 825.5H339.6M335.2 814.2H339.6M296.9 817.5V807.4M294.7 817.5H299.1M294.7 807.4H299.1M397.7 822.1V807.9M395.5 822.1H399.9M395.5 807.9H399.9M309.3 830.5V818.9M307.1 830.5H311.5M307.1 818.9H311.5M277.7 827.4V816M275.5 827.4H279.9M275.5 816H279.9M453.3 843V829.8M451.1 843H455.5M451.1 829.8H455.5M413.8 824.9V810.5M411.6 824.9H416M411.6 810.5H416M326.9 827.3V814.9M324.7 827.3H329.1M324.7 814.9H329.1M439.1 825.5V813.6M436.9 825.5H441.3M436.9 813.6H441.3M443.5 830.2V816.7M441.3 830.2H445.7M441.3 816.7H445.7M391.6 828.3V814.3M389.4 828.3H393.8M389.4 814.3H393.8M323.1 829.1V817.2M320.9 829.1H325.3M320.9 817.2H325.3M446.4 825.1V815M444.2 825.1H448.6M444.2 815H448.6M322.5 825.8V815M320.3 825.8H324.7M320.3 815H324.7M301.5 824.3V812.5M299.3 824.3H303.7M299.3 812.5H303.7M275.4 823.9V811.4M273.2 823.9H277.6M273.2 811.4H277.6M329.5 823.3V813.5M327.3 823.3H331.7M327.3 813.5H331.7M315.7 831.3V820M313.5 831.3H317.9M313.5 820H317.9M323.1 820.1V808.2M320.9 820.1H325.3M320.9 808.2H325.3M340 823V812.4M337.8 823H342.2M337.8 812.4H342.2M356.9 812.5V802M354.7 812.5H359.1M354.7 802H359.1M322.5 829.7V820.2M320.3 829.7H324.7M320.3 820.2H324.7M363.7 820.5V809M361.5 820.5H365.9M361.5 809H365.9M328.4 823.1V813.2M326.2 823.1H330.6M326.2 813.2H330.6M309.6 821V810M307.4 821H311.8M307.4 810H311.8M385.9 823.5V807.6M383.7 823.5H388.1M383.7 807.6H388.1M292.4 818.4V804.4M290.2 818.4H294.6M290.2 804.4H294.6M386.1 820.6V810.6M383.9 820.6H388.3M383.9 810.6H388.3M433.1 835V818.2M430.9 835H435.3M430.9 818.2H435.3M388.9 835.8V825.3M386.7 835.8H391.1M386.7 825.3H391.1M427.2 833.2V818.5M425 833.2H429.4M425 818.5H429.4M302 823.8V810.9M299.8 823.8H304.2M299.8 810.9H304.2M356.5 822.9V810.1M354.3 822.9H358.7M354.3 810.1H358.7M393.6 828.4V817.3M391.4 828.4H395.8M391.4 817.3H395.8M281.3 827.5V817.5M279.1 827.5H283.5M279.1 817.5H283.5M414.9 832.2V822.3M412.7 832.2H417.1M412.7 822.3H417.1M284.7 819.2V806.8M282.5 819.2H286.9M282.5 806.8H286.9M288.7 825.1V814.3M286.5 825.1H290.9M286.5 814.3H290.9M320 822.8V808.9M317.8 822.8H322.2M317.8 808.9H322.2M377.5 827.3V816.1M375.3 827.3H379.7M375.3 816.1H379.7M298.3 824.8V812.3M296.1 824.8H300.5M296.1 812.3H300.5M407.5 836.7V825.9M405.3 836.7H409.7M405.3 825.9H409.7M293.5 824.3V813.7M291.3 824.3H295.7M291.3 813.7H295.7M437.1 824.4V814.3M434.9 824.4H439.3M434.9 814.3H439.3M427.5 824.6V813.2M425.3 824.6H429.7M425.3 813.2H429.7M281.9 817.3V805.9M279.7 817.3H284.1M279.7 805.9H284.1M400 811.7V800.7M397.8 811.7H402.2M397.8 800.7H402.2M358.1 830.9V820.8M355.9 830.9H360.3M355.9 820.8H360.3M419.4 821.7V808M417.2 821.7H421.6M417.2 808H421.6M456.4 826.8V816.1M454.2 826.8H458.6M454.2 816.1H458.6M327.5 831.6V817.8M325.3 831.6H329.7M325.3 817.8H329.7M426.1 837.4V820.3M423.9 837.4H428.3M423.9 820.3H428.3M333.7 818.8V806.1M331.5 818.8H335.9M331.5 806.1H335.9M286.2 823.5V810.2M284 823.5H288.4M284 810.2H288.4M319.6 813.4V802.7M317.4 813.4H321.8M317.4 802.7H321.8M418.1 823.1V813.4M415.9 823.1H420.3M415.9 813.4H420.3M451.5 819.1V809M449.3 819.1H453.7M449.3 809H453.7M306.2 805.4V795M304 805.4H308.4M304 795H308.4M321.6 810.1V798.2M319.4 810.1H323.8M319.4 798.2H323.8M362.2 832.9V821.4M360 832.9H364.4M360 821.4H364.4M361.1 834.7V822.6M358.9 834.7H363.3M358.9 822.6H363.3M455.3 812.6V801.4M453.1 812.6H457.5M453.1 801.4H457.5M322.6 820.6V810.3M320.4 820.6H324.8M320.4 810.3H324.8M323.5 831V821M321.3 831H325.7M321.3 821H325.7M351.9 814.3V804.7M349.7 814.3H354.1M349.7 804.7H354.1M301.8 807.2V795M299.6 807.2H304M299.6 795H304M346.7 818.2V807.4M344.5 818.2H348.9M344.5 807.4H348.9M334.6 821.5V808.7M332.4 821.5H336.8M332.4 808.7H336.8M445.1 821.2V807.4M442.9 821.2H447.3M442.9 807.4H447.3M288.2 818.7V806.4M286 818.7H290.4M286 806.4H290.4M297.9 830.8V818.3M295.7 830.8H300.1M295.7 818.3H300.1M366.5 823.4V812.1M364.3 823.4H368.7M364.3 812.1H368.7M307.3 826.3V816.3M305.1 826.3H309.5M305.1 816.3H309.5M450.7 822.6V812.8M448.5 822.6H452.9M448.5 812.8H452.9M310.4 828.1V818.1M308.2 828.1H312.6M308.2 818.1H312.6M414 816.9V807.2M411.8 816.9H416.2M411.8 807.2H416.2M428.9 832.9V819.2M426.7 832.9H431.1M426.7 819.2H431.1M311.6 832.3V819.4M309.4 832.3H313.8M309.4 819.4H313.8M392.5 825.3V814.8M390.3 825.3H394.7M390.3 814.8H394.7M391.6 816.4V803M389.4 816.4H393.8M389.4 803H393.8M375.5 831V820.2M373.3 831H377.7M373.3 820.2H377.7M308.8 821.2V810.4M306.6 821.2H311M306.6 810.4H311M389.8 831V819.1M387.6 831H392M387.6 819.1H392M279.4 842.1V830.6M277.2 842.1H281.6M277.2 830.6H281.6M445.2 823.7V813M443 823.7H447.4M443 813H447.4M309.6 828.3V811.5M307.4 828.3H311.8M307.4 811.5H311.8M315.4 825.7V813.6M313.2 825.7H317.6M313.2 813.6H317.6M287 828.6V815.6M284.8 828.6H289.2M284.8 815.6H289.2M326.6 811.7V801.8M324.4 811.7H328.8M324.4 801.8H328.8M290.8 819.3V807.8M288.6 819.3H293M288.6 807.8H293M380.2 832.4V818.2M378 832.4H382.4M378 818.2H382.4M446.3 828.8V816.4M444.1 828.8H448.5M444.1 816.4H448.5M333 818.4V805.6M330.8 818.4H335.2M330.8 805.6H335.2M284.4 822.1V809.1M282.2 822.1H286.6M282.2 809.1H286.6M444.9 826.6V816.3M442.7 826.6H447.1M442.7 816.3H447.1M434.7 825.6V815.6M432.5 825.6H436.9M432.5 815.6H436.9M301.4 814.4V803M299.2 814.4H303.6M299.2 803H303.6M365.1 823.6V812.5M362.9 823.6H367.3M362.9 812.5H367.3M342 819.1V806.5M339.8 819.1H344.2M339.8 806.5H344.2M404.2 817.5V807M402 817.5H406.4M402 807H406.4M303.1 817.2V803.8M300.9 817.2H305.3M300.9 803.8H305.3M405.3 820.9V809.9M403.1 820.9H407.5M403.1 809.9H407.5M375 828.7V818M372.8 828.7H377.2M372.8 818H377.2M338.8 819.4V808.9M336.6 819.4H341M336.6 808.9H341M430.6 826.2V813.7M428.4 826.2H432.8M428.4 813.7H432.8M407.7 820.8V808.9M405.5 820.8H409.9M405.5 808.9H409.9M420.8 833.9V817.3M418.6 833.9H423M418.6 817.3H423M295.1 837V826.4M292.9 837H297.3M292.9 826.4H297.3M387.9 825.4V812.4M385.7 825.4H390.1M385.7 812.4H390.1M342.9 826.3V811M340.7 826.3H345.1M340.7 811H345.1M344.8 819.5V806.1M342.6 819.5H347M342.6 806.1H347M322.3 829.2V818.3M320.1 829.2H324.5M320.1 818.3H324.5M358.6 817.4V805.3M356.4 817.4H360.8M356.4 805.3H360.8M438.9 827V813.3M436.7 827H441.1M436.7 813.3H441.1M355.4 826.1V813.9M353.2 826.1H357.6M353.2 813.9H357.6M425.4 830.9V819.2M423.2 830.9H427.6M423.2 819.2H427.6M381.9 825.6V814M379.7 825.6H384.1M379.7 814H384.1M372.4 825.3V808.2M370.2 825.3H374.6M370.2 808.2H374.6M450.8 821.6V808.5M448.6 821.6H453M448.6 808.5H453M443.7 820.3V810.6M441.5 820.3H445.9M441.5 810.6H445.9M428.8 819V807M426.6 819H431M426.6 807H431M303.7 839.9V824.9M301.5 839.9H305.9M301.5 824.9H305.9M339.9 830.2V816.2M337.7 830.2H342.1M337.7 816.2H342.1M326.7 841.8V825.6M324.5 841.8H328.9M324.5 825.6H328.9M289.5 823.1V813M287.3 823.1H291.7M287.3 813H291.7M365.3 814.8V804.9M363.1 814.8H367.5M363.1 804.9H367.5M315.2 819.3V808.6M313 819.3H317.4M313 808.6H317.4M431 815.2V800.3M428.8 815.2H433.2M428.8 800.3H433.2M427.9 820V804.9M425.7 820H430.1M425.7 804.9H430.1M275.8 833.1V822.5M273.6 833.1H278M273.6 822.5H278M353.2 825.4V811.5M351 825.4H355.4M351 811.5H355.4M449.5 826.7V814.4M447.3 826.7H451.7M447.3 814.4H451.7M360.3 828V818.4M358.1 828H362.5M358.1 818.4H362.5M428.7 829.7V819.5M426.5 829.7H430.9M426.5 819.5H430.9M450.5 818.2V808.1M448.3 818.2H452.7M448.3 808.1H452.7M431.5 814V801.9M429.3 814H433.7M429.3 801.9H433.7M383.8 819.8V805.3M381.6 819.8H386M381.6 805.3H386M360.2 826.2V813.5M358 826.2H362.4M358 813.5H362.4M276.2 827V815.5M274 827H278.4M274 815.5H278.4M389.9 827.2V815M387.7 827.2H392.1M387.7 815H392.1M419.7 816.5V806.5M417.5 816.5H421.9M417.5 806.5H421.9M285.5 829.3V818.3M283.3 829.3H287.7M283.3 818.3H287.7M282.7 827.1V816.8M280.5 827.1H284.9M280.5 816.8H284.9M447.5 825.3V809.5M445.3 825.3H449.7M445.3 809.5H449.7M431 824.7V809.8M428.8 824.7H433.2M428.8 809.8H433.2M322.2 829.2V819.6M320 829.2H324.4M320 819.6H324.4M281.5 820.2V808.7M279.3 820.2H283.7M279.3 808.7H283.7M293.9 824.3V810.7M291.7 824.3H296.1M291.7 810.7H296.1M284 816.7V806.6M281.8 816.7H286.2M281.8 806.6H286.2M328.8 833.1V815.9M326.6 833.1H331M326.6 815.9H331M377.8 823.8V813.6M375.6 823.8H380M375.6 813.6H380M454.5 834.4V821.7M452.3 834.4H456.7M452.3 821.7H456.7M325.6 830.5V819.1M323.4 830.5H327.8M323.4 819.1H327.8M335.6 816.9V803.4M333.4 816.9H337.8M333.4 803.4H337.8M300.3 834.2V818.8M298.1 834.2H302.5M298.1 818.8H302.5M377.6 838.6V827.3M375.4 838.6H379.8M375.4 827.3H379.8M323.6 813.8V801.3M321.4 813.8H325.8M321.4 801.3H325.8M283.6 819.5V805.7M281.4 819.5H285.8M281.4 805.7H285.8M398.6 832.5V819.2M396.4 832.5H400.8M396.4 819.2H400.8M437.8 811.5V801.8M435.6 811.5H440M435.6 801.8H440M401 826.4V814.7M398.8 826.4H403.2M398.8 814.7H403.2M434.8 826.6V816.6M432.6 826.6H437M432.6 816.6H437M360.6 820.2V810.5M358.4 820.2H362.8M358.4 810.5H362.8M365.8 828.1V818.5M363.6 828.1H368M363.6 818.5H368M431.2 834.1V817.7M429 834.1H433.4M429 817.7H433.4M384.7 817.2V802.5M382.5 817.2H386.9M382.5 802.5H386.9M296.2 821.4V809.9M294 821.4H298.4M294 809.9H298.4M312.7 823.4V813.4M310.5 823.4H314.9M310.5 813.4H314.9M420.9 810V797.3M418.7 810H423.1M418.7 797.3H423.1M401.4 820.9V809.7M399.2 820.9H403.6M399.2 809.7H403.6M357.7 807V795.6M355.5 807H359.9M355.5 795.6H359.9M289.6 819.3V803.3M287.4 819.3H291.8M287.4 803.3H291.8M333.1 817.7V803.8M330.9 817.7H335.3M330.9 803.8H335.3M353.4 828.7V816.2M351.2 828.7H355.6M351.2 816.2H355.6M475.8 818.9V809M473.6 818.9H478M473.6 809H478M486.2 827.3V816.6M484 827.3H488.4M484 816.6H488.4M461.1 832.9V822.6M458.9 832.9H463.3M458.9 822.6H463.3M480.8 832.9V820M478.6 832.9H483M478.6 820H483M457.6 824.3V806.4M455.4 824.3H459.8M455.4 806.4H459.8M483.9 822V811.2M481.7 822H486.1M481.7 811.2H486.1M475.6 818.8V804.6M473.4 818.8H477.8M473.4 804.6H477.8M486.1 821V804.4M483.9 821H488.3M483.9 804.4H488.3M465.5 829.4V819.1M463.3 829.4H467.7M463.3 819.1H467.7M460.6 811.2V797.1M458.4 811.2H462.8M458.4 797.1H462.8M485 825.1V814M482.8 825.1H487.2M482.8 814H487.2M485.2 819.9V807.1M483 819.9H487.4M483 807.1H487.4M479.9 834.7V821.7M477.7 834.7H482.1M477.7 821.7H482.1M467.6 818.4V807M465.4 818.4H469.8M465.4 807H469.8M457.8 817.4V804.5M455.6 817.4H460M455.6 804.5H460M471.4 830.5V815.6M469.2 830.5H473.6M469.2 815.6H473.6M478 823.6V809.6M475.8 823.6H480.2M475.8 809.6H480.2M478.4 825V808.6M476.2 825H480.6M476.2 808.6H480.6M463.9 815.9V803.7M461.7 815.9H466.1M461.7 803.7H466.1M461.4 827.3V815.1M459.2 827.3H463.6M459.2 815.1H463.6M483.1 829.2V811.1M480.9 829.2H485.3M480.9 811.1H485.3M467.9 823.4V812.1M465.7 823.4H470.1M465.7 812.1H470.1M471.9 838.4V829M469.7 838.4H474.1M469.7 829H474.1M480 831.2V820.4M477.8 831.2H482.2M477.8 820.4H482.2M459.9 820.2V808.2M457.7 820.2H462.1M457.7 808.2H462.1M462.8 827.5V817.7M460.6 827.5H465M460.6 817.7H465M460.6 833.3V823M458.4 833.3H462.8M458.4 823H462.8M483.8 822.3V810.9M481.6 822.3H486M481.6 810.9H486M476.8 829.8V814M474.6 829.8H479M474.6 814H479M483 830V816.3M480.8 830H485.2M480.8 816.3H485.2M472.3 833.1V819.9M470.1 833.1H474.5M470.1 819.9H474.5M469.9 826.2V815.9M467.7 826.2H472.1M467.7 815.9H472.1M470.9 840.4V825.3M468.7 840.4H473.1M468.7 825.3H473.1M458.6 820.2V809.2M456.4 820.2H460.8M456.4 809.2H460.8M475.3 818.1V806.7M473.1 818.1H477.5M473.1 806.7H477.5M468.4 820V809.1M466.2 820H470.6M466.2 809.1H470.6M463.7 818.3V806.6M461.5 818.3H465.9M461.5 806.6H465.9M484.2 826.6V816.5M482 826.6H486.4M482 816.5H486.4M474.6 827.2V812.7M472.4 827.2H476.8M472.4 812.7H476.8M467.2 839.7V828.4M465 839.7H469.4M465 828.4H469.4M396.6 801.3V786.4M394.4 801.3H398.8M394.4 786.4H398.8M362.4 802.4V791.6M360.2 802.4H364.6M360.2 791.6H364.6M360.3 806.5V792.8M358.1 806.5H362.5M358.1 792.8H362.5M368.6 797V777.5M366.4 797H370.8M366.4 777.5H370.8M375 804.7V789.2M372.8 804.7H377.2M372.8 789.2H377.2M367.6 796.3V785.5M365.4 796.3H369.8M365.4 785.5H369.8M434.8 809.3V799.3M432.6 809.3H437M432.6 799.3H437M351.5 812.5V801.2M349.3 812.5H353.7M349.3 801.2H353.7M406.8 800.5V785.4M404.6 800.5H409M404.6 785.4H409M361.7 807.1V795.1M359.5 807.1H363.9M359.5 795.1H363.9M416.1 791.8V773.5M413.9 791.8H418.3M413.9 773.5H418.3M367.3 795.6V781.6M365.1 795.6H369.5M365.1 781.6H369.5M438.3 814.6V802.4M436.1 814.6H440.5M436.1 802.4H440.5M413.2 791.7V777.3M411 791.7H415.4M411 777.3H415.4M357.6 802.7V791.3M355.4 802.7H359.8M355.4 791.3H359.8M422.2 793.9V783.8M420 793.9H424.4M420 783.8H424.4M357.3 802V789.9M355.1 802H359.5M355.1 789.9H359.5M370.5 800.2V790.2M368.3 800.2H372.7M368.3 790.2H372.7M356 811.1V798.1M353.8 811.1H358.2M353.8 798.1H358.2M407.2 801V789.2M405 801H409.4M405 789.2H409.4M422.5 803V790.8M420.3 803H424.7M420.3 790.8H424.7M377.7 795.3V782.6M375.5 795.3H379.9M375.5 782.6H379.9M432.1 800.6V789.2M429.9 800.6H434.3M429.9 789.2H434.3M372.6 792.5V777.1M370.4 792.5H374.8M370.4 777.1H374.8M419.7 801.9V787.8M417.5 801.9H421.9M417.5 787.8H421.9M376.5 795V783.4M374.3 795H378.7M374.3 783.4H378.7M400.1 800.3V787.9M397.9 800.3H402.3M397.9 787.9H402.3M383.1 797.4V786.4M380.9 797.4H385.3M380.9 786.4H385.3M365.9 800.7V790.8M363.7 800.7H368.1M363.7 790.8H368.1M433.7 807V796.1M431.5 807H435.9M431.5 796.1H435.9M418.8 799.5V785.5M416.6 799.5H421M416.6 785.5H421M372.7 795.7V782.7M370.5 795.7H374.9M370.5 782.7H374.9M355.2 809.8V790.3M353 809.8H357.4M353 790.3H357.4M384.5 788.2V778.1M382.3 788.2H386.7M382.3 778.1H386.7M359.6 806.5V794.8M357.4 806.5H361.8M357.4 794.8H361.8M349.9 817.9V808.1M347.7 817.9H352.1M347.7 808.1H352.1M383.7 788V778.1M381.5 788H385.9M381.5 778.1H385.9M368.7 790.8V780.6M366.5 790.8H370.9M366.5 780.6H370.9M380.8 788V778.1M378.6 788H383M378.6 778.1H383M411.1 789.1V778.8M408.9 789.1H413.3M408.9 778.8H413.3M434.6 807.6V794.1M432.4 807.6H436.8M432.4 794.1H436.8M375 801.6V790.7M372.8 801.6H377.2M372.8 790.7H377.2M351.5 813.4V801.6M349.3 813.4H353.7M349.3 801.6H353.7M377.2 798.4V786.6M375 798.4H379.4M375 786.6H379.4M382.4 799.6V786.8M380.2 799.6H384.6M380.2 786.8H384.6M416 799.5V789.4M413.8 799.5H418.2M413.8 789.4H418.2M417.1 789.2V777.4M414.9 789.2H419.3M414.9 777.4H419.3M425.1 792.7V783.1M422.9 792.7H427.3M422.9 783.1H427.3M370.9 793.8V782.7M368.7 793.8H373.1M368.7 782.7H373.1M429.1 800.1V790.1M426.9 800.1H431.3M426.9 790.1H431.3M428.9 799.8V790M426.7 799.8H431.1M426.7 790H431.1M384.5 788.9V779.3M382.3 788.9H386.7M382.3 779.3H386.7M414.6 787.7V777.6M412.4 787.7H416.8M412.4 777.6H416.8M351.6 812.7V797.5M349.4 812.7H353.8M349.4 797.5H353.8M388.8 794.8V781.4M386.6 794.8H391M386.6 781.4H391M409.8 798.7V785.5M407.6 798.7H412M407.6 785.5H412M377.1 798.9V784.2M374.9 798.9H379.3M374.9 784.2H379.3M383.4 793.5V779.5M381.2 793.5H385.6M381.2 779.5H385.6M390.2 790.9V776.9M388 790.9H392.4M388 776.9H392.4M369.9 792.4V778.6M367.7 792.4H372.1M367.7 778.6H372.1M351.2 811.7V801.4M349 811.7H353.4M349 801.4H353.4M390.8 783.5V773.8M388.6 783.5H393M388.6 773.8H393M417.5 790.6V779.9M415.3 790.6H419.7M415.3 779.9H419.7M380.3 792.3V779.9M378.1 792.3H382.5M378.1 779.9H382.5M424.4 793.9V784M422.2 793.9H426.6M422.2 784H426.6M433.6 806.9V795M431.4 806.9H435.8M431.4 795H435.8M364.5 802.1V791.8M362.3 802.1H366.7M362.3 791.8H366.7M395.6 802.2V786M393.4 802.2H397.8M393.4 786H397.8M417.6 792.4V781.5M415.4 792.4H419.8M415.4 781.5H419.8M389.3 788.3V777.8M387.1 788.3H391.5M387.1 777.8H391.5M360.4 809.2V793.8M358.2 809.2H362.6M358.2 793.8H362.6M368.1 805.1V789M365.9 805.1H370.3M365.9 789H370.3M410.9 796.7V787.2M408.7 796.7H413.1M408.7 787.2H413.1M394.8 797.6V788.1M392.6 797.6H397M392.6 788.1H397M395.3 783.4V773.7M393.1 783.4H397.5M393.1 773.7H397.5M376.8 795.5V785.6M374.6 795.5H379M374.6 785.6H379M382.4 794.3V780.1M380.2 794.3H384.6M380.2 780.1H384.6M354.1 807.4V795.6M351.9 807.4H356.3M351.9 795.6H356.3M402.1 790.9V777.2M399.9 790.9H404.3M399.9 777.2H404.3M388.5 797.5V783.3M386.3 797.5H390.7M386.3 783.3H390.7" stroke="#b0b0b0" stroke-width="0.9" fill="none" />
<polygon points="274.6,815.9 282,815.9 289.4,815.9 296.8,815.9 304.3,815.9 311.7,815.9 319.1,815.9 326.5,815.9 333.9,815.9 341.3,815.9 348.7,815.9 356.2,815.9 363.6,815.9 371,815.9 378.4,815.9 385.8,815.9 393.2,815.9 400.6,815.9 408,815.9 415.5,815.9 422.9,815.9 430.3,815.9 437.7,815.9 445.1,815.9 452.5,815.9 459.9,815.9 467.4,815.9 474.8,815.9 482.2,815.9 489.6,815.9 489.6,817.8 482.2,817.8 474.8,817.8 467.4,817.8 459.9,817.8 452.5,817.8 445.1,817.8 437.7,817.8 430.3,817.8 422.9,817.8 415.5,817.8 408,817.8 400.6,817.8 393.2,817.8 385.8,817.8 378.4,817.8 371,817.8 363.6,817.8 356.2,817.8 348.7,817.8 341.3,817.8 333.9,817.8 326.5,817.8 319.1,817.8 311.7,817.8 304.3,817.8 296.8,817.8 289.4,817.8 282,817.8 274.6,817.8" fill="rgba(120,120,120,0.6)" stroke="none" stroke-width="1" />
<path d="M398.1 818.7h0M282.8 814.6h0M337.3 804.7h0M392.3 824.5h0M326.5 812.1h0M448.1 824h0M303.4 819.5h0M345.5 825.8h0M382.4 822.8h0M363.7 820.9h0M306.5 830.5h0M314.5 801.2h0M392.8 815.6h0M320.3 818h0M349.6 818h0M283.3 816.9h0M333.7 830.6h0M328 825.8h0M356 812.1h0M285.6 816h0M412.5 813.1h0M407.8 838.1h0M377.8 804.4h0M405.1 822.2h0M381 825.6h0M391.4 820.1h0M419.9 817.3h0M433.5 817.4h0M338.6 816.4h0M330.9 832.3h0M384.9 819h0M342.6 824.6h0M432.5 829.1h0M404.6 818.6h0M351.9 823.8h0M434.9 825.1h0M278.1 818.9h0M358.2 808.3h0M305.5 814.9h0M428.6 821.5h0M297.3 810.3h0M410.4 820.2h0M429.5 816.9h0M306.5 824.3h0M324.2 825.4h0M443 817.4h0M393.3 817.9h0M332.5 830.8h0M350.4 818.4h0M304.6 805.9h0M310.5 817.5h0M310.6 824h0M430.4 820h0M400.5 823.9h0M293.3 820.2h0M334.3 809.2h0M380.7 825.1h0M276.8 828h0M314.4 812.8h0M402.2 810.1h0M324.8 818.9h0M343.5 806.8h0M282.2 825.1h0M288.2 826.2h0M320.9 813h0M279.8 823.3h0M306.5 820.3h0M359.3 818.4h0M421.5 822.8h0M393.8 808.6h0M439.8 828.1h0M391 825.6h0M372.4 830h0M332.3 821.1h0M295.1 815.4h0M397.8 821.6h0M366 811.2h0M362.9 808.5h0M384.4 819.3h0M368.8 805.4h0M436.8 811.5h0M298.1 807.7h0M312.8 816.9h0M437.5 825h0M275.7 809.6h0M339 816.3h0M275.8 818.2h0M400.9 817.4h0M372.2 818.5h0M299.3 814h0M393.6 812.4h0M399.2 823.6h0M309 816.9h0M347.8 823h0M385.2 826.8h0M371.3 809.9h0M402.2 829.9h0M312.5 817.9h0M355.6 824.5h0M437.2 807.3h0M420.6 819.5h0M300.3 821.5h0M435.2 826.5h0M403.8 817.3h0M447.5 830.1h0M292.9 817.7h0M283.5 819.8h0M333.1 815h0M331.7 801.4h0M381.4 821.7h0M385.1 809.4h0M427.5 823.4h0M320.9 818.2h0M356.9 810.9h0M438.8 814.2h0M280.1 816h0M454.2 827.7h0M314.6 825.2h0M389.3 819.8h0M302.3 818.9h0M347.4 812.2h0M297.2 823.5h0M353.6 826h0M343.1 816.3h0M449.6 821.7h0M409 819h0M282.4 813.8h0M277.2 828.7h0M383.7 815.1h0M425.6 819.3h0M454.2 820.7h0M411.6 805.2h0M355.2 820.8h0M384.8 832.8h0M345.2 807.2h0M290.4 828.9h0M441.4 820h0M347.6 817.7h0M425.8 823.4h0M291.2 820.1h0M316.9 830.1h0M331.2 819.4h0M351.4 822.9h0M369.7 819h0M370.4 819h0M339.7 813.6h0M448.5 828.4h0M434.1 818.7h0M399.5 819.9h0M397.8 823.1h0M330.6 819.8h0M387.6 823.1h0M284.8 813h0M327.1 824.9h0M456.4 815.3h0M387.8 811.5h0M294.9 819.2h0M370.8 814.1h0M395 826.1h0M456.9 811.2h0M441.1 810.7h0M366.8 817.5h0M363.8 825.3h0M438.8 822.6h0M448.2 830.9h0M366.8 814.5h0M440.6 825.4h0M393.9 823.1h0M452.7 817.6h0M450.7 819.5h0M367.3 807.5h0M301.4 819.8h0M351.3 817.6h0M281.3 815.5h0M281.5 822.1h0M372.3 820.6h0M433.6 820.4h0M347.8 819.4h0M286.1 801.6h0M424.4 829h0M358.7 825.6h0M398.7 819.6h0M406.2 822h0M383.8 815.9h0M382 806.2h0M420.1 812.8h0M382.7 824.8h0M347.9 815.8h0M427.9 819.1h0M311.5 812h0M317.5 804.2h0M299.5 816.3h0M425.8 810.9h0M455.3 812.2h0M294.5 812.8h0M431.8 820.1h0M295.7 814.6h0M390.7 817.7h0M363.3 820.3h0M421.1 815.9h0M384.9 818.1h0M429.4 797.8h0M345.8 826.7h0M444 825.5h0M301 815.8h0M383.2 813.1h0M383.2 828.7h0M413.6 826.4h0M348.5 822.9h0M373.2 817.5h0M355.9 814.3h0M317.5 822.2h0M446.8 814.5h0M277.2 813.5h0M405.3 814.4h0M452.2 827h0M339.4 822.8h0M429.2 818h0M451.7 822.4h0M307.1 819.3h0M323.3 808.8h0M331.3 825.6h0M318.3 813.9h0M309.3 811.2h0M383.8 827.8h0M440.3 832.6h0M369.4 822.5h0M312.6 819.1h0M333.4 816.5h0M413 818.6h0M377.9 815.3h0M313 815.2h0M423.2 826.2h0M335.2 820.5h0M410 822.8h0M297.5 826.5h0M432.7 811.7h0M381.1 820.1h0M442.8 822.7h0M380.6 823.6h0M343.1 826.7h0M380.5 825.7h0M351.4 821.4h0M422.8 813.8h0M439.8 808.5h0M358 827.2h0M298.5 818.5h0M421 821.2h0M352.1 827.9h0M318.5 818.9h0M405.5 820.7h0M283.3 817.4h0M303.3 815.2h0M361.9 819.9h0M392.1 827.1h0M398.9 819.9h0M311 819.1h0M347.8 804.9h0M361 814.3h0M340.7 816.5h0M380.3 819.5h0M331.4 809.7h0M370.1 821.1h0M338.8 821.3h0M375.4 826.3h0M284.5 822.7h0M337.4 819.9h0M296.9 812.5h0M397.7 815h0M309.3 824.7h0M277.7 821.7h0M453.3 836.4h0M413.8 817.7h0M326.9 821.1h0M439.1 819.5h0M443.5 823.5h0M391.6 821.3h0M323.1 823.2h0M446.4 820h0M322.5 820.4h0M301.5 818.4h0M275.4 817.7h0M329.5 818.4h0M315.7 825.6h0M323.1 814.2h0M340 817.7h0M356.9 807.3h0M322.5 825h0M363.7 814.8h0M328.4 818.1h0M309.6 815.5h0M385.9 815.6h0M292.4 811.4h0M386.1 815.6h0M433.1 826.6h0M388.9 830.5h0M427.2 825.8h0M302 817.3h0M356.5 816.5h0M393.6 822.8h0M281.3 822.5h0M414.9 827.2h0M284.7 813h0M288.7 819.7h0M320 815.8h0M377.5 821.7h0M298.3 818.5h0M407.5 831.3h0M293.5 819h0M437.1 819.4h0M427.5 818.9h0M281.9 811.6h0M400 806.2h0M358.1 825.9h0M419.4 814.9h0M456.4 821.4h0M327.5 824.7h0M426.1 828.8h0M333.7 812.4h0M286.2 816.8h0M319.6 808.1h0M418.1 818.2h0M451.5 814.1h0M306.2 800.2h0M321.6 804.2h0M362.2 827.2h0M361.1 828.6h0M455.3 807h0M322.6 815.5h0M323.5 826h0M351.9 809.5h0M301.8 801.1h0M346.7 812.8h0M334.6 815.1h0M445.1 814.3h0M288.2 812.6h0M297.9 824.6h0M366.5 817.8h0M307.3 821.3h0M450.7 817.7h0M310.4 823.1h0M414 812.1h0M428.9 826h0M311.6 825.9h0M392.5 820h0M391.6 809.7h0M375.5 825.6h0M308.8 815.8h0M389.8 825h0M279.4 836.3h0M445.2 818.3h0M309.6 819.9h0M315.4 819.7h0M287 822.1h0M326.6 806.7h0M290.8 813.6h0M380.2 825.3h0M446.3 822.6h0M333 812h0M284.4 815.6h0M444.9 821.5h0M434.7 820.6h0M301.4 808.7h0M365.1 818.1h0M342 812.8h0M404.2 812.2h0M303.1 810.5h0M405.3 815.4h0M375 823.3h0M338.8 814.2h0M430.6 819.9h0M407.7 814.9h0M420.8 825.6h0M295.1 831.7h0M387.9 818.9h0M342.9 818.7h0M344.8 812.8h0M322.3 823.8h0M358.6 811.4h0M438.9 820.1h0M355.4 820h0M425.4 825.1h0M381.9 819.8h0M372.4 816.7h0M450.8 815h0M443.7 815.4h0M428.8 813h0M303.7 832.4h0M339.9 823.2h0M326.7 833.7h0M289.5 818h0M365.3 809.8h0M315.2 814h0M431 807.7h0M427.9 812.4h0M275.8 827.8h0M353.2 818.4h0M449.5 820.6h0M360.3 823.2h0M428.7 824.6h0M450.5 813.1h0M431.5 807.9h0M383.8 812.5h0M360.2 819.9h0M276.2 821.3h0M389.9 821.1h0M419.7 811.5h0M285.5 823.8h0M282.7 821.9h0M447.5 817.4h0M431 817.3h0M322.2 824.4h0M281.5 814.5h0M293.9 817.5h0M284 811.7h0M328.8 824.5h0M377.8 818.7h0M454.5 828.1h0M325.6 824.8h0M335.6 810.2h0M300.3 826.5h0M377.6 832.9h0M323.6 807.5h0M283.6 812.6h0M398.6 825.8h0M437.8 806.6h0M401 820.6h0M434.8 821.6h0M360.6 815.4h0M365.8 823.3h0M431.2 825.9h0M384.7 809.8h0M296.2 815.6h0M312.7 818.4h0M420.9 803.7h0M401.4 815.3h0M357.7 801.3h0M289.6 811.3h0M333.1 810.7h0M353.4 822.4h0M475.8 814h0M486.2 821.9h0M461.1 827.8h0M480.8 826.4h0M457.6 815.4h0M483.9 816.6h0M475.6 811.7h0M486.1 812.7h0M465.5 824.3h0M460.6 804.2h0M485 819.6h0M485.2 813.5h0M479.9 828.2h0M467.6 812.7h0M457.8 811h0M471.4 823.1h0M478 816.6h0M478.4 816.8h0M463.9 809.8h0M461.4 821.2h0M483.1 820.1h0M467.9 817.7h0M471.9 833.7h0M480 825.8h0M459.9 814.2h0M462.8 822.6h0M460.6 828.2h0M483.8 816.6h0M476.8 821.9h0M483 823.1h0M472.3 826.5h0M469.9 821h0M470.9 832.9h0M458.6 814.7h0M475.3 812.4h0M468.4 814.6h0M463.7 812.4h0M484.2 821.6h0M474.6 819.9h0M467.2 834.1h0M396.6 793.9h0M362.4 797h0M360.3 799.7h0M368.6 787.3h0M375 797h0M367.6 790.9h0M434.8 804.3h0M351.5 806.9h0M406.8 792.9h0M361.7 801.1h0M416.1 782.7h0M367.3 788.6h0M438.3 808.5h0M413.2 784.5h0M357.6 797h0M422.2 788.8h0M357.3 796h0M370.5 795.2h0M356 804.6h0M407.2 795.1h0M422.5 796.9h0M377.7 789h0M432.1 794.9h0M372.6 784.8h0M419.7 794.9h0M376.5 789.2h0M400.1 794.1h0M383.1 791.9h0M365.9 795.8h0M433.7 801.5h0M418.8 792.5h0M372.7 789.2h0M355.2 800h0M384.5 783.1h0M359.6 800.6h0M349.9 813h0M383.7 783.1h0M368.7 785.7h0M380.8 783.1h0M411.1 783.9h0M434.6 800.9h0M375 796.1h0M351.5 807.5h0M377.2 792.5h0M382.4 793.2h0M416 794.5h0M417.1 783.3h0M425.1 787.9h0M370.9 788.2h0M429.1 795.1h0M428.9 794.9h0M384.5 784.1h0M414.6 782.6h0M351.6 805.1h0M388.8 788.1h0M409.8 792.1h0M377.1 791.5h0M383.4 786.5h0M390.2 783.9h0M369.9 785.5h0M351.2 806.5h0M390.8 778.6h0M417.5 785.3h0M380.3 786.1h0M424.4 788.9h0M433.6 801h0M364.5 796.9h0M395.6 794.1h0M417.6 787h0M389.3 783.1h0M360.4 801.5h0M368.1 797h0M410.9 792h0M394.8 792.8h0M395.3 778.5h0M376.8 790.5h0M382.4 787.2h0M354.1 801.5h0M402.1 784h0M388.5 790.4h0" stroke="#111" stroke-width="3.9" stroke-linecap="round"/>
<path d="M398.1 818.7h0M282.8 814.6h0M337.3 804.7h0M392.3 824.5h0M326.5 812.1h0M448.1 824h0M303.4 819.5h0M345.5 825.8h0M382.4 822.8h0M363.7 820.9h0M306.5 830.5h0M314.5 801.2h0M392.8 815.6h0M320.3 818h0M349.6 818h0M283.3 816.9h0M333.7 830.6h0M328 825.8h0M356 812.1h0M285.6 816h0M412.5 813.1h0M407.8 838.1h0M377.8 804.4h0M405.1 822.2h0M381 825.6h0M391.4 820.1h0M419.9 817.3h0M433.5 817.4h0M338.6 816.4h0M330.9 832.3h0M384.9 819h0M342.6 824.6h0M432.5 829.1h0M404.6 818.6h0M351.9 823.8h0M434.9 825.1h0M278.1 818.9h0M358.2 808.3h0M305.5 814.9h0M428.6 821.5h0M297.3 810.3h0M410.4 820.2h0M429.5 816.9h0M306.5 824.3h0M324.2 825.4h0M443 817.4h0M393.3 817.9h0M332.5 830.8h0M350.4 818.4h0M304.6 805.9h0M310.5 817.5h0M310.6 824h0M430.4 820h0M400.5 823.9h0M293.3 820.2h0M334.3 809.2h0M380.7 825.1h0M276.8 828h0M314.4 812.8h0M402.2 810.1h0M324.8 818.9h0M343.5 806.8h0M282.2 825.1h0M288.2 826.2h0M320.9 813h0M279.8 823.3h0M306.5 820.3h0M359.3 818.4h0M421.5 822.8h0M393.8 808.6h0M439.8 828.1h0M391 825.6h0M372.4 830h0M332.3 821.1h0M295.1 815.4h0M397.8 821.6h0M366 811.2h0M362.9 808.5h0M384.4 819.3h0M368.8 805.4h0M436.8 811.5h0M298.1 807.7h0M312.8 816.9h0M437.5 825h0M275.7 809.6h0M339 816.3h0M275.8 818.2h0M400.9 817.4h0M372.2 818.5h0M299.3 814h0M393.6 812.4h0M399.2 823.6h0M309 816.9h0M347.8 823h0M385.2 826.8h0M371.3 809.9h0M402.2 829.9h0M312.5 817.9h0M355.6 824.5h0M437.2 807.3h0M420.6 819.5h0M300.3 821.5h0M435.2 826.5h0M403.8 817.3h0M447.5 830.1h0M292.9 817.7h0M283.5 819.8h0M333.1 815h0M331.7 801.4h0M381.4 821.7h0M385.1 809.4h0M427.5 823.4h0M320.9 818.2h0M356.9 810.9h0M438.8 814.2h0M280.1 816h0M454.2 827.7h0M314.6 825.2h0M389.3 819.8h0M302.3 818.9h0M347.4 812.2h0M297.2 823.5h0M353.6 826h0M343.1 816.3h0M449.6 821.7h0M409 819h0M282.4 813.8h0M277.2 828.7h0M383.7 815.1h0M425.6 819.3h0M454.2 820.7h0M411.6 805.2h0M355.2 820.8h0M384.8 832.8h0M345.2 807.2h0M290.4 828.9h0M441.4 820h0M347.6 817.7h0M425.8 823.4h0M291.2 820.1h0M316.9 830.1h0M331.2 819.4h0M351.4 822.9h0M369.7 819h0M370.4 819h0M339.7 813.6h0M448.5 828.4h0M434.1 818.7h0M399.5 819.9h0M397.8 823.1h0M330.6 819.8h0M387.6 823.1h0M284.8 813h0M327.1 824.9h0M456.4 815.3h0M387.8 811.5h0M294.9 819.2h0M370.8 814.1h0M395 826.1h0M456.9 811.2h0M441.1 810.7h0M366.8 817.5h0M363.8 825.3h0M438.8 822.6h0M448.2 830.9h0M366.8 814.5h0M440.6 825.4h0M393.9 823.1h0M452.7 817.6h0M450.7 819.5h0M367.3 807.5h0M301.4 819.8h0M351.3 817.6h0M281.3 815.5h0M281.5 822.1h0M372.3 820.6h0M433.6 820.4h0M347.8 819.4h0M286.1 801.6h0M424.4 829h0M358.7 825.6h0M398.7 819.6h0M406.2 822h0M383.8 815.9h0M382 806.2h0M420.1 812.8h0M382.7 824.8h0M347.9 815.8h0M427.9 819.1h0M311.5 812h0M317.5 804.2h0M299.5 816.3h0M425.8 810.9h0M455.3 812.2h0M294.5 812.8h0M431.8 820.1h0M295.7 814.6h0M390.7 817.7h0M363.3 820.3h0M421.1 815.9h0M384.9 818.1h0M429.4 797.8h0M345.8 826.7h0M444 825.5h0M301 815.8h0M383.2 813.1h0M383.2 828.7h0M413.6 826.4h0M348.5 822.9h0M373.2 817.5h0M355.9 814.3h0M317.5 822.2h0M446.8 814.5h0M277.2 813.5h0M405.3 814.4h0M452.2 827h0M339.4 822.8h0M429.2 818h0M451.7 822.4h0M307.1 819.3h0M323.3 808.8h0M331.3 825.6h0M318.3 813.9h0M309.3 811.2h0M383.8 827.8h0M440.3 832.6h0M369.4 822.5h0M312.6 819.1h0M333.4 816.5h0M413 818.6h0M377.9 815.3h0M313 815.2h0M423.2 826.2h0M335.2 820.5h0M410 822.8h0M297.5 826.5h0M432.7 811.7h0M381.1 820.1h0M442.8 822.7h0M380.6 823.6h0M343.1 826.7h0M380.5 825.7h0M351.4 821.4h0M422.8 813.8h0M439.8 808.5h0M358 827.2h0M298.5 818.5h0M421 821.2h0M352.1 827.9h0M318.5 818.9h0M405.5 820.7h0M283.3 817.4h0M303.3 815.2h0M361.9 819.9h0M392.1 827.1h0M398.9 819.9h0M311 819.1h0M347.8 804.9h0M361 814.3h0M340.7 816.5h0M380.3 819.5h0M331.4 809.7h0M370.1 821.1h0M338.8 821.3h0M375.4 826.3h0M284.5 822.7h0M337.4 819.9h0M296.9 812.5h0M397.7 815h0M309.3 824.7h0M277.7 821.7h0M453.3 836.4h0M413.8 817.7h0M326.9 821.1h0M439.1 819.5h0M443.5 823.5h0M391.6 821.3h0M323.1 823.2h0M446.4 820h0M322.5 820.4h0M301.5 818.4h0M275.4 817.7h0M329.5 818.4h0M315.7 825.6h0M323.1 814.2h0M340 817.7h0M356.9 807.3h0M322.5 825h0M363.7 814.8h0M328.4 818.1h0M309.6 815.5h0M385.9 815.6h0M292.4 811.4h0M386.1 815.6h0M433.1 826.6h0M388.9 830.5h0M427.2 825.8h0M302 817.3h0M356.5 816.5h0M393.6 822.8h0M281.3 822.5h0M414.9 827.2h0M284.7 813h0M288.7 819.7h0M320 815.8h0M377.5 821.7h0M298.3 818.5h0M407.5 831.3h0M293.5 819h0M437.1 819.4h0M427.5 818.9h0M281.9 811.6h0M400 806.2h0M358.1 825.9h0M419.4 814.9h0M456.4 821.4h0M327.5 824.7h0M426.1 828.8h0M333.7 812.4h0M286.2 816.8h0M319.6 808.1h0M418.1 818.2h0M451.5 814.1h0M306.2 800.2h0M321.6 804.2h0M362.2 827.2h0M361.1 828.6h0M455.3 807h0M322.6 815.5h0M323.5 826h0M351.9 809.5h0M301.8 801.1h0M346.7 812.8h0M334.6 815.1h0M445.1 814.3h0M288.2 812.6h0M297.9 824.6h0M366.5 817.8h0M307.3 821.3h0M450.7 817.7h0M310.4 823.1h0M414 812.1h0M428.9 826h0M311.6 825.9h0M392.5 820h0M391.6 809.7h0M375.5 825.6h0M308.8 815.8h0M389.8 825h0M279.4 836.3h0M445.2 818.3h0M309.6 819.9h0M315.4 819.7h0M287 822.1h0M326.6 806.7h0M290.8 813.6h0M380.2 825.3h0M446.3 822.6h0M333 812h0M284.4 815.6h0M444.9 821.5h0M434.7 820.6h0M301.4 808.7h0M365.1 818.1h0M342 812.8h0M404.2 812.2h0M303.1 810.5h0M405.3 815.4h0M375 823.3h0M338.8 814.2h0M430.6 819.9h0M407.7 814.9h0M420.8 825.6h0M295.1 831.7h0M387.9 818.9h0M342.9 818.7h0M344.8 812.8h0M322.3 823.8h0M358.6 811.4h0M438.9 820.1h0M355.4 820h0M425.4 825.1h0M381.9 819.8h0M372.4 816.7h0M450.8 815h0M443.7 815.4h0M428.8 813h0M303.7 832.4h0M339.9 823.2h0M326.7 833.7h0M289.5 818h0M365.3 809.8h0M315.2 814h0M431 807.7h0M427.9 812.4h0M275.8 827.8h0M353.2 818.4h0M449.5 820.6h0M360.3 823.2h0M428.7 824.6h0M450.5 813.1h0M431.5 807.9h0M383.8 812.5h0M360.2 819.9h0M276.2 821.3h0M389.9 821.1h0M419.7 811.5h0M285.5 823.8h0M282.7 821.9h0M447.5 817.4h0M431 817.3h0M322.2 824.4h0M281.5 814.5h0M293.9 817.5h0M284 811.7h0M328.8 824.5h0M377.8 818.7h0M454.5 828.1h0M325.6 824.8h0M335.6 810.2h0M300.3 826.5h0M377.6 832.9h0M323.6 807.5h0M283.6 812.6h0M398.6 825.8h0M437.8 806.6h0M401 820.6h0M434.8 821.6h0M360.6 815.4h0M365.8 823.3h0M431.2 825.9h0M384.7 809.8h0M296.2 815.6h0M312.7 818.4h0M420.9 803.7h0M401.4 815.3h0M357.7 801.3h0M289.6 811.3h0M333.1 810.7h0M353.4 822.4h0M475.8 814h0M486.2 821.9h0M461.1 827.8h0M480.8 826.4h0M457.6 815.4h0M483.9 816.6h0M475.6 811.7h0M486.1 812.7h0M465.5 824.3h0M460.6 804.2h0M485 819.6h0M485.2 813.5h0M479.9 828.2h0M467.6 812.7h0M457.8 811h0M471.4 823.1h0M478 816.6h0M478.4 816.8h0M463.9 809.8h0M461.4 821.2h0M483.1 820.1h0M467.9 817.7h0M471.9 833.7h0M480 825.8h0M459.9 814.2h0M462.8 822.6h0M460.6 828.2h0M483.8 816.6h0M476.8 821.9h0M483 823.1h0M472.3 826.5h0M469.9 821h0M470.9 832.9h0M458.6 814.7h0M475.3 812.4h0M468.4 814.6h0M463.7 812.4h0M484.2 821.6h0M474.6 819.9h0M467.2 834.1h0M396.6 793.9h0M362.4 797h0M360.3 799.7h0M368.6 787.3h0M375 797h0M367.6 790.9h0M434.8 804.3h0M351.5 806.9h0M406.8 792.9h0M361.7 801.1h0M416.1 782.7h0M367.3 788.6h0M438.3 808.5h0M413.2 784.5h0M357.6 797h0M422.2 788.8h0M357.3 796h0M370.5 795.2h0M356 804.6h0M407.2 795.1h0M422.5 796.9h0M377.7 789h0M432.1 794.9h0M372.6 784.8h0M419.7 794.9h0M376.5 789.2h0M400.1 794.1h0M383.1 791.9h0M365.9 795.8h0M433.7 801.5h0M418.8 792.5h0M372.7 789.2h0M355.2 800h0M384.5 783.1h0M359.6 800.6h0M349.9 813h0M383.7 783.1h0M368.7 785.7h0M380.8 783.1h0M411.1 783.9h0M434.6 800.9h0M375 796.1h0M351.5 807.5h0M377.2 792.5h0M382.4 793.2h0M416 794.5h0M417.1 783.3h0M425.1 787.9h0M370.9 788.2h0M429.1 795.1h0M428.9 794.9h0M384.5 784.1h0M414.6 782.6h0M351.6 805.1h0M388.8 788.1h0M409.8 792.1h0M377.1 791.5h0M383.4 786.5h0M390.2 783.9h0M369.9 785.5h0M351.2 806.5h0M390.8 778.6h0M417.5 785.3h0M380.3 786.1h0M424.4 788.9h0M433.6 801h0M364.5 796.9h0M395.6 794.1h0M417.6 787h0M389.3 783.1h0M360.4 801.5h0M368.1 797h0M410.9 792h0M394.8 792.8h0M395.3 778.5h0M376.8 790.5h0M382.4 787.2h0M354.1 801.5h0M402.1 784h0M388.5 790.4h0" stroke="#6a6a6a" stroke-width="2.5" stroke-linecap="round"/>
<path d="M335.4 823.6h0M289.7 822.6h0M284.6 820.6h0M331.3 816.7h0M288.1 824.4h0M310.5 823.8h0M352.4 827.1h0M290.3 811.3h0M348.9 820.4h0M305.4 825.2h0M322.3 826.2h0M315.2 813.2h0M283.9 824.8h0M326.9 829.4h0M281.5 824h0M299.9 822.6h0M306 814h0M330 826.6h0M298.6 826.3h0M307.7 825.5h0M317 829h0M289.6 819.7h0M329.4 832.9h0M323.2 830.4h0M331.6 826.9h0M299.6 814.7h0M319.3 815.5h0M328.4 829.4h0M352 805.8h0M354.8 799h0M357.6 794.9h0M360.4 791.9h0M363.2 791h0M366 790.2h0M368.8 785.1h0M371.6 787.6h0M374.4 783.3h0M377.2 783.3h0M380 787.2h0M382.8 783.3h0M385.7 781.8h0M388.5 785.8h0M391.3 781.3h0M394.1 780.1h0M396.9 784.1h0M399.7 778.5h0M402.5 781h0M405.3 780h0M408.1 784.3h0M410.9 783.2h0M413.7 787.9h0M416.5 788.3h0" stroke="#111" stroke-width="3.9" stroke-linecap="round"/>
<path d="M335.4 823.6h0M289.7 822.6h0M284.6 820.6h0M331.3 816.7h0M288.1 824.4h0M310.5 823.8h0M352.4 827.1h0M290.3 811.3h0M348.9 820.4h0M305.4 825.2h0M322.3 826.2h0M315.2 813.2h0M283.9 824.8h0M326.9 829.4h0M281.5 824h0M299.9 822.6h0M306 814h0M330 826.6h0M298.6 826.3h0M307.7 825.5h0M317 829h0M289.6 819.7h0M329.4 832.9h0M323.2 830.4h0M331.6 826.9h0M299.6 814.7h0M319.3 815.5h0M328.4 829.4h0M352 805.8h0M354.8 799h0M357.6 794.9h0M360.4 791.9h0M363.2 791h0M366 790.2h0M368.8 785.1h0M371.6 787.6h0M374.4 783.3h0M377.2 783.3h0M380 787.2h0M382.8 783.3h0M385.7 781.8h0M388.5 785.8h0M391.3 781.3h0M394.1 780.1h0M396.9 784.1h0M399.7 778.5h0M402.5 781h0M405.3 780h0M408.1 784.3h0M410.9 783.2h0M413.7 787.9h0M416.5 788.3h0" stroke="#d000d0" stroke-width="2.5" stroke-linecap="round"/>
<line x1="274.6" y1="816.8" x2="489.6" y2="816.8" stroke="#000" stroke-width="1.3" />
<line x1="274.6" y1="831" x2="489.6" y2="775.9" stroke="#ff00ff" stroke-width="1.3" />
</g>
<rect x="278.7" y="749.3" width="146" height="13" rx="2.5" fill="#fff" stroke="#000" stroke-width="0.8"/>
<text transform="translate(281.3,759)" font-family="'Liberation Sans', sans-serif" font-size="8" text-anchor="start" fill="#000"  stroke="#000" stroke-width="0.18">Tanh model of Stellar Disk velocity map</text>
<rect x="278" y="850.1" width="87.5" height="44.2" rx="2" fill="rgba(255,255,255,0.82)" stroke="#e0e0e0" stroke-width="0.6"/>
<rect x="280.9" y="853.3" width="15.1" height="5.2" fill="#c4c4c4" stroke="none" stroke-width="1" />
<text transform="translate(301.1,858.8) scale(1,1)" font-family="'Liberation Sans', sans-serif" font-size="8.1" text-anchor="start" fill="#000"  stroke="#000" stroke-width="0.18">Linear Fit</text>
<rect x="280.9" y="863.4" width="15.1" height="5.2" fill="#f8c8f8" stroke="none" stroke-width="1" />
<text transform="translate(301.1,868.9) scale(1,1)" font-family="'Liberation Sans', sans-serif" font-size="8.1" text-anchor="start" fill="#000"  stroke="#000" stroke-width="0.18">Linear Fit (QA)</text>
<line x1="288.4" y1="872.9" x2="288.4" y2="880.9" stroke="#999" stroke-width="0.7" />
<line x1="286.6" y1="872.9" x2="290.2" y2="872.9" stroke="#999" stroke-width="0.7" />
<line x1="286.6" y1="880.9" x2="290.2" y2="880.9" stroke="#999" stroke-width="0.7" />
<path d="M288.4 876.9h0" stroke="#111" stroke-width="3.4" stroke-linecap="round"/>
<path d="M288.4 876.9h0" stroke="#555" stroke-width="2.2" stroke-linecap="round"/>
<text transform="translate(301.1,879.8) scale(1,1)" font-family="'Liberation Sans', sans-serif" font-size="8.1" text-anchor="start" fill="#000"  stroke="#000" stroke-width="0.18">MaNGa (data)</text>
<line x1="288.4" y1="883" x2="288.4" y2="891" stroke="#999" stroke-width="0.7" />
<line x1="286.6" y1="883" x2="290.2" y2="883" stroke="#999" stroke-width="0.7" />
<line x1="286.6" y1="891" x2="290.2" y2="891" stroke="#999" stroke-width="0.7" />
<path d="M288.4 887h0" stroke="#111" stroke-width="3.4" stroke-linecap="round"/>
<path d="M288.4 887h0" stroke="#d000d0" stroke-width="2.2" stroke-linecap="round"/>
<text transform="translate(301.1,889.9) scale(1,1)" font-family="'Liberation Sans', sans-serif" font-size="8.1" text-anchor="start" fill="#000"  stroke="#000" stroke-width="0.18">MaNGa (data) QA</text>
<rect x="274.6" y="740.5" width="215" height="157.4" fill="none" stroke="#000" stroke-width="1.2"/>
<path d="M274.6 897.9V893.9M274.6 740.5V744.5M317.6 897.9V893.9M317.6 740.5V744.5M360.6 897.9V893.9M360.6 740.5V744.5M403.6 897.9V893.9M403.6 740.5V744.5M446.6 897.9V893.9M446.6 740.5V744.5M489.6 897.9V893.9M489.6 740.5V744.5M274.6 897.9V895.7M274.6 740.5V742.7M285.4 897.9V895.7M285.4 740.5V742.7M296.1 897.9V895.7M296.1 740.5V742.7M306.9 897.9V895.7M306.9 740.5V742.7M317.6 897.9V895.7M317.6 740.5V742.7M328.4 897.9V895.7M328.4 740.5V742.7M339.1 897.9V895.7M339.1 740.5V742.7M349.9 897.9V895.7M349.9 740.5V742.7M360.6 897.9V895.7M360.6 740.5V742.7M371.4 897.9V895.7M371.4 740.5V742.7M382.1 897.9V895.7M382.1 740.5V742.7M392.9 897.9V895.7M392.9 740.5V742.7M403.6 897.9V895.7M403.6 740.5V742.7M414.4 897.9V895.7M414.4 740.5V742.7M425.1 897.9V895.7M425.1 740.5V742.7M435.9 897.9V895.7M435.9 740.5V742.7M446.6 897.9V895.7M446.6 740.5V742.7M457.4 897.9V895.7M457.4 740.5V742.7M468.1 897.9V895.7M468.1 740.5V742.7M478.9 897.9V895.7M478.9 740.5V742.7M489.6 897.9V895.7M489.6 740.5V742.7M274.6 897.9H278.6M489.6 897.9H485.6M274.6 858.5H278.6M489.6 858.5H485.6M274.6 819.2H278.6M489.6 819.2H485.6M274.6 779.9H278.6M489.6 779.9H485.6M274.6 740.5H278.6M489.6 740.5H485.6M274.6 897.9H276.8M489.6 897.9H487.4M274.6 890H276.8M489.6 890H487.4M274.6 882.2H276.8M489.6 882.2H487.4M274.6 874.3H276.8M489.6 874.3H487.4M274.6 866.4H276.8M489.6 866.4H487.4M274.6 858.5H276.8M489.6 858.5H487.4M274.6 850.7H276.8M489.6 850.7H487.4M274.6 842.8H276.8M489.6 842.8H487.4M274.6 834.9H276.8M489.6 834.9H487.4M274.6 827.1H276.8M489.6 827.1H487.4M274.6 819.2H276.8M489.6 819.2H487.4M274.6 811.3H276.8M489.6 811.3H487.4M274.6 803.5H276.8M489.6 803.5H487.4M274.6 795.6H276.8M489.6 795.6H487.4M274.6 787.7H276.8M489.6 787.7H487.4M274.6 779.9H276.8M489.6 779.9H487.4M274.6 772H276.8M489.6 772H487.4M274.6 764.1H276.8M489.6 764.1H487.4M274.6 756.2H276.8M489.6 756.2H487.4M274.6 748.4H276.8M489.6 748.4H487.4M274.6 740.5H276.8M489.6 740.5H487.4" stroke="#000" stroke-width="1" fill="none" />
<text transform="translate(274.6,907.5) scale(1.1,1)" font-family="'Liberation Sans', sans-serif" font-size="8.7" text-anchor="middle" fill="#000"  stroke="#000" stroke-width="0.18">0</text>
<text transform="translate(317.6,907.5) scale(1.1,1)" font-family="'Liberation Sans', sans-serif" font-size="8.7" text-anchor="middle" fill="#000"  stroke="#000" stroke-width="0.18">2</text>
<text transform="translate(360.6,907.5) scale(1.1,1)" font-family="'Liberation Sans', sans-serif" font-size="8.7" text-anchor="middle" fill="#000"  stroke="#000" stroke-width="0.18">4</text>
<text transform="translate(403.6,907.5) scale(1.1,1)" font-family="'Liberation Sans', sans-serif" font-size="8.7" text-anchor="middle" fill="#000"  stroke="#000" stroke-width="0.18">6</text>
<text transform="translate(446.6,907.5) scale(1.1,1)" font-family="'Liberation Sans', sans-serif" font-size="8.7" text-anchor="middle" fill="#000"  stroke="#000" stroke-width="0.18">8</text>
<text transform="translate(489.6,907.5) scale(1.1,1)" font-family="'Liberation Sans', sans-serif" font-size="8.7" text-anchor="middle" fill="#000"  stroke="#000" stroke-width="0.18">10</text>
<text transform="translate(272.8,901) scale(1.1,1)" font-family="'Liberation Sans', sans-serif" font-size="8.7" text-anchor="end" fill="#000"  stroke="#000" stroke-width="0.18">−4.5</text>
<text transform="translate(272.8,861.6) scale(1.1,1)" font-family="'Liberation Sans', sans-serif" font-size="8.7" text-anchor="end" fill="#000"  stroke="#000" stroke-width="0.18">−4.0</text>
<text transform="translate(272.8,822.3) scale(1.1,1)" font-family="'Liberation Sans', sans-serif" font-size="8.7" text-anchor="end" fill="#000"  stroke="#000" stroke-width="0.18">−3.5</text>
<text transform="translate(272.8,783) scale(1.1,1)" font-family="'Liberation Sans', sans-serif" font-size="8.7" text-anchor="end" fill="#000"  stroke="#000" stroke-width="0.18">−3.0</text>
<text transform="translate(272.8,743.6) scale(1.1,1)" font-family="'Liberation Sans', sans-serif" font-size="8.7" text-anchor="end" fill="#000"  stroke="#000" stroke-width="0.18">−2.5</text>
<text transform="translate(382,916.3) scale(1,1)" font-family="'Liberation Sans', sans-serif" font-size="9.2" text-anchor="middle" fill="#000"  stroke="#000" stroke-width="0.18">Radius (kpc)</text>
<text transform="translate(251,819) rotate(-90) scale(1,1)" font-family="'Liberation Sans', sans-serif" font-size="9.2" text-anchor="middle" fill="#000"  stroke="#000" stroke-width="0.18">Ioniztion Parameter (log <tspan font-style="italic">q</tspan>)</text>
<text transform="translate(382,737) scale(1,1)" font-family="'Liberation Sans', sans-serif" font-size="9.2" text-anchor="middle" fill="#000"  stroke="#000" stroke-width="0.18">Ioniztion Parameter gradient</text>
<clipPath id="c15"><rect x="532.8" y="740.5" width="214.6" height="157.4"/></clipPath>
<g clip-path="url(#c15)">
<polygon points="532.8,855.2 747.4,722.5 747.4,742.7 532.8,861" fill="#f8c8f8" stroke="none" stroke-width="1" />
<polygon points="586.4,849.8 747.4,845.3 747.4,850.2 586.4,852.9" fill="#c8c8c8" stroke="none" stroke-width="1" />
<path d="M534.4 854.7V851.1M538.2 855.6V850.2M543.5 856.1V847.1M548.9 858.3V844.8M554.3 857.9V847.1M559.6 856.1V847.1M563.4 856.5V843M567.7 858.8V845.3M572 858.8V845.3M577.3 857.4V846.6M581.6 856.5V849.3M586.4 873.2V846.2" stroke="#808080" stroke-width="1" fill="none" />
<polyline points="534.4,852.9 538.2,852.9 543.5,851.6 548.9,851.6 554.3,852.5 559.6,851.6 563.4,849.8 567.7,852 572,852 577.3,852 581.6,852.9 586.4,859.7" fill="none" stroke="#808080" stroke-width="1.1" stroke-linejoin="round" />
<path d="M534.4 850.1l2 2.8l-2 2.8l-2 -2.8zM538.2 850.1l2 2.8l-2 2.8l-2 -2.8zM543.5 848.8l2 2.8l-2 2.8l-2 -2.8zM548.9 848.8l2 2.8l-2 2.8l-2 -2.8zM554.3 849.7l2 2.8l-2 2.8l-2 -2.8zM559.6 848.8l2 2.8l-2 2.8l-2 -2.8zM563.4 847l2 2.8l-2 2.8l-2 -2.8zM567.7 849.2l2 2.8l-2 2.8l-2 -2.8zM572 849.2l2 2.8l-2 2.8l-2 -2.8zM577.3 849.2l2 2.8l-2 2.8l-2 -2.8zM581.6 850.1l2 2.8l-2 2.8l-2 -2.8zM586.4 856.9l2 2.8l-2 2.8l-2 -2.8z" fill="#777"/>
</g>
<line x1="719.5" y1="740.5" x2="719.5" y2="897.9" stroke="#808080" stroke-width="1" stroke-dasharray="3,2"/>
<line x1="725.9" y1="772" x2="725.9" y2="812.5" stroke="#000" stroke-width="1.1" />
<line x1="723.4" y1="772" x2="728.4" y2="772" stroke="#000" stroke-width="1.1" />
<line x1="723.4" y1="812.5" x2="728.4" y2="812.5" stroke="#000" stroke-width="1.1" />
<rect x="723.7" y="787.8" width="4.4" height="4.4" fill="#1f77b4" stroke="none" stroke-width="1" />
<rect x="535.8" y="743.8" width="89" height="43.4" rx="2" fill="rgba(255,255,255,0.82)" stroke="#e0e0e0" stroke-width="0.6"/>
<line x1="539.4" y1="748.8" x2="553.2" y2="748.8" stroke="#888" stroke-width="1.1" />
<line x1="546.3" y1="745.3" x2="546.3" y2="752.3" stroke="#888" stroke-width="0.9" />
<path d="M546.3 746.3l1.6 2.5l-1.6 2.5l-1.6 -2.5z" fill="#777"/>
<text transform="translate(558.9,751.7) scale(1,1)" font-family="'Liberation Sans', sans-serif" font-size="8.1" text-anchor="start" fill="#000"  stroke="#000" stroke-width="0.18">MaNGa (data)</text>
<rect x="539.4" y="756.4" width="13.8" height="5.2" fill="#c4c4c4" stroke="none" stroke-width="1" />
<text transform="translate(558.9,761.9) scale(1,1)" font-family="'Liberation Sans', sans-serif" font-size="8.1" text-anchor="start" fill="#000"  stroke="#000" stroke-width="0.18">Linear Fit</text>
<rect x="539.4" y="766.5" width="13.8" height="5.2" fill="#f8c8f8" stroke="none" stroke-width="1" />
<text transform="translate(558.9,772) scale(1,1)" font-family="'Liberation Sans', sans-serif" font-size="8.1" text-anchor="start" fill="#000"  stroke="#000" stroke-width="0.18">Linear Fit (QA)</text>
<line x1="546.3" y1="776" x2="546.3" y2="784" stroke="#000" stroke-width="1.1" />
<line x1="544.3" y1="776" x2="548.3" y2="776" stroke="#000" stroke-width="1.1" />
<line x1="544.3" y1="784" x2="548.3" y2="784" stroke="#000" stroke-width="1.1" />
<rect x="544.5" y="778.2" width="3.6" height="3.6" fill="#1f77b4" stroke="none" stroke-width="1" />
<text transform="translate(558.9,782.9) scale(1,1)" font-family="'Liberation Sans', sans-serif" font-size="8.1" text-anchor="start" fill="#000"  stroke="#000" stroke-width="0.18">QSO abs. (Comp.)</text>
<rect x="532.8" y="740.5" width="214.6" height="157.4" fill="none" stroke="#000" stroke-width="1.2"/>
<path d="M532.8 897.9V893.9M532.8 740.5V744.5M586.4 897.9V893.9M586.4 740.5V744.5M640.1 897.9V893.9M640.1 740.5V744.5M693.8 897.9V893.9M693.8 740.5V744.5M747.4 897.9V893.9M747.4 740.5V744.5M532.8 897.9V895.7M532.8 740.5V742.7M559.6 897.9V895.7M559.6 740.5V742.7M586.4 897.9V895.7M586.4 740.5V742.7M613.3 897.9V895.7M613.3 740.5V742.7M640.1 897.9V895.7M640.1 740.5V742.7M666.9 897.9V895.7M666.9 740.5V742.7M693.8 897.9V895.7M693.8 740.5V742.7M720.6 897.9V895.7M720.6 740.5V742.7M747.4 897.9V895.7M747.4 740.5V742.7M532.8 875.4H536.8M747.4 875.4H743.4M532.8 830.4H536.8M747.4 830.4H743.4M532.8 785.5H536.8M747.4 785.5H743.4M532.8 740.5H536.8M747.4 740.5H743.4M532.8 893.4H535M747.4 893.4H745.2M532.8 884.4H535M747.4 884.4H745.2M532.8 875.4H535M747.4 875.4H745.2M532.8 866.4H535M747.4 866.4H745.2M532.8 857.4H535M747.4 857.4H745.2M532.8 848.4H535M747.4 848.4H745.2M532.8 839.4H535M747.4 839.4H745.2M532.8 830.4H535M747.4 830.4H745.2M532.8 821.4H535M747.4 821.4H745.2M532.8 812.5H535M747.4 812.5H745.2M532.8 803.5H535M747.4 803.5H745.2M532.8 794.5H535M747.4 794.5H745.2M532.8 785.5H535M747.4 785.5H745.2M532.8 776.5H535M747.4 776.5H745.2M532.8 767.5H535M747.4 767.5H745.2M532.8 758.5H535M747.4 758.5H745.2M532.8 749.5H535M747.4 749.5H745.2M532.8 740.5H535M747.4 740.5H745.2" stroke="#000" stroke-width="1" fill="none" />
<text transform="translate(532.8,907.5) scale(1.1,1)" font-family="'Liberation Sans', sans-serif" font-size="8.7" text-anchor="middle" fill="#000"  stroke="#000" stroke-width="0.18">0</text>
<text transform="translate(586.4,907.5) scale(1.1,1)" font-family="'Liberation Sans', sans-serif" font-size="8.7" text-anchor="middle" fill="#000"  stroke="#000" stroke-width="0.18">10</text>
<text transform="translate(640.1,907.5) scale(1.1,1)" font-family="'Liberation Sans', sans-serif" font-size="8.7" text-anchor="middle" fill="#000"  stroke="#000" stroke-width="0.18">20</text>
<text transform="translate(693.8,907.5) scale(1.1,1)" font-family="'Liberation Sans', sans-serif" font-size="8.7" text-anchor="middle" fill="#000"  stroke="#000" stroke-width="0.18">30</text>
<text transform="translate(747.4,907.5) scale(1.1,1)" font-family="'Liberation Sans', sans-serif" font-size="8.7" text-anchor="middle" fill="#000"  stroke="#000" stroke-width="0.18">40</text>
<text transform="translate(531,878.5) scale(1.1,1)" font-family="'Liberation Sans', sans-serif" font-size="8.7" text-anchor="end" fill="#000"  stroke="#000" stroke-width="0.18">−4</text>
<text transform="translate(531,833.5) scale(1.1,1)" font-family="'Liberation Sans', sans-serif" font-size="8.7" text-anchor="end" fill="#000"  stroke="#000" stroke-width="0.18">−3</text>
<text transform="translate(531,788.6) scale(1.1,1)" font-family="'Liberation Sans', sans-serif" font-size="8.7" text-anchor="end" fill="#000"  stroke="#000" stroke-width="0.18">−2</text>
<text transform="translate(531,743.6) scale(1.1,1)" font-family="'Liberation Sans', sans-serif" font-size="8.7" text-anchor="end" fill="#000"  stroke="#000" stroke-width="0.18">−1</text>
<text transform="translate(640,917) scale(1,1)" font-family="'Liberation Sans', sans-serif" font-size="9.2" text-anchor="middle" fill="#000"  stroke="#000" stroke-width="0.18">Radius (kpc)</text>
<text transform="translate(514.5,819) rotate(-90) scale(1,1)" font-family="'Liberation Sans', sans-serif" font-size="9.2" text-anchor="middle" fill="#000"  stroke="#000" stroke-width="0.18">Ioniztion Parameter</text>
<text transform="translate(640,737) scale(1,1)" font-family="'Liberation Sans', sans-serif" font-size="9.2" text-anchor="middle" fill="#000"  stroke="#000" stroke-width="0.18">Comparison with <tspan font-style="italic">q</tspan> in absorption system</text>
</svg></body></html>
